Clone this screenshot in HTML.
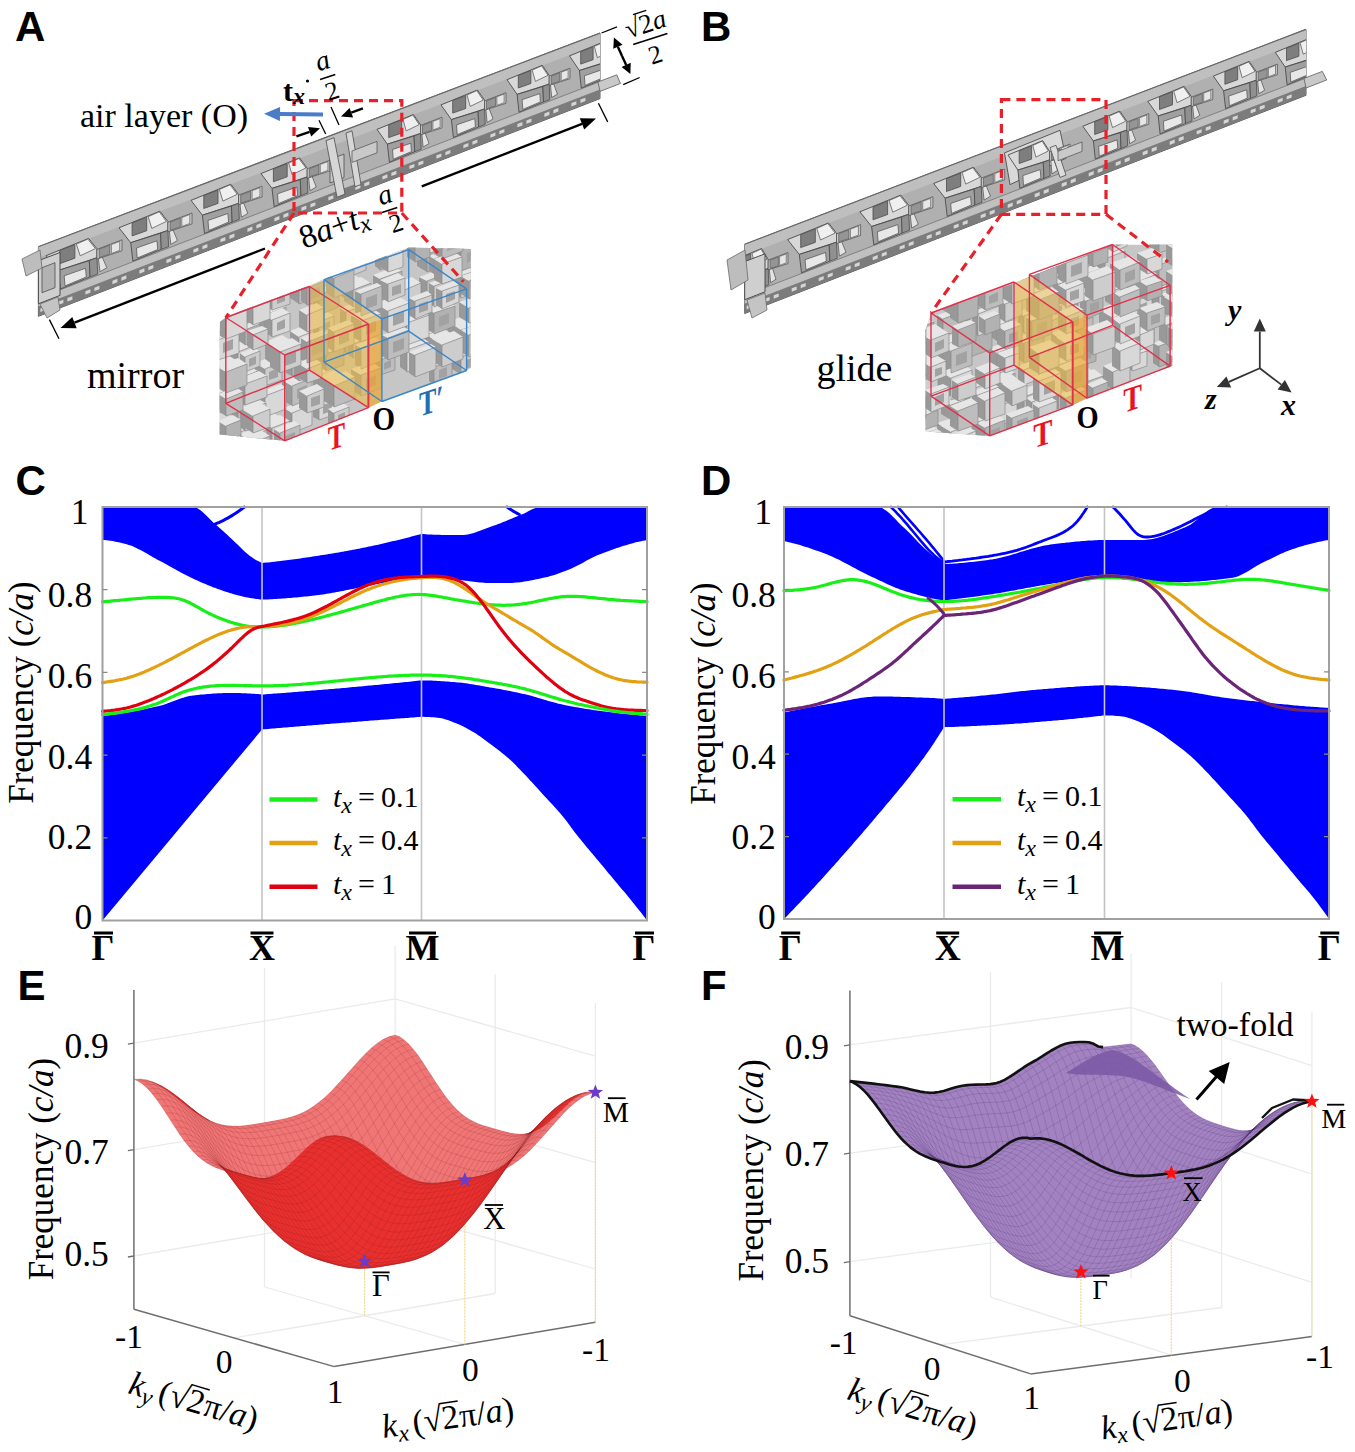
<!DOCTYPE html>
<html><head><meta charset="utf-8"><title>Figure</title>
<style>html,body{margin:0;padding:0;background:#fff;} svg{display:block;}</style>
</head><body>
<svg width="1355" height="1452" viewBox="0 0 1355 1452"><path d="M102.5 507L104.5 507L106.5 507L108.6 507L110.6 507L112.6 507L114.6 507L116.6 507L118.7 507L120.7 507L122.7 507L124.7 507L126.7 507L128.7 507L130.8 507L132.8 507L134.8 507L136.8 507L138.8 507L140.9 507L142.9 507L144.9 507L146.9 507L148.9 507L151 507L153 507L155 507L157 507L159 507L161.1 507L163.1 507L165.1 507L167.1 507L169.1 507L171.1 507L173.2 507L175.2 507L177.2 507L179.2 507L181.2 507L183.3 507L185.3 507L187.3 507L189.3 507L191.3 507L193.4 507L195.4 507.4L197.4 508.3L199.4 509.5L201.4 511L203.4 512.8L205.5 514.7L207.5 516.7L209.5 518.8L211.5 520.8L213.5 522.7L215.6 524.5L217.6 526.2L219.6 528L221.6 529.8L223.6 531.6L225.7 533.4L227.7 535.3L229.7 537.2L231.7 539.1L233.7 541L235.8 542.9L237.8 544.7L239.8 546.7L241.8 548.7L243.8 550.7L245.8 552.6L247.9 554.3L249.9 555.9L251.9 557.3L253.9 558.7L255.9 559.9L258 561.1L260 562.1L262 563L264 562.8L266 562.6L268.1 562.4L270.1 562.2L272.1 561.9L274.1 561.7L276.1 561.5L278.2 561.3L280.2 561L282.2 560.8L284.2 560.5L286.2 560.3L288.2 560L290.3 559.7L292.3 559.5L294.3 559.2L296.3 558.9L298.3 558.7L300.4 558.4L302.4 558.1L304.4 557.8L306.4 557.5L308.4 557.2L310.5 556.9L312.5 556.6L314.5 556.3L316.5 556L318.5 555.7L320.6 555.3L322.6 555L324.6 554.7L326.6 554.4L328.6 554L330.6 553.7L332.7 553.4L334.7 553L336.7 552.7L338.7 552.4L340.7 552L342.8 551.7L344.8 551.3L346.8 550.9L348.8 550.6L350.8 550.2L352.9 549.8L354.9 549.4L356.9 549.1L358.9 548.7L360.9 548.3L362.9 547.8L365 547.4L367 547L369 546.6L371 546.2L373 545.7L375.1 545.3L377.1 544.9L379.1 544.4L381.1 544L383.1 543.5L385.2 543L387.2 542.6L389.2 542.1L391.2 541.6L393.2 541.1L395.3 540.7L397.3 540.2L399.3 539.7L401.3 539.2L403.3 538.7L405.3 538.2L407.4 537.7L409.4 537.2L411.4 536.6L413.4 536.1L415.4 535.6L417.5 535.1L419.5 534.5L421.5 534L423.5 534.1L425.5 534.3L427.5 534.4L429.6 534.5L431.6 534.6L433.6 534.7L435.6 534.7L437.6 534.8L439.6 534.8L441.6 534.9L443.6 534.9L445.7 534.9L447.7 535L449.7 535L451.7 535L453.7 535L455.7 535L457.7 535L459.8 535L461.8 535L463.8 534.9L465.8 534.7L467.8 534.4L469.8 534L471.8 533.5L473.8 532.9L475.9 532.3L477.9 531.6L479.9 530.8L481.9 530.1L483.9 529.3L485.9 528.5L487.9 527.7L490 527L492 526.3L494 525.6L496 524.9L498 524.1L500 523.4L502 522.6L504 521.8L506.1 520.9L508.1 520.1L510.1 519.3L512.1 518.4L514.1 517.6L516.1 516.7L518.1 515.9L520.2 515.1L522.2 514.3L524.2 513.4L526.2 512.4L528.2 511.3L530.2 510.3L532.2 509.3L534.2 508.4L536.3 507.7L538.3 507.2L540.3 507L542.3 507L544.3 507L546.3 507L548.3 507L550.4 507L552.4 507L554.4 507L556.4 507L558.4 507L560.4 507L562.4 507L564.5 507L566.5 507L568.5 507L570.5 507L572.5 507L574.5 507L576.5 507L578.5 507L580.6 507L582.6 507L584.6 507L586.6 507L588.6 507L590.6 507L592.6 507L594.7 507L596.7 507L598.7 507L600.7 507L602.7 507L604.7 507L606.7 507L608.7 507L610.8 507L612.8 507L614.8 507L616.8 507L618.8 507L620.8 507L622.8 507L624.9 507L626.9 507L628.9 507L630.9 507L632.9 507L634.9 507L636.9 507L638.9 507L641 507L643 507L645 507L647 507L647 540L645 540.4L643 540.8L641 541.2L638.9 541.7L636.9 542.1L634.9 542.6L632.9 543.2L630.9 543.7L628.9 544.3L626.9 544.9L624.9 545.5L622.8 546.1L620.8 546.7L618.8 547.4L616.8 548.1L614.8 548.8L612.8 549.5L610.8 550.2L608.7 550.9L606.7 551.7L604.7 552.4L602.7 553.2L600.7 554L598.7 554.7L596.7 555.5L594.7 556.4L592.6 557.4L590.6 558.4L588.6 559.5L586.6 560.6L584.6 561.7L582.6 562.9L580.6 564L578.5 565.1L576.5 566.1L574.5 567.1L572.5 568.1L570.5 568.9L568.5 569.7L566.5 570.5L564.5 571.3L562.4 572.1L560.4 572.8L558.4 573.5L556.4 574.2L554.4 574.9L552.4 575.5L550.4 576.1L548.3 576.7L546.3 577.2L544.3 577.6L542.3 578.1L540.3 578.5L538.3 578.9L536.3 579.3L534.2 579.8L532.2 580.2L530.2 580.6L528.2 580.9L526.2 581.3L524.2 581.6L522.2 581.9L520.2 582.2L518.1 582.4L516.1 582.6L514.1 582.8L512.1 582.9L510.1 583L508.1 583L506.1 583L504 583L502 583L500 583L498 583L496 583L494 583L492 583L490 583L487.9 583L485.9 582.9L483.9 582.8L481.9 582.6L479.9 582.5L477.9 582.3L475.9 582.1L473.8 581.8L471.8 581.6L469.8 581.3L467.8 581.1L465.8 580.8L463.8 580.5L461.8 580.3L459.8 580L457.7 579.8L455.7 579.5L453.7 579.3L451.7 579.1L449.7 578.8L447.7 578.6L445.7 578.3L443.6 578.1L441.6 577.8L439.6 577.6L437.6 577.3L435.6 577L433.6 576.7L431.6 576.5L429.6 576.2L427.5 575.9L425.5 575.6L423.5 575.3L421.5 575L419.5 575.4L417.5 575.9L415.4 576.3L413.4 576.7L411.4 577.2L409.4 577.6L407.4 578L405.3 578.4L403.3 578.9L401.3 579.3L399.3 579.7L397.3 580.1L395.3 580.5L393.2 580.9L391.2 581.3L389.2 581.7L387.2 582.1L385.2 582.6L383.1 583L381.1 583.3L379.1 583.7L377.1 584.1L375.1 584.5L373 584.9L371 585.3L369 585.7L367 586.1L365 586.5L362.9 586.9L360.9 587.3L358.9 587.7L356.9 588.1L354.9 588.5L352.9 588.9L350.8 589.3L348.8 589.7L346.8 590.1L344.8 590.5L342.8 590.9L340.7 591.3L338.7 591.7L336.7 592.1L334.7 592.4L332.7 592.8L330.6 593.2L328.6 593.5L326.6 593.8L324.6 594.2L322.6 594.5L320.6 594.8L318.5 595L316.5 595.3L314.5 595.6L312.5 595.8L310.5 596L308.4 596.2L306.4 596.4L304.4 596.6L302.4 596.8L300.4 597L298.3 597.2L296.3 597.4L294.3 597.6L292.3 597.8L290.3 597.9L288.2 598.1L286.2 598.3L284.2 598.4L282.2 598.6L280.2 598.7L278.2 598.8L276.1 599L274.1 599.1L272.1 599.2L270.1 599.3L268.1 599.4L266 599.5L264 599.5L262 599.6L260 599.4L258 599.1L255.9 598.9L253.9 598.6L251.9 598.3L249.9 597.9L247.9 597.5L245.8 597.2L243.8 596.8L241.8 596.3L239.8 595.8L237.8 595.3L235.8 594.8L233.7 594.2L231.7 593.6L229.7 593L227.7 592.3L225.7 591.7L223.6 591L221.6 590.3L219.6 589.6L217.6 588.9L215.6 588.1L213.5 587.4L211.5 586.6L209.5 585.8L207.5 584.9L205.5 584.1L203.4 583.2L201.4 582.4L199.4 581.5L197.4 580.6L195.4 579.7L193.4 578.8L191.3 577.8L189.3 576.8L187.3 575.8L185.3 574.8L183.3 573.7L181.2 572.7L179.2 571.6L177.2 570.4L175.2 569.3L173.2 568.2L171.1 567.1L169.1 565.9L167.1 564.8L165.1 563.7L163.1 562.6L161.1 561.6L159 560.5L157 559.4L155 558.3L153 557.2L151 556L148.9 554.8L146.9 553.6L144.9 552.5L142.9 551.3L140.9 550.2L138.8 549.2L136.8 548.2L134.8 547.2L132.8 546.3L130.8 545.6L128.7 544.9L126.7 544.3L124.7 543.8L122.7 543.3L120.7 542.8L118.7 542.3L116.6 541.9L114.6 541.5L112.6 541.1L110.6 540.8L108.6 540.5L106.5 540.3L104.5 540.1L102.5 540Z" fill="#0000ff" stroke="none"/>
<path d="M213 525L215.1 524.1L217.2 523.2L219.3 522.3L221.4 521.3L223.5 520.3L225.6 519.2L227.7 518.1L229.8 516.9L231.9 515.6L234 514.3L236.1 512.9L238.2 511.5L240.3 510L242.4 508.5L244.5 507" fill="none" stroke="#0000ff" stroke-width="3" stroke-linejoin="round" stroke-linecap="round" />
<path d="M507 507L509.1 508.4L511.1 509.8L513.1 511.1L515.2 512.3L517.2 513.4L519.3 514.5" fill="none" stroke="#0000ff" stroke-width="3" stroke-linejoin="round" stroke-linecap="round" />
<path d="M102.5 715.8L104.5 715.6L106.5 715.4L108.6 715.2L110.6 714.9L112.6 714.7L114.6 714.4L116.6 714.2L118.7 713.9L120.7 713.6L122.7 713.2L124.7 712.9L126.7 712.6L128.7 712.2L130.8 711.8L132.8 711.5L134.8 711.1L136.8 710.7L138.8 710.3L140.9 709.9L142.9 709.5L144.9 709.1L146.9 708.6L148.9 708.2L151 707.7L153 707.3L155 706.8L157 706.4L159 705.9L161.1 705.4L163.1 704.9L165.1 704.3L167.1 703.6L169.1 702.8L171.1 702.1L173.2 701.3L175.2 700.5L177.2 699.8L179.2 699L181.2 698.3L183.3 697.7L185.3 697L187.3 696.5L189.3 696.1L191.3 695.7L193.4 695.4L195.4 695.2L197.4 695L199.4 694.8L201.4 694.6L203.4 694.4L205.5 694.2L207.5 694L209.5 693.9L211.5 693.7L213.5 693.6L215.6 693.5L217.6 693.3L219.6 693.2L221.6 693.2L223.6 693.1L225.7 693L227.7 693L229.7 693L231.7 693L233.7 693L235.8 693L237.8 693.1L239.8 693.1L241.8 693.2L243.8 693.3L245.8 693.3L247.9 693.4L249.9 693.6L251.9 693.7L253.9 693.8L255.9 694L258 694.1L260 694.3L262 694.5L264 694.4L266 694.2L268.1 694.1L270.1 693.9L272.1 693.8L274.1 693.6L276.1 693.5L278.2 693.3L280.2 693.2L282.2 693L284.2 692.9L286.2 692.7L288.2 692.5L290.3 692.4L292.3 692.2L294.3 692.1L296.3 691.9L298.3 691.7L300.4 691.6L302.4 691.4L304.4 691.3L306.4 691.1L308.4 690.9L310.5 690.8L312.5 690.6L314.5 690.4L316.5 690.3L318.5 690.1L320.6 689.9L322.6 689.8L324.6 689.6L326.6 689.4L328.6 689.3L330.6 689.1L332.7 688.9L334.7 688.7L336.7 688.6L338.7 688.4L340.7 688.2L342.8 688L344.8 687.9L346.8 687.7L348.8 687.5L350.8 687.3L352.9 687.1L354.9 686.9L356.9 686.8L358.9 686.6L360.9 686.4L362.9 686.2L365 686L367 685.8L369 685.6L371 685.4L373 685.3L375.1 685.1L377.1 684.9L379.1 684.7L381.1 684.5L383.1 684.3L385.2 684.1L387.2 683.9L389.2 683.7L391.2 683.5L393.2 683.3L395.3 683.1L397.3 682.9L399.3 682.7L401.3 682.5L403.3 682.3L405.3 682.1L407.4 681.9L409.4 681.7L411.4 681.5L413.4 681.2L415.4 681L417.5 680.8L419.5 680.6L421.5 680.4L423.5 680.4L425.5 680.5L427.5 680.5L429.6 680.6L431.6 680.6L433.6 680.7L435.6 680.8L437.6 680.9L439.6 681.1L441.6 681.2L443.6 681.3L445.7 681.5L447.7 681.6L449.7 681.8L451.7 681.9L453.7 682.1L455.7 682.2L457.7 682.4L459.8 682.6L461.8 682.8L463.8 683.1L465.8 683.3L467.8 683.6L469.8 683.9L471.8 684.2L473.8 684.6L475.9 684.9L477.9 685.2L479.9 685.6L481.9 685.9L483.9 686.3L485.9 686.7L487.9 687L490 687.4L492 687.7L494 688.1L496 688.4L498 688.8L500 689.1L502 689.5L504 689.9L506.1 690.3L508.1 690.7L510.1 691.1L512.1 691.5L514.1 691.9L516.1 692.3L518.1 692.8L520.2 693.2L522.2 693.7L524.2 694.1L526.2 694.6L528.2 695.1L530.2 695.6L532.2 696.1L534.2 696.7L536.3 697.3L538.3 697.9L540.3 698.5L542.3 699.1L544.3 699.7L546.3 700.3L548.3 700.9L550.4 701.5L552.4 702.1L554.4 702.6L556.4 703.1L558.4 703.7L560.4 704.1L562.4 704.6L564.5 705L566.5 705.4L568.5 705.8L570.5 706.2L572.5 706.6L574.5 706.9L576.5 707.3L578.5 707.6L580.6 708L582.6 708.3L584.6 708.7L586.6 709L588.6 709.3L590.6 709.6L592.6 709.9L594.7 710.2L596.7 710.4L598.7 710.7L600.7 711L602.7 711.2L604.7 711.5L606.7 711.8L608.7 712L610.8 712.3L612.8 712.5L614.8 712.8L616.8 713L618.8 713.2L620.8 713.5L622.8 713.7L624.9 713.9L626.9 714.1L628.9 714.3L630.9 714.5L632.9 714.7L634.9 714.9L636.9 715.1L638.9 715.3L641 715.4L643 715.6L645 715.8L647 715.9L647 920.5L645 917.8L643 915.2L641 912.6L638.9 910L636.9 907.5L634.9 904.9L632.9 902.4L630.9 899.9L628.9 897.5L626.9 895L624.9 892.6L622.8 890.3L620.8 887.9L618.8 885.5L616.8 883.1L614.8 880.7L612.8 878.3L610.8 875.8L608.7 873.4L606.7 871L604.7 868.6L602.7 866.1L600.7 863.7L598.7 861.3L596.7 858.9L594.7 856.5L592.6 854.1L590.6 851.7L588.6 849.3L586.6 846.9L584.6 844.5L582.6 842.1L580.6 839.6L578.5 837.1L576.5 834.5L574.5 831.9L572.5 829.2L570.5 826.5L568.5 823.8L566.5 821.1L564.5 818.5L562.4 816L560.4 813.6L558.4 811.3L556.4 809L554.4 806.8L552.4 804.6L550.4 802.5L548.3 800.3L546.3 798.1L544.3 795.9L542.3 793.7L540.3 791.5L538.3 789.3L536.3 787L534.2 784.8L532.2 782.6L530.2 780.4L528.2 778.2L526.2 776.1L524.2 774L522.2 771.9L520.2 769.7L518.1 767.7L516.1 765.6L514.1 763.6L512.1 761.6L510.1 759.7L508.1 757.9L506.1 756.2L504 754.5L502 752.9L500 751.3L498 749.7L496 748.2L494 746.7L492 745.2L490 743.7L487.9 742.2L485.9 740.7L483.9 739.2L481.9 737.7L479.9 736.3L477.9 734.9L475.9 733.6L473.8 732.3L471.8 731.2L469.8 730L467.8 728.9L465.8 727.8L463.8 726.7L461.8 725.7L459.8 724.8L457.7 723.9L455.7 723.1L453.7 722.4L451.7 721.6L449.7 720.8L447.7 720.1L445.7 719.4L443.6 718.8L441.6 718.3L439.6 717.9L437.6 717.7L435.6 717.5L433.6 717.3L431.6 717.2L429.6 717.1L427.5 717L425.5 716.9L423.5 716.8L421.5 716.8L419.5 716.9L417.5 717.1L415.4 717.2L413.4 717.4L411.4 717.6L409.4 717.7L407.4 717.9L405.3 718L403.3 718.2L401.3 718.3L399.3 718.5L397.3 718.6L395.3 718.8L393.2 718.9L391.2 719.1L389.2 719.2L387.2 719.4L385.2 719.5L383.1 719.7L381.1 719.8L379.1 720L377.1 720.2L375.1 720.3L373 720.5L371 720.6L369 720.8L367 720.9L365 721.1L362.9 721.3L360.9 721.4L358.9 721.6L356.9 721.7L354.9 721.9L352.9 722L350.8 722.2L348.8 722.4L346.8 722.5L344.8 722.7L342.8 722.8L340.7 723L338.7 723.2L336.7 723.3L334.7 723.5L332.7 723.6L330.6 723.8L328.6 724L326.6 724.1L324.6 724.3L322.6 724.5L320.6 724.6L318.5 724.8L316.5 725L314.5 725.1L312.5 725.3L310.5 725.4L308.4 725.6L306.4 725.8L304.4 725.9L302.4 726.1L300.4 726.3L298.3 726.4L296.3 726.6L294.3 726.8L292.3 726.9L290.3 727.1L288.2 727.3L286.2 727.5L284.2 727.6L282.2 727.8L280.2 728L278.2 728.1L276.1 728.3L274.1 728.5L272.1 728.6L270.1 728.8L268.1 729L266 729.2L264 729.3L262 729.5L102.5 920.5Z" fill="#0000ff" stroke="none"/>
<line x1="262" y1="507" x2="262" y2="920.5" stroke="#c4c4c4" stroke-width="1.6"/>
<line x1="421.5" y1="507" x2="421.5" y2="920.5" stroke="#c4c4c4" stroke-width="1.6"/>
<path d="M102.5 601.8L104.5 601.6L106.5 601.4L108.5 601.3L110.5 601.1L112.5 600.9L114.5 600.7L116.5 600.5L118.5 600.3L120.5 600.2L122.5 600L124.5 599.8L126.5 599.6L128.5 599.4L130.5 599.2L132.5 599L134.5 598.8L136.5 598.7L138.5 598.5L140.5 598.3L142.5 598.2L144.5 598L146.5 597.9L148.5 597.7L150.5 597.6L152.5 597.5L154.5 597.5L156.5 597.4L158.6 597.4L160.6 597.3L162.6 597.3L164.6 597.4L166.6 597.4L168.6 597.5L170.6 597.6L172.6 597.8L174.6 598L176.6 598.3L178.6 598.7L180.6 599.2L182.6 599.9L184.6 600.6L186.6 601.4L188.6 602.3L190.6 603.3L192.6 604.4L194.6 605.5L196.6 606.6L198.6 607.7L200.6 608.9L202.6 610L204.6 611.1L206.6 612.1L208.6 613.2L210.6 614.1L212.6 615.1L214.6 616L216.6 616.9L218.6 617.7L220.6 618.6L222.6 619.3L224.6 620.1L226.6 620.8L228.6 621.5L230.6 622.2L232.6 622.8L234.6 623.4L236.6 623.9L238.6 624.4L240.6 624.9L242.6 625.3L244.6 625.7L246.6 626L248.6 626.3L250.6 626.5L252.6 626.7L254.6 626.8L256.6 626.9L258.6 627L260.6 627L262.6 627L264.6 627L266.7 626.9L268.7 626.8L270.7 626.7L272.7 626.5L274.7 626.4L276.7 626.2L278.7 625.9L280.7 625.7L282.7 625.4L284.7 625.1L286.7 624.8L288.7 624.5L290.7 624.2L292.7 623.8L294.7 623.4L296.7 623L298.7 622.6L300.7 622.2L302.7 621.8L304.7 621.3L306.7 620.9L308.7 620.4L310.7 620L312.7 619.5L314.7 619L316.7 618.5L318.7 618L320.7 617.5L322.7 617L324.7 616.5L326.7 615.9L328.7 615.4L330.7 614.9L332.7 614.3L334.7 613.8L336.7 613.3L338.7 612.7L340.7 612.1L342.7 611.6L344.7 611L346.7 610.5L348.7 609.9L350.7 609.3L352.7 608.8L354.7 608.2L356.7 607.6L358.7 607L360.7 606.5L362.7 605.9L364.7 605.3L366.7 604.7L368.7 604.2L370.7 603.6L372.7 603L374.8 602.4L376.8 601.9L378.8 601.3L380.8 600.7L382.8 600.2L384.8 599.7L386.8 599.1L388.8 598.6L390.8 598.2L392.8 597.7L394.8 597.3L396.8 596.8L398.8 596.5L400.8 596.1L402.8 595.8L404.8 595.5L406.8 595.2L408.8 595L410.8 594.8L412.8 594.6L414.8 594.5L416.8 594.5L418.8 594.4L420.8 594.5L422.8 594.6L424.8 594.7L426.8 594.9L428.8 595.1L430.8 595.3L432.8 595.6L434.8 595.9L436.8 596.2L438.8 596.6L440.8 596.9L442.8 597.3L444.8 597.7L446.8 598L448.8 598.4L450.8 598.8L452.8 599.1L454.8 599.5L456.8 599.8L458.8 600.2L460.8 600.5L462.8 600.9L464.8 601.2L466.8 601.5L468.8 601.8L470.8 602.2L472.8 602.5L474.8 602.8L476.8 603L478.8 603.3L480.8 603.6L482.8 603.8L484.9 604.1L486.9 604.3L488.9 604.5L490.9 604.7L492.9 604.8L494.9 605L496.9 605.1L498.9 605.2L500.9 605.2L502.9 605.3L504.9 605.3L506.9 605.2L508.9 605.2L510.9 605.1L512.9 605L514.9 604.8L516.9 604.6L518.9 604.4L520.9 604.2L522.9 603.9L524.9 603.6L526.9 603.3L528.9 602.9L530.9 602.6L532.9 602.2L534.9 601.8L536.9 601.3L538.9 600.9L540.9 600.5L542.9 600.1L544.9 599.6L546.9 599.2L548.9 598.8L550.9 598.4L552.9 598.1L554.9 597.7L556.9 597.4L558.9 597.2L560.9 596.9L562.9 596.7L564.9 596.6L566.9 596.4L568.9 596.3L570.9 596.3L572.9 596.3L574.9 596.3L576.9 596.4L578.9 596.5L580.9 596.6L582.9 596.7L584.9 596.9L586.9 597.1L588.9 597.3L590.9 597.5L593 597.7L595 597.9L597 598.1L599 598.3L601 598.5L603 598.7L605 598.9L607 599.2L609 599.4L611 599.6L613 599.7L615 599.9L617 600.1L619 600.2L621 600.4L623 600.5L625 600.6L627 600.7L629 600.8L631 600.9L633 601L635 601.1L637 601.2L639 601.3L641 601.4L643 601.5L645 601.5L647 601.6" fill="none" stroke="#18ee18" stroke-width="3.2" stroke-linejoin="round" stroke-linecap="round" />
<path d="M102.5 682.6L104.5 682.3L106.5 682L108.5 681.7L110.5 681.4L112.5 681.1L114.5 680.8L116.5 680.4L118.5 680L120.5 679.6L122.5 679.2L124.5 678.7L126.5 678.2L128.5 677.6L130.5 677L132.5 676.4L134.5 675.7L136.5 675L138.5 674.3L140.5 673.5L142.5 672.7L144.5 671.9L146.5 671L148.5 670.1L150.5 669.2L152.5 668.3L154.5 667.4L156.5 666.4L158.6 665.4L160.6 664.4L162.6 663.4L164.6 662.4L166.6 661.3L168.6 660.3L170.6 659.2L172.6 658.2L174.6 657.1L176.6 656L178.6 654.9L180.6 653.8L182.6 652.7L184.6 651.7L186.6 650.6L188.6 649.5L190.6 648.4L192.6 647.3L194.6 646.2L196.6 645.2L198.6 644.1L200.6 643.1L202.6 642L204.6 641L206.6 640L208.6 639.1L210.6 638.1L212.6 637.2L214.6 636.3L216.6 635.4L218.6 634.5L220.6 633.7L222.6 632.9L224.6 632.2L226.6 631.5L228.6 630.8L230.6 630.2L232.6 629.6L234.6 629.1L236.6 628.6L238.6 628.2L240.6 627.8L242.6 627.4L244.6 627.2L246.6 626.9L248.6 626.8L250.6 626.7L252.6 626.6L254.6 626.6L256.6 626.5L258.6 626.5L260.6 626.5L262.6 626.5L264.6 626.4L266.7 626.3L268.7 626.2L270.7 626.1L272.7 625.9L274.7 625.7L276.7 625.5L278.7 625.2L280.7 624.9L282.7 624.6L284.7 624.3L286.7 623.9L288.7 623.5L290.7 623.1L292.7 622.6L294.7 622.1L296.7 621.6L298.7 621L300.7 620.4L302.7 619.8L304.7 619.1L306.7 618.4L308.7 617.7L310.7 616.9L312.7 616.1L314.7 615.3L316.7 614.4L318.7 613.6L320.7 612.6L322.7 611.7L324.7 610.8L326.7 609.8L328.7 608.8L330.7 607.8L332.7 606.8L334.7 605.8L336.7 604.7L338.7 603.7L340.7 602.7L342.7 601.6L344.7 600.6L346.7 599.6L348.7 598.5L350.7 597.5L352.7 596.5L354.7 595.5L356.7 594.6L358.7 593.6L360.7 592.7L362.7 591.8L364.7 590.9L366.7 590L368.7 589.2L370.7 588.4L372.7 587.6L374.8 586.9L376.8 586.2L378.8 585.5L380.8 584.9L382.8 584.3L384.8 583.7L386.8 583.2L388.8 582.7L390.8 582.2L392.8 581.7L394.8 581.3L396.8 580.9L398.8 580.5L400.8 580.1L402.8 579.8L404.8 579.5L406.8 579.2L408.8 578.9L410.8 578.7L412.8 578.5L414.8 578.3L416.8 578.1L418.8 577.9L420.8 577.8L422.8 577.6L424.8 577.5L426.8 577.4L428.8 577.4L430.8 577.3L432.8 577.4L434.8 577.5L436.8 577.6L438.8 577.8L440.8 578.1L442.8 578.5L444.8 579L446.8 579.6L448.8 580.2L450.8 581L452.8 581.9L454.8 582.8L456.8 583.8L458.8 584.9L460.8 586.1L462.8 587.4L464.8 588.7L466.8 590L468.8 591.4L470.8 592.8L472.8 594.2L474.8 595.7L476.8 597.1L478.8 598.5L480.8 599.9L482.8 601.3L484.9 602.6L486.9 603.8L488.9 605L490.9 606.2L492.9 607.4L494.9 608.6L496.9 609.7L498.9 610.9L500.9 612.1L502.9 613.3L504.9 614.5L506.9 615.7L508.9 616.9L510.9 618.1L512.9 619.3L514.9 620.5L516.9 621.7L518.9 622.9L520.9 624L522.9 625.2L524.9 626.3L526.9 627.5L528.9 628.7L530.9 629.9L532.9 631.2L534.9 632.5L536.9 633.8L538.9 635.2L540.9 636.6L542.9 638.1L544.9 639.5L546.9 640.9L548.9 642.3L550.9 643.7L552.9 645.1L554.9 646.4L556.9 647.6L558.9 648.8L560.9 650L562.9 651.2L564.9 652.4L566.9 653.5L568.9 654.7L570.9 655.9L572.9 657.1L574.9 658.3L576.9 659.5L578.9 660.7L580.9 661.9L582.9 663.1L584.9 664.3L586.9 665.5L588.9 666.7L590.9 667.8L593 668.9L595 669.9L597 671L599 672L601 672.9L603 673.8L605 674.7L607 675.5L609 676.3L611 677L613 677.7L615 678.3L617 678.9L619 679.4L621 679.8L623 680.3L625 680.6L627 680.9L629 681.2L631 681.4L633 681.6L635 681.7L637 681.9L639 682L641 682L643 682.1L645 682.2L647 682.2" fill="none" stroke="#e2a012" stroke-width="3.2" stroke-linejoin="round" stroke-linecap="round" />
<path d="M102.5 711.4L104.5 711.2L106.5 711L108.5 710.8L110.5 710.6L112.5 710.3L114.5 710.1L116.5 709.8L118.5 709.5L120.5 709.2L122.5 708.8L124.5 708.4L126.5 708L128.5 707.5L130.5 707L132.5 706.4L134.5 705.8L136.5 705.2L138.5 704.5L140.5 703.8L142.5 703.1L144.5 702.3L146.5 701.6L148.5 700.8L150.5 699.9L152.5 699.1L154.5 698.2L156.5 697.3L158.6 696.4L160.6 695.5L162.6 694.5L164.6 693.6L166.6 692.6L168.6 691.6L170.6 690.6L172.6 689.6L174.6 688.5L176.6 687.5L178.6 686.4L180.6 685.3L182.6 684.2L184.6 683.1L186.6 681.9L188.6 680.7L190.6 679.6L192.6 678.3L194.6 677.1L196.6 675.8L198.6 674.5L200.6 673.2L202.6 671.9L204.6 670.5L206.6 669.1L208.6 667.6L210.6 666.1L212.6 664.6L214.6 663L216.6 661.4L218.6 659.7L220.6 658L222.6 656.3L224.6 654.5L226.6 652.7L228.6 650.9L230.6 649L232.6 647.1L234.6 645.1L236.6 643.2L238.6 641.2L240.6 639.2L242.6 637.3L244.6 635.4L246.6 633.7L248.6 632.1L250.6 630.7L252.6 629.5L254.6 628.5L256.6 627.8L258.6 627.3L260.6 626.8L262.6 626.4L264.6 626L266.7 625.5L268.7 625.1L270.7 624.7L272.7 624.3L274.7 623.9L276.7 623.5L278.7 623.1L280.7 622.7L282.7 622.3L284.7 621.8L286.7 621.4L288.7 620.9L290.7 620.4L292.7 619.9L294.7 619.3L296.7 618.8L298.7 618.2L300.7 617.6L302.7 616.9L304.7 616.2L306.7 615.5L308.7 614.7L310.7 613.9L312.7 613.1L314.7 612.2L316.7 611.3L318.7 610.3L320.7 609.3L322.7 608.3L324.7 607.3L326.7 606.3L328.7 605.2L330.7 604.1L332.7 603L334.7 601.9L336.7 600.8L338.7 599.7L340.7 598.6L342.7 597.4L344.7 596.3L346.7 595.2L348.7 594.2L350.7 593.1L352.7 592L354.7 591L356.7 590L358.7 589L360.7 588.1L362.7 587.2L364.7 586.3L366.7 585.4L368.7 584.6L370.7 583.9L372.7 583.2L374.8 582.5L376.8 581.9L378.8 581.4L380.8 580.8L382.8 580.3L384.8 579.9L386.8 579.5L388.8 579.1L390.8 578.8L392.8 578.5L394.8 578.2L396.8 578L398.8 577.7L400.8 577.5L402.8 577.4L404.8 577.2L406.8 577.1L408.8 577L410.8 576.9L412.8 576.8L414.8 576.7L416.8 576.7L418.8 576.6L420.8 576.5L422.8 576.4L424.8 576.4L426.8 576.3L428.8 576.2L430.8 576.2L432.8 576.2L434.8 576.2L436.8 576.2L438.8 576.3L440.8 576.4L442.8 576.6L444.8 576.9L446.8 577.2L448.8 577.6L450.8 578.1L452.8 578.6L454.8 579.3L456.8 580L458.8 580.9L460.8 581.9L462.8 583L464.8 584.3L466.8 585.8L468.8 587.5L470.8 589.4L472.8 591.4L474.8 593.6L476.8 595.9L478.8 598.4L480.8 601L482.8 603.6L484.9 606.4L486.9 609.2L488.9 612L490.9 614.9L492.9 617.7L494.9 620.6L496.9 623.4L498.9 626.2L500.9 628.9L502.9 631.5L504.9 634L506.9 636.5L508.9 638.9L510.9 641.3L512.9 643.6L514.9 645.8L516.9 648L518.9 650.2L520.9 652.3L522.9 654.4L524.9 656.4L526.9 658.4L528.9 660.3L530.9 662.3L532.9 664.2L534.9 666.1L536.9 668L538.9 669.9L540.9 671.7L542.9 673.6L544.9 675.4L546.9 677.2L548.9 678.9L550.9 680.6L552.9 682.3L554.9 683.9L556.9 685.5L558.9 687.1L560.9 688.5L562.9 689.9L564.9 691.3L566.9 692.5L568.9 693.7L570.9 694.8L572.9 695.8L574.9 696.8L576.9 697.6L578.9 698.4L580.9 699.2L582.9 699.9L584.9 700.6L586.9 701.3L588.9 701.9L590.9 702.6L593 703.2L595 703.9L597 704.5L599 705.1L601 705.7L603 706.2L605 706.7L607 707.2L609 707.7L611 708L613 708.4L615 708.7L617 709L619 709.2L621 709.4L623 709.6L625 709.8L627 709.9L629 710.1L631 710.2L633 710.2L635 710.3L637 710.4L639 710.4L641 710.4L643 710.5L645 710.5L647 710.5" fill="none" stroke="#e00010" stroke-width="3.2" stroke-linejoin="round" stroke-linecap="round" />
<path d="M102.5 714.7L104.5 714.5L106.5 714.2L108.5 713.9L110.5 713.7L112.5 713.4L114.5 713.2L116.5 712.9L118.5 712.6L120.5 712.3L122.5 712L124.5 711.7L126.5 711.4L128.5 711L130.5 710.7L132.5 710.3L134.5 709.9L136.5 709.5L138.5 709.1L140.5 708.6L142.5 708.1L144.5 707.6L146.5 707L148.5 706.4L150.5 705.8L152.5 705.1L154.5 704.4L156.5 703.7L158.6 702.9L160.6 702.1L162.6 701.2L164.6 700.3L166.6 699.4L168.6 698.5L170.6 697.5L172.6 696.6L174.6 695.7L176.6 694.8L178.6 693.9L180.6 693.1L182.6 692.3L184.6 691.6L186.6 690.9L188.6 690.3L190.6 689.7L192.6 689.2L194.6 688.7L196.6 688.3L198.6 687.9L200.6 687.5L202.6 687.2L204.6 686.9L206.6 686.6L208.6 686.4L210.6 686.2L212.6 686L214.6 685.9L216.6 685.7L218.6 685.6L220.6 685.5L222.6 685.5L224.6 685.4L226.6 685.4L228.6 685.4L230.6 685.4L232.6 685.4L234.6 685.4L236.6 685.4L238.6 685.5L240.6 685.5L242.6 685.5L244.6 685.6L246.6 685.6L248.6 685.7L250.6 685.7L252.6 685.8L254.6 685.8L256.6 685.8L258.6 685.9L260.6 685.9L262.6 685.9L264.6 685.9L266.7 685.9L268.7 685.9L270.7 685.8L272.7 685.8L274.7 685.7L276.7 685.7L278.7 685.6L280.7 685.5L282.7 685.4L284.7 685.4L286.7 685.3L288.7 685.1L290.7 685L292.7 684.9L294.7 684.8L296.7 684.6L298.7 684.5L300.7 684.4L302.7 684.2L304.7 684L306.7 683.9L308.7 683.7L310.7 683.5L312.7 683.4L314.7 683.2L316.7 683L318.7 682.8L320.7 682.6L322.7 682.4L324.7 682.2L326.7 682L328.7 681.8L330.7 681.6L332.7 681.4L334.7 681.2L336.7 681L338.7 680.8L340.7 680.6L342.7 680.4L344.7 680.2L346.7 680L348.7 679.8L350.7 679.6L352.7 679.4L354.7 679.2L356.7 679L358.7 678.8L360.7 678.6L362.7 678.4L364.7 678.2L366.7 678L368.7 677.8L370.7 677.6L372.7 677.5L374.8 677.3L376.8 677.1L378.8 677L380.8 676.8L382.8 676.7L384.8 676.5L386.8 676.4L388.8 676.2L390.8 676.1L392.8 676L394.8 675.9L396.8 675.8L398.8 675.7L400.8 675.6L402.8 675.5L404.8 675.4L406.8 675.3L408.8 675.3L410.8 675.2L412.8 675.2L414.8 675.1L416.8 675.1L418.8 675.1L420.8 675.1L422.8 675.1L424.8 675.1L426.8 675.2L428.8 675.2L430.8 675.2L432.8 675.3L434.8 675.4L436.8 675.5L438.8 675.6L440.8 675.7L442.8 675.8L444.8 675.9L446.8 676.1L448.8 676.3L450.8 676.4L452.8 676.6L454.8 676.8L456.8 677.1L458.8 677.3L460.8 677.5L462.8 677.8L464.8 678.1L466.8 678.3L468.8 678.6L470.8 678.9L472.8 679.2L474.8 679.6L476.8 679.9L478.8 680.2L480.8 680.5L482.8 680.9L484.9 681.2L486.9 681.5L488.9 681.9L490.9 682.2L492.9 682.5L494.9 682.9L496.9 683.2L498.9 683.6L500.9 683.9L502.9 684.3L504.9 684.6L506.9 685L508.9 685.4L510.9 685.8L512.9 686.2L514.9 686.6L516.9 687L518.9 687.5L520.9 688L522.9 688.4L524.9 688.9L526.9 689.5L528.9 690L530.9 690.6L532.9 691.1L534.9 691.7L536.9 692.3L538.9 692.9L540.9 693.6L542.9 694.2L544.9 694.8L546.9 695.4L548.9 696.1L550.9 696.7L552.9 697.3L554.9 697.9L556.9 698.5L558.9 699.1L560.9 699.7L562.9 700.2L564.9 700.8L566.9 701.3L568.9 701.8L570.9 702.3L572.9 702.8L574.9 703.3L576.9 703.7L578.9 704.2L580.9 704.6L582.9 705L584.9 705.5L586.9 705.9L588.9 706.3L590.9 706.7L593 707.1L595 707.5L597 707.9L599 708.3L601 708.6L603 709L605 709.4L607 709.8L609 710.1L611 710.5L613 710.8L615 711.1L617 711.4L619 711.7L621 712L623 712.2L625 712.4L627 712.7L629 712.9L631 713L633 713.2L635 713.3L637 713.5L639 713.6L641 713.7L643 713.9L645 714L647 714.1" fill="none" stroke="#18ee18" stroke-width="3.2" stroke-linejoin="round" stroke-linecap="round" />
<rect x="102.5" y="507" width="544.5" height="413.5" fill="none" stroke="#a0a0a0" stroke-width="2"/>
<path d="M102.5 837.8h5M647 837.8h-5M102.5 755.1h5M647 755.1h-5M102.5 672.4h5M647 672.4h-5M102.5 589.7h5M647 589.7h-5" stroke="#8a8a8a" stroke-width="1.3" fill="none"/>
<text x="92.2" y="607.3" font-family="'Liberation Serif', serif" font-size="35.5" font-weight="normal" font-style="normal" text-anchor="end" fill="#000" >0.8</text>
<text x="92.2" y="687.6" font-family="'Liberation Serif', serif" font-size="35.5" font-weight="normal" font-style="normal" text-anchor="end" fill="#000" >0.6</text>
<text x="92.2" y="768.6" font-family="'Liberation Serif', serif" font-size="35.5" font-weight="normal" font-style="normal" text-anchor="end" fill="#000" >0.4</text>
<text x="92.2" y="848.6" font-family="'Liberation Serif', serif" font-size="35.5" font-weight="normal" font-style="normal" text-anchor="end" fill="#000" >0.2</text>
<text x="92.2" y="928.6" font-family="'Liberation Serif', serif" font-size="35.5" font-weight="normal" font-style="normal" text-anchor="end" fill="#000" >0</text>
<text x="88.5" y="524.1" font-family="'Liberation Serif', serif" font-size="35.5" font-weight="normal" font-style="normal" text-anchor="end" fill="#000" >1</text>
<text x="103.0" y="960" font-family="'Liberation Serif', serif" font-size="36" font-weight="bold" font-style="normal" text-anchor="middle" fill="#000" >Γ</text>
<rect x="94.0" y="931.5" width="19" height="3" fill="#000"/>
<text x="262" y="960" font-family="'Liberation Serif', serif" font-size="36" font-weight="bold" font-style="normal" text-anchor="middle" fill="#000" >X</text>
<rect x="250.5" y="931.5" width="23" height="3" fill="#000"/>
<text x="422.5" y="960" font-family="'Liberation Serif', serif" font-size="36" font-weight="bold" font-style="normal" text-anchor="middle" fill="#000" >M</text>
<rect x="409.0" y="931.5" width="27" height="3" fill="#000"/>
<text x="644" y="960" font-family="'Liberation Serif', serif" font-size="36" font-weight="bold" font-style="normal" text-anchor="middle" fill="#000" >Γ</text>
<rect x="635.0" y="931.5" width="19" height="3" fill="#000"/>
<line x1="269.5" y1="799.5" x2="317.5" y2="799.5" stroke="#18ee18" stroke-width="4.5"/>
<text y="806.5" font-family="'Liberation Serif', serif" font-size="30"><tspan x="333" font-style="italic">t</tspan><tspan font-style="italic" font-size="24" dy="6">x</tspan><tspan dy="-6" dx="6">=</tspan><tspan dx="6">0.1</tspan></text>
<line x1="269.5" y1="843" x2="317.5" y2="843" stroke="#e2a012" stroke-width="4.5"/>
<text y="850" font-family="'Liberation Serif', serif" font-size="30"><tspan x="333" font-style="italic">t</tspan><tspan font-style="italic" font-size="24" dy="6">x</tspan><tspan dy="-6" dx="6">=</tspan><tspan dx="6">0.4</tspan></text>
<line x1="269.5" y1="886.7" x2="317.5" y2="886.7" stroke="#e00010" stroke-width="4.5"/>
<text y="893.7" font-family="'Liberation Serif', serif" font-size="30"><tspan x="333" font-style="italic">t</tspan><tspan font-style="italic" font-size="24" dy="6">x</tspan><tspan dy="-6" dx="6">=</tspan><tspan dx="6">1</tspan></text>
<text x="0" y="0" transform="translate(32.5,692.5) rotate(-90)" font-family="'Liberation Serif', serif" font-size="35" text-anchor="middle">Frequency (<tspan font-style="italic">c/a</tspan>)</text>
<path d="M784 507L786 507L788 507L790 507L792 507L794 507L796 507L798 507L800 507L802 507L804 507L806 507L808 507L810 507L812 507L814 507L816 507L818 507L820 507L822 507L824 507L826 507L828 507L830 507L832 507L834 507L836 507L838 507L840 507L842 507L844 507L846 507L848 507L850 507L852 507L854 507L856 507L858 507L860 507L862 507L864 507L866 507L868 507L870 507L872 507L874 507L876 507L878 507L880 507.4L882 508.1L884 509.2L886 510.5L888 512.1L890 513.8L892 515.7L894 517.7L896 519.8L898 521.9L900 523.9L902 525.9L904 527.7L906 529.5L908 531.5L910 533.5L912 535.6L914 537.7L916 539.8L918 541.9L920 544L922 546L924 548L926 549.8L928 551.5L930 553.2L932 554.9L934 556.5L936 558.1L938 559.6L940 561.1L942 562.6L944 564L946 563.9L948 563.9L950 563.8L952 563.7L954 563.5L956 563.4L958 563.3L960 563.1L962.1 562.9L964.1 562.7L966.1 562.5L968.1 562.3L970.1 562.1L972.1 561.9L974.1 561.7L976.1 561.4L978.1 561.2L980.1 561L982.1 560.7L984.1 560.4L986.1 560.2L988.1 559.9L990.1 559.6L992.1 559.4L994.2 559L996.2 558.7L998.2 558.3L1000.2 557.8L1002.2 557.3L1004.2 556.8L1006.2 556.3L1008.2 555.7L1010.2 555.2L1012.2 554.6L1014.2 554L1016.2 553.4L1018.2 552.8L1020.2 552.1L1022.2 551.5L1024.2 550.9L1026.3 550.3L1028.3 549.7L1030.3 549.1L1032.3 548.5L1034.3 548L1036.3 547.4L1038.3 546.9L1040.3 546.4L1042.3 546L1044.3 545.6L1046.3 545.2L1048.3 544.9L1050.3 544.6L1052.3 544.3L1054.3 544.1L1056.3 543.8L1058.4 543.6L1060.4 543.3L1062.4 543.1L1064.4 542.9L1066.4 542.6L1068.4 542.4L1070.4 542.2L1072.4 542L1074.4 541.8L1076.4 541.6L1078.4 541.4L1080.4 541.2L1082.4 541L1084.4 540.9L1086.4 540.7L1088.5 540.6L1090.5 540.5L1092.5 540.4L1094.5 540.3L1096.5 540.2L1098.5 540.1L1100.5 540.1L1102.5 540L1104.5 540L1106.5 540L1108.5 540L1110.5 540L1112.5 540L1114.5 540L1116.5 540L1118.5 540L1120.5 540L1122.5 540L1124.5 540L1126.5 540L1128.6 540L1130.6 540L1132.6 540L1134.6 540L1136.6 540L1138.6 540L1140.6 540L1142.6 540L1144.6 539.9L1146.6 539.8L1148.6 539.5L1150.6 539.2L1152.6 538.9L1154.6 538.4L1156.6 537.9L1158.6 537.4L1160.6 536.8L1162.6 536.2L1164.6 535.5L1166.6 534.8L1168.6 534L1170.6 533.2L1172.7 532.4L1174.7 531.6L1176.7 530.8L1178.7 529.9L1180.7 529.1L1182.7 528.2L1184.7 527.4L1186.7 526.5L1188.7 525.6L1190.7 524.4L1192.7 523.1L1194.7 521.5L1196.7 519.9L1198.7 518.2L1200.7 516.4L1202.7 514.7L1204.7 513.1L1206.7 511.5L1208.7 510.1L1210.7 508.9L1212.7 508L1214.7 507.3L1216.8 507L1218.8 507L1220.8 507L1222.8 507L1224.8 507L1226.8 507L1228.8 507L1230.8 507L1232.8 507L1234.8 507L1236.8 507L1238.8 507L1240.8 507L1242.8 507L1244.8 507L1246.8 507L1248.8 507L1250.8 507L1252.8 507L1254.8 507L1256.8 507L1258.8 507L1260.8 507L1262.9 507L1264.9 507L1266.9 507L1268.9 507L1270.9 507L1272.9 507L1274.9 507L1276.9 507L1278.9 507L1280.9 507L1282.9 507L1284.9 507L1286.9 507L1288.9 507L1290.9 507L1292.9 507L1294.9 507L1296.9 507L1298.9 507L1300.9 507L1302.9 507L1304.9 507L1307 507L1309 507L1311 507L1313 507L1315 507L1317 507L1319 507L1321 507L1323 507L1325 507L1327 507L1329 507L1329 540L1327 540.3L1325 540.6L1323 541L1321 541.4L1319 541.8L1317 542.2L1315 542.7L1313 543.2L1311 543.7L1309 544.2L1307 544.8L1304.9 545.3L1302.9 545.9L1300.9 546.5L1298.9 547.1L1296.9 547.7L1294.9 548.4L1292.9 549L1290.9 549.7L1288.9 550.4L1286.9 551.2L1284.9 552.1L1282.9 552.9L1280.9 553.8L1278.9 554.8L1276.9 555.7L1274.9 556.7L1272.9 557.7L1270.9 558.7L1268.9 559.7L1266.9 560.6L1264.9 561.6L1262.9 562.6L1260.8 563.6L1258.8 564.7L1256.8 565.8L1254.8 567L1252.8 568.3L1250.8 569.5L1248.8 570.7L1246.8 571.9L1244.8 573.1L1242.8 574.1L1240.8 575.1L1238.8 576L1236.8 576.7L1234.8 577.3L1232.8 577.7L1230.8 578L1228.8 578.2L1226.8 578.5L1224.8 578.8L1222.8 579L1220.8 579.3L1218.8 579.5L1216.8 579.7L1214.7 579.9L1212.7 580.1L1210.7 580.3L1208.7 580.5L1206.7 580.7L1204.7 580.9L1202.7 581.1L1200.7 581.2L1198.7 581.4L1196.7 581.5L1194.7 581.6L1192.7 581.7L1190.7 581.8L1188.7 581.9L1186.7 582L1184.7 582.1L1182.7 582.1L1180.7 582.2L1178.7 582.2L1176.7 582.3L1174.7 582.3L1172.7 582.3L1170.6 582.3L1168.6 582.3L1166.6 582.3L1164.6 582.2L1162.6 582.2L1160.6 582.1L1158.6 582.1L1156.6 582L1154.6 581.9L1152.6 581.8L1150.6 581.7L1148.6 581.6L1146.6 581.4L1144.6 581.3L1142.6 581.1L1140.6 581L1138.6 580.8L1136.6 580.6L1134.6 580.4L1132.6 580.2L1130.6 580L1128.6 579.7L1126.5 579.5L1124.5 579.3L1122.5 579L1120.5 578.7L1118.5 578.4L1116.5 578.2L1114.5 577.9L1112.5 577.5L1110.5 577.2L1108.5 576.9L1106.5 576.6L1104.5 576.2L1102.5 576.5L1100.5 576.7L1098.5 577L1096.5 577.2L1094.5 577.5L1092.5 577.8L1090.5 578L1088.5 578.3L1086.4 578.6L1084.4 578.9L1082.4 579.1L1080.4 579.4L1078.4 579.7L1076.4 580L1074.4 580.3L1072.4 580.6L1070.4 580.9L1068.4 581.2L1066.4 581.5L1064.4 581.8L1062.4 582.1L1060.4 582.4L1058.4 582.7L1056.3 583L1054.3 583.3L1052.3 583.6L1050.3 583.9L1048.3 584.2L1046.3 584.6L1044.3 584.9L1042.3 585.2L1040.3 585.6L1038.3 585.9L1036.3 586.3L1034.3 586.7L1032.3 587L1030.3 587.4L1028.3 587.8L1026.3 588.1L1024.2 588.5L1022.2 588.9L1020.2 589.3L1018.2 589.6L1016.2 590L1014.2 590.4L1012.2 590.7L1010.2 591.1L1008.2 591.5L1006.2 591.8L1004.2 592.2L1002.2 592.5L1000.2 592.9L998.2 593.2L996.2 593.5L994.2 593.8L992.1 594.2L990.1 594.5L988.1 594.8L986.1 595L984.1 595.3L982.1 595.6L980.1 595.9L978.1 596.2L976.1 596.5L974.1 596.7L972.1 597L970.1 597.3L968.1 597.6L966.1 597.8L964.1 598.1L962.1 598.3L960 598.6L958 598.8L956 599.1L954 599.3L952 599.6L950 599.8L948 600L946 600.3L944 600.5L942 600.2L940 599.9L938 599.5L936 599.2L934 598.8L932 598.4L930 597.9L928 597.5L926 597L924 596.5L922 596L920 595.4L918 594.9L916 594.3L914 593.8L912 593.2L910 592.6L908 592L906 591.4L904 590.7L902 590.1L900 589.4L898 588.6L896 587.9L894 587L892 586.2L890 585.3L888 584.4L886 583.5L884 582.6L882 581.6L880 580.7L878 579.7L876 578.8L874 577.8L872 576.9L870 576L868 575L866 574L864 573L862 572L860 571L858 569.9L856 568.8L854 567.7L852 566.7L850 565.6L848 564.5L846 563.4L844 562.4L842 561.4L840 560.3L838 559.3L836 558.4L834 557.4L832 556.5L830 555.7L828 554.8L826 554L824 553.3L822 552.5L820 551.8L818 551.1L816 550.4L814 549.7L812 549L810 548.3L808 547.6L806 547L804 546.4L802 545.7L800 545.1L798 544.6L796 544L794 543.4L792 542.9L790 542.4L788 541.9L786 541.4L784 541Z" fill="#0000ff" stroke="none"/>
<path d="M891 507L893 509.1L895.1 511.2L897.1 513.4L899.2 515.5L901.2 517.7L903.2 520L905.3 522.3L907.3 524.7L909.3 527.1L911.4 529.6L913.4 532L915.5 534.5L917.5 537L919.5 539.4L921.6 541.9L923.6 544.2L925.7 546.6L927.7 548.8L929.7 551L931.8 553L933.8 554.9L935.8 556.7L937.9 558.4L939.9 560L942 561.5L944 563" fill="none" stroke="#0000ff" stroke-width="2.6" stroke-linejoin="round" stroke-linecap="round" />
<path d="M898 507L900 509.3L902 511.6L904 514L906 516.3L908 518.6L910 520.9L912 523.1L914 525.4L916 527.7L918 530L920 532.2L922 534.5L924 536.8L926 539.2L928 541.5L930 543.9L932 546.3L934 548.7L936 551.2L938 553.6L940 556.1L942 558.5L944 561" fill="none" stroke="#0000ff" stroke-width="2.6" stroke-linejoin="round" stroke-linecap="round" />
<path d="M944 562L946 561.8L948 561.5L950.1 561.3L952.1 561.1L954.1 560.8L956.1 560.6L958.1 560.4L960.1 560.1L962.2 559.9L964.2 559.6L966.2 559.4L968.2 559.1L970.2 558.9L972.3 558.6L974.3 558.3L976.3 558.1L978.3 557.8L980.3 557.5L982.3 557.2L984.4 556.9L986.4 556.6L988.4 556.3L990.4 555.9L992.4 555.6L994.5 555.2L996.5 554.9L998.5 554.5L1000.5 554.1L1002.5 553.7L1004.5 553.3L1006.6 552.9L1008.6 552.4L1010.6 551.9L1012.6 551.4L1014.6 550.8L1016.7 550.3L1018.7 549.7L1020.7 549L1022.7 548.4L1024.7 547.7L1026.8 547L1028.8 546.2L1030.8 545.5L1032.8 544.7L1034.8 543.9L1036.8 543.1L1038.9 542.3L1040.9 541.6L1042.9 540.8L1044.9 540L1046.9 539.3L1049 538.5L1051 537.8L1053 537L1055 536.2L1057 535.4L1059 534.5L1061.1 533.5L1063.1 532.5L1065.1 531.3L1067.1 530.1L1069.1 528.7L1071.2 527.2L1073.2 525.5L1075.2 523.6L1077.2 521.4L1079.2 519L1081.2 516.3L1083.3 513.3L1085.3 510.2L1087.3 507" fill="none" stroke="#0000ff" stroke-width="2.8" stroke-linejoin="round" stroke-linecap="round" />
<path d="M1113 507L1115 509.1L1117.1 511.2L1119.1 513.3L1121.1 515.5L1123.1 517.8L1125.2 520.2L1127.2 522.7L1129.2 525.2L1131.2 527.7L1133.3 530.1L1135.3 532.2L1137.3 534L1139.3 535.3L1141.4 536.2L1143.4 536.8L1145.4 537L1147.5 537L1149.5 536.9L1151.5 536.7L1153.5 536.3L1155.6 535.9L1157.6 535.4L1159.6 534.8L1161.6 534.2L1163.7 533.5L1165.7 532.7L1167.7 531.9L1169.8 531.1L1171.8 530.3L1173.8 529.4L1175.8 528.5L1177.9 527.6L1179.9 526.7L1181.9 525.8L1183.9 524.8L1186 523.8L1188 522.8L1190 521.8L1192 520.7L1194.1 519.6L1196.1 518.6L1198.1 517.5L1200.2 516.5L1202.2 515.5L1204.2 514.5L1206.2 513.6L1208.3 512.7L1210.3 511.9L1212.3 511.1L1214.3 510.4L1216.4 509.8L1218.4 509.2L1220.4 508.6L1222.4 508.1L1224.5 507.5L1226.5 507" fill="none" stroke="#0000ff" stroke-width="2.8" stroke-linejoin="round" stroke-linecap="round" />
<path d="M784 712.5L786 712.1L788 711.7L790 711.3L792 710.8L794 710.4L796 710L798 709.6L800 709.2L802 708.8L804 708.5L806 708.1L808 707.7L810 707.3L812 706.9L814 706.6L816 706.2L818 705.8L820 705.5L822 705.1L824 704.8L826 704.4L828 704.1L830 703.7L832 703.4L834 703L836 702.7L838 702.3L840 701.9L842 701.5L844 701.1L846 700.7L848 700.3L850 699.9L852 699.5L854 699.1L856 698.8L858 698.4L860 698.1L862 697.8L864 697.5L866 697.3L868 697L870 696.9L872 696.7L874 696.6L876 696.5L878 696.5L880 696.5L882 696.5L884 696.5L886 696.5L888 696.6L890 696.6L892 696.6L894 696.7L896 696.7L898 696.8L900 696.8L902 696.9L904 696.9L906 697L908 697.1L910 697.1L912 697.2L914 697.3L916 697.4L918 697.4L920 697.5L922 697.6L924 697.7L926 697.7L928 697.8L930 697.9L932 698L934 698.1L936 698.3L938 698.4L940 698.5L942 698.7L944 698.8L946 698.7L948 698.5L950 698.4L952 698.2L954 698.1L956 697.9L958 697.8L960 697.6L962.1 697.4L964.1 697.3L966.1 697.1L968.1 696.9L970.1 696.7L972.1 696.6L974.1 696.4L976.1 696.2L978.1 696L980.1 695.8L982.1 695.6L984.1 695.4L986.1 695.2L988.1 695L990.1 694.8L992.1 694.6L994.2 694.4L996.2 694.2L998.2 694L1000.2 693.7L1002.2 693.5L1004.2 693.2L1006.2 693L1008.2 692.7L1010.2 692.4L1012.2 692.2L1014.2 691.9L1016.2 691.7L1018.2 691.5L1020.2 691.3L1022.2 691.1L1024.2 690.9L1026.3 690.7L1028.3 690.5L1030.3 690.3L1032.3 690.1L1034.3 689.9L1036.3 689.8L1038.3 689.6L1040.3 689.4L1042.3 689.2L1044.3 689.1L1046.3 688.9L1048.3 688.7L1050.3 688.5L1052.3 688.4L1054.3 688.2L1056.3 688.1L1058.4 687.9L1060.4 687.7L1062.4 687.6L1064.4 687.4L1066.4 687.3L1068.4 687.1L1070.4 687L1072.4 686.9L1074.4 686.7L1076.4 686.6L1078.4 686.5L1080.4 686.3L1082.4 686.2L1084.4 686.1L1086.4 686L1088.5 685.9L1090.5 685.8L1092.5 685.7L1094.5 685.6L1096.5 685.5L1098.5 685.4L1100.5 685.3L1102.5 685.3L1104.5 685.2L1106.5 685.2L1108.5 685.3L1110.5 685.4L1112.5 685.4L1114.5 685.5L1116.5 685.6L1118.5 685.7L1120.5 685.8L1122.5 685.9L1124.5 686L1126.5 686.1L1128.6 686.2L1130.6 686.3L1132.6 686.5L1134.6 686.6L1136.6 686.7L1138.6 686.9L1140.6 687L1142.6 687.2L1144.6 687.3L1146.6 687.5L1148.6 687.6L1150.6 687.8L1152.6 688L1154.6 688.1L1156.6 688.3L1158.6 688.5L1160.6 688.7L1162.6 688.8L1164.6 689L1166.6 689.2L1168.6 689.4L1170.6 689.6L1172.7 689.8L1174.7 690L1176.7 690.2L1178.7 690.4L1180.7 690.7L1182.7 690.9L1184.7 691.2L1186.7 691.5L1188.7 691.8L1190.7 692.1L1192.7 692.4L1194.7 692.8L1196.7 693.1L1198.7 693.4L1200.7 693.8L1202.7 694.1L1204.7 694.5L1206.7 694.8L1208.7 695.2L1210.7 695.5L1212.7 695.9L1214.7 696.2L1216.8 696.5L1218.8 696.8L1220.8 697.2L1222.8 697.5L1224.8 697.8L1226.8 698L1228.8 698.3L1230.8 698.6L1232.8 698.8L1234.8 699.1L1236.8 699.3L1238.8 699.5L1240.8 699.8L1242.8 700L1244.8 700.2L1246.8 700.4L1248.8 700.7L1250.8 700.9L1252.8 701.1L1254.8 701.3L1256.8 701.6L1258.8 701.8L1260.8 702L1262.9 702.2L1264.9 702.4L1266.9 702.6L1268.9 702.8L1270.9 703.1L1272.9 703.3L1274.9 703.5L1276.9 703.7L1278.9 703.9L1280.9 704.1L1282.9 704.2L1284.9 704.4L1286.9 704.6L1288.9 704.8L1290.9 705L1292.9 705.2L1294.9 705.4L1296.9 705.5L1298.9 705.7L1300.9 705.9L1302.9 706L1304.9 706.2L1307 706.4L1309 706.5L1311 706.7L1313 706.8L1315 707L1317 707.1L1319 707.3L1321 707.4L1323 707.5L1325 707.7L1327 707.8L1329 707.9L1329 919L1327 916.1L1325 913.2L1323 910.4L1321 907.7L1319 905L1317 902.3L1315 899.7L1313 897.2L1311 894.7L1309 892.3L1307 890L1304.9 887.6L1302.9 885.3L1300.9 882.9L1298.9 880.6L1296.9 878.2L1294.9 875.7L1292.9 873.3L1290.9 870.9L1288.9 868.5L1286.9 866.1L1284.9 863.7L1282.9 861.3L1280.9 858.9L1278.9 856.4L1276.9 854.1L1274.9 851.7L1272.9 849.3L1270.9 847L1268.9 844.6L1266.9 842.2L1264.9 839.7L1262.9 837.3L1260.8 834.7L1258.8 832.1L1256.8 829.5L1254.8 826.8L1252.8 824.1L1250.8 821.4L1248.8 818.8L1246.8 816.2L1244.8 813.7L1242.8 811.4L1240.8 809.1L1238.8 806.9L1236.8 804.7L1234.8 802.5L1232.8 800.3L1230.8 798.2L1228.8 796L1226.8 793.8L1224.8 791.6L1222.8 789.4L1220.8 787.2L1218.8 785L1216.8 782.7L1214.7 780.5L1212.7 778.4L1210.7 776.2L1208.7 774.1L1206.7 772L1204.7 769.9L1202.7 767.8L1200.7 765.7L1198.7 763.7L1196.7 761.7L1194.7 759.7L1192.7 757.9L1190.7 756.1L1188.7 754.4L1186.7 752.7L1184.7 751.1L1182.7 749.5L1180.7 748L1178.7 746.4L1176.7 744.9L1174.7 743.4L1172.7 741.9L1170.6 740.4L1168.6 739L1166.6 737.5L1164.6 736L1162.6 734.6L1160.6 733.2L1158.6 731.9L1156.6 730.7L1154.6 729.5L1152.6 728.4L1150.6 727.3L1148.6 726.2L1146.6 725.2L1144.6 724.2L1142.6 723.2L1140.6 722.4L1138.6 721.6L1136.6 720.8L1134.6 720L1132.6 719.3L1130.6 718.6L1128.6 717.9L1126.5 717.3L1124.5 716.8L1122.5 716.4L1120.5 716.2L1118.5 716L1116.5 715.9L1114.5 715.7L1112.5 715.6L1110.5 715.5L1108.5 715.5L1106.5 715.4L1104.5 715.4L1102.5 715.6L1100.5 715.9L1098.5 716.1L1096.5 716.3L1094.5 716.5L1092.5 716.8L1090.5 717L1088.5 717.2L1086.4 717.4L1084.4 717.6L1082.4 717.9L1080.4 718.1L1078.4 718.3L1076.4 718.5L1074.4 718.7L1072.4 718.9L1070.4 719.1L1068.4 719.3L1066.4 719.5L1064.4 719.7L1062.4 719.9L1060.4 720L1058.4 720.2L1056.3 720.4L1054.3 720.6L1052.3 720.8L1050.3 721L1048.3 721.1L1046.3 721.3L1044.3 721.5L1042.3 721.6L1040.3 721.8L1038.3 722L1036.3 722.1L1034.3 722.3L1032.3 722.5L1030.3 722.6L1028.3 722.8L1026.3 722.9L1024.2 723.1L1022.2 723.2L1020.2 723.4L1018.2 723.5L1016.2 723.6L1014.2 723.8L1012.2 723.9L1010.2 724L1008.2 724.2L1006.2 724.3L1004.2 724.4L1002.2 724.5L1000.2 724.7L998.2 724.8L996.2 724.9L994.2 725L992.1 725.1L990.1 725.2L988.1 725.3L986.1 725.4L984.1 725.5L982.1 725.6L980.1 725.7L978.1 725.8L976.1 725.9L974.1 726L972.1 726.1L970.1 726.2L968.1 726.3L966.1 726.4L964.1 726.5L962.1 726.6L960 726.6L958 726.7L956 726.8L954 726.9L952 726.9L950 727L948 727.1L946 727.1L944 727.2L942 730.4L940 733.6L938 736.7L936 739.8L934 742.9L932 745.9L930 748.9L928 751.8L926 754.6L924 757.4L922 760.1L920 762.8L918 765.5L916 768.1L914 770.8L912 773.3L910 775.9L908 778.4L906 780.9L904 783.4L902 785.9L900 788.3L898 790.8L896 793.2L894 795.6L892 798L890 800.4L888 802.8L886 805.1L884 807.5L882 809.9L880 812.2L878 814.6L876 817L874 819.3L872 821.7L870 824L868 826.4L866 828.7L864 831L862 833.4L860 835.7L858 838L856 840.3L854 842.6L852 844.9L850 847.2L848 849.5L846 851.8L844 854.1L842 856.3L840 858.6L838 860.9L836 863.1L834 865.4L832 867.6L830 869.8L828 872.1L826 874.3L824 876.5L822 878.7L820 880.9L818 883.1L816 885.2L814 887.4L812 889.6L810 891.7L808 893.9L806 896L804 898.2L802 900.3L800 902.4L798 904.5L796 906.6L794 908.7L792 910.8L790 912.8L788 914.9L786 917L784 919Z" fill="#0000ff" stroke="none"/>
<line x1="944" y1="507" x2="944" y2="919" stroke="#c4c4c4" stroke-width="1.6"/>
<line x1="1104.5" y1="507" x2="1104.5" y2="919" stroke="#c4c4c4" stroke-width="1.6"/>
<path d="M784 590.7L786 590.6L788 590.5L790 590.4L792 590.3L794 590.1L796 590L798 589.8L800 589.7L802 589.5L804 589.2L806 589L808 588.7L810 588.4L812.1 588L814.1 587.7L816.1 587.2L818.1 586.8L820.1 586.3L822.1 585.8L824.1 585.2L826.1 584.7L828.1 584.1L830.1 583.6L832.1 583L834.1 582.5L836.1 582L838.1 581.5L840.1 581.1L842.1 580.7L844.1 580.4L846.1 580.1L848.1 579.9L850.1 579.7L852.1 579.7L854.1 579.7L856.1 579.9L858.1 580.1L860.1 580.3L862.1 580.7L864.1 581.1L866.2 581.6L868.2 582.2L870.2 582.8L872.2 583.5L874.2 584.2L876.2 585L878.2 585.8L880.2 586.6L882.2 587.4L884.2 588.3L886.2 589.1L888.2 589.9L890.2 590.8L892.2 591.6L894.2 592.3L896.2 593.1L898.2 593.8L900.2 594.5L902.2 595.1L904.2 595.7L906.2 596.3L908.2 596.9L910.2 597.4L912.2 597.9L914.2 598.3L916.2 598.8L918.2 599.1L920.2 599.5L922.3 599.8L924.3 600.1L926.3 600.4L928.3 600.6L930.3 600.8L932.3 601L934.3 601.2L936.3 601.3L938.3 601.4L940.3 601.4L942.3 601.5L944.3 601.5L946.3 601.5L948.3 601.5L950.3 601.4L952.3 601.3L954.3 601.2L956.3 601.1L958.3 601L960.3 600.8L962.3 600.7L964.3 600.5L966.3 600.3L968.3 600.1L970.3 599.8L972.3 599.6L974.3 599.3L976.4 599.1L978.4 598.8L980.4 598.5L982.4 598.2L984.4 597.9L986.4 597.6L988.4 597.3L990.4 597L992.4 596.7L994.4 596.4L996.4 596.1L998.4 595.7L1000.4 595.4L1002.4 595.1L1004.4 594.8L1006.4 594.4L1008.4 594.1L1010.4 593.7L1012.4 593.4L1014.4 593L1016.4 592.7L1018.4 592.3L1020.4 592L1022.4 591.6L1024.4 591.2L1026.4 590.9L1028.4 590.5L1030.5 590.1L1032.5 589.7L1034.5 589.3L1036.5 588.9L1038.5 588.6L1040.5 588.2L1042.5 587.8L1044.5 587.3L1046.5 586.9L1048.5 586.5L1050.5 586.1L1052.5 585.7L1054.5 585.3L1056.5 584.8L1058.5 584.4L1060.5 584L1062.5 583.6L1064.5 583.1L1066.5 582.7L1068.5 582.3L1070.5 581.9L1072.5 581.5L1074.5 581.1L1076.5 580.8L1078.5 580.4L1080.5 580.1L1082.5 579.7L1084.6 579.4L1086.6 579.1L1088.6 578.8L1090.6 578.6L1092.6 578.4L1094.6 578.2L1096.6 578L1098.6 577.8L1100.6 577.7L1102.6 577.6L1104.6 577.5L1106.6 577.5L1108.6 577.5L1110.6 577.5L1112.6 577.5L1114.6 577.6L1116.6 577.7L1118.6 577.8L1120.6 578L1122.6 578.1L1124.6 578.3L1126.6 578.5L1128.6 578.7L1130.6 578.9L1132.6 579.1L1134.6 579.4L1136.6 579.6L1138.7 579.9L1140.7 580.2L1142.7 580.4L1144.7 580.7L1146.7 581L1148.7 581.2L1150.7 581.5L1152.7 581.8L1154.7 582L1156.7 582.3L1158.7 582.5L1160.7 582.8L1162.7 583L1164.7 583.2L1166.7 583.4L1168.7 583.6L1170.7 583.7L1172.7 583.8L1174.7 584L1176.7 584.1L1178.7 584.1L1180.7 584.2L1182.7 584.2L1184.7 584.3L1186.7 584.3L1188.7 584.2L1190.7 584.2L1192.8 584.2L1194.8 584.1L1196.8 584L1198.8 583.9L1200.8 583.8L1202.8 583.6L1204.8 583.5L1206.8 583.3L1208.8 583.1L1210.8 582.9L1212.8 582.7L1214.8 582.5L1216.8 582.2L1218.8 582L1220.8 581.8L1222.8 581.5L1224.8 581.3L1226.8 581L1228.8 580.8L1230.8 580.6L1232.8 580.3L1234.8 580.1L1236.8 580L1238.8 579.8L1240.8 579.6L1242.8 579.5L1244.8 579.4L1246.8 579.3L1248.9 579.3L1250.9 579.3L1252.9 579.3L1254.9 579.4L1256.9 579.5L1258.9 579.6L1260.9 579.8L1262.9 580L1264.9 580.2L1266.9 580.4L1268.9 580.6L1270.9 580.9L1272.9 581.2L1274.9 581.5L1276.9 581.8L1278.9 582.1L1280.9 582.4L1282.9 582.8L1284.9 583.1L1286.9 583.5L1288.9 583.8L1290.9 584.2L1292.9 584.5L1294.9 584.8L1296.9 585.2L1298.9 585.5L1300.9 585.9L1303 586.2L1305 586.5L1307 586.9L1309 587.2L1311 587.5L1313 587.9L1315 588.2L1317 588.5L1319 588.9L1321 589.2L1323 589.5L1325 589.8L1327 590.2L1329 590.5" fill="none" stroke="#18ee18" stroke-width="3.2" stroke-linejoin="round" stroke-linecap="round" />
<path d="M784 680L786 679.5L788 679L790 678.5L792 678L794 677.4L796 676.9L798 676.4L800 675.8L802 675.3L804 674.7L806 674.1L808 673.5L810 672.9L812 672.3L814 671.6L816 670.9L818 670.2L820 669.5L822 668.8L824 668L826 667.2L828 666.3L830 665.5L832 664.6L834 663.6L836 662.7L838 661.7L840 660.7L842 659.7L844 658.6L846 657.5L848 656.4L850 655.3L852 654.2L854 653L856 651.9L858 650.7L860 649.5L862 648.2L864 647L866 645.8L868 644.5L870 643.2L872 642L874 640.7L876 639.4L878 638.1L880 636.8L882 635.5L884 634.2L886 633L888 631.7L890 630.5L892 629.2L894 628L896 626.8L898 625.7L900 624.6L902 623.5L904 622.4L906 621.4L908 620.4L910 619.4L912 618.5L914 617.7L916 616.9L918 616.2L920 615.5L922 614.8L924 614.2L926 613.6L928 613.1L930 612.6L932 612.1L934 611.6L936 611.2L938 610.7L940 610.3L942 609.9L944 609.5L946 609.4L948 609.2L950 609.1L952 609L954 608.8L956 608.7L958 608.5L960 608.4L962 608.2L964.1 608L966.1 607.9L968.1 607.7L970.1 607.5L972.1 607.3L974.1 607.1L976.1 606.8L978.1 606.6L980.1 606.3L982.1 606L984.1 605.7L986.1 605.4L988.1 605L990.1 604.6L992.1 604.1L994.1 603.7L996.1 603.2L998.1 602.6L1000.1 602.1L1002.2 601.5L1004.2 600.9L1006.2 600.3L1008.2 599.7L1010.2 599.1L1012.2 598.5L1014.2 597.8L1016.2 597.2L1018.2 596.6L1020.2 595.9L1022.2 595.3L1024.2 594.7L1026.2 594.1L1028.2 593.5L1030.2 592.9L1032.2 592.3L1034.2 591.7L1036.2 591.1L1038.2 590.5L1040.2 590L1042.3 589.4L1044.3 588.8L1046.3 588.2L1048.3 587.6L1050.3 587L1052.3 586.4L1054.3 585.8L1056.3 585.2L1058.3 584.6L1060.3 584L1062.3 583.5L1064.3 582.9L1066.3 582.3L1068.3 581.8L1070.3 581.3L1072.3 580.7L1074.3 580.2L1076.3 579.8L1078.3 579.3L1080.4 578.9L1082.4 578.5L1084.4 578.2L1086.4 577.9L1088.4 577.6L1090.4 577.3L1092.4 577.1L1094.4 576.9L1096.4 576.7L1098.4 576.5L1100.4 576.4L1102.4 576.3L1104.4 576.2L1106.4 576.2L1108.4 576.1L1110.4 576.1L1112.4 576.2L1114.4 576.2L1116.4 576.3L1118.5 576.4L1120.5 576.6L1122.5 576.7L1124.5 576.9L1126.5 577.2L1128.5 577.4L1130.5 577.7L1132.5 578.1L1134.5 578.5L1136.5 578.9L1138.5 579.4L1140.5 579.9L1142.5 580.5L1144.5 581.1L1146.5 581.8L1148.5 582.5L1150.5 583.4L1152.5 584.3L1154.5 585.2L1156.6 586.2L1158.6 587.3L1160.6 588.4L1162.6 589.6L1164.6 590.8L1166.6 592.1L1168.6 593.4L1170.6 594.8L1172.6 596.2L1174.6 597.7L1176.6 599.2L1178.6 600.8L1180.6 602.4L1182.6 604L1184.6 605.6L1186.6 607.3L1188.6 608.9L1190.6 610.6L1192.6 612.3L1194.7 613.9L1196.7 615.5L1198.7 617.2L1200.7 618.7L1202.7 620.3L1204.7 621.8L1206.7 623.3L1208.7 624.7L1210.7 626.1L1212.7 627.5L1214.7 628.8L1216.7 630.2L1218.7 631.5L1220.7 632.8L1222.7 634.1L1224.7 635.4L1226.7 636.7L1228.7 637.9L1230.7 639.2L1232.8 640.5L1234.8 641.8L1236.8 643L1238.8 644.3L1240.8 645.6L1242.8 646.9L1244.8 648.2L1246.8 649.5L1248.8 650.7L1250.8 652L1252.8 653.3L1254.8 654.5L1256.8 655.8L1258.8 657L1260.8 658.2L1262.8 659.4L1264.8 660.6L1266.8 661.8L1268.8 662.9L1270.8 664L1272.9 665.1L1274.9 666.2L1276.9 667.2L1278.9 668.2L1280.9 669.2L1282.9 670.1L1284.9 671L1286.9 671.8L1288.9 672.6L1290.9 673.3L1292.9 674L1294.9 674.6L1296.9 675.2L1298.9 675.7L1300.9 676.2L1302.9 676.6L1304.9 677L1306.9 677.4L1308.9 677.8L1311 678.1L1313 678.3L1315 678.6L1317 678.8L1319 679.1L1321 679.3L1323 679.5L1325 679.6L1327 679.8L1329 680" fill="none" stroke="#e2a012" stroke-width="3.2" stroke-linejoin="round" stroke-linecap="round" />
<path d="M784 710.3L786 710L788 709.7L790 709.5L792 709.2L794 708.9L796 708.6L798 708.2L800 707.9L802 707.6L804 707.2L806 706.8L808 706.4L810 706L812 705.5L814 705L816 704.5L818 704L820 703.4L822 702.8L824 702.2L826 701.5L828 700.8L830 700.1L832 699.4L834 698.6L836 697.8L838 696.9L840 696L842 695.1L844 694.1L846 693.1L848 692.1L850 691L852 689.9L854 688.7L856 687.5L858 686.3L860 685.1L862 683.8L864 682.5L866 681.3L868 680L870 678.7L872 677.4L874 676.1L876 674.7L878 673.4L880 672.1L882 670.7L884 669.3L886 667.9L888 666.5L890 665L892 663.4L894 661.8L896 660.2L898 658.5L900 656.7L902 654.9L904 653.1L906 651.2L908 649.4L910 647.5L912 645.6L914 643.7L916 641.9L918 640L920 638.2L922 636.4L924 634.5L926 632.7L928 630.9L930 629L932 627.1L934 625.2L936 623.3L938 621.4L940 619.4L942 617.5L944 615.5L946 615.4L948 615.2L950 615.1L952 615L954 614.8L956 614.7L958 614.5L960 614.4L962 614.2L964.1 614L966.1 613.9L968.1 613.7L970.1 613.5L972.1 613.3L974.1 613.1L976.1 612.9L978.1 612.6L980.1 612.4L982.1 612.1L984.1 611.7L986.1 611.4L988.1 611L990.1 610.6L992.1 610.1L994.1 609.6L996.1 609.1L998.1 608.5L1000.1 607.9L1002.2 607.3L1004.2 606.6L1006.2 606L1008.2 605.3L1010.2 604.6L1012.2 603.8L1014.2 603.1L1016.2 602.4L1018.2 601.7L1020.2 600.9L1022.2 600.2L1024.2 599.5L1026.2 598.7L1028.2 598L1030.2 597.3L1032.2 596.6L1034.2 595.9L1036.2 595.1L1038.2 594.4L1040.2 593.7L1042.3 593L1044.3 592.3L1046.3 591.5L1048.3 590.8L1050.3 590.1L1052.3 589.3L1054.3 588.6L1056.3 587.8L1058.3 587.1L1060.3 586.4L1062.3 585.6L1064.3 584.9L1066.3 584.2L1068.3 583.5L1070.3 582.9L1072.3 582.2L1074.3 581.6L1076.3 581L1078.3 580.4L1080.4 579.9L1082.4 579.4L1084.4 578.9L1086.4 578.5L1088.4 578.1L1090.4 577.7L1092.4 577.4L1094.4 577.1L1096.4 576.9L1098.4 576.6L1100.4 576.5L1102.4 576.3L1104.4 576.2L1106.4 576.2L1108.4 576.1L1110.4 576.1L1112.4 576.2L1114.4 576.2L1116.4 576.3L1118.5 576.4L1120.5 576.6L1122.5 576.8L1124.5 576.9L1126.5 577.2L1128.5 577.4L1130.5 577.7L1132.5 578L1134.5 578.4L1136.5 578.9L1138.5 579.5L1140.5 580.3L1142.5 581.1L1144.5 582.1L1146.5 583.3L1148.5 584.6L1150.5 586.1L1152.5 587.8L1154.5 589.6L1156.6 591.5L1158.6 593.7L1160.6 596L1162.6 598.4L1164.6 601L1166.6 603.6L1168.6 606.3L1170.6 609.1L1172.6 611.8L1174.6 614.6L1176.6 617.4L1178.6 620.2L1180.6 623L1182.6 625.8L1184.6 628.6L1186.6 631.5L1188.6 634.3L1190.6 637.2L1192.6 640.1L1194.7 643L1196.7 645.8L1198.7 648.6L1200.7 651.3L1202.7 653.9L1204.7 656.4L1206.7 658.8L1208.7 661.2L1210.7 663.4L1212.7 665.6L1214.7 667.7L1216.7 669.7L1218.7 671.7L1220.7 673.6L1222.7 675.4L1224.7 677.2L1226.7 678.9L1228.7 680.5L1230.7 682.1L1232.8 683.7L1234.8 685.2L1236.8 686.7L1238.8 688.2L1240.8 689.6L1242.8 690.9L1244.8 692.2L1246.8 693.5L1248.8 694.7L1250.8 695.9L1252.8 697L1254.8 698.1L1256.8 699.1L1258.8 700L1260.8 700.9L1262.8 701.8L1264.8 702.6L1266.8 703.4L1268.8 704.1L1270.8 704.8L1272.9 705.4L1274.9 705.9L1276.9 706.5L1278.9 707L1280.9 707.4L1282.9 707.8L1284.9 708.2L1286.9 708.5L1288.9 708.9L1290.9 709.1L1292.9 709.4L1294.9 709.6L1296.9 709.8L1298.9 710L1300.9 710.2L1302.9 710.3L1304.9 710.4L1306.9 710.5L1308.9 710.6L1311 710.7L1313 710.7L1315 710.8L1317 710.8L1319 710.8L1321 710.9L1323 710.9L1325 710.9L1327 710.9L1329 710.9" fill="none" stroke="#6a2478" stroke-width="3.2" stroke-linejoin="round" stroke-linecap="round" />
<path d="M928 598L930 599.6L932 601.3L934 603.1L936 605L938 607L940 609.2L942 611.5L944 614" fill="none" stroke="#6a2478" stroke-width="3" stroke-linejoin="round" stroke-linecap="round" />
<rect x="784" y="507" width="545" height="412" fill="none" stroke="#a0a0a0" stroke-width="2"/>
<path d="M784 836.6h5M1329 836.6h-5M784 754.2h5M1329 754.2h-5M784 671.8h5M1329 671.8h-5M784 589.4h5M1329 589.4h-5" stroke="#8a8a8a" stroke-width="1.3" fill="none"/>
<text x="775.8" y="606.8" font-family="'Liberation Serif', serif" font-size="35.5" font-weight="normal" font-style="normal" text-anchor="end" fill="#000" >0.8</text>
<text x="775.8" y="687.6" font-family="'Liberation Serif', serif" font-size="35.5" font-weight="normal" font-style="normal" text-anchor="end" fill="#000" >0.6</text>
<text x="775.8" y="768.6" font-family="'Liberation Serif', serif" font-size="35.5" font-weight="normal" font-style="normal" text-anchor="end" fill="#000" >0.4</text>
<text x="775.8" y="848.6" font-family="'Liberation Serif', serif" font-size="35.5" font-weight="normal" font-style="normal" text-anchor="end" fill="#000" >0.2</text>
<text x="775.8" y="928.6" font-family="'Liberation Serif', serif" font-size="35.5" font-weight="normal" font-style="normal" text-anchor="end" fill="#000" >0</text>
<text x="772" y="524.1" font-family="'Liberation Serif', serif" font-size="35.5" font-weight="normal" font-style="normal" text-anchor="end" fill="#000" >1</text>
<text x="790.2" y="960" font-family="'Liberation Serif', serif" font-size="36" font-weight="bold" font-style="normal" text-anchor="middle" fill="#000" >Γ</text>
<rect x="781.2" y="931.5" width="19" height="3" fill="#000"/>
<text x="947.7" y="960" font-family="'Liberation Serif', serif" font-size="36" font-weight="bold" font-style="normal" text-anchor="middle" fill="#000" >X</text>
<rect x="936.2" y="931.5" width="23" height="3" fill="#000"/>
<text x="1107.6" y="960" font-family="'Liberation Serif', serif" font-size="36" font-weight="bold" font-style="normal" text-anchor="middle" fill="#000" >M</text>
<rect x="1094.1" y="931.5" width="27" height="3" fill="#000"/>
<text x="1329.3" y="960" font-family="'Liberation Serif', serif" font-size="36" font-weight="bold" font-style="normal" text-anchor="middle" fill="#000" >Γ</text>
<rect x="1320.3" y="931.5" width="19" height="3" fill="#000"/>
<line x1="952.5" y1="799.3" x2="1001" y2="799.3" stroke="#18ee18" stroke-width="4.5"/>
<text y="806.3" font-family="'Liberation Serif', serif" font-size="30"><tspan x="1017" font-style="italic">t</tspan><tspan font-style="italic" font-size="24" dy="6">x</tspan><tspan dy="-6" dx="6">=</tspan><tspan dx="6">0.1</tspan></text>
<line x1="952.5" y1="843" x2="1001" y2="843" stroke="#e2a012" stroke-width="4.5"/>
<text y="850" font-family="'Liberation Serif', serif" font-size="30"><tspan x="1017" font-style="italic">t</tspan><tspan font-style="italic" font-size="24" dy="6">x</tspan><tspan dy="-6" dx="6">=</tspan><tspan dx="6">0.4</tspan></text>
<line x1="952.5" y1="886.7" x2="1001" y2="886.7" stroke="#6a2478" stroke-width="4.5"/>
<text y="893.7" font-family="'Liberation Serif', serif" font-size="30"><tspan x="1017" font-style="italic">t</tspan><tspan font-style="italic" font-size="24" dy="6">x</tspan><tspan dy="-6" dx="6">=</tspan><tspan dx="6">1</tspan></text>
<text x="0" y="0" transform="translate(714.5,693.5) rotate(-90)" font-family="'Liberation Serif', serif" font-size="35" text-anchor="middle">Frequency (<tspan font-style="italic">c/a</tspan>)</text>
<line x1="264.5" y1="1287.0" x2="464.8" y2="1344.4" stroke="#ebebeb" stroke-width="1.3"/>
<line x1="495.2" y1="1293.5" x2="234.0" y2="1337.9" stroke="#ebebeb" stroke-width="1.3"/>
<line x1="133.9" y1="1256.0" x2="395.1" y2="1211.6" stroke="#ebebeb" stroke-width="1.3"/>
<line x1="395.1" y1="1211.6" x2="595.4" y2="1269.0" stroke="#ebebeb" stroke-width="1.3"/>
<line x1="133.9" y1="1149.6" x2="395.1" y2="1105.2" stroke="#ebebeb" stroke-width="1.3"/>
<line x1="395.1" y1="1105.2" x2="595.4" y2="1162.6" stroke="#ebebeb" stroke-width="1.3"/>
<line x1="133.9" y1="1043.2" x2="395.1" y2="998.8" stroke="#ebebeb" stroke-width="1.3"/>
<line x1="395.1" y1="998.8" x2="595.4" y2="1056.2" stroke="#ebebeb" stroke-width="1.3"/>
<line x1="264.5" y1="1287.0" x2="264.5" y2="967.8" stroke="#ebebeb" stroke-width="1.3"/>
<line x1="495.2" y1="1293.5" x2="495.2" y2="974.3" stroke="#ebebeb" stroke-width="1.3"/>
<line x1="395.1" y1="1264.8" x2="395.1" y2="945.6" stroke="#ebebeb" stroke-width="1.3"/>
<line x1="595.4" y1="1322.2" x2="595.4" y2="1003.0" stroke="#ebebeb" stroke-width="1.3"/>
<line x1="133.9" y1="1309.2" x2="133.9" y2="990.0" stroke="#6e6e6e" stroke-width="1.5"/>
<line x1="133.9" y1="1309.2" x2="334.2" y2="1366.6" stroke="#6e6e6e" stroke-width="1.5"/>
<line x1="334.2" y1="1366.6" x2="595.4" y2="1322.2" stroke="#6e6e6e" stroke-width="1.5"/>
<line x1="127.9" y1="1257.0" x2="133.9" y2="1256.0" stroke="#6e6e6e" stroke-width="1.3"/>
<line x1="127.9" y1="1150.6" x2="133.9" y2="1149.6" stroke="#6e6e6e" stroke-width="1.3"/>
<line x1="127.9" y1="1044.2" x2="133.9" y2="1043.2" stroke="#6e6e6e" stroke-width="1.3"/>
<line x1="364.6" y1="1315.7" x2="364.6" y2="1261.4" stroke="#f0d890" stroke-width="1.2" stroke-dasharray="2 1"/>
<line x1="464.8" y1="1344.4" x2="464.8" y2="1180.0" stroke="#f0d890" stroke-width="1.2" stroke-dasharray="2 1"/>
<line x1="595.4" y1="1322.2" x2="595.4" y2="1092.4" stroke="#f0d890" stroke-width="1.2" stroke-dasharray="2 1"/>
<path d="M133.9 1079.3L138.4 1081.3L143 1084.4L147.5 1088.6L152.1 1093.7L156.6 1099.6L161.2 1106.1L179.4 1134L183.9 1140.4L188.5 1146.2L193 1151.4L197.6 1156L202.2 1159.8L206.7 1163L211.3 1165.5L215.8 1167.7L225.2 1171L234.6 1183L246.5 1199.1L257 1212.7L262.9 1219.9L273.4 1231.3L283.9 1240.9L294.4 1248.6L304.9 1254.4L309.4 1256.4L319.9 1260.2L338.1 1265.4L348.6 1267.5L353.2 1268.1L359.1 1268.4L369.6 1268.1L375.5 1267.4L393.4 1264.5L409.8 1261.2L415.7 1259.5L426.2 1255.3L432.2 1252.2L442.7 1245.4L453.1 1236.4L463.6 1225.6L469.6 1218.6L480.1 1205.2L484.6 1198.9L505.7 1168.7L512.3 1164.8L518.3 1160.6L524.2 1155.7L530.1 1150.2L542 1137.6L559.8 1117.4L565.8 1111.1L571.7 1105.5L577.6 1100.7L583.6 1096.8L589.5 1094L595.4 1092.4L590.8 1091.6L586.3 1092.1L580.3 1093.7L575.8 1095.3L569.8 1098.2L565.3 1100.8L559.4 1104.9L554.8 1108.5L544.3 1118.3L532.8 1130.6L530.8 1132.1L528.2 1133.3L522.6 1134.1L518 1134.1L513.5 1133.6L504.4 1131.6L495.3 1129.1L481.6 1124.9L477.1 1123.2L472.5 1121.1L468 1118.5L463.4 1115.3L458.9 1111.5L454.3 1107L449.8 1101.8L445.2 1095.9L436.1 1082.7L422.5 1061.7L417.9 1055.1L413.3 1049.2L408.8 1044.1L404.2 1039.9L399.7 1036.8L395.1 1034.9L389.1 1036.5L383.2 1039.3L377.3 1043.2L371.3 1048L365.4 1053.7L359.4 1059.9L341.6 1080.1L329.8 1092.7L323.8 1098.2L317.9 1103.1L312 1107.3L306 1110.9L300.1 1113.7L294.2 1116L288.2 1117.8L282.3 1119.3L264.5 1122.6L246.7 1125.3L240.8 1125.9L234.8 1126.1L228.9 1125.8L223 1125L217 1123.5L211.1 1121.3L203.8 1117.1L197.8 1113L191.9 1108.5L178.7 1097.6L174.1 1094.2L168.2 1090L162.2 1086.3L151.7 1081.5L145.8 1079.7L139.8 1078.9Z" fill="#f07676" fill-rule="evenodd"/>
<path d="M395.1 1035 399.7 1036.9 404.2 1040 408.8 1044.1 413.3 1049.2 417.9 1055.2 422.4 1061.7 427 1068.6 431.5 1075.7 436.1 1082.8 440.6 1089.6 445.2 1096 449.7 1101.8 454.3 1107 458.8 1111.5 463.4 1115.3 467.9 1118.5 472.5 1121.1 477 1123.2 481.6 1125 486.1 1126.4 490.7 1127.8 495.2 1129.1 499.8 1130.4 504.4 1131.7 508.9 1132.8 513.5 1133.6 518 1134.1 522.6 1134.2 527.1 1133.6 531.7 1132.4M586.3 1092.1 590.8 1091.7 595.4 1092.4M389.2 1036.6 393.7 1038.5 398.3 1041.6 402.8 1045.8 407.4 1050.9 411.9 1056.9 416.5 1063.4 421 1070.4 425.6 1077.5 430.1 1084.6 434.7 1091.4 439.2 1097.9 443.8 1103.7 448.3 1109 452.9 1113.5 457.4 1117.3 462 1120.5 466.6 1123.1 471.1 1125.2 475.7 1127 480.2 1128.5 484.8 1129.8 489.3 1131.1 493.9 1132.4 498.4 1133.7 503 1134.8 507.5 1135.7 512.1 1136.2 516.6 1136.2 521.2 1135.6 525.7 1134.4 530.3 1132.4 534.8 1129.8M575.8 1095.3 580.4 1093.8 584.9 1093.3 589.5 1094M383.2 1039.4 387.8 1041.3 392.3 1044.4 396.9 1048.6 401.4 1053.9 406 1059.9 410.5 1066.6 415.1 1073.6 419.6 1080.9 424.2 1088.1 428.8 1095 433.3 1101.5 437.9 1107.5 442.4 1112.8 447 1117.3 451.5 1121.2 456.1 1124.4 460.6 1127.1 465.2 1129.2 469.7 1130.9 474.3 1132.4 478.8 1133.8 483.4 1135.1 487.9 1136.4 492.5 1137.7 497 1138.8 501.6 1139.6 506.1 1140.1 510.7 1140.1 515.2 1139.5 519.8 1138.2 524.3 1136.2 528.9 1133.6 533.5 1130.2M565.3 1100.8 569.9 1098.2 574.4 1096.6 579 1096.1 583.5 1096.8M377.3 1043.2 381.8 1045.2 386.4 1048.3 390.9 1052.7 395.5 1058 400.1 1064.2 404.6 1071 409.2 1078.2 413.7 1085.6 418.3 1093 422.8 1100.1 427.4 1106.8 431.9 1112.9 436.5 1118.3 441 1123 445.6 1126.9 450.1 1130.2 454.7 1132.8 459.2 1135 463.8 1136.8 468.3 1138.3 472.9 1139.6 477.4 1140.9 482 1142.2 486.5 1143.5 491.1 1144.6 495.6 1145.4 500.2 1145.9 504.8 1145.8 509.3 1145.2 513.9 1143.8 518.4 1141.8 523 1138.9 527.5 1135.5 532.1 1131.4 536.6 1126.9M554.8 1108.5 559.4 1105 563.9 1102.2 568.5 1100.5 573 1100 577.6 1100.6M371.4 1048.1 375.9 1050 380.5 1053.3 385 1057.7 389.6 1063.2 394.1 1069.6 398.7 1076.6 403.2 1084 407.8 1091.7 412.3 1099.3 416.9 1106.6 421.4 1113.5 426 1119.7 430.5 1125.3 435.1 1130.1 439.6 1134.2 444.2 1137.5 448.7 1140.2 453.3 1142.4 457.8 1144.2 462.4 1145.7 467 1147.1 471.5 1148.4 476.1 1149.7 480.6 1150.9 485.2 1152 489.7 1152.8 494.3 1153.3 498.8 1153.2 503.4 1152.4 507.9 1151 512.5 1148.8 517 1145.8 521.6 1142.2 526.1 1137.9 530.7 1133.2 535.2 1128.2 539.8 1123.2 544.3 1118.3 548.9 1113.9 553.4 1110.2 558 1107.3 562.5 1105.4 567.1 1104.8 571.7 1105.5M365.4 1053.7 370 1055.7 374.5 1059 379.1 1063.6 383.6 1069.3 388.2 1075.8 392.7 1083.1 397.3 1090.9 401.8 1098.8 406.4 1106.6 410.9 1114.2 415.5 1121.3 420 1127.8 424.6 1133.6 429.1 1138.6 433.7 1142.7 438.3 1146.2 442.8 1149 447.4 1151.2 451.9 1153 456.5 1154.5 461 1155.9 465.6 1157.2 470.1 1158.5 474.7 1159.7 479.2 1160.8 483.8 1161.6 488.3 1162 492.9 1161.8 497.4 1161 502 1159.4 506.5 1157.1 511.1 1153.9 515.6 1150 520.2 1145.5 524.7 1140.6 529.3 1135.3 533.9 1130 538.4 1124.9 543 1120.2 547.5 1116.2 552.1 1113.2 556.6 1111.2 561.2 1110.5 565.7 1111.1M359.5 1059.9 364 1062 368.6 1065.4 373.1 1070.1 377.7 1076 382.2 1082.8 386.8 1090.4 391.3 1098.4 395.9 1106.7 400.5 1114.9 405 1122.7 409.6 1130.1 414.1 1136.9 418.7 1142.8 423.2 1148 427.8 1152.3 432.3 1155.8 436.9 1158.7 441.4 1160.9 446 1162.8 450.5 1164.3 455.1 1165.7 459.6 1167 464.2 1168.3 468.7 1169.5 473.3 1170.6 477.8 1171.4 482.4 1171.7 486.9 1171.5 491.5 1170.6 496.1 1168.9 500.6 1166.3 505.2 1163 509.7 1158.8 514.3 1154.1 518.8 1148.8 523.4 1143.2 527.9 1137.6 532.5 1132.1 537 1127.2 541.6 1123 546.1 1119.7 550.7 1117.6 555.2 1116.7 559.8 1117.3M353.5 1066.6 358.1 1068.6 362.6 1072.1 367.2 1077 371.8 1083.2 376.3 1090.3 380.9 1098.1 385.4 1106.5 390 1115.1 394.5 1123.6 399.1 1131.8 403.6 1139.5 408.2 1146.5 412.7 1152.7 417.3 1158 421.8 1162.5 426.4 1166.1 430.9 1169.1 435.5 1171.4 440 1173.2 444.6 1174.8 449.1 1176.1 453.7 1177.5 458.2 1178.8 462.8 1180 467.4 1181.1 471.9 1181.8 476.5 1182.1 481 1181.8 485.6 1180.8 490.1 1178.9 494.7 1176.2 499.2 1172.6 503.8 1168.2 508.3 1163.1 512.9 1157.5 517.4 1151.6 522 1145.6 526.5 1139.9 531.1 1134.6 535.6 1130.1 540.2 1126.6 544.7 1124.3 549.3 1123.4 553.8 1124M347.6 1073.4 352.2 1075.5 356.7 1079.1 361.3 1084.2 365.8 1090.5 370.4 1097.9 374.9 1106.1 379.5 1114.8 384 1123.7 388.6 1132.6 393.1 1141.1 397.7 1149.1 402.2 1156.4 406.8 1162.8 411.3 1168.4 415.9 1173 420.4 1176.7 425 1179.7 429.6 1182.1 434.1 1184 438.7 1185.5 443.2 1186.9 447.8 1188.2 452.3 1189.5 456.9 1190.7 461.4 1191.8 466 1192.5 470.5 1192.8 475.1 1192.4 479.6 1191.2 484.2 1189.2 488.7 1186.3 493.3 1182.5 497.8 1177.8 502.4 1172.4 506.9 1166.5 511.5 1160.2 516 1153.9 520.6 1147.8 525.1 1142.2 529.7 1137.5 534.3 1133.7 538.8 1131.3 543.4 1130.2 547.9 1130.8M341.7 1080.1 346.2 1082.2 350.8 1086 355.3 1091.2 359.9 1097.8 364.4 1105.5 369 1114 373.5 1123 378.1 1132.3 382.6 1141.5 387.2 1150.4 391.7 1158.7 396.3 1166.2 400.9 1172.9 405.4 1178.6 410 1183.4 414.5 1187.2 419.1 1190.3 423.6 1192.7 428.2 1194.6 432.7 1196.2 437.3 1197.6 441.8 1198.9 446.4 1200.2 450.9 1201.4 455.5 1202.5 460 1203.2 464.6 1203.4 469.1 1202.9 473.7 1201.6 478.2 1199.5 482.8 1196.4 487.3 1192.3 491.9 1187.4 496.4 1181.7 501 1175.4 505.6 1168.8M514.7 1155.7 519.2 1149.8 523.8 1144.8 528.3 1140.8 532.9 1138.2 537.4 1137 542 1137.5M335.7 1086.6 340.3 1088.8 344.8 1092.6 349.4 1098 353.9 1104.8 358.5 1112.8 363.1 1121.6 367.6 1130.9 372.2 1140.5 376.7 1150.1 381.3 1159.3 385.8 1167.9 390.4 1175.7 394.9 1182.6 399.5 1188.5 404 1193.4 408.6 1197.3 413.1 1200.5 417.7 1202.9 422.2 1204.9 426.8 1206.5 431.3 1207.8 435.9 1209.1 440.4 1210.4 445 1211.7 449.5 1212.7 454.1 1213.4 458.6 1213.5 463.2 1213 467.8 1211.6 472.3 1209.3 476.9 1206 481.4 1201.8 486 1196.6 490.5 1190.6 495.1 1184M513.3 1157.1 517.8 1151.8 522.4 1147.6 526.9 1144.8 531.5 1143.6 536 1144M329.8 1092.7 334.4 1094.9 338.9 1098.8 343.5 1104.4 348 1111.4 352.6 1119.6 357.1 1128.7 361.7 1138.3 366.2 1148.2 370.8 1158.1 375.3 1167.6 379.9 1176.4 384.4 1184.5 389 1191.6 393.5 1197.6 398.1 1202.7 402.6 1206.8 407.2 1210 411.7 1212.5 416.3 1214.4 420.8 1216 425.4 1217.4 429.9 1218.7 434.5 1220 439.1 1221.2 443.6 1222.3 448.2 1222.9 452.7 1223 457.3 1222.4 461.8 1221 466.4 1218.5 470.9 1215.1 475.5 1210.6 480 1205.1 484.6 1198.9M511.9 1158.4 516.4 1154 521 1151 525.5 1149.7 530.1 1150.1M323.9 1098.3 328.4 1100.5 333 1104.5 337.5 1110.2 342.1 1117.4 346.6 1125.8 351.2 1135.1 355.7 1145 360.3 1155.2 364.8 1165.3 369.4 1175.1 373.9 1184.2 378.5 1192.4 383 1199.7 387.6 1206 392.1 1211.1 396.7 1215.3 401.3 1218.6 405.8 1221.1 410.4 1223.1 414.9 1224.7 419.5 1226 424 1227.4 428.6 1228.7 433.1 1229.9 437.7 1230.9 442.2 1231.5 446.8 1231.6 451.3 1230.9 455.9 1229.4 460.4 1226.8 465 1223.2 469.5 1218.5 474.1 1212.9M506 1164.3 510.5 1159.8 515.1 1156.7 519.6 1155.3 524.2 1155.7M317.9 1103.2 322.5 1105.4 327 1109.5 331.6 1115.3 336.1 1122.6 340.7 1131.2 345.2 1140.8 349.8 1150.9 354.3 1161.4 358.9 1171.7 363.4 1181.7 368 1191 372.6 1199.4 377.1 1206.9 381.7 1213.2 386.2 1218.5 390.8 1222.7 395.3 1226.1 399.9 1228.6 404.4 1230.6 409 1232.2 413.5 1233.6 418.1 1234.9 422.6 1236.2 427.2 1237.4 431.7 1238.4 436.3 1239.1 440.8 1239.1 445.4 1238.4 449.9 1236.8 454.5 1234.1 459 1230.4 463.6 1225.5M504.6 1164.9 509.1 1161.7 513.7 1160.2 518.2 1160.6M312 1107.4 316.5 1109.7 321.1 1113.8 325.6 1119.7 330.2 1127.2 334.8 1135.9 339.3 1145.6 343.9 1156 348.4 1166.6 353 1177.1 357.5 1187.3 362.1 1196.8 366.6 1205.4 371.2 1212.9 375.7 1219.4 380.3 1224.7 384.8 1229 389.4 1232.4 393.9 1235 398.5 1237 403 1238.6 407.6 1240 412.1 1241.3 416.7 1242.6 421.2 1243.8 425.8 1244.8 430.3 1245.4 434.9 1245.5 439.5 1244.7 444 1243 448.6 1240.3 453.1 1236.4M498.6 1169.3 503.2 1166 507.7 1164.4 512.3 1164.8M306.1 1110.9 310.6 1113.2 315.2 1117.4 319.7 1123.4 324.3 1130.9 328.8 1139.8 333.4 1149.6 337.9 1160.1 342.5 1170.9 347 1181.6 351.6 1191.9 356.1 1201.5 360.7 1210.2 365.2 1217.9 369.8 1224.5 374.3 1229.9 378.9 1234.2 383.4 1237.6 388 1240.2 392.5 1242.3 397.1 1243.9 401.7 1245.3 406.2 1246.6 410.8 1247.9 415.3 1249.1 419.9 1250.1 424.4 1250.7 429 1250.7 433.5 1249.9 438.1 1248.1 442.6 1245.3M497.2 1169.6 501.8 1168 506.4 1168.3M300.1 1113.8 304.7 1116.1 309.2 1120.3 313.8 1126.3 318.3 1134 322.9 1142.9 327.4 1152.9 332 1163.5 336.5 1174.4 341.1 1185.2 345.6 1195.6 350.2 1205.3 354.7 1214.1 359.3 1221.8 363.8 1228.5 368.4 1233.9 373 1238.3 377.5 1241.7 382.1 1244.4 386.6 1246.4 391.2 1248 395.7 1249.4 400.3 1250.7 404.8 1252 409.4 1253.2 413.9 1254.2 418.5 1254.8 423 1254.8 427.6 1254 432.1 1252.2 436.7 1249.3M491.3 1172.5 495.9 1170.9 500.4 1171.2M294.2 1116.1 298.7 1118.4 303.3 1122.6 307.8 1128.7 312.4 1136.4 316.9 1145.4 321.5 1155.4 326 1166.1 330.6 1177.1 335.2 1187.9 339.7 1198.4 344.3 1208.2 348.8 1217.1 353.4 1224.9 357.9 1231.5 362.5 1237 367 1241.4 371.6 1244.9 376.1 1247.5 380.7 1249.6 385.2 1251.2 389.8 1252.6 394.3 1253.9 398.9 1255.2 403.4 1256.4 408 1257.4 412.5 1258 417.1 1257.9 421.6 1257.1 426.2 1255.3M485.4 1174.8 489.9 1173.2 494.5 1173.5M288.2 1117.9 292.8 1120.2 297.4 1124.5 301.9 1130.6 306.5 1138.3 311 1147.3 315.6 1157.4 320.1 1168.1 324.7 1179.1 329.2 1190.1 333.8 1200.6 338.3 1210.4 342.9 1219.3 347.4 1227.1 352 1233.8 356.5 1239.4 361.1 1243.8 365.6 1247.2 370.2 1249.9 374.7 1251.9 379.3 1253.5 383.8 1254.9 388.4 1256.2 392.9 1257.5 397.5 1258.8 402.1 1259.7 406.6 1260.3 411.2 1260.3 415.7 1259.4M484 1175 488.5 1175.3M282.3 1119.3 286.9 1121.6 291.4 1125.9 296 1132 300.5 1139.8 305.1 1148.8 309.6 1158.9 314.2 1169.7 318.7 1180.7 323.3 1191.7 327.8 1202.2 332.4 1212.1 336.9 1221 341.5 1228.8 346 1235.5 350.6 1241.1 355.1 1245.5 359.7 1249 364.2 1251.6 368.8 1253.7 373.4 1255.3 377.9 1256.7 382.5 1258 387 1259.3 391.6 1260.5 396.1 1261.5 400.7 1262.1 405.2 1262 409.8 1261.2M478.1 1176.4 482.6 1176.7M276.4 1120.5 280.9 1122.8 285.5 1127.1 290 1133.2 294.6 1141 299.1 1150.1 303.7 1160.2 308.2 1170.9 312.8 1182 317.3 1192.9 321.9 1203.5 326.4 1213.4 331 1222.3 335.6 1230.2 340.1 1236.9 344.7 1242.4 349.2 1246.8 353.8 1250.3 358.3 1252.9 362.9 1255 367.4 1256.6 372 1258 376.5 1259.3 381.1 1260.6 385.6 1261.8 390.2 1262.8 394.7 1263.4 399.3 1263.3 403.8 1262.5M472.1 1177.6 476.7 1177.9M270.4 1121.6 275 1123.9 279.5 1128.2 284.1 1134.3 288.6 1142 293.2 1151.1 297.8 1161.2 302.3 1172 306.9 1183.1 311.4 1194 316 1204.6 320.5 1214.4 325.1 1223.4 329.6 1231.2 334.2 1238 338.7 1243.5 343.3 1247.9 347.8 1251.4 352.4 1254 356.9 1256.1 361.5 1257.7 366 1259.1 370.6 1260.4 375.1 1261.7 379.7 1262.9 384.2 1263.9 388.8 1264.5 393.3 1264.4M466.2 1178.7 470.7 1179M264.5 1122.6 269.1 1124.9 273.6 1129.2 278.2 1135.3 282.7 1143.1 287.3 1152.2 291.8 1162.3 296.4 1173 300.9 1184.1 305.5 1195 310 1205.6 314.6 1215.5 319.1 1224.4 323.7 1232.3 328.2 1239 332.8 1244.5 337.3 1248.9 341.9 1252.4 346.4 1255.1 351 1257.1 355.5 1258.7 360.1 1260.1 364.6 1261.4 369.2 1262.7 373.8 1263.9 378.3 1264.9 382.9 1265.5 387.4 1265.5M460.2 1179.7 464.8 1180M258.6 1123.6 263.1 1125.9 267.7 1130.2 272.2 1136.3 276.8 1144.1 281.3 1153.2 285.9 1163.3 290.4 1174 295 1185.1 299.5 1196 304.1 1206.6 308.6 1216.5 313.2 1225.4 317.7 1233.3 322.3 1240 326.8 1245.5 331.4 1249.9 336 1253.4 340.5 1256.1 345.1 1258.1 349.6 1259.7 354.2 1261.1 358.7 1262.4 363.3 1263.7 367.8 1264.9 372.4 1265.9 376.9 1266.5 381.5 1266.5M454.3 1180.7 458.9 1181M252.6 1124.6 257.2 1126.9 261.7 1131.2 266.3 1137.3 270.8 1145 275.4 1154.1 279.9 1164.2 284.5 1175 289 1186 293.6 1197 298.1 1207.5 302.7 1217.4 307.3 1226.3 311.8 1234.2 316.4 1240.9 320.9 1246.4 325.5 1250.9 330 1254.3 334.6 1257 339.1 1259 343.7 1260.6 348.2 1262 352.8 1263.4 357.3 1264.7 361.9 1265.9 366.4 1266.9 371 1267.4 375.5 1267.4M448.4 1181.7 452.9 1182M246.7 1125.4 251.2 1127.7 255.8 1132 260.3 1138.1 264.9 1145.8 269.5 1154.9 274 1165 278.6 1175.7 283.1 1186.8 287.7 1197.7 292.2 1208.3 296.8 1218.1 301.3 1227 305.9 1234.9 310.4 1241.6 315 1247.1 319.5 1251.6 324.1 1255 328.6 1257.7 333.2 1259.7 337.7 1261.3 342.3 1262.7 346.8 1264 351.4 1265.3 355.9 1266.6 360.5 1267.5 365 1268.1 369.6 1268.1M442.4 1182.5 447 1182.8M240.8 1126 245.3 1128.3 249.9 1132.5 254.4 1138.6 259 1146.3 263.5 1155.4 268.1 1165.5 272.6 1176.2 277.2 1187.2 281.7 1198.1 286.3 1208.7 290.8 1218.5 295.4 1227.4 299.9 1235.2 304.5 1241.9 309 1247.4 313.6 1251.9 318.1 1255.3 322.7 1258 327.2 1260 331.8 1261.6 336.4 1263 340.9 1264.3 345.5 1265.6 350 1266.8 354.6 1267.8 359.1 1268.4 363.7 1268.4M436.5 1183.1 441.1 1183.4M234.8 1126.2 239.4 1128.5 243.9 1132.7 248.5 1138.8 253 1146.5 257.6 1155.5 262.1 1165.5 266.7 1176.2 271.2 1187.2 275.8 1198 280.3 1208.5 284.9 1218.3 289.4 1227.2 294 1235 298.5 1241.6 303.1 1247.1 307.7 1251.5 312.2 1255 316.8 1257.6 321.3 1259.7 325.9 1261.3 330.4 1262.7 335 1264 339.5 1265.3 344.1 1266.5 348.6 1267.5 353.2 1268.1M430.6 1183.3 435.1 1183.6M228.9 1125.9 233.4 1128.2 238 1132.4 242.5 1138.5 247.1 1146.1 251.6 1155 256.2 1165 260.7 1175.6 265.3 1186.5 269.9 1197.3 274.4 1207.7 279 1217.4 283.5 1226.2 288.1 1234 292.6 1240.6 297.2 1246 301.7 1250.4 306.3 1253.8 310.8 1256.5 315.4 1258.5 319.9 1260.1 324.5 1261.5 329 1262.8 333.6 1264.1 338.1 1265.3 342.7 1266.3M424.6 1183 429.2 1183.3M222.9 1125 227.5 1127.3 232 1131.5 236.6 1137.5 241.2 1145.1 245.7 1153.9 250.3 1163.8 254.8 1174.3 259.4 1185 263.9 1195.7 268.5 1206 273 1215.6 277.6 1224.4 282.1 1232 286.7 1238.6 291.2 1244 295.8 1248.3 300.3 1251.8 304.9 1254.4 309.4 1256.4M217 1123.5 221.6 1125.8 226.1 1129.9 230.7 1135.9 235.2 1143.3 239.8 1152.1 244.3 1161.8 248.9 1172.1 253.4 1182.7 258 1193.3 262.5 1203.4 267.1 1212.9 271.6 1221.5 276.2 1229.1 280.7 1235.5 285.3 1240.9 289.8 1245.2 294.4 1248.6 298.9 1251.2M211.1 1121.3 215.6 1123.6 220.2 1127.7 224.7 1133.5 229.3 1140.8 233.8 1149.4 238.4 1158.9 242.9 1169.1 247.5 1179.5 252 1189.9 256.6 1199.8 261.1 1209.1 265.7 1217.6 270.3 1225 274.8 1231.4 279.4 1236.7 283.9 1240.9 288.5 1244.2M205.1 1118.4 209.7 1120.7 214.2 1124.7 218.8 1130.4 223.3 1137.6 227.9 1146 232.4 1155.3 237 1165.2 241.6 1175.4 246.1 1185.5 250.7 1195.3 255.2 1204.4 259.8 1212.6 264.3 1219.9 268.9 1226.1 273.4 1231.3 278 1235.5M203.8 1117.1 208.3 1121 212.9 1126.6 217.4 1133.6 222 1141.8 226.5 1150.9 231.1 1160.5 235.6 1170.4 240.2 1180.3 244.7 1189.8 249.3 1198.6 253.8 1206.7 258.4 1213.8 262.9 1219.8 267.5 1224.9M197.8 1113 202.4 1116.8 206.9 1122.2 211.5 1129 216 1137 220.6 1145.8 225.1 1155.1 229.7 1164.7 234.2 1174.3 238.8 1183.5 243.3 1192.1 247.9 1199.9 252.4 1206.8 257 1212.7M191.9 1108.5 196.4 1112.2 201 1117.5 205.5 1124 210.1 1131.7 214.6 1140.2 219.2 1149.2 223.7 1158.5 228.3 1167.7 232.8 1176.6 237.4 1184.9 242 1192.5 246.5 1199.1M190.5 1107.3 195 1112.4 199.6 1118.8 204.2 1126.1 208.7 1134.3 213.3 1143 217.8 1152 222.4 1160.8 226.9 1169.4 231.5 1177.4 236 1184.6 240.6 1191.1M184.6 1102.4 189.1 1107.3 193.7 1113.4 198.2 1120.5 202.8 1128.4 207.3 1136.8 211.9 1145.4 216.4 1153.9 221 1162.1 225.5 1169.8 230.1 1176.8 234.6 1183M174.1 1094.2 178.6 1097.7 183.2 1102.4 187.7 1108.3 192.3 1115.1 196.8 1122.7 201.4 1130.7 205.9 1139 210.5 1147.1 215 1155 219.6 1162.4 224.1 1169.2 228.7 1175.1M168.1 1090 172.7 1093.3 177.2 1097.9 181.8 1103.6 186.3 1110.2 190.9 1117.4 195.4 1125.2 200 1133.1 204.6 1141 209.1 1148.5 213.7 1155.7 218.2 1162.1 222.8 1167.9 227.3 1172.9M162.2 1086.3 166.7 1089.6 171.3 1094 175.9 1099.5 180.4 1105.9 185 1112.9 189.5 1120.4 194.1 1128 198.6 1135.6 203.2 1142.9 207.7 1149.8 212.3 1156.1 216.8 1161.6 221.4 1166.4 225.9 1170.5M151.7 1081.6 156.3 1083.5 160.8 1086.7 165.4 1091 169.9 1096.3 174.5 1102.5 179 1109.3 183.6 1116.6 188.1 1124 192.7 1131.3 197.2 1138.4 201.8 1145.1 206.3 1151.2 210.9 1156.6 215.4 1161.3 220 1165.3 224.5 1168.5M145.8 1079.7 150.3 1081.6 154.9 1084.8 159.4 1089 164 1094.2 168.5 1100.3 173.1 1106.9 177.6 1114 182.2 1121.2 186.7 1128.4 191.3 1135.4 195.8 1141.9 200.4 1147.8 205 1153.1 209.5 1157.7 214.1 1161.6 218.6 1164.8 223.2 1167.4 227.7 1169.6 232.3 1171.3M341.5 1136.4 346.1 1137.1M139.8 1079 144.4 1080.9 148.9 1084 153.5 1088.1 158 1093.3 162.6 1099.2 167.1 1105.8 171.7 1112.8 176.3 1119.9 180.8 1127 185.4 1133.8 189.9 1140.3 194.5 1146.1 199 1151.3 203.6 1155.9 208.1 1159.7 212.7 1162.9 217.2 1165.5 221.8 1167.6 226.3 1169.3 230.9 1170.8 235.4 1172.2 240 1173.5 244.5 1174.8 249.1 1176.1 253.6 1177.2 258.2 1178 262.7 1178.5 267.3 1178.6M335.6 1135.7 340.1 1136.4M133.9 1079.4 138.5 1081.3 143 1084.4 147.6 1088.5 152.1 1093.6 156.7 1099.6 161.2 1106.1 165.8 1113 170.3 1120.1 174.9 1127.2 179.4 1134 184 1140.4 188.5 1146.2 193.1 1151.4 197.6 1155.9 202.2 1159.7 206.7 1162.9 211.3 1165.5 215.8 1167.6 220.4 1169.4 224.9 1170.8 229.5 1172.2 234 1173.5 238.6 1174.8 243.2 1176.1 247.7 1177.2 252.3 1178 256.8 1178.5 261.4 1178.6M329.6 1136.1 334.2 1136.8M395.1 1035 389.2 1036.6 383.2 1039.4 377.3 1043.2 371.4 1048.1 365.4 1053.7 359.5 1059.9 353.5 1066.6 347.6 1073.4 341.7 1080.1 335.7 1086.6 329.8 1092.7 323.9 1098.3 317.9 1103.2 312 1107.4 306.1 1110.9 300.1 1113.8 294.2 1116.1 288.2 1117.9 282.3 1119.3 276.4 1120.5 270.4 1121.6 264.5 1122.6 258.6 1123.6 252.6 1124.6 246.7 1125.4 240.8 1126 234.8 1126.2 228.9 1125.9 222.9 1125 217 1123.5 211.1 1121.3 205.1 1118.4M151.7 1081.6 145.8 1079.7 139.8 1079 133.9 1079.4M399.7 1036.9 393.7 1038.5 387.8 1041.3 381.8 1045.2 375.9 1050 370 1055.7 364 1062 358.1 1068.6 352.2 1075.5 346.2 1082.2 340.3 1088.8 334.4 1094.9 328.4 1100.5 322.5 1105.4 316.5 1109.7 310.6 1113.2 304.7 1116.1 298.7 1118.4 292.8 1120.2 286.9 1121.6 280.9 1122.8 275 1123.9 269.1 1124.9 263.1 1125.9 257.2 1126.9 251.2 1127.7 245.3 1128.3 239.4 1128.5 233.4 1128.2 227.5 1127.3 221.6 1125.8 215.6 1123.6 209.7 1120.7 203.8 1117.1 197.8 1113 191.9 1108.5M174.1 1094.2 168.1 1090 162.2 1086.3 156.3 1083.5 150.3 1081.6 144.4 1080.9 138.5 1081.3M404.2 1040 398.3 1041.6 392.3 1044.4 386.4 1048.3 380.5 1053.3 374.5 1059 368.6 1065.4 362.6 1072.1 356.7 1079.1 350.8 1086 344.8 1092.6 338.9 1098.8 333 1104.5 327 1109.5 321.1 1113.8 315.2 1117.4 309.2 1120.3 303.3 1122.6 297.4 1124.5 291.4 1125.9 285.5 1127.1 279.5 1128.2 273.6 1129.2 267.7 1130.2 261.7 1131.2 255.8 1132 249.9 1132.5 243.9 1132.7 238 1132.4 232 1131.5 226.1 1129.9 220.2 1127.7 214.2 1124.7 208.3 1121 202.4 1116.8 196.4 1112.2 190.5 1107.3 184.6 1102.4 178.6 1097.7 172.7 1093.3 166.7 1089.6 160.8 1086.7 154.9 1084.8 148.9 1084 143 1084.4M408.8 1044.1 402.8 1045.8 396.9 1048.6 390.9 1052.7 385 1057.7 379.1 1063.6 373.1 1070.1 367.2 1077 361.3 1084.2 355.3 1091.2 349.4 1098 343.5 1104.4 337.5 1110.2 331.6 1115.3 325.6 1119.7 319.7 1123.4 313.8 1126.3 307.8 1128.7 301.9 1130.6 296 1132 290 1133.2 284.1 1134.3 278.2 1135.3 272.2 1136.3 266.3 1137.3 260.3 1138.1 254.4 1138.6 248.5 1138.8 242.5 1138.5 236.6 1137.5 230.7 1135.9 224.7 1133.5 218.8 1130.4 212.9 1126.6 206.9 1122.2 201 1117.5 195 1112.4 189.1 1107.3 183.2 1102.4 177.2 1097.9 171.3 1094 165.4 1091 159.4 1089 153.5 1088.1 147.6 1088.5M413.3 1049.2 407.4 1050.9 401.4 1053.9 395.5 1058 389.6 1063.2 383.6 1069.3 377.7 1076 371.8 1083.2 365.8 1090.5 359.9 1097.8 353.9 1104.8 348 1111.4 342.1 1117.4 336.1 1122.6 330.2 1127.2 324.3 1130.9 318.3 1134 312.4 1136.4 306.5 1138.3 300.5 1139.8 294.6 1141 288.6 1142 282.7 1143.1 276.8 1144.1 270.8 1145 264.9 1145.8 259 1146.3 253 1146.5 247.1 1146.1 241.2 1145.1 235.2 1143.3 229.3 1140.8 223.3 1137.6 217.4 1133.6 211.5 1129 205.5 1124 199.6 1118.8 193.7 1113.4 187.7 1108.3 181.8 1103.6 175.9 1099.5 169.9 1096.3 164 1094.2 158 1093.3 152.1 1093.6M417.9 1055.2 411.9 1056.9 406 1059.9 400.1 1064.2 394.1 1069.6 388.2 1075.8 382.2 1082.8 376.3 1090.3 370.4 1097.9 364.4 1105.5 358.5 1112.8 352.6 1119.6 346.6 1125.8 340.7 1131.2 334.8 1135.9 328.8 1139.8 322.9 1142.9 316.9 1145.4 311 1147.3 305.1 1148.8 299.1 1150.1 293.2 1151.1 287.3 1152.2 281.3 1153.2 275.4 1154.1 269.5 1154.9 263.5 1155.4 257.6 1155.5 251.6 1155 245.7 1153.9 239.8 1152.1 233.8 1149.4 227.9 1146 222 1141.8 216 1137 210.1 1131.7 204.2 1126.1 198.2 1120.5 192.3 1115.1 186.3 1110.2 180.4 1105.9 174.5 1102.5 168.5 1100.3 162.6 1099.2 156.7 1099.6M422.4 1061.7 416.5 1063.4 410.5 1066.6 404.6 1071 398.7 1076.6 392.7 1083.1 386.8 1090.4 380.9 1098.1 374.9 1106.1 369 1114 363.1 1121.6 357.1 1128.7 351.2 1135.1 345.2 1140.8 339.3 1145.6 333.4 1149.6 327.4 1152.9 321.5 1155.4 315.6 1157.4 309.6 1158.9 303.7 1160.2 297.8 1161.2 291.8 1162.3 285.9 1163.3 279.9 1164.2 274 1165 268.1 1165.5 262.1 1165.5 256.2 1165 250.3 1163.8 244.3 1161.8 238.4 1158.9 232.4 1155.3 226.5 1150.9 220.6 1145.8 214.6 1140.2 208.7 1134.3 202.8 1128.4 196.8 1122.7 190.9 1117.4 185 1112.9 179 1109.3 173.1 1106.9 167.1 1105.8 161.2 1106.1M427 1068.6 421 1070.4 415.1 1073.6 409.2 1078.2 403.2 1084 397.3 1090.9 391.3 1098.4 385.4 1106.5 379.5 1114.8 373.5 1123 367.6 1130.9 361.7 1138.3 355.7 1145 349.8 1150.9 343.9 1156 337.9 1160.1 332 1163.5 326 1166.1 320.1 1168.1 314.2 1169.7 308.2 1170.9 302.3 1172 296.4 1173 290.4 1174 284.5 1175 278.6 1175.7 272.6 1176.2 266.7 1176.2 260.7 1175.6 254.8 1174.3 248.9 1172.1 242.9 1169.1 237 1165.2 231.1 1160.5 225.1 1155.1 219.2 1149.2 213.3 1143 207.3 1136.8 201.4 1130.7 195.4 1125.2 189.5 1120.4 183.6 1116.6 177.6 1114 171.7 1112.8 165.8 1113M431.5 1075.7 425.6 1077.5 419.6 1080.9 413.7 1085.6 407.8 1091.7 401.8 1098.8 395.9 1106.7 390 1115.1 384 1123.7 378.1 1132.3 372.2 1140.5 366.2 1148.2 360.3 1155.2 354.3 1161.4 348.4 1166.6 342.5 1170.9 336.5 1174.4 330.6 1177.1 324.7 1179.1 318.7 1180.7 312.8 1182 306.9 1183.1 300.9 1184.1 295 1185.1 289 1186 283.1 1186.8 277.2 1187.2 271.2 1187.2 265.3 1186.5 259.4 1185 253.4 1182.7 247.5 1179.5 241.6 1175.4 235.6 1170.4 229.7 1164.7 223.7 1158.5 217.8 1152 211.9 1145.4 205.9 1139 200 1133.1 194.1 1128 188.1 1124 182.2 1121.2 176.3 1119.9 170.3 1120.1M436.1 1082.8 430.1 1084.6 424.2 1088.1 418.3 1093 412.3 1099.3 406.4 1106.6 400.5 1114.9 394.5 1123.6 388.6 1132.6 382.6 1141.5 376.7 1150.1 370.8 1158.1 364.8 1165.3 358.9 1171.7 353 1177.1 347 1181.6 341.1 1185.2 335.2 1187.9 329.2 1190.1 323.3 1191.7 317.3 1192.9 311.4 1194 305.5 1195 299.5 1196 293.6 1197 287.7 1197.7 281.7 1198.1 275.8 1198 269.9 1197.3 263.9 1195.7 258 1193.3 252 1189.9 246.1 1185.5 240.2 1180.3 234.2 1174.3 228.3 1167.7 222.4 1160.8 216.4 1153.9 210.5 1147.1 204.6 1141 198.6 1135.6 192.7 1131.3 186.7 1128.4 180.8 1127 174.9 1127.2M440.6 1089.6 434.7 1091.4 428.8 1095 422.8 1100.1 416.9 1106.6 410.9 1114.2 405 1122.7 399.1 1131.8 393.1 1141.1 387.2 1150.4 381.3 1159.3 375.3 1167.6 369.4 1175.1 363.4 1181.7 357.5 1187.3 351.6 1191.9 345.6 1195.6 339.7 1198.4 333.8 1200.6 327.8 1202.2 321.9 1203.5 316 1204.6 310 1205.6 304.1 1206.6 298.1 1207.5 292.2 1208.3 286.3 1208.7 280.3 1208.5 274.4 1207.7 268.5 1206 262.5 1203.4 256.6 1199.8 250.7 1195.3 244.7 1189.8 238.8 1183.5 232.8 1176.6 226.9 1169.4 221 1162.1 215 1155 209.1 1148.5 203.2 1142.9 197.2 1138.4 191.3 1135.4 185.4 1133.8 179.4 1134M445.2 1096 439.2 1097.9 433.3 1101.5 427.4 1106.8 421.4 1113.5 415.5 1121.3 409.6 1130.1 403.6 1139.5 397.7 1149.1 391.7 1158.7 385.8 1167.9 379.9 1176.4 373.9 1184.2 368 1191 362.1 1196.8 356.1 1201.5 350.2 1205.3 344.3 1208.2 338.3 1210.4 332.4 1212.1 326.4 1213.4 320.5 1214.4 314.6 1215.5 308.6 1216.5 302.7 1217.4 296.8 1218.1 290.8 1218.5 284.9 1218.3 279 1217.4 273 1215.6 267.1 1212.9 261.1 1209.1 255.2 1204.4 249.3 1198.6 243.3 1192.1 237.4 1184.9 231.5 1177.4 225.5 1169.8 219.6 1162.4 213.7 1155.7 207.7 1149.8 201.8 1145.1 195.8 1141.9 189.9 1140.3 184 1140.4M449.7 1101.8 443.8 1103.7 437.9 1107.5 431.9 1112.9 426 1119.7 420 1127.8 414.1 1136.9 408.2 1146.5 402.2 1156.4 396.3 1166.2 390.4 1175.7 384.4 1184.5 378.5 1192.4 372.6 1199.4 366.6 1205.4 360.7 1210.2 354.7 1214.1 348.8 1217.1 342.9 1219.3 336.9 1221 331 1222.3 325.1 1223.4 319.1 1224.4 313.2 1225.4 307.3 1226.3 301.3 1227 295.4 1227.4 289.4 1227.2 283.5 1226.2 277.6 1224.4 271.6 1221.5 265.7 1217.6 259.8 1212.6 253.8 1206.7 247.9 1199.9 242 1192.5 236 1184.6 230.1 1176.8 224.1 1169.2 218.2 1162.1 212.3 1156.1 206.3 1151.2 200.4 1147.8 194.5 1146.1 188.5 1146.2M454.3 1107 448.3 1109 442.4 1112.8 436.5 1118.3 430.5 1125.3 424.6 1133.6 418.7 1142.8 412.7 1152.7 406.8 1162.8 400.9 1172.9 394.9 1182.6 389 1191.6 383 1199.7 377.1 1206.9 371.2 1212.9 365.2 1217.9 359.3 1221.8 353.4 1224.9 347.4 1227.1 341.5 1228.8 335.6 1230.2 329.6 1231.2 323.7 1232.3 317.7 1233.3 311.8 1234.2 305.9 1234.9 299.9 1235.2 294 1235 288.1 1234 282.1 1232 276.2 1229.1 270.3 1225 264.3 1219.9 258.4 1213.8 252.4 1206.8 246.5 1199.1 240.6 1191.1 234.6 1183 228.7 1175.1 222.8 1167.9 216.8 1161.6 210.9 1156.6 205 1153.1 199 1151.3 193.1 1151.4M458.8 1111.5 452.9 1113.5 447 1117.3 441 1123 435.1 1130.1 429.1 1138.6 423.2 1148 417.3 1158 411.3 1168.4 405.4 1178.6 399.5 1188.5 393.5 1197.6 387.6 1206 381.7 1213.2 375.7 1219.4 369.8 1224.5 363.8 1228.5 357.9 1231.5 352 1233.8 346 1235.5 340.1 1236.9 334.2 1238 328.2 1239 322.3 1240 316.4 1240.9 310.4 1241.6 304.5 1241.9 298.5 1241.6 292.6 1240.6 286.7 1238.6 280.7 1235.5 274.8 1231.4 268.9 1226.1 262.9 1219.8 257 1212.7M227.3 1172.9 221.4 1166.4 215.4 1161.3 209.5 1157.7 203.6 1155.9 197.6 1155.9M463.4 1115.3 457.4 1117.3 451.5 1121.2 445.6 1126.9 439.6 1134.2 433.7 1142.7 427.8 1152.3 421.8 1162.5 415.9 1173 410 1183.4 404 1193.4 398.1 1202.7 392.1 1211.1 386.2 1218.5 380.3 1224.7 374.3 1229.9 368.4 1233.9 362.5 1237 356.5 1239.4 350.6 1241.1 344.7 1242.4 338.7 1243.5 332.8 1244.5 326.8 1245.5 320.9 1246.4 315 1247.1 309 1247.4 303.1 1247.1 297.2 1246 291.2 1244 285.3 1240.9 279.4 1236.7 273.4 1231.3 267.5 1224.9M225.9 1170.5 220 1165.3 214.1 1161.6 208.1 1159.7 202.2 1159.7M467.9 1118.5 462 1120.5 456.1 1124.4 450.1 1130.2 444.2 1137.5 438.3 1146.2 432.3 1155.8 426.4 1166.1 420.4 1176.7 414.5 1187.2 408.6 1197.3 402.6 1206.8 396.7 1215.3 390.8 1222.7 384.8 1229 378.9 1234.2 373 1238.3 367 1241.4 361.1 1243.8 355.1 1245.5 349.2 1246.8 343.3 1247.9 337.3 1248.9 331.4 1249.9 325.5 1250.9 319.5 1251.6 313.6 1251.9 307.7 1251.5 301.7 1250.4 295.8 1248.3 289.8 1245.2 283.9 1240.9 278 1235.5M224.5 1168.5 218.6 1164.8 212.7 1162.9 206.7 1162.9M472.5 1121.1 466.6 1123.1 460.6 1127.1 454.7 1132.8 448.7 1140.2 442.8 1149 436.9 1158.7 430.9 1169.1 425 1179.7 419.1 1190.3 413.1 1200.5 407.2 1210 401.3 1218.6 395.3 1226.1 389.4 1232.4 383.4 1237.6 377.5 1241.7 371.6 1244.9 365.6 1247.2 359.7 1249 353.8 1250.3 347.8 1251.4 341.9 1252.4 336 1253.4 330 1254.3 324.1 1255 318.1 1255.3 312.2 1255 306.3 1253.8 300.3 1251.8 294.4 1248.6 288.5 1244.2M223.2 1167.4 217.2 1165.5 211.3 1165.5M477 1123.2 471.1 1125.2 465.2 1129.2 459.2 1135 453.3 1142.4 447.4 1151.2 441.4 1160.9 435.5 1171.4 429.6 1182.1 423.6 1192.7 417.7 1202.9 411.7 1212.5 405.8 1221.1 399.9 1228.6 393.9 1235 388 1240.2 382.1 1244.4 376.1 1247.5 370.2 1249.9 364.2 1251.6 358.3 1252.9 352.4 1254 346.4 1255.1 340.5 1256.1 334.6 1257 328.6 1257.7 322.7 1258 316.8 1257.6 310.8 1256.5 304.9 1254.4 298.9 1251.2M227.7 1169.6 221.8 1167.6 215.8 1167.6M481.6 1125 475.7 1127 469.7 1130.9 463.8 1136.8 457.8 1144.2 451.9 1153 446 1162.8 440 1173.2 434.1 1184 428.2 1194.6 422.2 1204.9 416.3 1214.4 410.4 1223.1 404.4 1230.6 398.5 1237 392.5 1242.3 386.6 1246.4 380.7 1249.6 374.7 1251.9 368.8 1253.7 362.9 1255 356.9 1256.1 351 1257.1 345.1 1258.1 339.1 1259 333.2 1259.7 327.2 1260 321.3 1259.7 315.4 1258.5 309.4 1256.4M232.3 1171.3 226.3 1169.3 220.4 1169.4M486.1 1126.4 480.2 1128.5 474.3 1132.4 468.3 1138.3 462.4 1145.7 456.5 1154.5 450.5 1164.3 444.6 1174.8 438.7 1185.5 432.7 1196.2 426.8 1206.5 420.8 1216 414.9 1224.7 409 1232.2 403 1238.6 397.1 1243.9 391.2 1248 385.2 1251.2 379.3 1253.5 373.4 1255.3 367.4 1256.6 361.5 1257.7 355.5 1258.7 349.6 1259.7 343.7 1260.6 337.7 1261.3 331.8 1261.6 325.9 1261.3 319.9 1260.1M230.9 1170.8 224.9 1170.8M490.7 1127.8 484.8 1129.8 478.8 1133.8 472.9 1139.6 467 1147.1 461 1155.9 455.1 1165.7 449.1 1176.1 443.2 1186.9 437.3 1197.6 431.3 1207.8 425.4 1217.4 419.5 1226 413.5 1233.6 407.6 1240 401.7 1245.3 395.7 1249.4 389.8 1252.6 383.8 1254.9 377.9 1256.7 372 1258 366 1259.1 360.1 1260.1 354.2 1261.1 348.2 1262 342.3 1262.7 336.4 1263 330.4 1262.7 324.5 1261.5M235.4 1172.2 229.5 1172.2M495.2 1129.1 489.3 1131.1 483.4 1135.1 477.4 1140.9 471.5 1148.4 465.6 1157.2 459.6 1167 453.7 1177.5 447.8 1188.2 441.8 1198.9 435.9 1209.1 429.9 1218.7 424 1227.4 418.1 1234.9 412.1 1241.3 406.2 1246.6 400.3 1250.7 394.3 1253.9 388.4 1256.2 382.5 1258 376.5 1259.3 370.6 1260.4 364.6 1261.4 358.7 1262.4 352.8 1263.4 346.8 1264 340.9 1264.3 335 1264 329 1262.8M240 1173.5 234 1173.5M499.8 1130.4 493.9 1132.4 487.9 1136.4 482 1142.2 476.1 1149.7 470.1 1158.5 464.2 1168.3 458.2 1178.8 452.3 1189.5 446.4 1200.2 440.4 1210.4 434.5 1220 428.6 1228.7 422.6 1236.2 416.7 1242.6 410.8 1247.9 404.8 1252 398.9 1255.2 392.9 1257.5 387 1259.3 381.1 1260.6 375.1 1261.7 369.2 1262.7 363.3 1263.7 357.3 1264.7 351.4 1265.3 345.5 1265.6 339.5 1265.3 333.6 1264.1M244.5 1174.8 238.6 1174.8M504.4 1131.7 498.4 1133.7 492.5 1137.7 486.5 1143.5 480.6 1150.9 474.7 1159.7 468.7 1169.5 462.8 1180 456.9 1190.7 450.9 1201.4 445 1211.7 439.1 1221.2 433.1 1229.9 427.2 1237.4 421.2 1243.8 415.3 1249.1 409.4 1253.2 403.4 1256.4 397.5 1258.8 391.6 1260.5 385.6 1261.8 379.7 1262.9 373.8 1263.9 367.8 1264.9 361.9 1265.9 355.9 1266.6 350 1266.8 344.1 1266.5 338.1 1265.3M249.1 1176.1 243.2 1176.1M508.9 1132.8 503 1134.8 497 1138.8 491.1 1144.6 485.2 1152 479.2 1160.8 473.3 1170.6 467.4 1181.1 461.4 1191.8 455.5 1202.5 449.5 1212.7 443.6 1222.3 437.7 1230.9 431.7 1238.4 425.8 1244.8 419.9 1250.1 413.9 1254.2 408 1257.4 402.1 1259.7 396.1 1261.5 390.2 1262.8 384.2 1263.9 378.3 1264.9 372.4 1265.9 366.4 1266.9 360.5 1267.5 354.6 1267.8 348.6 1267.5 342.7 1266.3M253.6 1177.2 247.7 1177.2M513.5 1133.6 507.5 1135.7 501.6 1139.6 495.6 1145.4 489.7 1152.8 483.8 1161.6 477.8 1171.4 471.9 1181.8 466 1192.5 460 1203.2 454.1 1213.4 448.2 1222.9 442.2 1231.5 436.3 1239.1 430.3 1245.4 424.4 1250.7 418.5 1254.8 412.5 1258 406.6 1260.3 400.7 1262.1 394.7 1263.4 388.8 1264.5 382.9 1265.5 376.9 1266.5 371 1267.4 365 1268.1 359.1 1268.4 353.2 1268.1M258.2 1178 252.3 1178M518 1134.1 512.1 1136.2 506.1 1140.1 500.2 1145.9 494.3 1153.3 488.3 1162 482.4 1171.7 476.5 1182.1 470.5 1192.8 464.6 1203.4 458.6 1213.5 452.7 1223 446.8 1231.6 440.8 1239.1 434.9 1245.5 429 1250.7 423 1254.8 417.1 1257.9 411.2 1260.3 405.2 1262 399.3 1263.3 393.3 1264.4 387.4 1265.5 381.5 1266.5 375.5 1267.4 369.6 1268.1 363.7 1268.4M262.7 1178.5 256.8 1178.5M522.6 1134.2 516.6 1136.2 510.7 1140.1 504.8 1145.8 498.8 1153.2 492.9 1161.8 486.9 1171.5 481 1181.8 475.1 1192.4 469.1 1202.9 463.2 1213 457.3 1222.4 451.3 1230.9 445.4 1238.4 439.5 1244.7 433.5 1249.9 427.6 1254 421.6 1257.1 415.7 1259.4 409.8 1261.2 403.8 1262.5M267.3 1178.6 261.4 1178.6M527.1 1133.6 521.2 1135.6 515.2 1139.5 509.3 1145.2 503.4 1152.4 497.4 1161 491.5 1170.6 485.6 1180.8 479.6 1191.2 473.7 1201.6 467.8 1211.6 461.8 1221 455.9 1229.4 449.9 1236.8 444 1243 438.1 1248.1 432.1 1252.2 426.2 1255.3M531.7 1132.4 525.7 1134.4 519.8 1138.2 513.9 1143.8 507.9 1151 502 1159.4 496.1 1168.9 490.1 1178.9 484.2 1189.2 478.2 1199.5 472.3 1209.3 466.4 1218.5 460.4 1226.8 454.5 1234.1 448.6 1240.3 442.6 1245.3 436.7 1249.3M530.3 1132.4 524.3 1136.2 518.4 1141.8 512.5 1148.8 506.5 1157.1 500.6 1166.3 494.7 1176.2 488.7 1186.3 482.8 1196.4 476.9 1206 470.9 1215.1 465 1223.2 459 1230.4 453.1 1236.4M534.8 1129.8 528.9 1133.6 523 1138.9 517 1145.8 511.1 1153.9 505.2 1163 499.2 1172.6 493.3 1182.5 487.3 1192.3 481.4 1201.8 475.5 1210.6 469.5 1218.5 463.6 1225.5M533.5 1130.2 527.5 1135.5 521.6 1142.2 515.6 1150 509.7 1158.8 503.8 1168.2 497.8 1177.8 491.9 1187.4 486 1196.6 480 1205.1 474.1 1212.9M532.1 1131.4 526.1 1137.9 520.2 1145.5 514.3 1154.1 508.3 1163.1 502.4 1172.4 496.4 1181.7 490.5 1190.6 484.6 1198.9M536.6 1126.9 530.7 1133.2 524.7 1140.6 518.8 1148.8 512.9 1157.5 506.9 1166.5 501 1175.4 495.1 1184M535.2 1128.2 529.3 1135.3 523.4 1143.2 517.4 1151.6 511.5 1160.2 505.6 1168.8M539.8 1123.2 533.9 1130 527.9 1137.6 522 1145.6 516 1153.9M544.3 1118.3 538.4 1124.9 532.5 1132.1 526.5 1139.9 520.6 1147.8 514.7 1155.7M554.8 1108.5 548.9 1113.9 543 1120.2 537 1127.2 531.1 1134.6 525.1 1142.2 519.2 1149.8 513.3 1157.1M565.3 1100.8 559.4 1105 553.4 1110.2 547.5 1116.2 541.6 1123 535.6 1130.1 529.7 1137.5 523.8 1144.8 517.8 1151.8 511.9 1158.4 506 1164.3M575.8 1095.3 569.9 1098.2 563.9 1102.2 558 1107.3 552.1 1113.2 546.1 1119.7 540.2 1126.6 534.3 1133.7 528.3 1140.8 522.4 1147.6 516.4 1154 510.5 1159.8 504.6 1164.9 498.6 1169.3M586.3 1092.1 580.4 1093.8 574.4 1096.6 568.5 1100.5 562.5 1105.4 556.6 1111.2 550.7 1117.6 544.7 1124.3 538.8 1131.3 532.9 1138.2 526.9 1144.8 521 1151 515.1 1156.7 509.1 1161.7 503.2 1166 497.2 1169.6 491.3 1172.5 485.4 1174.8M590.8 1091.7 584.9 1093.3 579 1096.1 573 1100 567.1 1104.8 561.2 1110.5 555.2 1116.7 549.3 1123.4 543.4 1130.2 537.4 1137 531.5 1143.6 525.5 1149.7 519.6 1155.3 513.7 1160.2 507.7 1164.4 501.8 1168 495.9 1170.9 489.9 1173.2 484 1175 478.1 1176.4 472.1 1177.6 466.2 1178.7 460.2 1179.7 454.3 1180.7 448.4 1181.7 442.4 1182.5 436.5 1183.1 430.6 1183.3 424.6 1183M341.5 1136.4 335.6 1135.7 329.6 1136.1M595.4 1092.4 589.5 1094 583.5 1096.8 577.6 1100.6 571.7 1105.5 565.7 1111.1 559.8 1117.3 553.8 1124 547.9 1130.8 542 1137.5 536 1144 530.1 1150.1 524.2 1155.7 518.2 1160.6 512.3 1164.8 506.4 1168.3 500.4 1171.2 494.5 1173.5 488.5 1175.3 482.6 1176.7 476.7 1177.9 470.7 1179 464.8 1180 458.9 1181 452.9 1182 447 1182.8 441.1 1183.4 435.1 1183.6 429.2 1183.3M346.1 1137.1 340.1 1136.4 334.2 1136.8" fill="none" stroke="#7a1010" stroke-width="0.6" stroke-opacity="0.28"/>
<path d="M151.7 1081.5L157.6 1084.4L163.6 1088L169.5 1092.3L193.2 1110.9L199.2 1115L205.1 1118.5L209.7 1120.7L203.8 1117.1L197.8 1113L191.9 1108.5L178.7 1097.6L168.2 1090L162.2 1086.3ZM220 1165.2L220.7 1166L218.6 1164.8L221.6 1166.7L228.7 1175.2L246.5 1199.1L257 1212.7L262.9 1219.9L273.4 1231.3L283.9 1240.9L294.4 1248.6L304.9 1254.4L309.4 1256.4L319.9 1260.2L338.1 1265.4L348.6 1267.5L353.2 1268.1L359.1 1268.4L369.6 1268.1L381.5 1266.5L399.3 1263.4L409.8 1261.2L415.7 1259.5L426.2 1255.3L432.2 1252.2L442.7 1245.4L453.1 1236.5L459.1 1230.4L463.6 1225.6L474.1 1212.9L480.1 1205.2L490.6 1190.6L511.5 1160.3L520.6 1147.8L515.6 1154.2L511.9 1158.3L504.5 1164.8L502.6 1166.3L497.2 1169.5L491.3 1172.4L484 1174.9L472.1 1177.6L448.4 1181.6L436.5 1183L430.6 1183.2L428.2 1183.1L423.3 1182.4L417.3 1180.9L411.4 1178.7L405.5 1175.8L399.5 1172.3L393.6 1168.2L369.8 1149.6L363.9 1145.4L358 1141.7L352 1138.9L346.1 1137.1L335.6 1135.6L325.1 1136.5L320.5 1138L316 1140.6L311.4 1143.9L306.9 1147.8L293.2 1161.1L288.6 1165.3L284.1 1169L279.5 1172.3L275 1174.8L270.5 1176.8L265.9 1178L262.2 1178.4L258.2 1178L253.7 1177.1L244.6 1174.8L231.7 1171L227.7 1169.5L223.2 1167.4ZM586.3 1092.2L580.3 1093.7L575.8 1095.3L569.8 1098.2L565.3 1100.8L559.4 1104.9L554.8 1108.5L548.9 1113.9L544.3 1118.3L532.8 1130.6L530.3 1132.4L525.7 1134.4L529.2 1133.3L528.9 1133.6L530.3 1132.9L527.5 1135.5L530.6 1132.8L531.1 1132.6L530.7 1133.2L531.3 1132.6L536.2 1130.5L540.8 1127.9L545.4 1124.7L549.9 1120.9L568.1 1103.5L572.7 1099.6L577.2 1096.3L581.8 1093.7Z" fill="#e8302f" fill-rule="evenodd"/>
<path d="M531.7 1132.4 536.2 1130.5 540.8 1127.9 545.3 1124.7 549.9 1120.9 554.4 1116.7 559 1112.3 563.5 1107.8 568.1 1103.5 572.6 1099.5 577.2 1096.2 581.7 1093.7 586.3 1092.1M525.7 1134.4 530.3 1132.4 534.8 1129.8 539.4 1126.6 543.9 1122.8 548.5 1118.5 553 1114.1 557.6 1109.5 562.1 1105.2 566.7 1101.2 571.3 1097.9 575.8 1095.3 580.4 1093.8M528.9 1133.6 533.5 1130.2 538 1126.3 542.6 1122 547.1 1117.4 551.7 1112.8 556.2 1108.3 560.8 1104.3 565.3 1100.8 569.9 1098.2M527.5 1135.5 532.1 1131.4 536.6 1126.9 541.2 1122.2 545.7 1117.4 550.3 1112.7 554.8 1108.5 559.4 1105M530.7 1133.2 535.2 1128.2 539.8 1123.2 544.3 1118.3 548.9 1113.9M511.5 1160.2 516 1153.9 520.6 1147.8M501 1175.4 505.6 1168.8 510.1 1162.1 514.7 1155.7 519.2 1149.8M490.5 1190.6 495.1 1184 499.6 1177.1 504.2 1170.1 508.7 1163.3 513.3 1157.1 517.8 1151.8M480 1205.1 484.6 1198.9 489.1 1192 493.7 1184.8 498.2 1177.5 502.8 1170.4 507.3 1163.9 511.9 1158.4M469.5 1218.5 474.1 1212.9 478.6 1206.4 483.2 1199.2 487.7 1191.7 492.3 1184.2 496.8 1176.8 501.4 1170.1 506 1164.3 510.5 1159.8M459 1230.4 463.6 1225.5 468.2 1219.7 472.7 1213 477.3 1205.6 481.8 1197.9 486.4 1190.1 490.9 1182.5 495.5 1175.6 500 1169.6 504.6 1164.9M448.6 1240.3 453.1 1236.4 457.7 1231.5 462.2 1225.5 466.8 1218.6 471.3 1211 475.9 1203.1 480.4 1195.1 485 1187.4 489.5 1180.3 494.1 1174.1 498.6 1169.3 503.2 1166M442.6 1245.3 447.2 1241.4 451.7 1236.3 456.3 1230.2 460.8 1223.2 465.4 1215.5 469.9 1207.4 474.5 1199.3 479 1191.4 483.6 1184.1 488.1 1177.9 492.7 1172.9 497.2 1169.6M432.1 1252.2 436.7 1249.3 441.2 1245.3 445.8 1240.2 450.3 1234 454.9 1226.9 459.4 1219.1 464 1210.9 468.6 1202.6 473.1 1194.6 477.7 1187.3 482.2 1180.9 486.8 1175.9 491.3 1172.5M421.6 1257.1 426.2 1255.3 430.8 1252.4 435.3 1248.4 439.9 1243.2 444.4 1236.9 449 1229.7 453.5 1221.9 458.1 1213.6 462.6 1205.2 467.2 1197.2 471.7 1189.8 476.3 1183.4 480.8 1178.3 485.4 1174.8 489.9 1173.2M415.7 1259.4 420.3 1257.6 424.8 1254.7 429.4 1250.6 433.9 1245.4 438.5 1239.1 443 1231.9 447.6 1224 452.1 1215.7 456.7 1207.3 461.2 1199.1 465.8 1191.7 470.3 1185.2 474.9 1180.1 479.4 1176.6 484 1175M409.8 1261.2 414.3 1259.3 418.9 1256.4 423.4 1252.3 428 1247.1 432.5 1240.8 437.1 1233.5 441.6 1225.6 446.2 1217.2 450.7 1208.8 455.3 1200.7 459.8 1193.2 464.4 1186.7 469 1181.6 473.5 1178.1 478.1 1176.4M399.3 1263.3 403.8 1262.5 408.4 1260.7 412.9 1257.7 417.5 1253.6 422 1248.4 426.6 1242.1 431.1 1234.8 435.7 1226.9 440.3 1218.5 444.8 1210.1 449.4 1201.9 453.9 1194.4 458.5 1187.9 463 1182.8 467.6 1179.3 472.1 1177.6M393.3 1264.4 397.9 1263.6 402.5 1261.8 407 1258.8 411.6 1254.7 416.1 1249.5 420.7 1243.1 425.2 1235.9 429.8 1227.9 434.3 1219.6 438.9 1211.1 443.4 1203 448 1195.5 452.5 1189 457.1 1183.9 461.6 1180.4 466.2 1178.7M387.4 1265.5 392 1264.6 396.5 1262.8 401.1 1259.8 405.6 1255.7 410.2 1250.5 414.7 1244.2 419.3 1236.9 423.8 1229 428.4 1220.6 432.9 1212.2 437.5 1204 442 1196.5 446.6 1190 451.1 1184.9 455.7 1181.4 460.2 1179.7M381.5 1266.5 386 1265.6 390.6 1263.8 395.1 1260.8 399.7 1256.7 404.2 1251.5 408.8 1245.2 413.3 1237.9 417.9 1230 422.4 1221.6 427 1213.2 431.5 1205 436.1 1197.5 440.7 1191 445.2 1185.9 449.8 1182.4 454.3 1180.7M375.5 1267.4 380.1 1266.5 384.6 1264.7 389.2 1261.8 393.7 1257.7 398.3 1252.4 402.9 1246.1 407.4 1238.8 412 1230.9 416.5 1222.5 421.1 1214.1 425.6 1206 430.2 1198.5 434.7 1192 439.3 1186.8 443.8 1183.3 448.4 1181.7M369.6 1268.1 374.2 1267.2 378.7 1265.4 383.3 1262.5 387.8 1258.4 392.4 1253.1 396.9 1246.8 401.5 1239.6 406 1231.6 410.6 1223.3 415.1 1214.9 419.7 1206.7 424.2 1199.2 428.8 1192.8 433.3 1187.7 437.9 1184.2 442.4 1182.5M359.1 1268.4 363.7 1268.4 368.2 1267.5 372.8 1265.7 377.3 1262.8 381.9 1258.7 386.4 1253.5 391 1247.2 395.5 1240 400.1 1232.1 404.6 1223.7 409.2 1215.3 413.7 1207.2 418.3 1199.8 422.8 1193.3 427.4 1188.2 431.9 1184.7 436.5 1183.1M348.6 1267.5 353.2 1268.1 357.7 1268 362.3 1267.2 366.8 1265.4 371.4 1262.5 375.9 1258.5 380.5 1253.3 385 1247 389.6 1239.8 394.1 1232 398.7 1223.7 403.3 1215.3 407.8 1207.3 412.4 1199.9 416.9 1193.4 421.5 1188.4 426 1184.9 430.6 1183.3M315.4 1258.5 319.9 1260.1 324.5 1261.5 329 1262.8 333.6 1264.1 338.1 1265.3 342.7 1266.3 347.2 1266.9 351.8 1266.9 356.3 1266.1 360.9 1264.3 365.4 1261.4 370 1257.4 374.6 1252.3 379.1 1246.1 383.7 1239 388.2 1231.2 392.8 1223 397.3 1214.7 401.9 1206.7 406.4 1199.4 411 1193 415.5 1188 420.1 1184.6 424.6 1183 429.2 1183.3M304.9 1254.4 309.4 1256.4 314 1258 318.5 1259.4 323.1 1260.7 327.6 1262 332.2 1263.2 336.8 1264.2 341.3 1264.8 345.9 1264.8 350.4 1264 355 1262.3 359.5 1259.5 364.1 1255.5 368.6 1250.4 373.2 1244.3 377.7 1237.3 382.3 1229.6 386.8 1221.6 391.4 1213.4 395.9 1205.5 400.5 1198.3 405 1192 409.6 1187.1 414.1 1183.7 418.7 1182.1 423.2 1182.4M294.4 1248.6 298.9 1251.2 303.5 1253.2 308.1 1254.8 312.6 1256.2 317.2 1257.5 321.7 1258.8 326.3 1260 330.8 1261 335.4 1261.6 339.9 1261.6 344.5 1260.8 349 1259.2 353.6 1256.4 358.1 1252.6 362.7 1247.6 367.2 1241.6 371.8 1234.7 376.3 1227.2 380.9 1219.3 385.4 1211.2 390 1203.5 394.5 1196.4 399.1 1190.3 403.7 1185.4 408.2 1182.1 412.8 1180.6 417.3 1180.9M283.9 1240.9 288.5 1244.2 293 1246.8 297.6 1248.8 302.1 1250.4 306.7 1251.8 311.2 1253.1 315.8 1254.4 320.3 1255.6 324.9 1256.6 329.4 1257.2 334 1257.3 338.5 1256.6 343.1 1254.9 347.6 1252.3 352.2 1248.5 356.7 1243.7 361.3 1237.8 365.8 1231.1 370.4 1223.8 375 1216 379.5 1208.2 384.1 1200.7 388.6 1193.8 393.2 1187.8 397.7 1183.1 402.3 1179.9 406.8 1178.4 411.4 1178.7M205.1 1118.4 209.7 1120.7M273.4 1231.3 278 1235.5 282.5 1238.7 287.1 1241.3 291.6 1243.2 296.2 1244.8 300.7 1246.2 305.3 1247.5 309.8 1248.8 314.4 1250.1 318.9 1251.1 323.5 1251.7 328 1251.8 332.6 1251.1 337.2 1249.6 341.7 1247 346.3 1243.4 350.8 1238.7 355.4 1233.1 359.9 1226.6 364.5 1219.4 369 1211.9 373.6 1204.3 378.1 1197 382.7 1190.3 387.2 1184.5 391.8 1180 396.3 1176.9 400.9 1175.5 405.4 1175.8M199.2 1114.9 203.8 1117.1M262.9 1219.8 267.5 1224.9 272 1229 276.6 1232.2 281.1 1234.7 285.7 1236.6 290.2 1238.2 294.8 1239.6 299.3 1240.9 303.9 1242.2 308.5 1243.4 313 1244.5 317.6 1245.1 322.1 1245.2 326.7 1244.6 331.2 1243.2 335.8 1240.7 340.3 1237.3 344.9 1232.8 349.4 1227.3 354 1221.1 358.5 1214.2 363.1 1207 367.6 1199.7 372.2 1192.6 376.7 1186.1 381.3 1180.6 385.8 1176.2 390.4 1173.2 394.9 1171.9 399.5 1172.3M193.3 1110.8 197.8 1113M252.4 1206.8 257 1212.7 261.5 1217.6 266.1 1221.6 270.7 1224.7 275.2 1227.2 279.8 1229.1 284.3 1230.7 288.9 1232.1 293.4 1233.4 298 1234.7 302.5 1235.9 307.1 1236.9 311.6 1237.6 316.2 1237.8 320.7 1237.2 325.3 1235.9 329.8 1233.5 334.4 1230.3 338.9 1226 343.5 1220.8 348 1214.8 352.6 1208.2 357.1 1201.3 361.7 1194.3 366.2 1187.5 370.8 1181.3 375.4 1176 379.9 1171.8 384.5 1169 389 1167.8 393.6 1168.2M187.3 1106.4 191.9 1108.5 196.4 1112.2M246.5 1199.1 251.1 1204.8 255.6 1209.6 260.2 1213.5 264.7 1216.5 269.3 1219 273.8 1220.9 278.4 1222.4 282.9 1223.8 287.5 1225.1 292 1226.4 296.6 1227.6 301.1 1228.7 305.7 1229.4 310.2 1229.6 314.8 1229.1 319.3 1227.9 323.9 1225.7 328.4 1222.6 333 1218.5 337.6 1213.6 342.1 1207.9 346.7 1201.6 351.2 1195 355.8 1188.4 360.3 1181.9 364.9 1176.1 369.4 1171 374 1167 378.5 1164.4 383.1 1163.3 387.6 1163.8M181.4 1101.6 185.9 1103.7 190.5 1107.3M240.6 1191.1 245.1 1196.6 249.7 1201.2 254.2 1205 258.8 1208 263.3 1210.3 267.9 1212.2 272.4 1213.8 277 1215.1 281.5 1216.5 286.1 1217.8 290.6 1219 295.2 1220 299.7 1220.8 304.3 1221 308.9 1220.6 313.4 1219.5 318 1217.5 322.5 1214.6 327.1 1210.7 331.6 1206.1 336.2 1200.7 340.7 1194.7 345.3 1188.5 349.8 1182.2 354.4 1176.1 358.9 1170.5 363.5 1165.7 368 1162 372.6 1159.5 377.1 1158.5 381.7 1159M175.5 1096.8 180 1098.9 184.6 1102.4M234.6 1183 239.2 1188.3 243.7 1192.8 248.3 1196.4 252.8 1199.3 257.4 1201.6 261.9 1203.5 266.5 1205 271.1 1206.4 275.6 1207.7 280.2 1209 284.7 1210.3 289.3 1211.3 293.8 1212.1 298.4 1212.4 302.9 1212.1 307.5 1211 312 1209.2 316.6 1206.5 321.1 1202.9 325.7 1198.5 330.2 1193.4 334.8 1187.8 339.3 1181.9 343.9 1175.9 348.4 1170.2 353 1164.9 357.5 1160.4 362.1 1156.9 366.6 1154.6 371.2 1153.7 375.8 1154.2M169.5 1092.2 174.1 1094.2 178.6 1097.7M228.7 1175.1 233.2 1180.3 237.8 1184.6 242.4 1188.1 246.9 1191 251.5 1193.2 256 1195.1 260.6 1196.6 265.1 1198 269.7 1199.3 274.2 1200.6 278.8 1201.8 283.3 1202.9 287.9 1203.7 292.4 1204 297 1203.8 301.5 1202.9 306.1 1201.2 310.6 1198.6 315.2 1195.3 319.7 1191.1 324.3 1186.3 328.8 1181.1 333.4 1175.5 338 1169.9 342.5 1164.4 347.1 1159.5 351.6 1155.2 356.2 1152 360.7 1149.9 365.3 1149 369.8 1149.6M163.6 1088 168.1 1090M222.8 1167.9 227.3 1172.9 231.9 1177.1 236.4 1180.5 241 1183.3 245.5 1185.5 250.1 1187.3 254.6 1188.8 259.2 1190.2 263.7 1191.5 268.3 1192.8 272.8 1194 277.4 1195.1 281.9 1195.9 286.5 1196.3 291 1196.1 295.6 1195.3 300.2 1193.7 304.7 1191.4 309.3 1188.2 313.8 1184.4 318.4 1179.9 322.9 1174.9 327.5 1169.6 332 1164.3 336.6 1159.2 341.1 1154.5 345.7 1150.5 350.2 1147.5 354.8 1145.5 359.3 1144.8 363.9 1145.4M157.6 1084.4 162.2 1086.3M221.4 1166.4 225.9 1170.5 230.5 1173.8 235 1176.6 239.6 1178.7 244.1 1180.5 248.7 1182 253.2 1183.4 257.8 1184.7 262.3 1186 266.9 1187.3 271.5 1188.3 276 1189.2 280.6 1189.6 285.1 1189.5 289.7 1188.8 294.2 1187.3 298.8 1185.1 303.3 1182.2 307.9 1178.5 312.4 1174.2 317 1169.5 321.5 1164.5 326.1 1159.5 330.6 1154.7 335.2 1150.2 339.7 1146.5 344.3 1143.6 348.8 1141.8 353.4 1141.1 357.9 1141.8M151.7 1081.6 156.3 1083.5M220 1165.3 224.5 1168.5 229.1 1171.2 233.6 1173.3 238.2 1175.1 242.8 1176.6 247.3 1178 251.9 1179.3 256.4 1180.6 261 1181.8 265.5 1182.9 270.1 1183.8 274.6 1184.2 279.2 1184.2 283.7 1183.5 288.3 1182.2 292.8 1180.1 297.4 1177.3 301.9 1173.8 306.5 1169.8 311 1165.3 315.6 1160.5 320.1 1155.7 324.7 1151.1 329.2 1146.9 333.8 1143.3 338.4 1140.6 342.9 1138.9 347.5 1138.3 352 1139M218.6 1164.8 223.2 1167.4 227.7 1169.6 232.3 1171.3 236.8 1172.8 241.4 1174.2 245.9 1175.5 250.5 1176.8 255 1178 259.6 1179.1 264.1 1180 268.7 1180.5 273.2 1180.5 277.8 1179.9 282.3 1178.6 286.9 1176.6 291.4 1173.9 296 1170.6 300.5 1166.7 305.1 1162.3 309.7 1157.8 314.2 1153.1 318.8 1148.7 323.3 1144.6 327.9 1141.2 332.4 1138.6 337 1136.9 341.5 1136.4 346.1 1137.1M226.3 1169.3 230.9 1170.8 235.4 1172.2 240 1173.5 244.5 1174.8 249.1 1176.1 253.6 1177.2 258.2 1178 262.7 1178.5 267.3 1178.6 271.9 1178 276.4 1176.8 281 1174.8 285.5 1172.2 290.1 1169 294.6 1165.1 299.2 1160.9 303.7 1156.4 308.3 1151.9 312.8 1147.6 317.4 1143.6 321.9 1140.3 326.5 1137.7 331 1136.1 335.6 1135.7M261.4 1178.6 265.9 1178 270.5 1176.8 275 1174.9 279.6 1172.3 284.1 1169.1 288.7 1165.3 293.2 1161.1 297.8 1156.7 302.3 1152.2 306.9 1147.9 311.4 1143.9 316 1140.6 320.5 1138.1 325.1 1136.5 329.6 1136.1M205.1 1118.4 199.2 1114.9 193.3 1110.8 187.3 1106.4 181.4 1101.6 175.5 1096.8 169.5 1092.2 163.6 1088 157.6 1084.4 151.7 1081.6M209.7 1120.7 203.8 1117.1 197.8 1113 191.9 1108.5 185.9 1103.7 180 1098.9 174.1 1094.2 168.1 1090 162.2 1086.3 156.3 1083.5M196.4 1112.2 190.5 1107.3 184.6 1102.4 178.6 1097.7M252.4 1206.8 246.5 1199.1 240.6 1191.1 234.6 1183 228.7 1175.1 222.8 1167.9M262.9 1219.8 257 1212.7 251.1 1204.8 245.1 1196.6 239.2 1188.3 233.2 1180.3 227.3 1172.9 221.4 1166.4M273.4 1231.3 267.5 1224.9 261.5 1217.6 255.6 1209.6 249.7 1201.2 243.7 1192.8 237.8 1184.6 231.9 1177.1 225.9 1170.5 220 1165.3M283.9 1240.9 278 1235.5 272 1229 266.1 1221.6 260.2 1213.5 254.2 1205 248.3 1196.4 242.4 1188.1 236.4 1180.5 230.5 1173.8 224.5 1168.5 218.6 1164.8M294.4 1248.6 288.5 1244.2 282.5 1238.7 276.6 1232.2 270.7 1224.7 264.7 1216.5 258.8 1208 252.8 1199.3 246.9 1191 241 1183.3 235 1176.6 229.1 1171.2 223.2 1167.4M304.9 1254.4 298.9 1251.2 293 1246.8 287.1 1241.3 281.1 1234.7 275.2 1227.2 269.3 1219 263.3 1210.3 257.4 1201.6 251.5 1193.2 245.5 1185.5 239.6 1178.7 233.6 1173.3 227.7 1169.6M315.4 1258.5 309.4 1256.4 303.5 1253.2 297.6 1248.8 291.6 1243.2 285.7 1236.6 279.8 1229.1 273.8 1220.9 267.9 1212.2 261.9 1203.5 256 1195.1 250.1 1187.3 244.1 1180.5 238.2 1175.1 232.3 1171.3 226.3 1169.3M319.9 1260.1 314 1258 308.1 1254.8 302.1 1250.4 296.2 1244.8 290.2 1238.2 284.3 1230.7 278.4 1222.4 272.4 1213.8 266.5 1205 260.6 1196.6 254.6 1188.8 248.7 1182 242.8 1176.6 236.8 1172.8 230.9 1170.8M324.5 1261.5 318.5 1259.4 312.6 1256.2 306.7 1251.8 300.7 1246.2 294.8 1239.6 288.9 1232.1 282.9 1223.8 277 1215.1 271.1 1206.4 265.1 1198 259.2 1190.2 253.2 1183.4 247.3 1178 241.4 1174.2 235.4 1172.2M329 1262.8 323.1 1260.7 317.2 1257.5 311.2 1253.1 305.3 1247.5 299.3 1240.9 293.4 1233.4 287.5 1225.1 281.5 1216.5 275.6 1207.7 269.7 1199.3 263.7 1191.5 257.8 1184.7 251.9 1179.3 245.9 1175.5 240 1173.5M333.6 1264.1 327.6 1262 321.7 1258.8 315.8 1254.4 309.8 1248.8 303.9 1242.2 298 1234.7 292 1226.4 286.1 1217.8 280.2 1209 274.2 1200.6 268.3 1192.8 262.3 1186 256.4 1180.6 250.5 1176.8 244.5 1174.8M338.1 1265.3 332.2 1263.2 326.3 1260 320.3 1255.6 314.4 1250.1 308.5 1243.4 302.5 1235.9 296.6 1227.6 290.6 1219 284.7 1210.3 278.8 1201.8 272.8 1194 266.9 1187.3 261 1181.8 255 1178 249.1 1176.1M348.6 1267.5 342.7 1266.3 336.8 1264.2 330.8 1261 324.9 1256.6 318.9 1251.1 313 1244.5 307.1 1236.9 301.1 1228.7 295.2 1220 289.3 1211.3 283.3 1202.9 277.4 1195.1 271.5 1188.3 265.5 1182.9 259.6 1179.1 253.6 1177.2M359.1 1268.4 353.2 1268.1 347.2 1266.9 341.3 1264.8 335.4 1261.6 329.4 1257.2 323.5 1251.7 317.6 1245.1 311.6 1237.6 305.7 1229.4 299.7 1220.8 293.8 1212.1 287.9 1203.7 281.9 1195.9 276 1189.2 270.1 1183.8 264.1 1180 258.2 1178M399.3 1263.3 393.3 1264.4 387.4 1265.5 381.5 1266.5 375.5 1267.4 369.6 1268.1 363.7 1268.4 357.7 1268 351.8 1266.9 345.9 1264.8 339.9 1261.6 334 1257.3 328 1251.8 322.1 1245.2 316.2 1237.8 310.2 1229.6 304.3 1221 298.4 1212.4 292.4 1204 286.5 1196.3 280.6 1189.6 274.6 1184.2 268.7 1180.5 262.7 1178.5M421.6 1257.1 415.7 1259.4 409.8 1261.2 403.8 1262.5 397.9 1263.6 392 1264.6 386 1265.6 380.1 1266.5 374.2 1267.2 368.2 1267.5 362.3 1267.2 356.3 1266.1 350.4 1264 344.5 1260.8 338.5 1256.6 332.6 1251.1 326.7 1244.6 320.7 1237.2 314.8 1229.1 308.9 1220.6 302.9 1212.1 297 1203.8 291 1196.1 285.1 1189.5 279.2 1184.2 273.2 1180.5 267.3 1178.6 261.4 1178.6M432.1 1252.2 426.2 1255.3 420.3 1257.6 414.3 1259.3 408.4 1260.7 402.5 1261.8 396.5 1262.8 390.6 1263.8 384.6 1264.7 378.7 1265.4 372.8 1265.7 366.8 1265.4 360.9 1264.3 355 1262.3 349 1259.2 343.1 1254.9 337.2 1249.6 331.2 1243.2 325.3 1235.9 319.3 1227.9 313.4 1219.5 307.5 1211 301.5 1202.9 295.6 1195.3 289.7 1188.8 283.7 1183.5 277.8 1179.9 271.9 1178 265.9 1178M531.7 1132.4 525.7 1134.4M448.6 1240.3 442.6 1245.3 436.7 1249.3 430.8 1252.4 424.8 1254.7 418.9 1256.4 412.9 1257.7 407 1258.8 401.1 1259.8 395.1 1260.8 389.2 1261.8 383.3 1262.5 377.3 1262.8 371.4 1262.5 365.4 1261.4 359.5 1259.5 353.6 1256.4 347.6 1252.3 341.7 1247 335.8 1240.7 329.8 1233.5 323.9 1225.7 318 1217.5 312 1209.2 306.1 1201.2 300.2 1193.7 294.2 1187.3 288.3 1182.2 282.3 1178.6 276.4 1176.8 270.5 1176.8M536.2 1130.5 530.3 1132.4M459 1230.4 453.1 1236.4 447.2 1241.4 441.2 1245.3 435.3 1248.4 429.4 1250.6 423.4 1252.3 417.5 1253.6 411.6 1254.7 405.6 1255.7 399.7 1256.7 393.7 1257.7 387.8 1258.4 381.9 1258.7 375.9 1258.5 370 1257.4 364.1 1255.5 358.1 1252.6 352.2 1248.5 346.3 1243.4 340.3 1237.3 334.4 1230.3 328.4 1222.6 322.5 1214.6 316.6 1206.5 310.6 1198.6 304.7 1191.4 298.8 1185.1 292.8 1180.1 286.9 1176.6 281 1174.8 275 1174.9M540.8 1127.9 534.8 1129.8 528.9 1133.6M469.5 1218.5 463.6 1225.5 457.7 1231.5 451.7 1236.3 445.8 1240.2 439.9 1243.2 433.9 1245.4 428 1247.1 422 1248.4 416.1 1249.5 410.2 1250.5 404.2 1251.5 398.3 1252.4 392.4 1253.1 386.4 1253.5 380.5 1253.3 374.6 1252.3 368.6 1250.4 362.7 1247.6 356.7 1243.7 350.8 1238.7 344.9 1232.8 338.9 1226 333 1218.5 327.1 1210.7 321.1 1202.9 315.2 1195.3 309.3 1188.2 303.3 1182.2 297.4 1177.3 291.4 1173.9 285.5 1172.2 279.6 1172.3M545.3 1124.7 539.4 1126.6 533.5 1130.2 527.5 1135.5M480 1205.1 474.1 1212.9 468.2 1219.7 462.2 1225.5 456.3 1230.2 450.3 1234 444.4 1236.9 438.5 1239.1 432.5 1240.8 426.6 1242.1 420.7 1243.1 414.7 1244.2 408.8 1245.2 402.9 1246.1 396.9 1246.8 391 1247.2 385 1247 379.1 1246.1 373.2 1244.3 367.2 1241.6 361.3 1237.8 355.4 1233.1 349.4 1227.3 343.5 1220.8 337.6 1213.6 331.6 1206.1 325.7 1198.5 319.7 1191.1 313.8 1184.4 307.9 1178.5 301.9 1173.8 296 1170.6 290.1 1169 284.1 1169.1M549.9 1120.9 543.9 1122.8 538 1126.3 532.1 1131.4M490.5 1190.6 484.6 1198.9 478.6 1206.4 472.7 1213 466.8 1218.6 460.8 1223.2 454.9 1226.9 449 1229.7 443 1231.9 437.1 1233.5 431.1 1234.8 425.2 1235.9 419.3 1236.9 413.3 1237.9 407.4 1238.8 401.5 1239.6 395.5 1240 389.6 1239.8 383.7 1239 377.7 1237.3 371.8 1234.7 365.8 1231.1 359.9 1226.6 354 1221.1 348 1214.8 342.1 1207.9 336.2 1200.7 330.2 1193.4 324.3 1186.3 318.4 1179.9 312.4 1174.2 306.5 1169.8 300.5 1166.7 294.6 1165.1 288.7 1165.3M554.4 1116.7 548.5 1118.5 542.6 1122 536.6 1126.9 530.7 1133.2M501 1175.4 495.1 1184 489.1 1192 483.2 1199.2 477.3 1205.6 471.3 1211 465.4 1215.5 459.4 1219.1 453.5 1221.9 447.6 1224 441.6 1225.6 435.7 1226.9 429.8 1227.9 423.8 1229 417.9 1230 412 1230.9 406 1231.6 400.1 1232.1 394.1 1232 388.2 1231.2 382.3 1229.6 376.3 1227.2 370.4 1223.8 364.5 1219.4 358.5 1214.2 352.6 1208.2 346.7 1201.6 340.7 1194.7 334.8 1187.8 328.8 1181.1 322.9 1174.9 317 1169.5 311 1165.3 305.1 1162.3 299.2 1160.9 293.2 1161.1M559 1112.3 553 1114.1 547.1 1117.4 541.2 1122.2 535.2 1128.2M511.5 1160.2 505.6 1168.8 499.6 1177.1 493.7 1184.8 487.7 1191.7 481.8 1197.9 475.9 1203.1 469.9 1207.4 464 1210.9 458.1 1213.6 452.1 1215.7 446.2 1217.2 440.3 1218.5 434.3 1219.6 428.4 1220.6 422.4 1221.6 416.5 1222.5 410.6 1223.3 404.6 1223.7 398.7 1223.7 392.8 1223 386.8 1221.6 380.9 1219.3 375 1216 369 1211.9 363.1 1207 357.1 1201.3 351.2 1195 345.3 1188.5 339.3 1181.9 333.4 1175.5 327.5 1169.6 321.5 1164.5 315.6 1160.5 309.7 1157.8 303.7 1156.4 297.8 1156.7M563.5 1107.8 557.6 1109.5 551.7 1112.8 545.7 1117.4 539.8 1123.2M516 1153.9 510.1 1162.1 504.2 1170.1 498.2 1177.5 492.3 1184.2 486.4 1190.1 480.4 1195.1 474.5 1199.3 468.6 1202.6 462.6 1205.2 456.7 1207.3 450.7 1208.8 444.8 1210.1 438.9 1211.1 432.9 1212.2 427 1213.2 421.1 1214.1 415.1 1214.9 409.2 1215.3 403.3 1215.3 397.3 1214.7 391.4 1213.4 385.4 1211.2 379.5 1208.2 373.6 1204.3 367.6 1199.7 361.7 1194.3 355.8 1188.4 349.8 1182.2 343.9 1175.9 338 1169.9 332 1164.3 326.1 1159.5 320.1 1155.7 314.2 1153.1 308.3 1151.9 302.3 1152.2M568.1 1103.5 562.1 1105.2 556.2 1108.3 550.3 1112.7 544.3 1118.3M520.6 1147.8 514.7 1155.7 508.7 1163.3 502.8 1170.4 496.8 1176.8 490.9 1182.5 485 1187.4 479 1191.4 473.1 1194.6 467.2 1197.2 461.2 1199.1 455.3 1200.7 449.4 1201.9 443.4 1203 437.5 1204 431.5 1205 425.6 1206 419.7 1206.7 413.7 1207.2 407.8 1207.3 401.9 1206.7 395.9 1205.5 390 1203.5 384.1 1200.7 378.1 1197 372.2 1192.6 366.2 1187.5 360.3 1181.9 354.4 1176.1 348.4 1170.2 342.5 1164.4 336.6 1159.2 330.6 1154.7 324.7 1151.1 318.8 1148.7 312.8 1147.6 306.9 1147.9M572.6 1099.5 566.7 1101.2 560.8 1104.3 554.8 1108.5 548.9 1113.9M519.2 1149.8 513.3 1157.1 507.3 1163.9 501.4 1170.1 495.5 1175.6 489.5 1180.3 483.6 1184.1 477.7 1187.3 471.7 1189.8 465.8 1191.7 459.8 1193.2 453.9 1194.4 448 1195.5 442 1196.5 436.1 1197.5 430.2 1198.5 424.2 1199.2 418.3 1199.8 412.4 1199.9 406.4 1199.4 400.5 1198.3 394.5 1196.4 388.6 1193.8 382.7 1190.3 376.7 1186.1 370.8 1181.3 364.9 1176.1 358.9 1170.5 353 1164.9 347.1 1159.5 341.1 1154.5 335.2 1150.2 329.2 1146.9 323.3 1144.6 317.4 1143.6 311.4 1143.9M577.2 1096.2 571.3 1097.9 565.3 1100.8 559.4 1105M517.8 1151.8 511.9 1158.4 506 1164.3 500 1169.6 494.1 1174.1 488.1 1177.9 482.2 1180.9 476.3 1183.4 470.3 1185.2 464.4 1186.7 458.5 1187.9 452.5 1189 446.6 1190 440.7 1191 434.7 1192 428.8 1192.8 422.8 1193.3 416.9 1193.4 411 1193 405 1192 399.1 1190.3 393.2 1187.8 387.2 1184.5 381.3 1180.6 375.4 1176 369.4 1171 363.5 1165.7 357.5 1160.4 351.6 1155.2 345.7 1150.5 339.7 1146.5 333.8 1143.3 327.9 1141.2 321.9 1140.3 316 1140.6M581.7 1093.7 575.8 1095.3 569.9 1098.2M510.5 1159.8 504.6 1164.9 498.6 1169.3 492.7 1172.9 486.8 1175.9 480.8 1178.3 474.9 1180.1 469 1181.6 463 1182.8 457.1 1183.9 451.1 1184.9 445.2 1185.9 439.3 1186.8 433.3 1187.7 427.4 1188.2 421.5 1188.4 415.5 1188 409.6 1187.1 403.7 1185.4 397.7 1183.1 391.8 1180 385.8 1176.2 379.9 1171.8 374 1167 368 1162 362.1 1156.9 356.2 1152 350.2 1147.5 344.3 1143.6 338.4 1140.6 332.4 1138.6 326.5 1137.7 320.5 1138.1M586.3 1092.1 580.4 1093.8M503.2 1166 497.2 1169.6 491.3 1172.5 485.4 1174.8 479.4 1176.6 473.5 1178.1 467.6 1179.3 461.6 1180.4 455.7 1181.4 449.8 1182.4 443.8 1183.3 437.9 1184.2 431.9 1184.7 426 1184.9 420.1 1184.6 414.1 1183.7 408.2 1182.1 402.3 1179.9 396.3 1176.9 390.4 1173.2 384.5 1169 378.5 1164.4 372.6 1159.5 366.6 1154.6 360.7 1149.9 354.8 1145.5 348.8 1141.8 342.9 1138.9 337 1136.9 331 1136.1 325.1 1136.5M489.9 1173.2 484 1175 478.1 1176.4 472.1 1177.6 466.2 1178.7 460.2 1179.7 454.3 1180.7 448.4 1181.7 442.4 1182.5 436.5 1183.1 430.6 1183.3 424.6 1183 418.7 1182.1 412.8 1180.6 406.8 1178.4 400.9 1175.5 394.9 1171.9 389 1167.8 383.1 1163.3 377.1 1158.5 371.2 1153.7 365.3 1149 359.3 1144.8 353.4 1141.1 347.5 1138.3 341.5 1136.4 335.6 1135.7 329.6 1136.1M429.2 1183.3 423.2 1182.4 417.3 1180.9 411.4 1178.7 405.4 1175.8 399.5 1172.3 393.6 1168.2 387.6 1163.8 381.7 1159 375.8 1154.2 369.8 1149.6 363.9 1145.4 357.9 1141.8 352 1139 346.1 1137.1" fill="none" stroke="#7a1010" stroke-width="0.6" stroke-opacity="0.28"/>
<path d="M364.6 1253.4L366.6 1258.7L372.3 1259L367.8 1262.5L369.4 1267.9L364.6 1264.8L359.9 1267.9L361.5 1262.5L357 1259L362.7 1258.7Z" fill="#6a3cc8"/>
<path d="M464.8 1172L466.8 1177.3L472.4 1177.5L468 1181.1L469.5 1186.5L464.8 1183.4L460.1 1186.5L461.6 1181.1L457.2 1177.5L462.8 1177.3Z" fill="#6a3cc8"/>
<path d="M595.4 1084.4L597.4 1089.7L603 1089.9L598.6 1093.4L600.1 1098.8L595.4 1095.7L590.7 1098.8L592.2 1093.4L587.8 1089.9L593.4 1089.7Z" fill="#6a3cc8"/>
<text x="372.0" y="1296.2" font-family="'Liberation Serif', serif" font-size="30.7" font-weight="normal" font-style="normal" text-anchor="start" fill="#000" >Γ</text>
<rect x="372.5" y="1271.5" width="17.100000000000023" height="1.8" fill="#000"/>
<text x="483.3" y="1228.8" font-family="'Liberation Serif', serif" font-size="30.7" font-weight="normal" font-style="normal" text-anchor="start" fill="#000" >X</text>
<rect x="484.8" y="1204.1" width="18.19999999999999" height="1.8" fill="#000"/>
<text x="602.7" y="1121.9" font-family="'Liberation Serif', serif" font-size="29.5" font-weight="normal" font-style="normal" text-anchor="start" fill="#000" >M</text>
<rect x="607.9" y="1097.3" width="17.700000000000045" height="1.8" fill="#000"/>
<text x="108.8" y="1057.8" font-family="'Liberation Serif', serif" font-size="35.5" font-weight="normal" font-style="normal" text-anchor="end" fill="#000" >0.9</text>
<text x="108.8" y="1164.2" font-family="'Liberation Serif', serif" font-size="35.5" font-weight="normal" font-style="normal" text-anchor="end" fill="#000" >0.7</text>
<text x="108.8" y="1266" font-family="'Liberation Serif', serif" font-size="35.5" font-weight="normal" font-style="normal" text-anchor="end" fill="#000" >0.5</text>
<text x="0" y="0" transform="translate(52.5,1169) rotate(-90)" font-family="'Liberation Serif', serif" font-size="35" text-anchor="middle">Frequency (<tspan font-style="italic">c/a</tspan>)</text>
<text x="129" y="1348.3" font-family="'Liberation Serif', serif" font-size="33.5" font-weight="normal" font-style="normal" text-anchor="middle" fill="#000" >-1</text>
<text x="224" y="1372.8" font-family="'Liberation Serif', serif" font-size="33.5" font-weight="normal" font-style="normal" text-anchor="middle" fill="#000" >0</text>
<text x="335" y="1403.3" font-family="'Liberation Serif', serif" font-size="33.5" font-weight="normal" font-style="normal" text-anchor="middle" fill="#000" >1</text>
<text x="470.4" y="1381.3" font-family="'Liberation Serif', serif" font-size="33.5" font-weight="normal" font-style="normal" text-anchor="middle" fill="#000" >0</text>
<text x="596" y="1361.3" font-family="'Liberation Serif', serif" font-size="33.5" font-weight="normal" font-style="normal" text-anchor="middle" fill="#000" >-1</text>
<g transform="translate(127,1393) rotate(16.4) scale(1.000)" font-family="'Liberation Serif', serif"><text x="0" y="0" font-size="34" font-style="italic">k</text><text x="15.1" y="6" font-size="24" font-style="italic">y</text><text x="30.8" y="0" font-size="34">(</text><text x="42.1" y="0" font-size="34">√</text><text x="60.3" y="0" font-size="34">2</text><line x1="59.8" y1="-26.3" x2="78.5" y2="-26.3" stroke="#000" stroke-width="1.5"/><text x="77.8" y="0" font-size="34">π</text><text x="95" y="0" font-size="34">/</text><text x="104.5" y="0" font-size="34" font-style="italic">a</text><text x="121.5" y="0" font-size="34">)</text></g>
<g transform="translate(383.6,1438) rotate(-8) scale(1.000)" font-family="'Liberation Serif', serif"><text x="0" y="0" font-size="34" font-style="italic">k</text><text x="15.1" y="6" font-size="24" font-style="italic">x</text><text x="30.8" y="0" font-size="34">(</text><text x="42.1" y="0" font-size="34">√</text><text x="60.3" y="0" font-size="34">2</text><line x1="59.8" y1="-26.3" x2="78.5" y2="-26.3" stroke="#000" stroke-width="1.5"/><text x="77.8" y="0" font-size="34">π</text><text x="95" y="0" font-size="34">/</text><text x="104.5" y="0" font-size="34" font-style="italic">a</text><text x="121.5" y="0" font-size="34">)</text></g>
<line x1="990.5" y1="1297.1" x2="1171.3" y2="1355.2" stroke="#ebebeb" stroke-width="1.3"/>
<line x1="1221.5" y1="1307.5" x2="940.3" y2="1344.8" stroke="#ebebeb" stroke-width="1.3"/>
<line x1="849.9" y1="1261.6" x2="1131.1" y2="1224.3" stroke="#ebebeb" stroke-width="1.3"/>
<line x1="1131.1" y1="1224.3" x2="1311.9" y2="1282.4" stroke="#ebebeb" stroke-width="1.3"/>
<line x1="849.9" y1="1153.2" x2="1131.1" y2="1115.9" stroke="#ebebeb" stroke-width="1.3"/>
<line x1="1131.1" y1="1115.9" x2="1311.9" y2="1174.0" stroke="#ebebeb" stroke-width="1.3"/>
<line x1="849.9" y1="1044.8" x2="1131.1" y2="1007.5" stroke="#ebebeb" stroke-width="1.3"/>
<line x1="1131.1" y1="1007.5" x2="1311.9" y2="1065.6" stroke="#ebebeb" stroke-width="1.3"/>
<line x1="990.5" y1="1297.1" x2="990.5" y2="971.9" stroke="#ebebeb" stroke-width="1.3"/>
<line x1="1221.5" y1="1307.5" x2="1221.5" y2="982.3" stroke="#ebebeb" stroke-width="1.3"/>
<line x1="1131.1" y1="1278.5" x2="1131.1" y2="953.3" stroke="#ebebeb" stroke-width="1.3"/>
<line x1="1311.9" y1="1336.6" x2="1311.9" y2="1011.4" stroke="#ebebeb" stroke-width="1.3"/>
<line x1="849.9" y1="1315.8" x2="849.9" y2="990.6" stroke="#6e6e6e" stroke-width="1.5"/>
<line x1="849.9" y1="1315.8" x2="1030.7" y2="1373.9" stroke="#6e6e6e" stroke-width="1.5"/>
<line x1="1030.7" y1="1373.9" x2="1311.9" y2="1336.6" stroke="#6e6e6e" stroke-width="1.5"/>
<line x1="843.9" y1="1262.6" x2="849.9" y2="1261.6" stroke="#6e6e6e" stroke-width="1.3"/>
<line x1="843.9" y1="1154.2" x2="849.9" y2="1153.2" stroke="#6e6e6e" stroke-width="1.3"/>
<line x1="843.9" y1="1045.8" x2="849.9" y2="1044.8" stroke="#6e6e6e" stroke-width="1.3"/>
<line x1="1080.9" y1="1326.2" x2="1080.9" y2="1272.0" stroke="#f0d890" stroke-width="1.2" stroke-dasharray="2 1"/>
<line x1="1171.3" y1="1355.2" x2="1171.3" y2="1173.1" stroke="#f0d890" stroke-width="1.2" stroke-dasharray="2 1"/>
<line x1="1311.9" y1="1336.6" x2="1311.9" y2="1101.4" stroke="#f0d890" stroke-width="1.2" stroke-dasharray="2 1"/>
<path d="M849.9 1081.1L854 1082.9L858.1 1085.5L862.2 1089L866.3 1093.1L870.4 1097.9L874.5 1103.2L891 1125.9L895.1 1131.2L899.2 1136.2L903.3 1140.7L907.4 1144.7L911.5 1148.2L915.6 1151.1L919.7 1153.6L928 1157.5L935.9 1160.3L941.6 1167.2L948 1175.8L971.3 1209.3L981.8 1223.6L992.3 1236.4L998.7 1243.2L1009.2 1252.9L1019.7 1260.5L1023.8 1262.8L1034.3 1267.8L1042.5 1270.6L1057.1 1275.1L1067.7 1277L1071.8 1277.3L1078.2 1277.5L1084.6 1277.1L1091 1276.4L1107.8 1274.2L1114.2 1273.2L1120.6 1271.9L1127 1270L1137.5 1265.8L1148 1259.6L1154.4 1254.9L1164.9 1245.3L1175.4 1233.7L1181.8 1225.8L1192.3 1211.7L1219.7 1171.6L1232.5 1153.9L1241.6 1147.5L1248 1142.5L1273.6 1121.1L1280 1116.2L1286.4 1111.8L1292.8 1108L1299.1 1104.9L1305.5 1102.7L1311.9 1101.4L1307.8 1100.5L1303.7 1100.5L1293.2 1102.7L1282.7 1106.9L1276.3 1110.3L1272.2 1113L1265.8 1117.6L1259.4 1123L1252.5 1129.6L1251.5 1130L1246.2 1130.6L1242 1130.5L1237.9 1130L1233.8 1129.1L1225.6 1126.7L1213.3 1122.7L1205.1 1119.4L1201 1117.3L1196.9 1114.8L1192.8 1111.8L1188.7 1108.3L1184.6 1104.2L1180.4 1099.7L1176.3 1094.6L1172.2 1089.2L1155.8 1066.1L1151.7 1060.8L1147.6 1055.9L1143.5 1051.7L1139.3 1048.2L1135.2 1045.5L1131.1 1043.8L1105.5 1046.8L1099.3 1046.8L1092.8 1043.3L1086.4 1042.1L1080 1041.9L1073.6 1042.2L1067.2 1043.2L1060.8 1045.5L1054.4 1048.7L1035.2 1060.5L1028.8 1064.1L1009.6 1076.9L1003.3 1080.5L996.9 1083L990.5 1084L971.3 1084.8L964.9 1085.3L958.5 1086.6L945.8 1090.2L939.4 1091.8L933 1092.7L926.6 1092.5L920.2 1091.5L901 1087.2L875.5 1083.8Z" fill="#a282c0" fill-rule="evenodd"/>
<path d="M1131.1 1043.8 1135.2 1045.6 1139.3 1048.2 1143.4 1051.7 1147.5 1055.9 1151.6 1060.8 1155.8 1066.1 1159.9 1071.8 1164 1077.6 1168.1 1083.5 1172.2 1089.2 1176.3 1094.6 1180.4 1099.7 1184.5 1104.3 1188.6 1108.3 1192.7 1111.8 1196.8 1114.8 1201 1117.3 1205.1 1119.4 1209.2 1121.2 1213.3 1122.7 1217.4 1124.1 1221.5 1125.4 1225.6 1126.8 1229.7 1128 1233.8 1129.1 1237.9 1130 1242 1130.6 1246.2 1130.7 1250.3 1130.3 1254.4 1129.4M1303.7 1100.5 1307.8 1100.5 1311.9 1101.4M1124.7 1044.6 1128.8 1046.4 1132.9 1049.1 1137 1052.7 1141.1 1057 1145.3 1061.9 1149.4 1067.3 1153.5 1073.1 1157.6 1079.1 1161.7 1085 1165.8 1090.8 1169.9 1096.3 1174 1101.4 1178.1 1106.1 1182.2 1110.2 1186.3 1113.7 1190.5 1116.8 1194.6 1119.3 1198.7 1121.4 1202.8 1123.2 1206.9 1124.7 1211 1126.1 1215.1 1127.4 1219.2 1128.7 1223.3 1130 1227.4 1131.1 1231.5 1131.9 1235.7 1132.5 1239.8 1132.6 1243.9 1132.2 1248 1131.3 1252.1 1129.8 1256.2 1127.8M1293.2 1102.8 1297.3 1101.9 1301.4 1101.8 1305.5 1102.7M1118.3 1045.4 1122.4 1047.2 1126.5 1050 1130.6 1053.8 1134.8 1058.3 1138.9 1063.5 1143 1069.3 1147.1 1075.4 1151.2 1081.6 1155.3 1087.9 1159.4 1093.9 1163.5 1099.7 1167.6 1105 1171.7 1109.8 1175.8 1114 1180 1117.7 1184.1 1120.8 1188.2 1123.3 1192.3 1125.5 1196.4 1127.3 1200.5 1128.8 1204.6 1130.2 1208.7 1131.5 1212.8 1132.8 1216.9 1134.1 1221 1135.2 1225.2 1136 1229.3 1136.5 1233.4 1136.6 1237.5 1136.2 1241.6 1135.2 1245.7 1133.6 1249.8 1131.5 1253.9 1128.9 1258 1125.9M1282.7 1106.9 1286.8 1105.1 1290.9 1104.1 1295 1104 1299.1 1104.9M1111.9 1046.1 1116 1048 1120.1 1051 1124.3 1055 1128.4 1059.9 1132.5 1065.6 1136.6 1071.8 1140.7 1078.4 1144.8 1085.2 1148.9 1091.9 1153 1098.4 1157.1 1104.6 1161.2 1110.2 1165.3 1115.3 1169.5 1119.7 1173.6 1123.5 1177.7 1126.7 1181.8 1129.4 1185.9 1131.6 1190 1133.4 1194.1 1134.9 1198.2 1136.3 1202.3 1137.7 1206.4 1139 1210.5 1140.2 1214.7 1141.3 1218.8 1142.1 1222.9 1142.6 1227 1142.6 1231.1 1142.1 1235.2 1141 1239.3 1139.2 1243.4 1136.9 1247.5 1134.1 1251.6 1130.8 1255.7 1127.2M1272.2 1113 1276.3 1110.4 1280.4 1108.4 1284.5 1107.3 1288.6 1107.1 1292.7 1107.9M1105.5 1046.8 1109.6 1048.8 1113.8 1052 1117.9 1056.4 1122 1061.8 1126.1 1068.1 1130.2 1075 1134.3 1082.3 1138.4 1089.7 1142.5 1097.1 1146.6 1104.2 1150.7 1110.9 1154.8 1116.9 1159 1122.4 1163.1 1127.1 1167.2 1131.1 1171.3 1134.5 1175.4 1137.2 1179.5 1139.5 1183.6 1141.3 1187.7 1142.9 1191.8 1144.3 1195.9 1145.6 1200 1146.9 1204.2 1148.2 1208.3 1149.2 1212.4 1150 1216.5 1150.4 1220.6 1150.4 1224.7 1149.7 1228.8 1148.4 1232.9 1146.5 1237 1143.9 1241.1 1140.8 1245.2 1137.2 1249.4 1133.2 1253.5 1129.1M1265.8 1117.6 1269.9 1114.7 1274 1112.5 1278.1 1111.2 1282.2 1111 1286.3 1111.7M1099.1 1046.8 1103.3 1048.9 1107.4 1052.5 1111.5 1057.4 1115.6 1063.5 1119.7 1070.6 1123.8 1078.3 1127.9 1086.5 1132 1094.9 1136.1 1103.1 1140.2 1110.9 1144.3 1118.2 1148.5 1124.9 1152.6 1130.8 1156.7 1135.8 1160.8 1140.1 1164.9 1143.7 1169 1146.6 1173.1 1148.9 1177.2 1150.8 1181.3 1152.4 1185.4 1153.8 1189.5 1155.1 1193.7 1156.4 1197.8 1157.6 1201.9 1158.7 1206 1159.4 1210.1 1159.8 1214.2 1159.6 1218.3 1158.8 1222.4 1157.2 1226.5 1155 1230.6 1152.2 1234.7 1148.7 1238.9 1144.7 1243 1140.3 1247.1 1135.8M1259.4 1123.1 1263.5 1119.8 1267.6 1117.3 1271.7 1115.8 1275.8 1115.4 1279.9 1116.2M1092.8 1043.3 1096.9 1045.6 1101 1049.7 1105.1 1055.4 1109.2 1062.6 1113.3 1070.9 1117.4 1080.1 1121.5 1089.7 1125.6 1099.3 1129.7 1108.8 1133.8 1117.8 1138 1126.1 1142.1 1133.5 1146.2 1140 1150.3 1145.6 1154.4 1150.2 1158.5 1154 1162.6 1157 1166.7 1159.5 1170.8 1161.4 1174.9 1163 1179 1164.4 1183.2 1165.7 1187.3 1167.1 1191.4 1168.3 1195.5 1169.3 1199.6 1170 1203.7 1170.3 1207.8 1169.9 1211.9 1168.9 1216 1167.2 1220.1 1164.7 1224.2 1161.5 1228.4 1157.6 1232.5 1153.1 1236.6 1148.3 1240.7 1143.3M1253 1129.1 1257.1 1125.5 1261.2 1122.7 1265.3 1121 1269.4 1120.4 1273.6 1121.1M1086.4 1042.1 1090.5 1044.5 1094.6 1049 1098.7 1055.5 1102.8 1063.6 1106.9 1073 1111 1083.4 1115.1 1094.2 1119.2 1105.1 1123.3 1115.7 1127.5 1125.6 1131.6 1134.8 1135.7 1143 1139.8 1150.1 1143.9 1156.1 1148 1161.1 1152.1 1165.1 1156.2 1168.3 1160.3 1170.8 1164.4 1172.8 1168.5 1174.5 1172.7 1175.9 1176.8 1177.2 1180.9 1178.5 1185 1179.7 1189.1 1180.7 1193.2 1181.4 1197.3 1181.6 1201.4 1181.1 1205.5 1179.9 1209.6 1177.9 1213.7 1175.1 1217.9 1171.5 1222 1167.1 1226.1 1162.2 1230.2 1156.9 1234.3 1151.3M1246.6 1135.6 1250.7 1131.5 1254.8 1128.4 1258.9 1126.4 1263.1 1125.7 1267.2 1126.3M1080 1042 1084.1 1044.5 1088.2 1049.5 1092.3 1056.6 1096.4 1065.6 1100.5 1076 1104.6 1087.4 1108.7 1099.4 1112.8 1111.4 1117 1123 1121.1 1134 1125.2 1144 1129.3 1152.9 1133.4 1160.6 1137.5 1167 1141.6 1172.4 1145.7 1176.6 1149.8 1180 1153.9 1182.6 1158 1184.7 1162.2 1186.3 1166.3 1187.7 1170.4 1189.1 1174.5 1190.4 1178.6 1191.6 1182.7 1192.6 1186.8 1193.2 1190.9 1193.2 1195 1192.6 1199.1 1191.2 1203.2 1189 1207.4 1185.8 1211.5 1181.8 1215.6 1177 1219.7 1171.6 1223.8 1165.7M1244.3 1137.8 1248.4 1134.3 1252.6 1132.1 1256.7 1131.2 1260.8 1131.8M1073.6 1042.3 1077.7 1045 1081.8 1050.3 1085.9 1058 1090 1067.8 1094.1 1079.2 1098.2 1091.7 1102.3 1104.8 1106.5 1117.9 1110.6 1130.5 1114.7 1142.4 1118.8 1153.3 1122.9 1162.8 1127 1171.1 1131.1 1178 1135.2 1183.6 1139.3 1188.1 1143.4 1191.7 1147.5 1194.4 1151.7 1196.5 1155.8 1198.2 1159.9 1199.6 1164 1200.9 1168.1 1202.3 1172.2 1203.5 1176.3 1204.4 1180.4 1205 1184.5 1204.9 1188.6 1204.2 1192.7 1202.6 1196.9 1200 1201 1196.6 1205.1 1192.1 1209.2 1186.9 1213.3 1181M1237.9 1144.1 1242.1 1140.2 1246.2 1137.7 1250.3 1136.7 1254.4 1137.2M1067.2 1043.3 1071.3 1046.1 1075.4 1051.8 1079.5 1060.1 1083.6 1070.6 1087.7 1082.9 1091.8 1096.3 1096 1110.3 1100.1 1124.4 1104.2 1138 1108.3 1150.7 1112.4 1162.3 1116.5 1172.5 1120.6 1181.3 1124.7 1188.6 1128.8 1194.6 1132.9 1199.3 1137 1203 1141.2 1205.8 1145.3 1208 1149.4 1209.7 1153.5 1211.1 1157.6 1212.5 1161.7 1213.8 1165.8 1215 1169.9 1215.9 1174 1216.4 1178.1 1216.3 1182.2 1215.4 1186.4 1213.6 1190.5 1210.8 1194.6 1207 1198.7 1202.2 1202.8 1196.5M1235.7 1146 1239.8 1143.2 1243.9 1142 1248 1142.5M1060.8 1045.5 1064.9 1048.4 1069 1054.4 1073.1 1063.1 1077.2 1074.2 1081.3 1087.2 1085.5 1101.3 1089.6 1116.2 1093.7 1131 1097.8 1145.4 1101.9 1158.8 1106 1171 1110.1 1181.8 1114.2 1191 1118.3 1198.7 1122.4 1204.9 1126.5 1209.9 1130.7 1213.7 1134.8 1216.6 1138.9 1218.8 1143 1220.5 1147.1 1222 1151.2 1223.3 1155.3 1224.6 1159.4 1225.8 1163.5 1226.7 1167.6 1227.2 1171.7 1227 1175.9 1225.9 1180 1223.9 1184.1 1220.9 1188.2 1216.8 1192.3 1211.6 1196.4 1205.5M1229.3 1151.4 1233.4 1148.4 1237.5 1147.1 1241.6 1147.5M1054.4 1048.8 1058.5 1051.7 1062.6 1057.9 1066.7 1066.9 1070.8 1078.4 1075 1091.9 1079.1 1106.6 1083.2 1122 1087.3 1137.5 1091.4 1152.4 1095.5 1166.4 1099.6 1179.1 1103.7 1190.3 1107.8 1199.9 1111.9 1207.9 1116 1214.4 1120.2 1219.5 1124.3 1223.4 1128.4 1226.4 1132.5 1228.7 1136.6 1230.4 1140.7 1231.9 1144.8 1233.2 1148.9 1234.5 1153 1235.7 1157.1 1236.6 1161.2 1237 1165.4 1236.7 1169.5 1235.6 1173.6 1233.4 1177.7 1230.1 1181.8 1225.8 1185.9 1220.3M1222.9 1156.4 1227 1153.2 1231.1 1151.7 1235.2 1152.1M1048 1052.6 1052.1 1055.6 1056.2 1061.9 1060.3 1071.1 1064.5 1082.9 1068.6 1096.7 1072.7 1111.9 1076.8 1127.7 1080.9 1143.5 1085 1158.9 1089.1 1173.3 1093.2 1186.4 1097.3 1197.9 1101.4 1207.8 1105.5 1216.1 1109.7 1222.7 1113.8 1228 1117.9 1232 1122 1235.1 1126.1 1237.4 1130.2 1239.1 1134.3 1240.6 1138.4 1241.9 1142.5 1243.2 1146.6 1244.4 1150.7 1245.3 1154.9 1245.7 1159 1245.3 1163.1 1244.1 1167.2 1241.8 1171.3 1238.3 1175.4 1233.7M1220.6 1157.5 1224.7 1155.9 1228.8 1156.2M1041.6 1056.7 1045.7 1059.7 1049.8 1066 1054 1075.4 1058.1 1087.4 1062.2 1101.4 1066.3 1116.8 1070.4 1132.9 1074.5 1149 1078.6 1164.7 1082.7 1179.4 1086.8 1192.7 1090.9 1204.5 1095 1214.6 1099.2 1223.1 1103.3 1229.9 1107.4 1235.3 1111.5 1239.4 1115.6 1242.5 1119.7 1244.8 1123.8 1246.6 1127.9 1248.1 1132 1249.4 1136.1 1250.7 1140.2 1251.9 1144.4 1252.8 1148.5 1253.1 1152.6 1252.7 1156.7 1251.3 1160.8 1248.9 1164.9 1245.3M1214.2 1161.2 1218.3 1159.5 1222.4 1159.8M1035.2 1060.6 1039.3 1063.6 1043.5 1070 1047.6 1079.5 1051.7 1091.5 1055.8 1105.6 1059.9 1121.2 1064 1137.4 1068.1 1153.8 1072.2 1169.6 1076.3 1184.5 1080.4 1198 1084.5 1210 1088.7 1220.3 1092.8 1228.9 1096.9 1235.8 1101 1241.3 1105.1 1245.5 1109.2 1248.6 1113.3 1251 1117.4 1252.8 1121.5 1254.2 1125.6 1255.6 1129.7 1256.9 1133.9 1258.1 1138 1258.9 1142.1 1259.2 1146.2 1258.8 1150.3 1257.4 1154.4 1254.8 1158.5 1251.1M1207.8 1164.4 1211.9 1162.6 1216 1162.8M1028.8 1064.2 1033 1067.2 1037.1 1073.6 1041.2 1083.1 1045.3 1095.2 1049.4 1109.4 1053.5 1124.9 1057.6 1141.3 1061.7 1157.7 1065.8 1173.7 1069.9 1188.7 1074 1202.3 1078.2 1214.4 1082.3 1224.8 1086.4 1233.5 1090.5 1240.5 1094.6 1246.1 1098.7 1250.3 1102.8 1253.5 1106.9 1255.9 1111 1257.7 1115.1 1259.1 1119.2 1260.5 1123.4 1261.8 1127.5 1262.9 1131.6 1263.8 1135.7 1264.1 1139.8 1263.6 1143.9 1262.1 1148 1259.5M1205.5 1165.1 1209.6 1165.4M1022.5 1068.3 1026.6 1071.3 1030.7 1077.7 1034.8 1087.1 1038.9 1099.1 1043 1113.1 1047.1 1128.6 1051.2 1144.9 1055.3 1161.2 1059.4 1177.2 1063.5 1192.1 1067.7 1205.8 1071.8 1217.9 1075.9 1228.3 1080 1237 1084.1 1244.1 1088.2 1249.7 1092.3 1254 1096.4 1257.2 1100.5 1259.6 1104.6 1261.4 1108.7 1262.8 1112.9 1264.2 1117 1265.5 1121.1 1266.7 1125.2 1267.5 1129.3 1267.8 1133.4 1267.3 1137.5 1265.8M1199.1 1167.2 1203.3 1167.4M1016.1 1072.7 1020.2 1075.7 1024.3 1081.9 1028.4 1091.2 1032.5 1103 1036.6 1116.9 1040.7 1132.1 1044.8 1148.2 1048.9 1164.3 1053 1180.1 1057.2 1194.9 1061.3 1208.5 1065.4 1220.6 1069.5 1231 1073.6 1239.7 1077.7 1246.8 1081.8 1252.4 1085.9 1256.7 1090 1259.9 1094.1 1262.3 1098.2 1264.1 1102.4 1265.5 1106.5 1266.9 1110.6 1268.2 1114.7 1269.4 1118.8 1270.2 1122.9 1270.5 1127 1269.9 1131.1 1268.4M1192.8 1168.8 1196.9 1169M1009.7 1076.9 1013.8 1079.9 1017.9 1086 1022 1095.1 1026.1 1106.7 1030.2 1120.3 1034.3 1135.3 1038.4 1151 1042.5 1166.9 1046.7 1182.5 1050.8 1197.2 1054.9 1210.6 1059 1222.6 1063.1 1232.9 1067.2 1241.6 1071.3 1248.7 1075.4 1254.3 1079.5 1258.6 1083.6 1261.8 1087.7 1264.2 1091.9 1266 1096 1267.5 1100.1 1268.8 1104.2 1270.1 1108.3 1271.3 1112.4 1272.1 1116.5 1272.4 1120.6 1271.8M1186.4 1170.1 1190.5 1170.3M1003.3 1080.5 1007.4 1083.4 1011.5 1089.5 1015.6 1098.4 1019.7 1109.8 1023.8 1123.1 1027.9 1137.8 1032 1153.3 1036.2 1169 1040.3 1184.4 1044.4 1198.9 1048.5 1212.2 1052.6 1224 1056.7 1234.3 1060.8 1243 1064.9 1250 1069 1255.6 1073.1 1259.9 1077.2 1263.1 1081.4 1265.5 1085.5 1267.3 1089.6 1268.8 1093.7 1270.1 1097.8 1271.4 1101.9 1272.6 1106 1273.4 1110.1 1273.7 1114.2 1273.2M1180 1171.2 1184.1 1171.4M996.9 1083 1001 1085.9 1005.1 1091.9 1009.2 1100.7 1013.3 1111.9 1017.4 1125.1 1021.5 1139.7 1025.7 1155 1029.8 1170.5 1033.9 1185.7 1038 1200.1 1042.1 1213.3 1046.2 1225.2 1050.3 1235.4 1054.4 1244 1058.5 1251 1062.6 1256.6 1066.7 1260.9 1070.9 1264.1 1075 1266.5 1079.1 1268.3 1083.2 1269.8 1087.3 1271.1 1091.4 1272.4 1095.5 1273.6 1099.6 1274.4 1103.7 1274.7 1107.8 1274.2M1173.6 1172.1 1177.7 1172.3M990.5 1084.1 994.6 1087 998.7 1092.9 1002.8 1101.7 1006.9 1112.9 1011 1126.1 1015.2 1140.6 1019.3 1156 1023.4 1171.5 1027.5 1186.7 1031.6 1201 1035.7 1214.2 1039.8 1226 1043.9 1236.3 1048 1244.9 1052.1 1251.9 1056.2 1257.5 1060.4 1261.8 1064.5 1265 1068.6 1267.4 1072.7 1269.2 1076.8 1270.7 1080.9 1272 1085 1273.3 1089.1 1274.5 1093.2 1275.3 1097.3 1275.6 1101.4 1275M1167.2 1172.9 1171.3 1173.1M984.1 1084.5 988.2 1087.4 992.3 1093.3 996.4 1102.2 1000.5 1113.4 1004.7 1126.6 1008.8 1141.2 1012.9 1156.6 1017 1172.1 1021.1 1187.4 1025.2 1201.8 1029.3 1215 1033.4 1226.8 1037.5 1237.1 1041.6 1245.7 1045.7 1252.7 1049.9 1258.3 1054 1262.6 1058.1 1265.8 1062.2 1268.2 1066.3 1270 1070.4 1271.5 1074.5 1272.8 1078.6 1274.1 1082.7 1275.3 1086.8 1276.1 1090.9 1276.4M1160.8 1173.8 1164.9 1174M977.7 1084.6 981.8 1087.5 985.9 1093.5 990 1102.4 994.2 1113.7 998.3 1127 1002.4 1141.6 1006.5 1157 1010.6 1172.7 1014.7 1187.9 1018.8 1202.4 1022.9 1215.7 1027 1227.5 1031.1 1237.7 1035.2 1246.4 1039.4 1253.4 1043.5 1259 1047.6 1263.3 1051.7 1266.5 1055.8 1268.9 1059.9 1270.7 1064 1272.2 1068.1 1273.5 1072.2 1274.8 1076.3 1276 1080.4 1276.8 1084.6 1277.1M1154.4 1174.5 1158.5 1174.8M971.3 1084.8 975.4 1087.7 979.5 1093.7 983.7 1102.6 987.8 1114 991.9 1127.3 996 1141.9 1000.1 1157.4 1004.2 1173 1008.3 1188.3 1012.4 1202.8 1016.5 1216 1020.6 1227.9 1024.7 1238.1 1028.9 1246.7 1033 1253.8 1037.1 1259.4 1041.2 1263.6 1045.3 1266.9 1049.4 1269.3 1053.5 1271.1 1057.6 1272.5 1061.7 1273.9 1065.8 1275.2 1069.9 1276.3 1074.1 1277.2 1078.2 1277.4M1148 1175.2 1152.1 1175.4M964.9 1085.4 969 1088.3 973.2 1094.3 977.3 1103.1 981.4 1114.4 985.5 1127.6 989.6 1142.2 993.7 1157.6 997.8 1173.2 1001.9 1188.4 1006 1202.8 1010.1 1216 1014.2 1227.8 1018.4 1238 1022.5 1246.6 1026.6 1253.6 1030.7 1259.2 1034.8 1263.4 1038.9 1266.6 1043 1269 1047.1 1270.8 1051.2 1272.3 1055.3 1273.7 1059.4 1275 1063.6 1276.1 1067.7 1277 1071.8 1277.2M1141.6 1175.6 1145.7 1175.8M958.5 1086.6 962.7 1089.5 966.8 1095.4 970.9 1104.1 975 1115.2 979.1 1128.3 983.2 1142.7 987.3 1157.8 991.4 1173.2 995.5 1188.2 999.6 1202.4 1003.7 1215.5 1007.9 1227.1 1012 1237.2 1016.1 1245.7 1020.2 1252.7 1024.3 1258.2 1028.4 1262.4 1032.5 1265.6 1036.6 1268 1040.7 1269.8 1044.8 1271.3 1048.9 1272.6 1053.1 1273.9 1057.2 1275.1 1061.3 1275.9M1135.2 1175.7 1139.3 1175.9M952.2 1088.4 956.3 1091.2 960.4 1097 964.5 1105.5 968.6 1116.3 972.7 1129 976.8 1143.1 980.9 1157.9 985 1172.9 989.1 1187.5 993.2 1201.4 997.4 1214.2 1001.5 1225.7 1005.6 1235.6 1009.7 1244 1013.8 1250.8 1017.9 1256.2 1022 1260.4 1026.1 1263.6 1030.2 1266 1034.3 1267.8 1038.4 1269.2 1042.6 1270.6M1128.8 1175.3 1133 1175.5M945.8 1090.3 949.9 1093.1 954 1098.7 958.1 1106.9 962.2 1117.3 966.3 1129.6 970.4 1143.1 974.5 1157.4 978.6 1171.9 982.7 1186.1 986.9 1199.6 991 1212.1 995.1 1223.2 999.2 1232.9 1003.3 1241.1 1007.4 1247.8 1011.5 1253.2 1015.6 1257.3 1019.7 1260.4 1023.8 1262.8M939.4 1091.9 943.5 1094.6 947.6 1100 951.7 1107.8 955.8 1117.8 959.9 1129.6 964 1142.6 968.1 1156.3 972.2 1170.2 976.4 1183.9 980.5 1196.9 984.6 1208.9 988.7 1219.7 992.8 1229.1 996.9 1237 1001 1243.6 1005.1 1248.8 1009.2 1252.9 1013.3 1256M933 1092.7 937.1 1095.4 941.2 1100.5 945.3 1108 949.4 1117.6 953.5 1128.8 957.6 1141.1 961.7 1154.2 965.9 1167.5 970 1180.6 974.1 1193.1 978.2 1204.6 982.3 1215 986.4 1224.1 990.5 1231.8 994.6 1238.1 998.7 1243.2 1002.8 1247.2M926.6 1092.5 930.7 1095.1 934.8 1100 938.9 1107.2 943 1116.3 947.1 1126.9 951.2 1138.7 955.4 1151.1 959.5 1163.8 963.6 1176.3 967.7 1188.2 971.8 1199.2 975.9 1209.2 980 1217.9 984.1 1225.3 988.2 1231.4 992.3 1236.3M920.2 1091.6 924.3 1094 928.4 1098.8 932.5 1105.6 936.6 1114.2 940.7 1124.3 944.9 1135.4 949 1147.2 953.1 1159.2 957.2 1171.1 961.3 1182.4 965.4 1192.9 969.5 1202.3 973.6 1210.6 977.7 1217.7 981.8 1223.6M913.8 1090.1 917.9 1092.5 922 1097 926.1 1103.4 930.2 1111.6 934.4 1121 938.5 1131.5 942.6 1142.6 946.7 1153.9 950.8 1165.1 954.9 1175.8 959 1185.7 963.1 1194.7 967.2 1202.5 971.3 1209.3 975.4 1214.9M907.4 1088.6 911.5 1090.9 915.6 1095.1 919.7 1101.2 923.9 1108.7 928 1117.6 932.1 1127.4 936.2 1137.7 940.3 1148.3 944.4 1158.7 948.5 1168.7 952.6 1178 956.7 1186.4 960.8 1193.8 964.9 1200.2M901 1087.2 905.1 1089.4 909.2 1093.4 913.4 1099 917.5 1106 921.6 1114.1 925.7 1123.2 929.8 1132.7 933.9 1142.5 938 1152.1 942.1 1161.4 946.2 1170 950.3 1177.9 954.4 1184.8 958.6 1190.8M894.6 1086.3 898.7 1088.4 902.9 1092.1 907 1097.2 911.1 1103.6 915.2 1111 919.3 1119.2 923.4 1127.9 927.5 1136.8 931.6 1145.6 935.7 1154.1 939.8 1162.1 943.9 1169.4 948.1 1175.8M888.2 1085.5 892.4 1087.5 896.5 1090.9 900.6 1095.5 904.7 1101.3 908.8 1108.1 912.9 1115.5 917 1123.4 921.1 1131.4 925.2 1139.5 929.3 1147.2 933.4 1154.5 937.6 1161.2 941.7 1167.2M881.9 1084.7 886 1086.6 890.1 1089.7 894.2 1094 898.3 1099.2 902.4 1105.3 906.5 1112 910.6 1119.2 914.7 1126.5 918.8 1133.8 922.9 1140.9 927.1 1147.6 931.2 1153.7 935.3 1159.3 939.4 1164.1M875.5 1083.9 879.6 1085.7 883.7 1088.7 887.8 1092.6 891.9 1097.4 896 1102.9 900.1 1109 904.2 1115.5 908.3 1122.2 912.4 1128.9 916.6 1135.4 920.7 1141.5 924.8 1147.3 928.9 1152.4 933 1157 937.1 1160.9M869.1 1083.1 873.2 1084.9 877.3 1087.7 881.4 1091.3 885.5 1095.8 889.6 1100.9 893.7 1106.5 897.8 1112.5 901.9 1118.7 906.1 1124.9 910.2 1130.9 914.3 1136.7 918.4 1142 922.5 1146.9 926.6 1151.2 930.7 1154.9 934.8 1158M862.7 1082.4 866.8 1084.2 870.9 1086.8 875 1090.3 879.1 1094.5 883.2 1099.3 887.3 1104.6 891.4 1110.3 895.6 1116.2 899.7 1122 903.8 1127.8 907.9 1133.2 912 1138.4 916.1 1143 920.2 1147.1 924.3 1150.7 928.4 1153.7 932.5 1156.2 936.6 1158.4 940.8 1160.1M1039.4 1137.9 1043.5 1138.8M856.3 1081.8 860.4 1083.5 864.5 1086.1 868.6 1089.5 872.7 1093.6 876.8 1098.3 880.9 1103.5 885.1 1109 889.2 1114.7 893.3 1120.4 897.4 1126 901.5 1131.4 905.6 1136.3 909.7 1140.9 913.8 1144.9 917.9 1148.4 922 1151.3 926.1 1153.8 930.3 1155.9 934.4 1157.7 938.5 1159.2 942.6 1160.6 946.7 1161.9 950.8 1163.2 954.9 1164.5 959 1165.6 963.1 1166.5 967.2 1167M1028.9 1137.4 1033 1137.4 1037.1 1138.3M849.9 1081.1 854 1082.9 858.1 1085.5 862.2 1088.9 866.3 1093.1 870.4 1097.9 874.6 1103.1 878.7 1108.7 882.8 1114.5 886.9 1120.2 891 1125.8 895.1 1131.2 899.2 1136.2 903.3 1140.7 907.4 1144.7 911.5 1148.1 915.6 1151.1 919.8 1153.6 923.9 1155.7 928 1157.4 932.1 1158.9 936.2 1160.3 940.3 1161.7 944.4 1163 948.5 1164.2 952.6 1165.3 956.7 1166.2 960.8 1166.8M1022.5 1137.8 1026.6 1137.8 1030.7 1138.7M1131.1 1043.8 1124.7 1044.6 1118.3 1045.4 1111.9 1046.1 1105.5 1046.8 1099.1 1046.8M1092.8 1043.3 1086.4 1042.1 1080 1042 1073.6 1042.3 1067.2 1043.3 1060.8 1045.5 1054.4 1048.8 1048 1052.6 1041.6 1056.7 1035.2 1060.6 1028.8 1064.2 1022.5 1068.3 1016.1 1072.7 1009.7 1076.9 1003.3 1080.5 996.9 1083 990.5 1084.1 984.1 1084.5 977.7 1084.6 971.3 1084.8 964.9 1085.4 958.5 1086.6 952.2 1088.4 945.8 1090.3 939.4 1091.9 933 1092.7 926.6 1092.5 920.2 1091.6 913.8 1090.1 907.4 1088.6 901 1087.2 894.6 1086.3 888.2 1085.5 881.9 1084.7 875.5 1083.9 869.1 1083.1 862.7 1082.4 856.3 1081.8 849.9 1081.1M1135.2 1045.6 1128.8 1046.4 1122.4 1047.2 1116 1048 1109.6 1048.8 1103.3 1048.9 1096.9 1045.6 1090.5 1044.5 1084.1 1044.5 1077.7 1045 1071.3 1046.1 1064.9 1048.4 1058.5 1051.7 1052.1 1055.6 1045.7 1059.7 1039.3 1063.6 1033 1067.2 1026.6 1071.3 1020.2 1075.7 1013.8 1079.9 1007.4 1083.4 1001 1085.9 994.6 1087 988.2 1087.4 981.8 1087.5 975.4 1087.7 969 1088.3 962.7 1089.5 956.3 1091.2 949.9 1093.1 943.5 1094.6 937.1 1095.4 930.7 1095.1 924.3 1094 917.9 1092.5 911.5 1090.9 905.1 1089.4 898.7 1088.4 892.4 1087.5 886 1086.6 879.6 1085.7 873.2 1084.9 866.8 1084.2 860.4 1083.5 854 1082.9M1139.3 1048.2 1132.9 1049.1 1126.5 1050 1120.1 1051 1113.8 1052 1107.4 1052.5 1101 1049.7 1094.6 1049 1088.2 1049.5 1081.8 1050.3 1075.4 1051.8 1069 1054.4 1062.6 1057.9 1056.2 1061.9 1049.8 1066 1043.5 1070 1037.1 1073.6 1030.7 1077.7 1024.3 1081.9 1017.9 1086 1011.5 1089.5 1005.1 1091.9 998.7 1092.9 992.3 1093.3 985.9 1093.5 979.5 1093.7 973.2 1094.3 966.8 1095.4 960.4 1097 954 1098.7 947.6 1100 941.2 1100.5 934.8 1100 928.4 1098.8 922 1097 915.6 1095.1 909.2 1093.4 902.9 1092.1 896.5 1090.9 890.1 1089.7 883.7 1088.7 877.3 1087.7 870.9 1086.8 864.5 1086.1 858.1 1085.5M1143.4 1051.7 1137 1052.7 1130.6 1053.8 1124.3 1055 1117.9 1056.4 1111.5 1057.4 1105.1 1055.4 1098.7 1055.5 1092.3 1056.6 1085.9 1058 1079.5 1060.1 1073.1 1063.1 1066.7 1066.9 1060.3 1071.1 1054 1075.4 1047.6 1079.5 1041.2 1083.1 1034.8 1087.1 1028.4 1091.2 1022 1095.1 1015.6 1098.4 1009.2 1100.7 1002.8 1101.7 996.4 1102.2 990 1102.4 983.7 1102.6 977.3 1103.1 970.9 1104.1 964.5 1105.5 958.1 1106.9 951.7 1107.8 945.3 1108 938.9 1107.2 932.5 1105.6 926.1 1103.4 919.7 1101.2 913.4 1099 907 1097.2 900.6 1095.5 894.2 1094 887.8 1092.6 881.4 1091.3 875 1090.3 868.6 1089.5 862.2 1088.9M1147.5 1055.9 1141.1 1057 1134.8 1058.3 1128.4 1059.9 1122 1061.8 1115.6 1063.5 1109.2 1062.6 1102.8 1063.6 1096.4 1065.6 1090 1067.8 1083.6 1070.6 1077.2 1074.2 1070.8 1078.4 1064.5 1082.9 1058.1 1087.4 1051.7 1091.5 1045.3 1095.2 1038.9 1099.1 1032.5 1103 1026.1 1106.7 1019.7 1109.8 1013.3 1111.9 1006.9 1112.9 1000.5 1113.4 994.2 1113.7 987.8 1114 981.4 1114.4 975 1115.2 968.6 1116.3 962.2 1117.3 955.8 1117.8 949.4 1117.6 943 1116.3 936.6 1114.2 930.2 1111.6 923.9 1108.7 917.5 1106 911.1 1103.6 904.7 1101.3 898.3 1099.2 891.9 1097.4 885.5 1095.8 879.1 1094.5 872.7 1093.6 866.3 1093.1M1151.6 1060.8 1145.3 1061.9 1138.9 1063.5 1132.5 1065.6 1126.1 1068.1 1119.7 1070.6 1113.3 1070.9 1106.9 1073 1100.5 1076 1094.1 1079.2 1087.7 1082.9 1081.3 1087.2 1075 1091.9 1068.6 1096.7 1062.2 1101.4 1055.8 1105.6 1049.4 1109.4 1043 1113.1 1036.6 1116.9 1030.2 1120.3 1023.8 1123.1 1017.4 1125.1 1011 1126.1 1004.7 1126.6 998.3 1127 991.9 1127.3 985.5 1127.6 979.1 1128.3 972.7 1129 966.3 1129.6 959.9 1129.6 953.5 1128.8 947.1 1126.9 940.7 1124.3 934.4 1121 928 1117.6 921.6 1114.1 915.2 1111 908.8 1108.1 902.4 1105.3 896 1102.9 889.6 1100.9 883.2 1099.3 876.8 1098.3 870.4 1097.9M1155.8 1066.1 1149.4 1067.3 1143 1069.3 1136.6 1071.8 1130.2 1075 1123.8 1078.3 1117.4 1080.1 1111 1083.4 1104.6 1087.4 1098.2 1091.7 1091.8 1096.3 1085.5 1101.3 1079.1 1106.6 1072.7 1111.9 1066.3 1116.8 1059.9 1121.2 1053.5 1124.9 1047.1 1128.6 1040.7 1132.1 1034.3 1135.3 1027.9 1137.8 1021.5 1139.7 1015.2 1140.6 1008.8 1141.2 1002.4 1141.6 996 1141.9 989.6 1142.2 983.2 1142.7 976.8 1143.1 970.4 1143.1 964 1142.6 957.6 1141.1 951.2 1138.7 944.9 1135.4 938.5 1131.5 932.1 1127.4 925.7 1123.2 919.3 1119.2 912.9 1115.5 906.5 1112 900.1 1109 893.7 1106.5 887.3 1104.6 880.9 1103.5 874.6 1103.1M1159.9 1071.8 1153.5 1073.1 1147.1 1075.4 1140.7 1078.4 1134.3 1082.3 1127.9 1086.5 1121.5 1089.7 1115.1 1094.2 1108.7 1099.4 1102.3 1104.8 1096 1110.3 1089.6 1116.2 1083.2 1122 1076.8 1127.7 1070.4 1132.9 1064 1137.4 1057.6 1141.3 1051.2 1144.9 1044.8 1148.2 1038.4 1151 1032 1153.3 1025.7 1155 1019.3 1156 1012.9 1156.6 1006.5 1157 1000.1 1157.4 993.7 1157.6 987.3 1157.8 980.9 1157.9 974.5 1157.4 968.1 1156.3 961.7 1154.2 955.4 1151.1 949 1147.2 942.6 1142.6 936.2 1137.7 929.8 1132.7 923.4 1127.9 917 1123.4 910.6 1119.2 904.2 1115.5 897.8 1112.5 891.4 1110.3 885.1 1109 878.7 1108.7M1164 1077.6 1157.6 1079.1 1151.2 1081.6 1144.8 1085.2 1138.4 1089.7 1132 1094.9 1125.6 1099.3 1119.2 1105.1 1112.8 1111.4 1106.5 1117.9 1100.1 1124.4 1093.7 1131 1087.3 1137.5 1080.9 1143.5 1074.5 1149 1068.1 1153.8 1061.7 1157.7 1055.3 1161.2 1048.9 1164.3 1042.5 1166.9 1036.2 1169 1029.8 1170.5 1023.4 1171.5 1017 1172.1 1010.6 1172.7 1004.2 1173 997.8 1173.2 991.4 1173.2 985 1172.9 978.6 1171.9 972.2 1170.2 965.9 1167.5 959.5 1163.8 953.1 1159.2 946.7 1153.9 940.3 1148.3 933.9 1142.5 927.5 1136.8 921.1 1131.4 914.7 1126.5 908.3 1122.2 901.9 1118.7 895.6 1116.2 889.2 1114.7 882.8 1114.5M1168.1 1083.5 1161.7 1085 1155.3 1087.9 1148.9 1091.9 1142.5 1097.1 1136.1 1103.1 1129.7 1108.8 1123.3 1115.7 1117 1123 1110.6 1130.5 1104.2 1138 1097.8 1145.4 1091.4 1152.4 1085 1158.9 1078.6 1164.7 1072.2 1169.6 1065.8 1173.7 1059.4 1177.2 1053 1180.1 1046.7 1182.5 1040.3 1184.4 1033.9 1185.7 1027.5 1186.7 1021.1 1187.4 1014.7 1187.9 1008.3 1188.3 1001.9 1188.4 995.5 1188.2 989.1 1187.5 982.7 1186.1 976.4 1183.9 970 1180.6 963.6 1176.3 957.2 1171.1 950.8 1165.1 944.4 1158.7 938 1152.1 931.6 1145.6 925.2 1139.5 918.8 1133.8 912.4 1128.9 906.1 1124.9 899.7 1122 893.3 1120.4 886.9 1120.2M1172.2 1089.2 1165.8 1090.8 1159.4 1093.9 1153 1098.4 1146.6 1104.2 1140.2 1110.9 1133.8 1117.8 1127.5 1125.6 1121.1 1134 1114.7 1142.4 1108.3 1150.7 1101.9 1158.8 1095.5 1166.4 1089.1 1173.3 1082.7 1179.4 1076.3 1184.5 1069.9 1188.7 1063.5 1192.1 1057.2 1194.9 1050.8 1197.2 1044.4 1198.9 1038 1200.1 1031.6 1201 1025.2 1201.8 1018.8 1202.4 1012.4 1202.8 1006 1202.8 999.6 1202.4 993.2 1201.4 986.9 1199.6 980.5 1196.9 974.1 1193.1 967.7 1188.2 961.3 1182.4 954.9 1175.8 948.5 1168.7 942.1 1161.4 935.7 1154.1 929.3 1147.2 922.9 1140.9 916.6 1135.4 910.2 1130.9 903.8 1127.8 897.4 1126 891 1125.8M1176.3 1094.6 1169.9 1096.3 1163.5 1099.7 1157.1 1104.6 1150.7 1110.9 1144.3 1118.2 1138 1126.1 1131.6 1134.8 1125.2 1144 1118.8 1153.3 1112.4 1162.3 1106 1171 1099.6 1179.1 1093.2 1186.4 1086.8 1192.7 1080.4 1198 1074 1202.3 1067.7 1205.8 1061.3 1208.5 1054.9 1210.6 1048.5 1212.2 1042.1 1213.3 1035.7 1214.2 1029.3 1215 1022.9 1215.7 1016.5 1216 1010.1 1216 1003.7 1215.5 997.4 1214.2 991 1212.1 984.6 1208.9 978.2 1204.6 971.8 1199.2 965.4 1192.9 959 1185.7 952.6 1178 946.2 1170 939.8 1162.1 933.4 1154.5 927.1 1147.6 920.7 1141.5 914.3 1136.7 907.9 1133.2 901.5 1131.4 895.1 1131.2M1180.4 1099.7 1174 1101.4 1167.6 1105 1161.2 1110.2 1154.8 1116.9 1148.5 1124.9 1142.1 1133.5 1135.7 1143 1129.3 1152.9 1122.9 1162.8 1116.5 1172.5 1110.1 1181.8 1103.7 1190.3 1097.3 1197.9 1090.9 1204.5 1084.5 1210 1078.2 1214.4 1071.8 1217.9 1065.4 1220.6 1059 1222.6 1052.6 1224 1046.2 1225.2 1039.8 1226 1033.4 1226.8 1027 1227.5 1020.6 1227.9 1014.2 1227.8 1007.9 1227.1 1001.5 1225.7 995.1 1223.2 988.7 1219.7 982.3 1215 975.9 1209.2 969.5 1202.3 963.1 1194.7 956.7 1186.4 950.3 1177.9 943.9 1169.4 937.6 1161.2 931.2 1153.7 924.8 1147.3 918.4 1142 912 1138.4 905.6 1136.3 899.2 1136.2M1184.5 1104.3 1178.1 1106.1 1171.7 1109.8 1165.3 1115.3 1159 1122.4 1152.6 1130.8 1146.2 1140 1139.8 1150.1 1133.4 1160.6 1127 1171.1 1120.6 1181.3 1114.2 1191 1107.8 1199.9 1101.4 1207.8 1095 1214.6 1088.7 1220.3 1082.3 1224.8 1075.9 1228.3 1069.5 1231 1063.1 1232.9 1056.7 1234.3 1050.3 1235.4 1043.9 1236.3 1037.5 1237.1 1031.1 1237.7 1024.7 1238.1 1018.4 1238 1012 1237.2 1005.6 1235.6 999.2 1232.9 992.8 1229.1 986.4 1224.1 980 1217.9 973.6 1210.6 967.2 1202.5 960.8 1193.8 954.4 1184.8 948.1 1175.8 941.7 1167.2 935.3 1159.3 928.9 1152.4 922.5 1146.9 916.1 1143 909.7 1140.9 903.3 1140.7M1188.6 1108.3 1182.2 1110.2 1175.8 1114 1169.5 1119.7 1163.1 1127.1 1156.7 1135.8 1150.3 1145.6 1143.9 1156.1 1137.5 1167 1131.1 1178 1124.7 1188.6 1118.3 1198.7 1111.9 1207.9 1105.5 1216.1 1099.2 1223.1 1092.8 1228.9 1086.4 1233.5 1080 1237 1073.6 1239.7 1067.2 1241.6 1060.8 1243 1054.4 1244 1048 1244.9 1041.6 1245.7 1035.2 1246.4 1028.9 1246.7 1022.5 1246.6 1016.1 1245.7 1009.7 1244 1003.3 1241.1 996.9 1237 990.5 1231.8 984.1 1225.3 977.7 1217.7 971.3 1209.3 964.9 1200.2 958.6 1190.8M939.4 1164.1 933 1157 926.6 1151.2 920.2 1147.1 913.8 1144.9 907.4 1144.7M1192.7 1111.8 1186.3 1113.7 1180 1117.7 1173.6 1123.5 1167.2 1131.1 1160.8 1140.1 1154.4 1150.2 1148 1161.1 1141.6 1172.4 1135.2 1183.6 1128.8 1194.6 1122.4 1204.9 1116 1214.4 1109.7 1222.7 1103.3 1229.9 1096.9 1235.8 1090.5 1240.5 1084.1 1244.1 1077.7 1246.8 1071.3 1248.7 1064.9 1250 1058.5 1251 1052.1 1251.9 1045.7 1252.7 1039.4 1253.4 1033 1253.8 1026.6 1253.6 1020.2 1252.7 1013.8 1250.8 1007.4 1247.8 1001 1243.6 994.6 1238.1 988.2 1231.4 981.8 1223.6 975.4 1214.9M937.1 1160.9 930.7 1154.9 924.3 1150.7 917.9 1148.4 911.5 1148.1M1196.8 1114.8 1190.5 1116.8 1184.1 1120.8 1177.7 1126.7 1171.3 1134.5 1164.9 1143.7 1158.5 1154 1152.1 1165.1 1145.7 1176.6 1139.3 1188.1 1132.9 1199.3 1126.5 1209.9 1120.2 1219.5 1113.8 1228 1107.4 1235.3 1101 1241.3 1094.6 1246.1 1088.2 1249.7 1081.8 1252.4 1075.4 1254.3 1069 1255.6 1062.6 1256.6 1056.2 1257.5 1049.9 1258.3 1043.5 1259 1037.1 1259.4 1030.7 1259.2 1024.3 1258.2 1017.9 1256.2 1011.5 1253.2 1005.1 1248.8 998.7 1243.2 992.3 1236.3M934.8 1158 928.4 1153.7 922 1151.3 915.6 1151.1M1201 1117.3 1194.6 1119.3 1188.2 1123.3 1181.8 1129.4 1175.4 1137.2 1169 1146.6 1162.6 1157 1156.2 1168.3 1149.8 1180 1143.4 1191.7 1137 1203 1130.7 1213.7 1124.3 1223.4 1117.9 1232 1111.5 1239.4 1105.1 1245.5 1098.7 1250.3 1092.3 1254 1085.9 1256.7 1079.5 1258.6 1073.1 1259.9 1066.7 1260.9 1060.4 1261.8 1054 1262.6 1047.6 1263.3 1041.2 1263.6 1034.8 1263.4 1028.4 1262.4 1022 1260.4 1015.6 1257.3 1009.2 1252.9 1002.8 1247.2M932.5 1156.2 926.1 1153.8 919.8 1153.6M1205.1 1119.4 1198.7 1121.4 1192.3 1125.5 1185.9 1131.6 1179.5 1139.5 1173.1 1148.9 1166.7 1159.5 1160.3 1170.8 1153.9 1182.6 1147.5 1194.4 1141.2 1205.8 1134.8 1216.6 1128.4 1226.4 1122 1235.1 1115.6 1242.5 1109.2 1248.6 1102.8 1253.5 1096.4 1257.2 1090 1259.9 1083.6 1261.8 1077.2 1263.1 1070.9 1264.1 1064.5 1265 1058.1 1265.8 1051.7 1266.5 1045.3 1266.9 1038.9 1266.6 1032.5 1265.6 1026.1 1263.6 1019.7 1260.4 1013.3 1256M936.6 1158.4 930.3 1155.9 923.9 1155.7M1209.2 1121.2 1202.8 1123.2 1196.4 1127.3 1190 1133.4 1183.6 1141.3 1177.2 1150.8 1170.8 1161.4 1164.4 1172.8 1158 1184.7 1151.7 1196.5 1145.3 1208 1138.9 1218.8 1132.5 1228.7 1126.1 1237.4 1119.7 1244.8 1113.3 1251 1106.9 1255.9 1100.5 1259.6 1094.1 1262.3 1087.7 1264.2 1081.4 1265.5 1075 1266.5 1068.6 1267.4 1062.2 1268.2 1055.8 1268.9 1049.4 1269.3 1043 1269 1036.6 1268 1030.2 1266 1023.8 1262.8M940.8 1160.1 934.4 1157.7 928 1157.4M1213.3 1122.7 1206.9 1124.7 1200.5 1128.8 1194.1 1134.9 1187.7 1142.9 1181.3 1152.4 1174.9 1163 1168.5 1174.5 1162.2 1186.3 1155.8 1198.2 1149.4 1209.7 1143 1220.5 1136.6 1230.4 1130.2 1239.1 1123.8 1246.6 1117.4 1252.8 1111 1257.7 1104.6 1261.4 1098.2 1264.1 1091.9 1266 1085.5 1267.3 1079.1 1268.3 1072.7 1269.2 1066.3 1270 1059.9 1270.7 1053.5 1271.1 1047.1 1270.8 1040.7 1269.8 1034.3 1267.8M938.5 1159.2 932.1 1158.9M1217.4 1124.1 1211 1126.1 1204.6 1130.2 1198.2 1136.3 1191.8 1144.3 1185.4 1153.8 1179 1164.4 1172.7 1175.9 1166.3 1187.7 1159.9 1199.6 1153.5 1211.1 1147.1 1222 1140.7 1231.9 1134.3 1240.6 1127.9 1248.1 1121.5 1254.2 1115.1 1259.1 1108.7 1262.8 1102.4 1265.5 1096 1267.5 1089.6 1268.8 1083.2 1269.8 1076.8 1270.7 1070.4 1271.5 1064 1272.2 1057.6 1272.5 1051.2 1272.3 1044.8 1271.3 1038.4 1269.2M942.6 1160.6 936.2 1160.3M1221.5 1125.4 1215.1 1127.4 1208.7 1131.5 1202.3 1137.7 1195.9 1145.6 1189.5 1155.1 1183.2 1165.7 1176.8 1177.2 1170.4 1189.1 1164 1200.9 1157.6 1212.5 1151.2 1223.3 1144.8 1233.2 1138.4 1241.9 1132 1249.4 1125.6 1255.6 1119.2 1260.5 1112.9 1264.2 1106.5 1266.9 1100.1 1268.8 1093.7 1270.1 1087.3 1271.1 1080.9 1272 1074.5 1272.8 1068.1 1273.5 1061.7 1273.9 1055.3 1273.7 1048.9 1272.6 1042.6 1270.6M946.7 1161.9 940.3 1161.7M1225.6 1126.8 1219.2 1128.7 1212.8 1132.8 1206.4 1139 1200 1146.9 1193.7 1156.4 1187.3 1167.1 1180.9 1178.5 1174.5 1190.4 1168.1 1202.3 1161.7 1213.8 1155.3 1224.6 1148.9 1234.5 1142.5 1243.2 1136.1 1250.7 1129.7 1256.9 1123.4 1261.8 1117 1265.5 1110.6 1268.2 1104.2 1270.1 1097.8 1271.4 1091.4 1272.4 1085 1273.3 1078.6 1274.1 1072.2 1274.8 1065.8 1275.2 1059.4 1275 1053.1 1273.9M950.8 1163.2 944.4 1163M1229.7 1128 1223.3 1130 1216.9 1134.1 1210.5 1140.2 1204.2 1148.2 1197.8 1157.6 1191.4 1168.3 1185 1179.7 1178.6 1191.6 1172.2 1203.5 1165.8 1215 1159.4 1225.8 1153 1235.7 1146.6 1244.4 1140.2 1251.9 1133.9 1258.1 1127.5 1262.9 1121.1 1266.7 1114.7 1269.4 1108.3 1271.3 1101.9 1272.6 1095.5 1273.6 1089.1 1274.5 1082.7 1275.3 1076.3 1276 1069.9 1276.3 1063.6 1276.1 1057.2 1275.1M954.9 1164.5 948.5 1164.2M1233.8 1129.1 1227.4 1131.1 1221 1135.2 1214.7 1141.3 1208.3 1149.2 1201.9 1158.7 1195.5 1169.3 1189.1 1180.7 1182.7 1192.6 1176.3 1204.4 1169.9 1215.9 1163.5 1226.7 1157.1 1236.6 1150.7 1245.3 1144.4 1252.8 1138 1258.9 1131.6 1263.8 1125.2 1267.5 1118.8 1270.2 1112.4 1272.1 1106 1273.4 1099.6 1274.4 1093.2 1275.3 1086.8 1276.1 1080.4 1276.8 1074.1 1277.2 1067.7 1277 1061.3 1275.9M959 1165.6 952.6 1165.3M1237.9 1130 1231.5 1131.9 1225.2 1136 1218.8 1142.1 1212.4 1150 1206 1159.4 1199.6 1170 1193.2 1181.4 1186.8 1193.2 1180.4 1205 1174 1216.4 1167.6 1227.2 1161.2 1237 1154.9 1245.7 1148.5 1253.1 1142.1 1259.2 1135.7 1264.1 1129.3 1267.8 1122.9 1270.5 1116.5 1272.4 1110.1 1273.7 1103.7 1274.7 1097.3 1275.6 1090.9 1276.4 1084.6 1277.1 1078.2 1277.4 1071.8 1277.2M963.1 1166.5 956.7 1166.2M1242 1130.6 1235.7 1132.5 1229.3 1136.5 1222.9 1142.6 1216.5 1150.4 1210.1 1159.8 1203.7 1170.3 1197.3 1181.6 1190.9 1193.2 1184.5 1204.9 1178.1 1216.3 1171.7 1227 1165.4 1236.7 1159 1245.3 1152.6 1252.7 1146.2 1258.8 1139.8 1263.6 1133.4 1267.3 1127 1269.9 1120.6 1271.8 1114.2 1273.2 1107.8 1274.2 1101.4 1275M967.2 1167 960.8 1166.8M1246.2 1130.7 1239.8 1132.6 1233.4 1136.6 1227 1142.6 1220.6 1150.4 1214.2 1159.6 1207.8 1169.9 1201.4 1181.1 1195 1192.6 1188.6 1204.2 1182.2 1215.4 1175.9 1225.9 1169.5 1235.6 1163.1 1244.1 1156.7 1251.3 1150.3 1257.4 1143.9 1262.1 1137.5 1265.8 1131.1 1268.4M1250.3 1130.3 1243.9 1132.2 1237.5 1136.2 1231.1 1142.1 1224.7 1149.7 1218.3 1158.8 1211.9 1168.9 1205.5 1179.9 1199.1 1191.2 1192.7 1202.6 1186.4 1213.6 1180 1223.9 1173.6 1233.4 1167.2 1241.8 1160.8 1248.9 1154.4 1254.8 1148 1259.5M1254.4 1129.4 1248 1131.3 1241.6 1135.2 1235.2 1141 1228.8 1148.4 1222.4 1157.2 1216 1167.2 1209.6 1177.9 1203.2 1189 1196.9 1200 1190.5 1210.8 1184.1 1220.9 1177.7 1230.1 1171.3 1238.3 1164.9 1245.3 1158.5 1251.1M1252.1 1129.8 1245.7 1133.6 1239.3 1139.2 1232.9 1146.5 1226.5 1155 1220.1 1164.7 1213.7 1175.1 1207.4 1185.8 1201 1196.6 1194.6 1207 1188.2 1216.8 1181.8 1225.8 1175.4 1233.7M1256.2 1127.8 1249.8 1131.5 1243.4 1136.9 1237 1143.9 1230.6 1152.2 1224.2 1161.5 1217.9 1171.5 1211.5 1181.8 1205.1 1192.1 1198.7 1202.2 1192.3 1211.6 1185.9 1220.3M1253.9 1128.9 1247.5 1134.1 1241.1 1140.8 1234.7 1148.7 1228.4 1157.6 1222 1167.1 1215.6 1177 1209.2 1186.9 1202.8 1196.5 1196.4 1205.5M1258 1125.9 1251.6 1130.8 1245.2 1137.2 1238.9 1144.7 1232.5 1153.1 1226.1 1162.2 1219.7 1171.6 1213.3 1181M1255.7 1127.2 1249.4 1133.2 1243 1140.3 1236.6 1148.3 1230.2 1156.9 1223.8 1165.7M1253.5 1129.1 1247.1 1135.8 1240.7 1143.3 1234.3 1151.3M1272.2 1113 1265.8 1117.6 1259.4 1123.1 1253 1129.1 1246.6 1135.6M1282.7 1106.9 1276.3 1110.4 1269.9 1114.7 1263.5 1119.8 1257.1 1125.5 1250.7 1131.5 1244.3 1137.8 1237.9 1144.1M1293.2 1102.8 1286.8 1105.1 1280.4 1108.4 1274 1112.5 1267.6 1117.3 1261.2 1122.7 1254.8 1128.4 1248.4 1134.3 1242.1 1140.2 1235.7 1146 1229.3 1151.4 1222.9 1156.4M1303.7 1100.5 1297.3 1101.9 1290.9 1104.1 1284.5 1107.3 1278.1 1111.2 1271.7 1115.8 1265.3 1121 1258.9 1126.4 1252.6 1132.1 1246.2 1137.7 1239.8 1143.2 1233.4 1148.4 1227 1153.2 1220.6 1157.5 1214.2 1161.2 1207.8 1164.4M1028.9 1137.4 1022.5 1137.8M1307.8 1100.5 1301.4 1101.8 1295 1104 1288.6 1107.1 1282.2 1111 1275.8 1115.4 1269.4 1120.4 1263.1 1125.7 1256.7 1131.2 1250.3 1136.7 1243.9 1142 1237.5 1147.1 1231.1 1151.7 1224.7 1155.9 1218.3 1159.5 1211.9 1162.6 1205.5 1165.1 1199.1 1167.2 1192.8 1168.8 1186.4 1170.1 1180 1171.2 1173.6 1172.1 1167.2 1172.9 1160.8 1173.8 1154.4 1174.5 1148 1175.2 1141.6 1175.6 1135.2 1175.7 1128.8 1175.3M1039.4 1137.9 1033 1137.4 1026.6 1137.8M1311.9 1101.4 1305.5 1102.7 1299.1 1104.9 1292.7 1107.9 1286.3 1111.7 1279.9 1116.2 1273.6 1121.1 1267.2 1126.3 1260.8 1131.8 1254.4 1137.2 1248 1142.5 1241.6 1147.5 1235.2 1152.1 1228.8 1156.2 1222.4 1159.8 1216 1162.8 1209.6 1165.4 1203.3 1167.4 1196.9 1169 1190.5 1170.3 1184.1 1171.4 1177.7 1172.3 1171.3 1173.1 1164.9 1174 1158.5 1174.8 1152.1 1175.4 1145.7 1175.8 1139.3 1175.9 1133 1175.5M1043.5 1138.8 1037.1 1138.3 1030.7 1138.7" fill="none" stroke="#3a2060" stroke-width="0.6" stroke-opacity="0.28"/>
<path d="M966 1166.8L959 1165.6L954.9 1164.4L939.2 1159.4L932.6 1156.2L930.7 1154.9L931 1155.2L928.4 1153.7L932.1 1156.2L933.3 1157.4L937.2 1161.8L941.6 1167.2L954.4 1184.8L971.3 1209.3L981.8 1223.6L988.2 1231.4L992.3 1236.4L998.7 1243.2L1009.2 1252.9L1013.3 1256L1019.7 1260.5L1023.8 1262.8L1034.3 1267.8L1053 1274L1057.1 1275.1L1061.3 1276L1067.7 1277L1078.2 1277.5L1084.6 1277.1L1091 1276.4L1114.2 1273.2L1120.6 1271.9L1127 1270L1137.5 1265.8L1148 1259.6L1154.4 1254.9L1164.9 1245.4L1175.4 1233.7L1181.8 1225.8L1192.3 1211.7L1219.7 1171.6L1230.2 1156.9L1234.3 1151.3L1240.7 1143.3L1247.1 1135.8L1251.2 1131.6L1253 1129.9L1258.5 1128.1L1262.6 1126.1L1266.7 1123.7L1270.8 1120.8L1287.3 1108.1L1291.4 1105.4L1295.5 1103.1L1299.6 1101.5L1303.7 1100.5L1293.2 1102.7L1286.8 1105.1L1282.7 1106.9L1276.3 1110.3L1272.2 1113L1265.8 1117.6L1259.4 1123L1252.5 1129.6L1247.9 1131.3L1251.6 1130.3L1249.8 1131.5L1251.5 1130.6L1239.6 1142.4L1235.6 1146L1227 1153.1L1220.6 1157.4L1214.2 1161.2L1209.4 1163.5L1205.5 1165.1L1199.1 1167.1L1192.7 1168.8L1186.4 1170.1L1160.8 1173.7L1148 1175.1L1141.6 1175.5L1132.7 1175.5L1126.6 1174.7L1120.2 1173.3L1113.8 1171.4L1107.4 1169L1101 1166.1L1094.6 1162.8L1069.1 1148.2L1062.7 1144.9L1056.3 1142.2L1049.9 1140.1L1043.5 1138.7L1039.4 1137.9L1033 1137.4L1022.5 1137.8L1018.4 1138.6L1014.2 1140.2L1010.1 1142.4L1006 1145L989.6 1157.4L985.5 1160.1L981.4 1162.5L977.3 1164.4L973.2 1165.7L969.1 1166.6ZM1103.3 1049L1092.8 1043.3L1092.7 1043.4L1099.1 1046.9Z" fill="#a282c0" fill-rule="evenodd"/>
<path d="M1254.4 1129.4 1258.5 1128 1262.6 1126 1266.7 1123.6 1270.8 1120.8 1274.9 1117.7 1279 1114.4 1283.1 1111.2 1287.2 1108.1 1291.4 1105.3 1295.5 1103.1 1299.6 1101.4 1303.7 1100.5M1248 1131.3 1252.1 1129.8 1256.2 1127.8 1260.3 1125.4 1264.4 1122.5 1268.5 1119.3 1272.6 1116 1276.7 1112.7 1280.9 1109.6 1285 1106.8 1289.1 1104.4 1293.2 1102.8 1297.3 1101.9M1249.8 1131.5 1253.9 1128.9 1258 1125.9 1262.1 1122.5 1266.2 1119.1 1270.4 1115.6 1274.5 1112.3 1278.6 1109.3 1282.7 1106.9 1286.8 1105.1M1251.6 1130.8 1255.7 1127.2 1259.9 1123.5 1264 1119.7 1268.1 1116.2 1272.2 1113 1276.3 1110.4M1249.4 1133.2 1253.5 1129.1 1257.6 1125 1261.7 1121.1 1265.8 1117.6M1099.1 1046.8 1103.3 1048.9M1247.1 1135.8 1251.2 1131.3 1255.3 1127 1259.4 1123.1M1092.8 1043.3 1096.9 1045.6M1240.7 1143.3 1244.8 1138.2 1248.9 1133.5 1253 1129.1M1230.2 1156.9 1234.3 1151.3 1238.4 1145.7 1242.5 1140.4 1246.6 1135.6 1250.7 1131.5M1219.7 1171.6 1223.8 1165.7 1227.9 1159.6 1232 1153.5 1236.1 1147.6 1240.2 1142.3 1244.3 1137.8M1209.2 1186.9 1213.3 1181 1217.4 1174.5 1221.5 1167.9 1225.6 1161.2 1229.7 1154.8 1233.8 1149 1237.9 1144.1 1242.1 1140.2M1202.8 1196.5 1206.9 1190.1 1211 1183.1 1215.1 1175.9 1219.2 1168.7 1223.3 1161.8 1227.4 1155.5 1231.6 1150.2 1235.7 1146M1192.3 1211.6 1196.4 1205.5 1200.5 1198.7 1204.6 1191.2 1208.7 1183.5 1212.8 1175.8 1216.9 1168.4 1221.1 1161.7 1225.2 1155.9 1229.3 1151.4M1181.8 1225.8 1185.9 1220.3 1190 1213.8 1194.1 1206.5 1198.2 1198.6 1202.3 1190.5 1206.4 1182.3 1210.6 1174.5 1214.7 1167.3 1218.8 1161.2 1222.9 1156.4 1227 1153.2M1171.3 1238.3 1175.4 1233.7 1179.5 1227.9 1183.6 1221.1 1187.7 1213.5 1191.8 1205.2 1195.9 1196.6 1200.1 1188.1 1204.2 1179.9 1208.3 1172.4 1212.4 1166 1216.5 1160.9 1220.6 1157.5M1164.9 1245.3 1169 1240.5 1173.1 1234.5 1177.2 1227.4 1181.3 1219.5 1185.4 1210.9 1189.6 1202 1193.7 1193.1 1197.8 1184.5 1201.9 1176.8 1206 1170.1 1210.1 1164.8 1214.2 1161.2M1154.4 1254.8 1158.5 1251.1 1162.6 1246.1 1166.7 1239.9 1170.8 1232.6 1174.9 1224.4 1179.1 1215.6 1183.2 1206.4 1187.3 1197.2 1191.4 1188.5 1195.5 1180.4 1199.6 1173.5 1203.7 1168.1 1207.8 1164.4 1211.9 1162.6M1143.9 1262.1 1148 1259.5 1152.1 1255.7 1156.2 1250.6 1160.3 1244.2 1164.4 1236.8 1168.6 1228.4 1172.7 1219.4 1176.8 1210 1180.9 1200.6 1185 1191.6 1189.1 1183.4 1193.2 1176.4 1197.3 1170.8 1201.4 1167 1205.5 1165.1M1137.5 1265.8 1141.6 1263.1 1145.7 1259.2 1149.8 1254 1153.9 1247.6 1158.1 1240 1162.2 1231.5 1166.3 1222.3 1170.4 1212.8 1174.5 1203.2 1178.6 1194.1 1182.7 1185.8 1186.8 1178.6 1190.9 1173 1195 1169.1 1199.1 1167.2M1127 1269.9 1131.1 1268.4 1135.2 1265.7 1139.3 1261.8 1143.4 1256.5 1147.6 1250 1151.7 1242.4 1155.8 1233.8 1159.9 1224.5 1164 1214.9 1168.1 1205.3 1172.2 1196 1176.3 1187.6 1180.4 1180.4 1184.5 1174.7 1188.6 1170.7 1192.8 1168.8M1120.6 1271.8 1124.7 1270.3 1128.8 1267.6 1132.9 1263.6 1137.1 1258.3 1141.2 1251.8 1145.3 1244.1 1149.4 1235.4 1153.5 1226.1 1157.6 1216.4 1161.7 1206.8 1165.8 1197.5 1169.9 1189 1174 1181.8 1178.1 1176 1182.3 1172 1186.4 1170.1M1114.2 1273.2 1118.3 1271.6 1122.4 1268.9 1126.6 1264.9 1130.7 1259.6 1134.8 1253 1138.9 1245.3 1143 1236.7 1147.1 1227.3 1151.2 1217.6 1155.3 1207.9 1159.4 1198.6 1163.5 1190.2 1167.6 1182.9 1171.8 1177.1 1175.9 1173.1 1180 1171.2M1107.8 1274.2 1111.9 1272.6 1116.1 1269.9 1120.2 1265.9 1124.3 1260.6 1128.4 1254 1132.5 1246.3 1136.6 1237.6 1140.7 1228.3 1144.8 1218.6 1148.9 1208.9 1153 1199.6 1157.1 1191.1 1161.3 1183.8 1165.4 1178 1169.5 1174 1173.6 1172.1M1097.3 1275.6 1101.4 1275 1105.6 1273.5 1109.7 1270.8 1113.8 1266.8 1117.9 1261.5 1122 1254.9 1126.1 1247.2 1130.2 1238.5 1134.3 1229.1 1138.4 1219.4 1142.5 1209.7 1146.6 1200.4 1150.8 1191.9 1154.9 1184.6 1159 1178.8 1163.1 1174.9 1167.2 1172.9M1090.9 1276.4 1095.1 1275.8 1099.2 1274.3 1103.3 1271.6 1107.4 1267.6 1111.5 1262.3 1115.6 1255.7 1119.7 1248 1123.8 1239.3 1127.9 1230 1132 1220.3 1136.1 1210.6 1140.3 1201.3 1144.4 1192.8 1148.5 1185.5 1152.6 1179.7 1156.7 1175.7 1160.8 1173.8M1084.6 1277.1 1088.7 1276.5 1092.8 1275 1096.9 1272.3 1101 1268.3 1105.1 1263 1109.2 1256.4 1113.3 1248.7 1117.4 1240 1121.5 1230.7 1125.6 1221 1129.8 1211.3 1133.9 1202 1138 1193.5 1142.1 1186.2 1146.2 1180.5 1150.3 1176.5 1154.4 1174.5M1078.2 1277.4 1082.3 1276.9 1086.4 1275.4 1090.5 1272.7 1094.6 1268.7 1098.7 1263.4 1102.8 1256.8 1106.9 1249.2 1111 1240.5 1115.1 1231.2 1119.3 1221.5 1123.4 1211.9 1127.5 1202.6 1131.6 1194.1 1135.7 1186.8 1139.8 1181.1 1143.9 1177.1 1148 1175.2M1067.7 1277 1071.8 1277.2 1075.9 1276.7 1080 1275.2 1084.1 1272.5 1088.2 1268.5 1092.3 1263.3 1096.4 1256.8 1100.5 1249.1 1104.6 1240.5 1108.8 1231.3 1112.9 1221.6 1117 1212 1121.1 1202.8 1125.2 1194.4 1129.3 1187.2 1133.4 1181.4 1137.5 1177.5 1141.6 1175.6M1048.9 1272.6 1053.1 1273.9 1057.2 1275.1 1061.3 1275.9 1065.4 1276.2 1069.5 1275.7 1073.6 1274.2 1077.7 1271.5 1081.8 1267.6 1085.9 1262.4 1090 1256 1094.1 1248.4 1098.3 1239.9 1102.4 1230.8 1106.5 1221.2 1110.6 1211.7 1114.7 1202.6 1118.8 1194.3 1122.9 1187.1 1127 1181.4 1131.1 1177.5 1135.2 1175.7M1030.2 1266 1034.3 1267.8 1038.4 1269.2 1042.6 1270.6 1046.7 1271.9 1050.8 1273.1 1054.9 1273.9 1059 1274.2 1063.1 1273.7 1067.2 1272.2 1071.3 1269.6 1075.4 1265.8 1079.5 1260.7 1083.6 1254.4 1087.8 1246.9 1091.9 1238.5 1096 1229.5 1100.1 1220.1 1104.2 1210.8 1108.3 1201.8 1112.4 1193.6 1116.5 1186.5 1120.6 1181 1124.7 1177.1 1128.8 1175.3 1133 1175.5M1019.7 1260.4 1023.8 1262.8 1027.9 1264.6 1032.1 1266 1036.2 1267.4 1040.3 1268.7 1044.4 1269.8 1048.5 1270.7 1052.6 1271 1056.7 1270.5 1060.8 1269.1 1064.9 1266.6 1069 1262.9 1073.1 1257.9 1077.3 1251.7 1081.4 1244.4 1085.5 1236.2 1089.6 1227.4 1093.7 1218.2 1097.8 1209.1 1101.9 1200.3 1106 1192.3 1110.1 1185.4 1114.2 1180 1118.3 1176.2 1122.5 1174.4 1126.6 1174.7M1009.2 1252.9 1013.3 1256 1017.4 1258.3 1021.6 1260 1025.7 1261.5 1029.8 1262.8 1033.9 1264.1 1038 1265.3 1042.1 1266.2 1046.2 1266.5 1050.3 1266.1 1054.4 1264.8 1058.5 1262.4 1062.6 1258.8 1066.8 1253.9 1070.9 1247.9 1075 1240.9 1079.1 1232.9 1083.2 1224.4 1087.3 1215.5 1091.4 1206.6 1095.5 1198.1 1099.6 1190.3 1103.7 1183.6 1107.8 1178.4 1112 1174.8 1116.1 1173.1 1120.2 1173.4M998.7 1243.2 1002.8 1247.2 1006.9 1250.2 1011.1 1252.5 1015.2 1254.2 1019.3 1255.7 1023.4 1257 1027.5 1258.3 1031.6 1259.5 1035.7 1260.4 1039.8 1260.7 1043.9 1260.4 1048 1259.1 1052.1 1256.9 1056.3 1253.4 1060.4 1248.8 1064.5 1243 1068.6 1236.3 1072.7 1228.6 1076.8 1220.4 1080.9 1211.8 1085 1203.3 1089.1 1195.1 1093.2 1187.6 1097.3 1181.2 1101.5 1176.2 1105.6 1172.7 1109.7 1171.1 1113.8 1171.5M988.2 1231.4 992.3 1236.3 996.4 1240.2 1000.6 1243.1 1004.7 1245.4 1008.8 1247.1 1012.9 1248.6 1017 1249.9 1021.1 1251.2 1025.2 1252.4 1029.3 1253.3 1033.4 1253.7 1037.5 1253.4 1041.6 1252.3 1045.8 1250.1 1049.9 1246.9 1054 1242.5 1058.1 1237 1062.2 1230.6 1066.3 1223.3 1070.4 1215.5 1074.5 1207.3 1078.6 1199.2 1082.7 1191.4 1086.8 1184.3 1091 1178.2 1095.1 1173.4 1099.2 1170.1 1103.3 1168.7 1107.4 1169M981.8 1223.6 985.9 1228.3 990.1 1232.1 994.2 1234.9 998.3 1237.1 1002.4 1238.8 1006.5 1240.3 1010.6 1241.6 1014.7 1242.9 1018.8 1244.1 1022.9 1245 1027 1245.5 1031.1 1245.3 1035.3 1244.3 1039.4 1242.3 1043.5 1239.3 1047.6 1235.2 1051.7 1230 1055.8 1224 1059.9 1217.1 1064 1209.7 1068.1 1202 1072.2 1194.3 1076.3 1187 1080.5 1180.3 1084.6 1174.5 1088.7 1170.1 1092.8 1167 1096.9 1165.7 1101 1166.1M971.3 1209.3 975.4 1214.9 979.6 1219.4 983.7 1223 987.8 1225.8 991.9 1227.9 996 1229.6 1000.1 1231.1 1004.2 1232.4 1008.3 1233.7 1012.4 1234.9 1016.5 1235.8 1020.6 1236.3 1024.8 1236.2 1028.9 1235.3 1033 1233.5 1037.1 1230.8 1041.2 1227 1045.3 1222.2 1049.4 1216.6 1053.5 1210.2 1057.6 1203.3 1061.7 1196.1 1065.8 1188.9 1070 1182 1074.1 1175.8 1078.2 1170.5 1082.3 1166.3 1086.4 1163.5 1090.5 1162.3 1094.6 1162.8M964.9 1200.2 969.1 1205.5 973.2 1209.8 977.3 1213.3 981.4 1215.9 985.5 1218 989.6 1219.7 993.7 1221.1 997.8 1222.5 1001.9 1223.8 1006 1225 1010.1 1226 1014.3 1226.5 1018.4 1226.5 1022.5 1225.7 1026.6 1224.1 1030.7 1221.6 1034.8 1218.2 1038.9 1213.8 1043 1208.6 1047.1 1202.7 1051.2 1196.3 1055.3 1189.7 1059.5 1183.1 1063.6 1176.7 1067.7 1171 1071.8 1166.1 1075.9 1162.2 1080 1159.7 1084.1 1158.7 1088.2 1159.2M954.4 1184.8 958.6 1190.8 962.7 1195.8 966.8 1199.9 970.9 1203.2 975 1205.8 979.1 1207.8 983.2 1209.4 987.3 1210.9 991.4 1212.2 995.5 1213.5 999.6 1214.7 1003.8 1215.7 1007.9 1216.3 1012 1216.4 1016.1 1215.8 1020.2 1214.4 1024.3 1212.2 1028.4 1209 1032.5 1205.1 1036.6 1200.3 1040.7 1195 1044.8 1189.1 1049 1183 1053.1 1177 1057.2 1171.2 1061.3 1165.9 1065.4 1161.5 1069.5 1158 1073.6 1155.8 1077.7 1154.9 1081.8 1155.5M948.1 1175.8 952.2 1181.4 956.3 1186.1 960.4 1190 964.5 1193.1 968.6 1195.6 972.7 1197.6 976.8 1199.2 980.9 1200.6 985 1201.9 989.1 1203.2 993.3 1204.5 997.4 1205.5 1001.5 1206.2 1005.6 1206.3 1009.7 1205.9 1013.8 1204.7 1017.9 1202.7 1022 1199.9 1026.1 1196.4 1030.2 1192.1 1034.3 1187.2 1038.5 1181.9 1042.6 1176.4 1046.7 1170.9 1050.8 1165.7 1054.9 1160.9 1059 1156.9 1063.1 1153.8 1067.2 1151.8 1071.3 1151.1 1075.4 1151.8M941.7 1167.2 945.8 1172.4 949.9 1176.8 954 1180.5 958.1 1183.4 962.2 1185.8 966.3 1187.7 970.4 1189.3 974.5 1190.8 978.6 1192.1 982.8 1193.4 986.9 1194.6 991 1195.7 995.1 1196.4 999.2 1196.6 1003.3 1196.3 1007.4 1195.3 1011.5 1193.6 1015.6 1191.2 1019.7 1188 1023.8 1184.2 1028 1179.8 1032.1 1175 1036.2 1170.1 1040.3 1165.1 1044.4 1160.4 1048.5 1156.1 1052.6 1152.5 1056.7 1149.8 1060.8 1148.1 1064.9 1147.5 1069 1148.2M935.3 1159.3 939.4 1164.1 943.5 1168.3 947.6 1171.7 951.7 1174.6 955.8 1176.9 959.9 1178.7 964 1180.3 968.1 1181.7 972.3 1183 976.4 1184.3 980.5 1185.6 984.6 1186.7 988.7 1187.4 992.8 1187.8 996.9 1187.6 1001 1186.8 1005.1 1185.3 1009.2 1183.2 1013.3 1180.3 1017.5 1176.9 1021.6 1173 1025.7 1168.7 1029.8 1164.2 1033.9 1159.8 1038 1155.5 1042.1 1151.7 1046.2 1148.5 1050.3 1146.1 1054.4 1144.6 1058.5 1144.2 1062.7 1145M933 1157 937.1 1160.9 941.2 1164.1 945.3 1166.8 949.4 1169.1 953.5 1170.9 957.6 1172.5 961.8 1173.9 965.9 1175.2 970 1176.5 974.1 1177.7 978.2 1178.8 982.3 1179.6 986.4 1180 990.5 1180 994.6 1179.3 998.7 1178.1 1002.8 1176.2 1007 1173.7 1011.1 1170.6 1015.2 1167.1 1019.3 1163.3 1023.4 1159.2 1027.5 1155.2 1031.6 1151.4 1035.7 1148 1039.8 1145.1 1043.9 1143 1048 1141.7 1052.2 1141.5 1056.3 1142.2M930.7 1154.9 934.8 1158 938.9 1160.6 943 1162.8 947.1 1164.6 951.3 1166.1 955.4 1167.5 959.5 1168.9 963.6 1170.2 967.7 1171.4 971.8 1172.5 975.9 1173.4 980 1173.8 984.1 1173.9 988.2 1173.4 992.3 1172.3 996.5 1170.6 1000.6 1168.4 1004.7 1165.6 1008.8 1162.4 1012.9 1158.9 1017 1155.3 1021.1 1151.6 1025.2 1148.1 1029.3 1145 1033.4 1142.4 1037.5 1140.5 1041.7 1139.5 1045.8 1139.3 1049.9 1140.1M928.4 1153.7 932.5 1156.2 936.6 1158.4 940.8 1160.1 944.9 1161.7 949 1163 953.1 1164.4 957.2 1165.7 961.3 1166.9 965.4 1168 969.5 1168.9 973.6 1169.4 977.7 1169.5 981.8 1169.1 986 1168.2 990.1 1166.7 994.2 1164.6 998.3 1162.1 1002.4 1159.1 1006.5 1155.9 1010.6 1152.5 1014.7 1149.1 1018.8 1145.9 1022.9 1143 1027 1140.7 1031.2 1139 1035.3 1138 1039.4 1137.9 1043.5 1138.8M934.4 1157.7 938.5 1159.2 942.6 1160.6 946.7 1161.9 950.8 1163.2 954.9 1164.5 959 1165.6 963.1 1166.5 967.2 1167 971.3 1167.2 975.5 1166.8 979.6 1166 983.7 1164.6 987.8 1162.6 991.9 1160.2 996 1157.4 1000.1 1154.4 1004.2 1151.1 1008.3 1147.9 1012.4 1144.9 1016.5 1142.1 1020.7 1139.9 1024.8 1138.3 1028.9 1137.4 1033 1137.4M960.8 1166.8 965 1167 969.1 1166.6 973.2 1165.8 977.3 1164.4 981.4 1162.5 985.5 1160.2 989.6 1157.4 993.7 1154.4 997.8 1151.2 1001.9 1148.1 1006 1145.1 1010.2 1142.4 1014.3 1140.2 1018.4 1138.6 1022.5 1137.8M1099.1 1046.8 1092.8 1043.3M1103.3 1048.9 1096.9 1045.6M954.4 1184.8 948.1 1175.8 941.7 1167.2 935.3 1159.3M971.3 1209.3 964.9 1200.2 958.6 1190.8 952.2 1181.4 945.8 1172.4 939.4 1164.1 933 1157M988.2 1231.4 981.8 1223.6 975.4 1214.9 969.1 1205.5 962.7 1195.8 956.3 1186.1 949.9 1176.8 943.5 1168.3 937.1 1160.9 930.7 1154.9M998.7 1243.2 992.3 1236.3 985.9 1228.3 979.6 1219.4 973.2 1209.8 966.8 1199.9 960.4 1190 954 1180.5 947.6 1171.7 941.2 1164.1 934.8 1158 928.4 1153.7M1009.2 1252.9 1002.8 1247.2 996.4 1240.2 990.1 1232.1 983.7 1223 977.3 1213.3 970.9 1203.2 964.5 1193.1 958.1 1183.4 951.7 1174.6 945.3 1166.8 938.9 1160.6 932.5 1156.2M1019.7 1260.4 1013.3 1256 1006.9 1250.2 1000.6 1243.1 994.2 1234.9 987.8 1225.8 981.4 1215.9 975 1205.8 968.6 1195.6 962.2 1185.8 955.8 1176.9 949.4 1169.1 943 1162.8 936.6 1158.4M1030.2 1266 1023.8 1262.8 1017.4 1258.3 1011.1 1252.5 1004.7 1245.4 998.3 1237.1 991.9 1227.9 985.5 1218 979.1 1207.8 972.7 1197.6 966.3 1187.7 959.9 1178.7 953.5 1170.9 947.1 1164.6 940.8 1160.1 934.4 1157.7M1034.3 1267.8 1027.9 1264.6 1021.6 1260 1015.2 1254.2 1008.8 1247.1 1002.4 1238.8 996 1229.6 989.6 1219.7 983.2 1209.4 976.8 1199.2 970.4 1189.3 964 1180.3 957.6 1172.5 951.3 1166.1 944.9 1161.7 938.5 1159.2M1038.4 1269.2 1032.1 1266 1025.7 1261.5 1019.3 1255.7 1012.9 1248.6 1006.5 1240.3 1000.1 1231.1 993.7 1221.1 987.3 1210.9 980.9 1200.6 974.5 1190.8 968.1 1181.7 961.8 1173.9 955.4 1167.5 949 1163 942.6 1160.6M1048.9 1272.6 1042.6 1270.6 1036.2 1267.4 1029.8 1262.8 1023.4 1257 1017 1249.9 1010.6 1241.6 1004.2 1232.4 997.8 1222.5 991.4 1212.2 985 1201.9 978.6 1192.1 972.3 1183 965.9 1175.2 959.5 1168.9 953.1 1164.4 946.7 1161.9M1053.1 1273.9 1046.7 1271.9 1040.3 1268.7 1033.9 1264.1 1027.5 1258.3 1021.1 1251.2 1014.7 1242.9 1008.3 1233.7 1001.9 1223.8 995.5 1213.5 989.1 1203.2 982.8 1193.4 976.4 1184.3 970 1176.5 963.6 1170.2 957.2 1165.7 950.8 1163.2M1057.2 1275.1 1050.8 1273.1 1044.4 1269.8 1038 1265.3 1031.6 1259.5 1025.2 1252.4 1018.8 1244.1 1012.4 1234.9 1006 1225 999.6 1214.7 993.3 1204.5 986.9 1194.6 980.5 1185.6 974.1 1177.7 967.7 1171.4 961.3 1166.9 954.9 1164.5M1067.7 1277 1061.3 1275.9 1054.9 1273.9 1048.5 1270.7 1042.1 1266.2 1035.7 1260.4 1029.3 1253.3 1022.9 1245 1016.5 1235.8 1010.1 1226 1003.8 1215.7 997.4 1205.5 991 1195.7 984.6 1186.7 978.2 1178.8 971.8 1172.5 965.4 1168 959 1165.6M1097.3 1275.6 1090.9 1276.4 1084.6 1277.1 1078.2 1277.4 1071.8 1277.2 1065.4 1276.2 1059 1274.2 1052.6 1271 1046.2 1266.5 1039.8 1260.7 1033.4 1253.7 1027 1245.5 1020.6 1236.3 1014.3 1226.5 1007.9 1216.3 1001.5 1206.2 995.1 1196.4 988.7 1187.4 982.3 1179.6 975.9 1173.4 969.5 1168.9 963.1 1166.5M1127 1269.9 1120.6 1271.8 1114.2 1273.2 1107.8 1274.2 1101.4 1275 1095.1 1275.8 1088.7 1276.5 1082.3 1276.9 1075.9 1276.7 1069.5 1275.7 1063.1 1273.7 1056.7 1270.5 1050.3 1266.1 1043.9 1260.4 1037.5 1253.4 1031.1 1245.3 1024.8 1236.2 1018.4 1226.5 1012 1216.4 1005.6 1206.3 999.2 1196.6 992.8 1187.8 986.4 1180 980 1173.8 973.6 1169.4 967.2 1167 960.8 1166.8M1143.9 1262.1 1137.5 1265.8 1131.1 1268.4 1124.7 1270.3 1118.3 1271.6 1111.9 1272.6 1105.6 1273.5 1099.2 1274.3 1092.8 1275 1086.4 1275.4 1080 1275.2 1073.6 1274.2 1067.2 1272.2 1060.8 1269.1 1054.4 1264.8 1048 1259.1 1041.6 1252.3 1035.3 1244.3 1028.9 1235.3 1022.5 1225.7 1016.1 1215.8 1009.7 1205.9 1003.3 1196.3 996.9 1187.6 990.5 1180 984.1 1173.9 977.7 1169.5 971.3 1167.2 965 1167M1154.4 1254.8 1148 1259.5 1141.6 1263.1 1135.2 1265.7 1128.8 1267.6 1122.4 1268.9 1116.1 1269.9 1109.7 1270.8 1103.3 1271.6 1096.9 1272.3 1090.5 1272.7 1084.1 1272.5 1077.7 1271.5 1071.3 1269.6 1064.9 1266.6 1058.5 1262.4 1052.1 1256.9 1045.8 1250.1 1039.4 1242.3 1033 1233.5 1026.6 1224.1 1020.2 1214.4 1013.8 1204.7 1007.4 1195.3 1001 1186.8 994.6 1179.3 988.2 1173.4 981.8 1169.1 975.5 1166.8 969.1 1166.6M1254.4 1129.4 1248 1131.3M1171.3 1238.3 1164.9 1245.3 1158.5 1251.1 1152.1 1255.7 1145.7 1259.2 1139.3 1261.8 1132.9 1263.6 1126.6 1264.9 1120.2 1265.9 1113.8 1266.8 1107.4 1267.6 1101 1268.3 1094.6 1268.7 1088.2 1268.5 1081.8 1267.6 1075.4 1265.8 1069 1262.9 1062.6 1258.8 1056.3 1253.4 1049.9 1246.9 1043.5 1239.3 1037.1 1230.8 1030.7 1221.6 1024.3 1212.2 1017.9 1202.7 1011.5 1193.6 1005.1 1185.3 998.7 1178.1 992.3 1172.3 986 1168.2 979.6 1166 973.2 1165.8M1258.5 1128 1252.1 1129.8M1181.8 1225.8 1175.4 1233.7 1169 1240.5 1162.6 1246.1 1156.2 1250.6 1149.8 1254 1143.4 1256.5 1137.1 1258.3 1130.7 1259.6 1124.3 1260.6 1117.9 1261.5 1111.5 1262.3 1105.1 1263 1098.7 1263.4 1092.3 1263.3 1085.9 1262.4 1079.5 1260.7 1073.1 1257.9 1066.8 1253.9 1060.4 1248.8 1054 1242.5 1047.6 1235.2 1041.2 1227 1034.8 1218.2 1028.4 1209 1022 1199.9 1015.6 1191.2 1009.2 1183.2 1002.8 1176.2 996.5 1170.6 990.1 1166.7 983.7 1164.6 977.3 1164.4M1262.6 1126 1256.2 1127.8 1249.8 1131.5M1192.3 1211.6 1185.9 1220.3 1179.5 1227.9 1173.1 1234.5 1166.7 1239.9 1160.3 1244.2 1153.9 1247.6 1147.6 1250 1141.2 1251.8 1134.8 1253 1128.4 1254 1122 1254.9 1115.6 1255.7 1109.2 1256.4 1102.8 1256.8 1096.4 1256.8 1090 1256 1083.6 1254.4 1077.3 1251.7 1070.9 1247.9 1064.5 1243 1058.1 1237 1051.7 1230 1045.3 1222.2 1038.9 1213.8 1032.5 1205.1 1026.1 1196.4 1019.7 1188 1013.3 1180.3 1007 1173.7 1000.6 1168.4 994.2 1164.6 987.8 1162.6 981.4 1162.5M1266.7 1123.6 1260.3 1125.4 1253.9 1128.9M1209.2 1186.9 1202.8 1196.5 1196.4 1205.5 1190 1213.8 1183.6 1221.1 1177.2 1227.4 1170.8 1232.6 1164.4 1236.8 1158.1 1240 1151.7 1242.4 1145.3 1244.1 1138.9 1245.3 1132.5 1246.3 1126.1 1247.2 1119.7 1248 1113.3 1248.7 1106.9 1249.2 1100.5 1249.1 1094.1 1248.4 1087.8 1246.9 1081.4 1244.4 1075 1240.9 1068.6 1236.3 1062.2 1230.6 1055.8 1224 1049.4 1216.6 1043 1208.6 1036.6 1200.3 1030.2 1192.1 1023.8 1184.2 1017.5 1176.9 1011.1 1170.6 1004.7 1165.6 998.3 1162.1 991.9 1160.2 985.5 1160.2M1270.8 1120.8 1264.4 1122.5 1258 1125.9 1251.6 1130.8M1219.7 1171.6 1213.3 1181 1206.9 1190.1 1200.5 1198.7 1194.1 1206.5 1187.7 1213.5 1181.3 1219.5 1174.9 1224.4 1168.6 1228.4 1162.2 1231.5 1155.8 1233.8 1149.4 1235.4 1143 1236.7 1136.6 1237.6 1130.2 1238.5 1123.8 1239.3 1117.4 1240 1111 1240.5 1104.6 1240.5 1098.3 1239.9 1091.9 1238.5 1085.5 1236.2 1079.1 1232.9 1072.7 1228.6 1066.3 1223.3 1059.9 1217.1 1053.5 1210.2 1047.1 1202.7 1040.7 1195 1034.3 1187.2 1028 1179.8 1021.6 1173 1015.2 1167.1 1008.8 1162.4 1002.4 1159.1 996 1157.4 989.6 1157.4M1274.9 1117.7 1268.5 1119.3 1262.1 1122.5 1255.7 1127.2 1249.4 1133.2M1230.2 1156.9 1223.8 1165.7 1217.4 1174.5 1211 1183.1 1204.6 1191.2 1198.2 1198.6 1191.8 1205.2 1185.4 1210.9 1179.1 1215.6 1172.7 1219.4 1166.3 1222.3 1159.9 1224.5 1153.5 1226.1 1147.1 1227.3 1140.7 1228.3 1134.3 1229.1 1127.9 1230 1121.5 1230.7 1115.1 1231.2 1108.8 1231.3 1102.4 1230.8 1096 1229.5 1089.6 1227.4 1083.2 1224.4 1076.8 1220.4 1070.4 1215.5 1064 1209.7 1057.6 1203.3 1051.2 1196.3 1044.8 1189.1 1038.5 1181.9 1032.1 1175 1025.7 1168.7 1019.3 1163.3 1012.9 1158.9 1006.5 1155.9 1000.1 1154.4 993.7 1154.4M1279 1114.4 1272.6 1116 1266.2 1119.1 1259.9 1123.5 1253.5 1129.1 1247.1 1135.8 1240.7 1143.3 1234.3 1151.3 1227.9 1159.6 1221.5 1167.9 1215.1 1175.9 1208.7 1183.5 1202.3 1190.5 1195.9 1196.6 1189.6 1202 1183.2 1206.4 1176.8 1210 1170.4 1212.8 1164 1214.9 1157.6 1216.4 1151.2 1217.6 1144.8 1218.6 1138.4 1219.4 1132 1220.3 1125.6 1221 1119.3 1221.5 1112.9 1221.6 1106.5 1221.2 1100.1 1220.1 1093.7 1218.2 1087.3 1215.5 1080.9 1211.8 1074.5 1207.3 1068.1 1202 1061.7 1196.1 1055.3 1189.7 1049 1183 1042.6 1176.4 1036.2 1170.1 1029.8 1164.2 1023.4 1159.2 1017 1155.3 1010.6 1152.5 1004.2 1151.1 997.8 1151.2M1283.1 1111.2 1276.7 1112.7 1270.4 1115.6 1264 1119.7 1257.6 1125 1251.2 1131.3 1244.8 1138.2 1238.4 1145.7 1232 1153.5 1225.6 1161.2 1219.2 1168.7 1212.8 1175.8 1206.4 1182.3 1200.1 1188.1 1193.7 1193.1 1187.3 1197.2 1180.9 1200.6 1174.5 1203.2 1168.1 1205.3 1161.7 1206.8 1155.3 1207.9 1148.9 1208.9 1142.5 1209.7 1136.1 1210.6 1129.8 1211.3 1123.4 1211.9 1117 1212 1110.6 1211.7 1104.2 1210.8 1097.8 1209.1 1091.4 1206.6 1085 1203.3 1078.6 1199.2 1072.2 1194.3 1065.8 1188.9 1059.5 1183.1 1053.1 1177 1046.7 1170.9 1040.3 1165.1 1033.9 1159.8 1027.5 1155.2 1021.1 1151.6 1014.7 1149.1 1008.3 1147.9 1001.9 1148.1M1287.2 1108.1 1280.9 1109.6 1274.5 1112.3 1268.1 1116.2 1261.7 1121.1 1255.3 1127 1248.9 1133.5 1242.5 1140.4 1236.1 1147.6 1229.7 1154.8 1223.3 1161.8 1216.9 1168.4 1210.6 1174.5 1204.2 1179.9 1197.8 1184.5 1191.4 1188.5 1185 1191.6 1178.6 1194.1 1172.2 1196 1165.8 1197.5 1159.4 1198.6 1153 1199.6 1146.6 1200.4 1140.3 1201.3 1133.9 1202 1127.5 1202.6 1121.1 1202.8 1114.7 1202.6 1108.3 1201.8 1101.9 1200.3 1095.5 1198.1 1089.1 1195.1 1082.7 1191.4 1076.3 1187 1070 1182 1063.6 1176.7 1057.2 1171.2 1050.8 1165.7 1044.4 1160.4 1038 1155.5 1031.6 1151.4 1025.2 1148.1 1018.8 1145.9 1012.4 1144.9 1006 1145.1M1291.4 1105.3 1285 1106.8 1278.6 1109.3 1272.2 1113 1265.8 1117.6 1259.4 1123.1 1253 1129.1 1246.6 1135.6 1240.2 1142.3 1233.8 1149 1227.4 1155.5 1221.1 1161.7 1214.7 1167.3 1208.3 1172.4 1201.9 1176.8 1195.5 1180.4 1189.1 1183.4 1182.7 1185.8 1176.3 1187.6 1169.9 1189 1163.5 1190.2 1157.1 1191.1 1150.8 1191.9 1144.4 1192.8 1138 1193.5 1131.6 1194.1 1125.2 1194.4 1118.8 1194.3 1112.4 1193.6 1106 1192.3 1099.6 1190.3 1093.2 1187.6 1086.8 1184.3 1080.5 1180.3 1074.1 1175.8 1067.7 1171 1061.3 1165.9 1054.9 1160.9 1048.5 1156.1 1042.1 1151.7 1035.7 1148 1029.3 1145 1022.9 1143 1016.5 1142.1 1010.2 1142.4M1295.5 1103.1 1289.1 1104.4 1282.7 1106.9 1276.3 1110.4M1250.7 1131.5 1244.3 1137.8 1237.9 1144.1 1231.6 1150.2 1225.2 1155.9 1218.8 1161.2 1212.4 1166 1206 1170.1 1199.6 1173.5 1193.2 1176.4 1186.8 1178.6 1180.4 1180.4 1174 1181.8 1167.6 1182.9 1161.3 1183.8 1154.9 1184.6 1148.5 1185.5 1142.1 1186.2 1135.7 1186.8 1129.3 1187.2 1122.9 1187.1 1116.5 1186.5 1110.1 1185.4 1103.7 1183.6 1097.3 1181.2 1091 1178.2 1084.6 1174.5 1078.2 1170.5 1071.8 1166.1 1065.4 1161.5 1059 1156.9 1052.6 1152.5 1046.2 1148.5 1039.8 1145.1 1033.4 1142.4 1027 1140.7 1020.7 1139.9 1014.3 1140.2M1299.6 1101.4 1293.2 1102.8 1286.8 1105.1M1242.1 1140.2 1235.7 1146 1229.3 1151.4 1222.9 1156.4 1216.5 1160.9 1210.1 1164.8 1203.7 1168.1 1197.3 1170.8 1190.9 1173 1184.5 1174.7 1178.1 1176 1171.8 1177.1 1165.4 1178 1159 1178.8 1152.6 1179.7 1146.2 1180.5 1139.8 1181.1 1133.4 1181.4 1127 1181.4 1120.6 1181 1114.2 1180 1107.8 1178.4 1101.5 1176.2 1095.1 1173.4 1088.7 1170.1 1082.3 1166.3 1075.9 1162.2 1069.5 1158 1063.1 1153.8 1056.7 1149.8 1050.3 1146.1 1043.9 1143 1037.5 1140.5 1031.2 1139 1024.8 1138.3 1018.4 1138.6M1303.7 1100.5 1297.3 1101.9M1227 1153.2 1220.6 1157.5 1214.2 1161.2 1207.8 1164.4 1201.4 1167 1195 1169.1 1188.6 1170.7 1182.3 1172 1175.9 1173.1 1169.5 1174 1163.1 1174.9 1156.7 1175.7 1150.3 1176.5 1143.9 1177.1 1137.5 1177.5 1131.1 1177.5 1124.7 1177.1 1118.3 1176.2 1112 1174.8 1105.6 1172.7 1099.2 1170.1 1092.8 1167 1086.4 1163.5 1080 1159.7 1073.6 1155.8 1067.2 1151.8 1060.8 1148.1 1054.4 1144.6 1048 1141.7 1041.7 1139.5 1035.3 1138 1028.9 1137.4 1022.5 1137.8M1211.9 1162.6 1205.5 1165.1 1199.1 1167.2 1192.8 1168.8 1186.4 1170.1 1180 1171.2 1173.6 1172.1 1167.2 1172.9 1160.8 1173.8 1154.4 1174.5 1148 1175.2 1141.6 1175.6 1135.2 1175.7 1128.8 1175.3 1122.5 1174.4 1116.1 1173.1 1109.7 1171.1 1103.3 1168.7 1096.9 1165.7 1090.5 1162.3 1084.1 1158.7 1077.7 1154.9 1071.3 1151.1 1064.9 1147.5 1058.5 1144.2 1052.2 1141.5 1045.8 1139.3 1039.4 1137.9 1033 1137.4M1133 1175.5 1126.6 1174.7 1120.2 1173.4 1113.8 1171.5 1107.4 1169 1101 1166.1 1094.6 1162.8 1088.2 1159.2 1081.8 1155.5 1075.4 1151.8 1069 1148.2 1062.7 1145 1056.3 1142.2 1049.9 1140.1 1043.5 1138.8" fill="none" stroke="#3a2060" stroke-width="0.6" stroke-opacity="0.28"/>
<path d="M849.9 1081.1L852.9 1082.3L855.9 1084L858.9 1086.1L862 1088.7L865 1091.6L868 1094.9L871 1098.6L874 1102.4L877 1106.4L880 1110.6L883 1114.8L886.1 1119.1L889.1 1123.2L892.1 1127.3L895.1 1131.2L898.1 1134.9L901.1 1138.3L904.1 1141.5L907.2 1144.4L910.2 1147.1L913.2 1149.4L916.2 1151.5L919.2 1153.3L922.2 1154.9L925.2 1156.3L928.2 1157.5L931.3 1158.7L934.3 1159.7L937.3 1160.7L940.3 1161.7L943.3 1162.6L946.3 1163.6L949.3 1164.5L952.4 1165.3L955.4 1166L958.4 1166.5L961.4 1166.8L964.4 1167L967.4 1166.8L970.4 1166.4L973.4 1165.7L976.5 1164.7L979.5 1163.5L982.5 1161.9L985.5 1160.2L988.5 1158.2L991.5 1156L994.5 1153.8L997.6 1151.4L1000.6 1149.1L1003.6 1146.8L1006.6 1144.7L1009.6 1142.7L1012.6 1141L1015.6 1139.6L1018.6 1138.6L1021.7 1137.9L1024.7 1137.7L1027.7 1137.9L1030.7 1138.7L1035.4 1138.3L1040.1 1138.4L1044.8 1139L1049.4 1140L1054.1 1141.5L1058.8 1143.3L1063.5 1145.4L1068.2 1147.8L1072.9 1150.3L1077.6 1153L1082.3 1155.7L1086.9 1158.5L1091.6 1161.2L1096.3 1163.7L1101 1166.1L1105.7 1168.3L1110.4 1170.2L1115.1 1171.9L1119.7 1173.2L1124.4 1174.3L1129.1 1175.1L1133.8 1175.6L1138.5 1175.9L1143.2 1175.9L1147.9 1175.7L1152.6 1175.4L1157.2 1174.9L1161.9 1174.4L1166.6 1173.8L1171.3 1173.1L1176 1172.5L1180.7 1171.9L1185.4 1171.2L1190 1170.4L1194.7 1169.5L1199.4 1168.4L1204.1 1167.2L1208.8 1165.7L1213.5 1163.9L1218.2 1161.9L1222.9 1159.6L1227.5 1157L1232.2 1154.1L1236.9 1150.9L1241.6 1147.5L1246.3 1143.8L1251 1140L1255.7 1136.1L1260.3 1132.1L1265 1128.1L1269.7 1124.2L1274.4 1120.4L1279.1 1116.8L1283.8 1113.4L1288.5 1110.4L1293.2 1107.7L1297.8 1105.4L1302.5 1103.6L1307.2 1102.2L1311.9 1101.4" fill="none" stroke="#111" stroke-width="2.6" stroke-linejoin="round"/>
<path d="M849.9 1081.1L854.6 1081.6L859.3 1082.1L864 1082.6L868.6 1083.1L873.3 1083.6L878 1084.2L882.7 1084.8L887.4 1085.4L892.1 1086L896.8 1086.6L901.5 1087.3L906.1 1088.3L910.8 1089.4L915.5 1090.5L920.2 1091.6L924.9 1092.3L929.6 1092.7L934.3 1092.6L938.9 1092L943.6 1090.9L948.3 1089.5L953 1088.1L957.7 1086.8L962.4 1085.8L967.1 1085.1L971.8 1084.8L976.4 1084.6L981.1 1084.5L985.8 1084.4L990.5 1084.1L995.2 1083.4L999.9 1082L1004.6 1079.9L1009.2 1077.2L1013.9 1074.1L1018.6 1070.9L1023.3 1067.7L1028 1064.7L1032.7 1062L1037.4 1059.3L1042.1 1056.4L1046.7 1053.4L1051.4 1050.5L1056.1 1047.8L1060.8 1045.5L1065.5 1043.8L1070.2 1042.7L1074.9 1042.2L1079.5 1042L1084.2 1042L1088.9 1042.3L1093.6 1043.8L1098.3 1046.5L1103 1047.1" fill="none" stroke="#111" stroke-width="2.6" stroke-linejoin="round"/>
<path d="M1066,1073 C1080,1064 1098,1052 1112,1050 C1130,1052 1150,1072 1190,1099 C1165,1090 1140,1078 1122,1076 C1100,1074 1082,1076 1066,1073 Z" fill="#7a58a4" fill-opacity="0.85"/>
<path d="M1262,1118 L1272,1108 L1293,1099.5 L1312,1100.5" fill="none" stroke="#111" stroke-width="2.4" stroke-linejoin="round"/>
<path d="M1080.9 1264L1082.9 1269.3L1088.5 1269.5L1084.1 1273L1085.6 1278.5L1080.9 1275.4L1076.2 1278.5L1077.7 1273L1073.3 1269.5L1078.9 1269.3Z" fill="#ff1010"/>
<path d="M1171.3 1165.1L1173.3 1170.4L1178.9 1170.7L1174.5 1174.2L1176 1179.6L1171.3 1176.5L1166.6 1179.6L1168.1 1174.2L1163.7 1170.7L1169.3 1170.4Z" fill="#ff1010"/>
<path d="M1311.9 1093.4L1313.9 1098.7L1319.5 1098.9L1315.1 1102.4L1316.6 1107.8L1311.9 1104.7L1307.2 1107.8L1308.7 1102.4L1304.3 1098.9L1309.9 1098.7Z" fill="#ff1010"/>
<text x="1092.5" y="1298.8" font-family="'Liberation Serif', serif" font-size="26.6" font-weight="normal" font-style="normal" text-anchor="start" fill="#000" >Γ</text>
<rect x="1093" y="1274.8" width="16.59999999999991" height="1.8" fill="#000"/>
<text x="1182.5" y="1200.6" font-family="'Liberation Serif', serif" font-size="26.6" font-weight="normal" font-style="normal" text-anchor="start" fill="#000" >X</text>
<rect x="1184" y="1177.3" width="18.59999999999991" height="1.8" fill="#000"/>
<text x="1321.2" y="1127.8" font-family="'Liberation Serif', serif" font-size="28.2" font-weight="normal" font-style="normal" text-anchor="start" fill="#000" >M</text>
<rect x="1327" y="1103.8" width="17.200000000000045" height="1.8" fill="#000"/>
<text x="829" y="1058.9" font-family="'Liberation Serif', serif" font-size="35.5" font-weight="normal" font-style="normal" text-anchor="end" fill="#000" >0.9</text>
<text x="829" y="1166.1" font-family="'Liberation Serif', serif" font-size="35.5" font-weight="normal" font-style="normal" text-anchor="end" fill="#000" >0.7</text>
<text x="829" y="1273.4" font-family="'Liberation Serif', serif" font-size="35.5" font-weight="normal" font-style="normal" text-anchor="end" fill="#000" >0.5</text>
<text x="0" y="0" transform="translate(763,1170.3) rotate(-90)" font-family="'Liberation Serif', serif" font-size="35" text-anchor="middle">Frequency (<tspan font-style="italic">c/a</tspan>)</text>
<text x="843.6" y="1353.8" font-family="'Liberation Serif', serif" font-size="33.5" font-weight="normal" font-style="normal" text-anchor="middle" fill="#000" >-1</text>
<text x="932" y="1379.8" font-family="'Liberation Serif', serif" font-size="33.5" font-weight="normal" font-style="normal" text-anchor="middle" fill="#000" >0</text>
<text x="1031.5" y="1408.8" font-family="'Liberation Serif', serif" font-size="33.5" font-weight="normal" font-style="normal" text-anchor="middle" fill="#000" >1</text>
<text x="1182.4" y="1392" font-family="'Liberation Serif', serif" font-size="33.5" font-weight="normal" font-style="normal" text-anchor="middle" fill="#000" >0</text>
<text x="1320" y="1368.3" font-family="'Liberation Serif', serif" font-size="33.5" font-weight="normal" font-style="normal" text-anchor="middle" fill="#000" >-1</text>
<g transform="translate(846,1399) rotate(16.4) scale(1.000)" font-family="'Liberation Serif', serif"><text x="0" y="0" font-size="34" font-style="italic">k</text><text x="15.1" y="6" font-size="24" font-style="italic">y</text><text x="30.8" y="0" font-size="34">(</text><text x="42.1" y="0" font-size="34">√</text><text x="60.3" y="0" font-size="34">2</text><line x1="59.8" y1="-26.3" x2="78.5" y2="-26.3" stroke="#000" stroke-width="1.5"/><text x="77.8" y="0" font-size="34">π</text><text x="95" y="0" font-size="34">/</text><text x="104.5" y="0" font-size="34" font-style="italic">a</text><text x="121.5" y="0" font-size="34">)</text></g>
<g transform="translate(1102.5,1439.5) rotate(-8) scale(1.000)" font-family="'Liberation Serif', serif"><text x="0" y="0" font-size="34" font-style="italic">k</text><text x="15.1" y="6" font-size="24" font-style="italic">x</text><text x="30.8" y="0" font-size="34">(</text><text x="42.1" y="0" font-size="34">√</text><text x="60.3" y="0" font-size="34">2</text><line x1="59.8" y1="-26.3" x2="78.5" y2="-26.3" stroke="#000" stroke-width="1.5"/><text x="77.8" y="0" font-size="34">π</text><text x="95" y="0" font-size="34">/</text><text x="104.5" y="0" font-size="34" font-style="italic">a</text><text x="121.5" y="0" font-size="34">)</text></g>
<text x="1176.5" y="1035.5" font-family="'Liberation Serif', serif" font-size="34" font-weight="normal" font-style="normal" text-anchor="start" fill="#000" >two-fold</text>
<line x1="1196.5" y1="1099.6" x2="1217" y2="1076" stroke="#000" stroke-width="3"/>
<path d="M1229.7,1062 L1208.7,1070.9 L1224.2,1084.1 Z" fill="#000"/>
<path d="M38.4 246.8L600 33.1L600 98.6L38.4 316.3Z" fill="#b6b6b6" stroke="#5a5a5a" stroke-width="1.0" stroke-linejoin="round" />
<path d="M38.4 246.8L600 33.1L600 43.6L38.4 257.9Z" fill="#bfbfbf" stroke="none" stroke-width="0.8" stroke-linejoin="round" />
<path d="M38.4 257.9L600 43.6L600 81.6L38.4 298.2Z" fill="#b0b0b0" stroke="none" stroke-width="0.8" stroke-linejoin="round" />
<path d="M38.4 298.2L600 81.6L600 89.4L38.4 306.6Z" fill="#c0c0c0" stroke="none" stroke-width="0.8" stroke-linejoin="round" />
<path d="M38.4 306.6L600 89.4L600 98.6L38.4 316.3Z" fill="#7c7c7c" stroke="none" stroke-width="0.8" stroke-linejoin="round" />
<path d="M40.4 308.6L45.4 306.6L45.4 310.1L40.4 312.1Z" fill="#d6d6d6" stroke="none" stroke-width="0.8" stroke-linejoin="round" />
<path d="M58.4 301.6L63.4 299.7L63.4 303.1L58.4 305.1Z" fill="#d6d6d6" stroke="none" stroke-width="0.8" stroke-linejoin="round" />
<path d="M67.4 298.1L72.4 296.2L72.4 299.7L67.4 301.6Z" fill="#d6d6d6" stroke="none" stroke-width="0.8" stroke-linejoin="round" />
<path d="M85.4 291.2L90.4 289.2L90.4 292.7L85.4 294.6Z" fill="#d6d6d6" stroke="none" stroke-width="0.8" stroke-linejoin="round" />
<path d="M94.4 287.7L99.4 285.7L99.4 289.2L94.4 291.1Z" fill="#d6d6d6" stroke="none" stroke-width="0.8" stroke-linejoin="round" />
<path d="M112.4 280.7L117.4 278.8L117.4 282.2L112.4 284.2Z" fill="#d6d6d6" stroke="none" stroke-width="0.8" stroke-linejoin="round" />
<path d="M121.4 277.2L126.4 275.3L126.4 278.7L121.4 280.7Z" fill="#d6d6d6" stroke="none" stroke-width="0.8" stroke-linejoin="round" />
<path d="M139.4 270.3L144.4 268.3L144.4 271.8L139.4 273.7Z" fill="#d6d6d6" stroke="none" stroke-width="0.8" stroke-linejoin="round" />
<path d="M148.4 266.8L153.4 264.9L153.4 268.3L148.4 270.2Z" fill="#d6d6d6" stroke="none" stroke-width="0.8" stroke-linejoin="round" />
<path d="M166.4 259.8L171.4 257.9L171.4 261.3L166.4 263.3Z" fill="#d6d6d6" stroke="none" stroke-width="0.8" stroke-linejoin="round" />
<path d="M175.4 256.3L180.4 254.4L180.4 257.8L175.4 259.8Z" fill="#d6d6d6" stroke="none" stroke-width="0.8" stroke-linejoin="round" />
<path d="M193.4 249.4L198.4 247.4L198.4 250.9L193.4 252.8Z" fill="#d6d6d6" stroke="none" stroke-width="0.8" stroke-linejoin="round" />
<path d="M202.4 245.9L207.4 244L207.4 247.4L202.4 249.3Z" fill="#d6d6d6" stroke="none" stroke-width="0.8" stroke-linejoin="round" />
<path d="M220.4 238.9L225.4 237L225.4 240.4L220.4 242.3Z" fill="#d6d6d6" stroke="none" stroke-width="0.8" stroke-linejoin="round" />
<path d="M229.4 235.4L234.4 233.5L234.4 236.9L229.4 238.9Z" fill="#d6d6d6" stroke="none" stroke-width="0.8" stroke-linejoin="round" />
<path d="M247.4 228.5L252.4 226.5L252.4 229.9L247.4 231.9Z" fill="#d6d6d6" stroke="none" stroke-width="0.8" stroke-linejoin="round" />
<path d="M256.4 225L261.4 223.1L261.4 226.5L256.4 228.4Z" fill="#d6d6d6" stroke="none" stroke-width="0.8" stroke-linejoin="round" />
<path d="M274.4 218L279.4 216.1L279.4 219.5L274.4 221.4Z" fill="#d6d6d6" stroke="none" stroke-width="0.8" stroke-linejoin="round" />
<path d="M283.4 214.5L288.4 212.6L288.4 216L283.4 217.9Z" fill="#d6d6d6" stroke="none" stroke-width="0.8" stroke-linejoin="round" />
<path d="M301.4 207.6L306.4 205.6L306.4 209L301.4 211Z" fill="#d6d6d6" stroke="none" stroke-width="0.8" stroke-linejoin="round" />
<path d="M310.4 204.1L315.4 202.2L315.4 205.5L310.4 207.5Z" fill="#d6d6d6" stroke="none" stroke-width="0.8" stroke-linejoin="round" />
<path d="M328.4 197.1L333.4 195.2L333.4 198.6L328.4 200.5Z" fill="#d6d6d6" stroke="none" stroke-width="0.8" stroke-linejoin="round" />
<path d="M337.4 193.7L342.4 191.7L342.4 195.1L337.4 197Z" fill="#d6d6d6" stroke="none" stroke-width="0.8" stroke-linejoin="round" />
<path d="M355.4 186.7L360.4 184.8L360.4 188.1L355.4 190.1Z" fill="#d6d6d6" stroke="none" stroke-width="0.8" stroke-linejoin="round" />
<path d="M364.4 183.2L369.4 181.3L369.4 184.6L364.4 186.6Z" fill="#d6d6d6" stroke="none" stroke-width="0.8" stroke-linejoin="round" />
<path d="M382.4 176.2L387.4 174.3L387.4 177.7L382.4 179.6Z" fill="#d6d6d6" stroke="none" stroke-width="0.8" stroke-linejoin="round" />
<path d="M391.4 172.8L396.4 170.8L396.4 174.2L391.4 176.1Z" fill="#d6d6d6" stroke="none" stroke-width="0.8" stroke-linejoin="round" />
<path d="M409.4 165.8L414.4 163.9L414.4 167.2L409.4 169.1Z" fill="#d6d6d6" stroke="none" stroke-width="0.8" stroke-linejoin="round" />
<path d="M418.4 162.3L423.4 160.4L423.4 163.7L418.4 165.7Z" fill="#d6d6d6" stroke="none" stroke-width="0.8" stroke-linejoin="round" />
<path d="M436.4 155.3L441.4 153.4L441.4 156.7L436.4 158.7Z" fill="#d6d6d6" stroke="none" stroke-width="0.8" stroke-linejoin="round" />
<path d="M445.4 151.9L450.4 149.9L450.4 153.3L445.4 155.2Z" fill="#d6d6d6" stroke="none" stroke-width="0.8" stroke-linejoin="round" />
<path d="M463.4 144.9L468.4 143L468.4 146.3L463.4 148.2Z" fill="#d6d6d6" stroke="none" stroke-width="0.8" stroke-linejoin="round" />
<path d="M472.4 141.4L477.4 139.5L477.4 142.8L472.4 144.7Z" fill="#d6d6d6" stroke="none" stroke-width="0.8" stroke-linejoin="round" />
<path d="M490.4 134.5L495.4 132.5L495.4 135.8L490.4 137.8Z" fill="#d6d6d6" stroke="none" stroke-width="0.8" stroke-linejoin="round" />
<path d="M499.4 131L504.4 129L504.4 132.3L499.4 134.3Z" fill="#d6d6d6" stroke="none" stroke-width="0.8" stroke-linejoin="round" />
<path d="M517.4 124L522.4 122.1L522.4 125.4L517.4 127.3Z" fill="#d6d6d6" stroke="none" stroke-width="0.8" stroke-linejoin="round" />
<path d="M526.4 120.5L531.4 118.6L531.4 121.9L526.4 123.8Z" fill="#d6d6d6" stroke="none" stroke-width="0.8" stroke-linejoin="round" />
<path d="M544.4 113.6L549.4 111.6L549.4 114.9L544.4 116.9Z" fill="#d6d6d6" stroke="none" stroke-width="0.8" stroke-linejoin="round" />
<path d="M553.4 110.1L558.4 108.1L558.4 111.4L553.4 113.4Z" fill="#d6d6d6" stroke="none" stroke-width="0.8" stroke-linejoin="round" />
<path d="M571.4 103.1L576.4 101.2L576.4 104.5L571.4 106.4Z" fill="#d6d6d6" stroke="none" stroke-width="0.8" stroke-linejoin="round" />
<path d="M580.4 99.6L585.4 97.7L585.4 101L580.4 102.9Z" fill="#d6d6d6" stroke="none" stroke-width="0.8" stroke-linejoin="round" />
<line x1="38.4" y1="246.8" x2="600.0" y2="33.1" stroke="#6a6a6a" stroke-width="1.2"/>
<line x1="38.4" y1="298.2" x2="600.0" y2="81.6" stroke="#7a7a7a" stroke-width="0.9"/>
<clipPath id="beamA"><path d="M38.4 246.8L600 33.1L600 98.6L38.4 316.3Z"/></clipPath><g clip-path="url(#beamA)">
<path d="M46 255.7L88.6 238.4L96.9 248.7L96.9 257.7L58.2 270.5Z" fill="#d8d8d8" stroke="#4c4c4c" stroke-width="0.9" stroke-linejoin="round" />
<path d="M59.7 250.5L74.9 244.7L74.9 258.2L59.7 263.7Z" fill="#7e7e7e" stroke="#4c4c4c" stroke-width="0.8" stroke-linejoin="round" />
<path d="M76.4 244.1L87.8 239.1L95.4 248.6L80.2 255.8Z" fill="#f0f0f0" stroke="#4c4c4c" stroke-width="0.7" stroke-linejoin="round" />
<path d="M58.2 270.5L89.3 260.6L90.1 276.9L60.4 289Z" fill="#a0a0a0" stroke="#4c4c4c" stroke-width="0.9" stroke-linejoin="round" />
<path d="M64.2 275.8L85.5 268.3L86.3 277L65 285.9Z" fill="#e8e8e8" stroke="#4c4c4c" stroke-width="0.7" stroke-linejoin="round" />
<path d="M89.3 260.6L96.9 257.7L97.7 274L90.1 276.9Z" fill="#909090" stroke="#4c4c4c" stroke-width="0.8" stroke-linejoin="round" />
<path d="M98.4 258.5L102.2 257L106.8 267.7L100 271.7Z" fill="#e4e4e4" stroke="#4c4c4c" stroke-width="0.7" stroke-linejoin="round" />
<path d="M96.9 249.4L122 239.8L122 250.8L96.9 259.1Z" fill="#c9c9c9" stroke="#4c4c4c" stroke-width="0.7" stroke-linejoin="round" />
<path d="M99.2 249.2L109.8 245.1L109.8 254.1L99.2 257.5Z" fill="#959595" stroke="#4c4c4c" stroke-width="0.6" stroke-linejoin="round" />
<path d="M111.4 244.6L119.7 241.4L119.7 250.3L111.4 253.5Z" fill="#e6e6e6" stroke="#4c4c4c" stroke-width="0.6" stroke-linejoin="round" />
<path d="M119 227.8L159.9 211.2L167.9 221.5L167.9 230.4L130.7 242.7Z" fill="#d8d8d8" stroke="#4c4c4c" stroke-width="0.9" stroke-linejoin="round" />
<path d="M132.1 222.8L146.7 217.3L146.7 230.7L132.1 235.9Z" fill="#7e7e7e" stroke="#4c4c4c" stroke-width="0.8" stroke-linejoin="round" />
<path d="M148.2 216.7L159.2 211.8L166.4 221.4L151.8 228.4Z" fill="#f0f0f0" stroke="#4c4c4c" stroke-width="0.7" stroke-linejoin="round" />
<path d="M130.7 242.7L160.6 233.2L161.3 249.4L132.9 261.1Z" fill="#a0a0a0" stroke="#4c4c4c" stroke-width="0.9" stroke-linejoin="round" />
<path d="M136.5 248L157 240.8L157.7 249.5L137.2 258Z" fill="#e8e8e8" stroke="#4c4c4c" stroke-width="0.7" stroke-linejoin="round" />
<path d="M160.6 233.2L167.9 230.4L168.6 246.6L161.3 249.4Z" fill="#909090" stroke="#4c4c4c" stroke-width="0.8" stroke-linejoin="round" />
<path d="M169.4 231.2L173 229.8L177.4 240.5L170.8 244.4Z" fill="#e4e4e4" stroke="#4c4c4c" stroke-width="0.7" stroke-linejoin="round" />
<path d="M167.9 222.2L192 213L192 223.9L167.9 231.8Z" fill="#c9c9c9" stroke="#4c4c4c" stroke-width="0.7" stroke-linejoin="round" />
<path d="M170.1 222.1L180.3 218.1L180.3 227L170.1 230.3Z" fill="#959595" stroke="#4c4c4c" stroke-width="0.6" stroke-linejoin="round" />
<path d="M181.8 217.6L189.8 214.5L189.8 223.4L181.8 226.5Z" fill="#e6e6e6" stroke="#4c4c4c" stroke-width="0.6" stroke-linejoin="round" />
<path d="M191 200.4L230.8 184.2L238.6 194.5L238.6 203.3L202.4 215.2Z" fill="#d8d8d8" stroke="#4c4c4c" stroke-width="0.9" stroke-linejoin="round" />
<path d="M203.8 195.5L218 190.1L218 203.4L203.8 208.5Z" fill="#7e7e7e" stroke="#4c4c4c" stroke-width="0.8" stroke-linejoin="round" />
<path d="M219.4 189.5L230.1 184.8L237.2 194.3L222.9 201.1Z" fill="#f0f0f0" stroke="#4c4c4c" stroke-width="0.7" stroke-linejoin="round" />
<path d="M202.4 215.2L231.5 206L232.2 222.1L204.5 233.5Z" fill="#a0a0a0" stroke="#4c4c4c" stroke-width="0.9" stroke-linejoin="round" />
<path d="M208 220.5L227.9 213.5L228.6 222.1L208.8 230.5Z" fill="#e8e8e8" stroke="#4c4c4c" stroke-width="0.7" stroke-linejoin="round" />
<path d="M231.5 206L238.6 203.3L239.3 219.4L232.2 222.1Z" fill="#909090" stroke="#4c4c4c" stroke-width="0.8" stroke-linejoin="round" />
<path d="M240 204.1L243.5 202.8L247.8 213.4L241.4 217.2Z" fill="#e4e4e4" stroke="#4c4c4c" stroke-width="0.7" stroke-linejoin="round" />
<path d="M238.6 195.1L262 186.2L262 197L238.6 204.7Z" fill="#c9c9c9" stroke="#4c4c4c" stroke-width="0.7" stroke-linejoin="round" />
<path d="M240.7 195L250.6 191.2L250.6 200L240.7 203.2Z" fill="#959595" stroke="#4c4c4c" stroke-width="0.6" stroke-linejoin="round" />
<path d="M252.1 190.7L259.9 187.7L259.9 196.5L252.1 199.5Z" fill="#e6e6e6" stroke="#4c4c4c" stroke-width="0.6" stroke-linejoin="round" />
<path d="M261 173.6L299.6 157.9L307.2 168.2L307.2 176.9L272 188.4Z" fill="#d8d8d8" stroke="#4c4c4c" stroke-width="0.9" stroke-linejoin="round" />
<path d="M273.4 168.9L287.2 163.6L287.2 176.8L273.4 181.8Z" fill="#7e7e7e" stroke="#4c4c4c" stroke-width="0.8" stroke-linejoin="round" />
<path d="M288.6 163.1L298.9 158.5L305.9 168L292.1 174.7Z" fill="#f0f0f0" stroke="#4c4c4c" stroke-width="0.7" stroke-linejoin="round" />
<path d="M272 188.4L300.3 179.6L301 195.6L274.1 206.6Z" fill="#a0a0a0" stroke="#4c4c4c" stroke-width="0.9" stroke-linejoin="round" />
<path d="M277.6 193.8L296.9 187L297.6 195.5L278.2 203.7Z" fill="#e8e8e8" stroke="#4c4c4c" stroke-width="0.7" stroke-linejoin="round" />
<path d="M300.3 179.6L307.2 176.9L307.9 192.9L301 195.6Z" fill="#909090" stroke="#4c4c4c" stroke-width="0.8" stroke-linejoin="round" />
<path d="M308.6 177.8L312.1 176.4L316.2 187L310 190.7Z" fill="#e4e4e4" stroke="#4c4c4c" stroke-width="0.7" stroke-linejoin="round" />
<path d="M307.2 168.8L330 160.1L330 170.9L307.2 178.3Z" fill="#c9c9c9" stroke="#4c4c4c" stroke-width="0.7" stroke-linejoin="round" />
<path d="M309.3 168.7L319 165L319 173.8L309.3 176.8Z" fill="#959595" stroke="#4c4c4c" stroke-width="0.6" stroke-linejoin="round" />
<path d="M320.3 164.5L327.9 161.6L327.9 170.3L320.3 173.3Z" fill="#e6e6e6" stroke="#4c4c4c" stroke-width="0.6" stroke-linejoin="round" />
<path d="M377 129.4L413.4 114.5L420.6 124.8L420.6 133.4L387.4 144.2Z" fill="#d8d8d8" stroke="#4c4c4c" stroke-width="0.9" stroke-linejoin="round" />
<path d="M388.7 124.9L401.7 119.9L401.7 133L388.7 137.6Z" fill="#7e7e7e" stroke="#4c4c4c" stroke-width="0.8" stroke-linejoin="round" />
<path d="M403 119.4L412.8 115.1L419.2 124.6L406.2 130.9Z" fill="#f0f0f0" stroke="#4c4c4c" stroke-width="0.7" stroke-linejoin="round" />
<path d="M387.4 144.2L414.1 135.9L414.7 151.7L389.4 162.2Z" fill="#a0a0a0" stroke="#4c4c4c" stroke-width="0.9" stroke-linejoin="round" />
<path d="M392.6 149.5L410.8 143.2L411.4 151.6L393.2 159.3Z" fill="#e8e8e8" stroke="#4c4c4c" stroke-width="0.7" stroke-linejoin="round" />
<path d="M414.1 135.9L420.6 133.4L421.2 149.2L414.7 151.7Z" fill="#909090" stroke="#4c4c4c" stroke-width="0.8" stroke-linejoin="round" />
<path d="M421.9 134.3L425.1 133L429 143.5L423.1 147.1Z" fill="#e4e4e4" stroke="#4c4c4c" stroke-width="0.7" stroke-linejoin="round" />
<path d="M420.6 125.4L442 117.2L442 127.9L420.6 134.8Z" fill="#c9c9c9" stroke="#4c4c4c" stroke-width="0.7" stroke-linejoin="round" />
<path d="M422.5 125.3L431.6 121.9L431.6 130.5L422.5 133.4Z" fill="#959595" stroke="#4c4c4c" stroke-width="0.6" stroke-linejoin="round" />
<path d="M432.9 121.4L440.1 118.6L440.1 127.3L432.9 130Z" fill="#e6e6e6" stroke="#4c4c4c" stroke-width="0.6" stroke-linejoin="round" />
<path d="M441 104.9L477.4 90L484.6 100.2L484.6 108.9L451.4 119.6Z" fill="#d8d8d8" stroke="#4c4c4c" stroke-width="0.9" stroke-linejoin="round" />
<path d="M452.7 100.5L465.7 95.5L465.7 108.5L452.7 113.1Z" fill="#7e7e7e" stroke="#4c4c4c" stroke-width="0.8" stroke-linejoin="round" />
<path d="M467 95L476.8 90.6L483.2 100.1L470.2 106.4Z" fill="#f0f0f0" stroke="#4c4c4c" stroke-width="0.7" stroke-linejoin="round" />
<path d="M451.4 119.6L478.1 111.4L478.7 127L453.4 137.5Z" fill="#a0a0a0" stroke="#4c4c4c" stroke-width="0.9" stroke-linejoin="round" />
<path d="M456.6 124.9L474.8 118.6L475.4 127L457.2 134.6Z" fill="#e8e8e8" stroke="#4c4c4c" stroke-width="0.7" stroke-linejoin="round" />
<path d="M478.1 111.4L484.6 108.9L485.2 124.5L478.7 127Z" fill="#909090" stroke="#4c4c4c" stroke-width="0.8" stroke-linejoin="round" />
<path d="M485.9 109.7L489.1 108.4L493 118.9L487.1 122.5Z" fill="#e4e4e4" stroke="#4c4c4c" stroke-width="0.7" stroke-linejoin="round" />
<path d="M484.6 100.9L506 92.7L506 103.3L484.6 110.2Z" fill="#c9c9c9" stroke="#4c4c4c" stroke-width="0.7" stroke-linejoin="round" />
<path d="M486.5 100.8L495.6 97.3L495.6 105.9L486.5 108.8Z" fill="#959595" stroke="#4c4c4c" stroke-width="0.6" stroke-linejoin="round" />
<path d="M496.9 96.8L504.1 94.1L504.1 102.7L496.9 105.4Z" fill="#e6e6e6" stroke="#4c4c4c" stroke-width="0.6" stroke-linejoin="round" />
<path d="M507 79.7L542.3 65.3L549.2 75.5L549.2 84L517.1 94.4Z" fill="#d8d8d8" stroke="#4c4c4c" stroke-width="0.9" stroke-linejoin="round" />
<path d="M518.3 75.4L530.9 70.6L530.9 83.5L518.3 88Z" fill="#7e7e7e" stroke="#4c4c4c" stroke-width="0.8" stroke-linejoin="round" />
<path d="M532.2 70.1L541.6 65.9L548 75.3L535.4 81.4Z" fill="#f0f0f0" stroke="#4c4c4c" stroke-width="0.7" stroke-linejoin="round" />
<path d="M517.1 94.4L542.9 86.5L543.5 102L519 112.2Z" fill="#a0a0a0" stroke="#4c4c4c" stroke-width="0.9" stroke-linejoin="round" />
<path d="M522.1 99.7L539.8 93.6L540.4 101.9L522.8 109.4Z" fill="#e8e8e8" stroke="#4c4c4c" stroke-width="0.7" stroke-linejoin="round" />
<path d="M542.9 86.5L549.2 84L549.8 99.6L543.5 102Z" fill="#909090" stroke="#4c4c4c" stroke-width="0.8" stroke-linejoin="round" />
<path d="M550.5 84.9L553.6 83.7L557.4 94.1L551.7 97.6Z" fill="#e4e4e4" stroke="#4c4c4c" stroke-width="0.7" stroke-linejoin="round" />
<path d="M549.2 76.1L570 68.2L570 78.7L549.2 85.4Z" fill="#c9c9c9" stroke="#4c4c4c" stroke-width="0.7" stroke-linejoin="round" />
<path d="M551.1 76.1L559.9 72.7L559.9 81.2L551.1 84Z" fill="#959595" stroke="#4c4c4c" stroke-width="0.6" stroke-linejoin="round" />
<path d="M561.2 72.2L568.1 69.6L568.1 78.1L561.2 80.8Z" fill="#e6e6e6" stroke="#4c4c4c" stroke-width="0.6" stroke-linejoin="round" />
<path d="M569.5 55.9L604.2 41.6L611 51.8L611 60.3L579.4 70.5Z" fill="#d8d8d8" stroke="#4c4c4c" stroke-width="0.9" stroke-linejoin="round" />
<path d="M580.7 51.6L593.1 46.9L593.1 59.7L580.7 64.1Z" fill="#7e7e7e" stroke="#4c4c4c" stroke-width="0.8" stroke-linejoin="round" />
<path d="M594.3 46.4L603.6 42.2L609.8 51.6L597.4 57.7Z" fill="#f0f0f0" stroke="#4c4c4c" stroke-width="0.7" stroke-linejoin="round" />
<path d="M579.4 70.5L604.8 62.7L605.5 78.2L581.3 88.1Z" fill="#a0a0a0" stroke="#4c4c4c" stroke-width="0.9" stroke-linejoin="round" />
<path d="M584.4 75.8L601.7 69.8L602.4 78L585 85.4Z" fill="#e8e8e8" stroke="#4c4c4c" stroke-width="0.7" stroke-linejoin="round" />
<path d="M604.8 62.7L611 60.3L611.7 75.8L605.5 78.2Z" fill="#909090" stroke="#4c4c4c" stroke-width="0.8" stroke-linejoin="round" />
<path d="M612.3 61.1L615.4 59.9L619.1 70.3L613.5 73.7Z" fill="#e4e4e4" stroke="#4c4c4c" stroke-width="0.7" stroke-linejoin="round" />
<path d="M611 52.5L631.5 44.6L631.5 55.1L611 61.6Z" fill="#c9c9c9" stroke="#4c4c4c" stroke-width="0.7" stroke-linejoin="round" />
<path d="M612.9 52.4L621.6 49.1L621.6 57.6L612.9 60.2Z" fill="#959595" stroke="#4c4c4c" stroke-width="0.6" stroke-linejoin="round" />
<path d="M622.8 48.6L629.6 46L629.6 54.5L622.8 57.1Z" fill="#e6e6e6" stroke="#4c4c4c" stroke-width="0.6" stroke-linejoin="round" />
</g>
<path d="M598 82L616.8 74.8L620.4 83.5L600 91.4Z" fill="#c9c9c9" stroke="#6a6a6a" stroke-width="0.9" stroke-linejoin="round" />
<path d="M38.4 260.7L60 252.5L60 295.4L38.4 303.8Z" fill="#cfcfcf" stroke="#4c4c4c" stroke-width="1" stroke-linejoin="round" />
<path d="M42 267.7L55 262.7L55 287.7L42 292.7Z" fill="#b2b2b2" stroke="#4c4c4c" stroke-width="0.8" stroke-linejoin="round" />
<path d="M22,259 L40,250 L42,268 L26,276 Z" fill="#bdbdbd" stroke="#6a6a6a" stroke-width="0.8"/>
<path d="M40,304 L58,297 L60,310 L47,318 Z" fill="#c4c4c4" stroke="#6a6a6a" stroke-width="0.8"/>
<path d="M330 159.4L344 154.1L344 177.6L330 183Z" fill="#c8c8c8" stroke="#4c4c4c" stroke-width="0.8" stroke-linejoin="round" />
<path d="M326 140.7L334 137.7L345 194.1L337 197.2Z" fill="#d6d6d6" stroke="#4c4c4c" stroke-width="0.8" stroke-linejoin="round" />
<path d="M346 133.1L352 130.8L361 184.5L355 186.8Z" fill="#d6d6d6" stroke="#4c4c4c" stroke-width="0.8" stroke-linejoin="round" />
<path d="M352 151L377 141.4L377 152.8L352 162.4Z" fill="#c9c9c9" stroke="#4c4c4c" stroke-width="0.7" stroke-linejoin="round" />
<path d="M744.7 244.3L1306 29.4L1306 95.3L744.7 313.5Z" fill="#b6b6b6" stroke="#5a5a5a" stroke-width="1.0" stroke-linejoin="round" />
<path d="M744.7 244.3L1306 29.4L1306 39.9L744.7 255.4Z" fill="#bfbfbf" stroke="none" stroke-width="0.8" stroke-linejoin="round" />
<path d="M744.7 255.4L1306 39.9L1306 78.1L744.7 295.5Z" fill="#b0b0b0" stroke="none" stroke-width="0.8" stroke-linejoin="round" />
<path d="M744.7 295.5L1306 78.1L1306 86L744.7 303.8Z" fill="#c0c0c0" stroke="none" stroke-width="0.8" stroke-linejoin="round" />
<path d="M744.7 303.8L1306 86L1306 95.3L744.7 313.5Z" fill="#7c7c7c" stroke="none" stroke-width="0.8" stroke-linejoin="round" />
<path d="M746.7 305.8L751.7 303.9L751.7 307.3L746.7 309.3Z" fill="#d6d6d6" stroke="none" stroke-width="0.8" stroke-linejoin="round" />
<path d="M764.7 298.8L769.7 296.9L769.7 300.3L764.7 302.3Z" fill="#d6d6d6" stroke="none" stroke-width="0.8" stroke-linejoin="round" />
<path d="M773.7 295.3L778.7 293.4L778.7 296.8L773.7 298.8Z" fill="#d6d6d6" stroke="none" stroke-width="0.8" stroke-linejoin="round" />
<path d="M791.7 288.3L796.7 286.4L796.7 289.8L791.7 291.8Z" fill="#d6d6d6" stroke="none" stroke-width="0.8" stroke-linejoin="round" />
<path d="M800.7 284.8L805.7 282.9L805.7 286.3L800.7 288.3Z" fill="#d6d6d6" stroke="none" stroke-width="0.8" stroke-linejoin="round" />
<path d="M818.7 277.9L823.7 275.9L823.7 279.3L818.7 281.3Z" fill="#d6d6d6" stroke="none" stroke-width="0.8" stroke-linejoin="round" />
<path d="M827.7 274.4L832.7 272.4L832.7 275.8L827.7 277.8Z" fill="#d6d6d6" stroke="none" stroke-width="0.8" stroke-linejoin="round" />
<path d="M845.7 267.4L850.7 265.4L850.7 268.9L845.7 270.8Z" fill="#d6d6d6" stroke="none" stroke-width="0.8" stroke-linejoin="round" />
<path d="M854.7 263.9L859.7 261.9L859.7 265.4L854.7 267.3Z" fill="#d6d6d6" stroke="none" stroke-width="0.8" stroke-linejoin="round" />
<path d="M872.7 256.9L877.7 254.9L877.7 258.4L872.7 260.3Z" fill="#d6d6d6" stroke="none" stroke-width="0.8" stroke-linejoin="round" />
<path d="M881.7 253.4L886.7 251.5L886.7 254.9L881.7 256.8Z" fill="#d6d6d6" stroke="none" stroke-width="0.8" stroke-linejoin="round" />
<path d="M899.7 246.4L904.7 244.5L904.7 247.9L899.7 249.8Z" fill="#d6d6d6" stroke="none" stroke-width="0.8" stroke-linejoin="round" />
<path d="M908.7 242.9L913.7 241L913.7 244.4L908.7 246.3Z" fill="#d6d6d6" stroke="none" stroke-width="0.8" stroke-linejoin="round" />
<path d="M926.7 235.9L931.7 234L931.7 237.4L926.7 239.3Z" fill="#d6d6d6" stroke="none" stroke-width="0.8" stroke-linejoin="round" />
<path d="M935.7 232.4L940.7 230.5L940.7 233.9L935.7 235.8Z" fill="#d6d6d6" stroke="none" stroke-width="0.8" stroke-linejoin="round" />
<path d="M953.7 225.4L958.7 223.5L958.7 226.9L953.7 228.8Z" fill="#d6d6d6" stroke="none" stroke-width="0.8" stroke-linejoin="round" />
<path d="M962.7 221.9L967.7 220L967.7 223.4L962.7 225.3Z" fill="#d6d6d6" stroke="none" stroke-width="0.8" stroke-linejoin="round" />
<path d="M980.7 215L985.7 213L985.7 216.4L980.7 218.3Z" fill="#d6d6d6" stroke="none" stroke-width="0.8" stroke-linejoin="round" />
<path d="M989.7 211.5L994.7 209.5L994.7 212.9L989.7 214.9Z" fill="#d6d6d6" stroke="none" stroke-width="0.8" stroke-linejoin="round" />
<path d="M1007.7 204.5L1012.7 202.5L1012.7 205.9L1007.7 207.9Z" fill="#d6d6d6" stroke="none" stroke-width="0.8" stroke-linejoin="round" />
<path d="M1016.7 201L1021.7 199L1021.7 202.4L1016.7 204.4Z" fill="#d6d6d6" stroke="none" stroke-width="0.8" stroke-linejoin="round" />
<path d="M1034.7 194L1039.7 192.1L1039.7 195.4L1034.7 197.4Z" fill="#d6d6d6" stroke="none" stroke-width="0.8" stroke-linejoin="round" />
<path d="M1043.7 190.5L1048.7 188.6L1048.7 191.9L1043.7 193.9Z" fill="#d6d6d6" stroke="none" stroke-width="0.8" stroke-linejoin="round" />
<path d="M1061.7 183.5L1066.7 181.6L1066.7 184.9L1061.7 186.9Z" fill="#d6d6d6" stroke="none" stroke-width="0.8" stroke-linejoin="round" />
<path d="M1070.7 180L1075.7 178.1L1075.7 181.4L1070.7 183.4Z" fill="#d6d6d6" stroke="none" stroke-width="0.8" stroke-linejoin="round" />
<path d="M1088.7 173L1093.7 171.1L1093.7 174.4L1088.7 176.4Z" fill="#d6d6d6" stroke="none" stroke-width="0.8" stroke-linejoin="round" />
<path d="M1097.7 169.5L1102.7 167.6L1102.7 170.9L1097.7 172.9Z" fill="#d6d6d6" stroke="none" stroke-width="0.8" stroke-linejoin="round" />
<path d="M1115.7 162.5L1120.7 160.6L1120.7 164L1115.7 165.9Z" fill="#d6d6d6" stroke="none" stroke-width="0.8" stroke-linejoin="round" />
<path d="M1124.7 159.1L1129.7 157.1L1129.7 160.5L1124.7 162.4Z" fill="#d6d6d6" stroke="none" stroke-width="0.8" stroke-linejoin="round" />
<path d="M1142.7 152.1L1147.7 150.1L1147.7 153.5L1142.7 155.4Z" fill="#d6d6d6" stroke="none" stroke-width="0.8" stroke-linejoin="round" />
<path d="M1151.7 148.6L1156.7 146.6L1156.7 150L1151.7 151.9Z" fill="#d6d6d6" stroke="none" stroke-width="0.8" stroke-linejoin="round" />
<path d="M1169.7 141.6L1174.7 139.6L1174.7 143L1169.7 144.9Z" fill="#d6d6d6" stroke="none" stroke-width="0.8" stroke-linejoin="round" />
<path d="M1178.7 138.1L1183.7 136.1L1183.7 139.5L1178.7 141.4Z" fill="#d6d6d6" stroke="none" stroke-width="0.8" stroke-linejoin="round" />
<path d="M1196.7 131.1L1201.7 129.2L1201.7 132.5L1196.7 134.4Z" fill="#d6d6d6" stroke="none" stroke-width="0.8" stroke-linejoin="round" />
<path d="M1205.7 127.6L1210.7 125.7L1210.7 129L1205.7 130.9Z" fill="#d6d6d6" stroke="none" stroke-width="0.8" stroke-linejoin="round" />
<path d="M1223.7 120.6L1228.7 118.7L1228.7 122L1223.7 123.9Z" fill="#d6d6d6" stroke="none" stroke-width="0.8" stroke-linejoin="round" />
<path d="M1232.7 117.1L1237.7 115.2L1237.7 118.5L1232.7 120.4Z" fill="#d6d6d6" stroke="none" stroke-width="0.8" stroke-linejoin="round" />
<path d="M1250.7 110.1L1255.7 108.2L1255.7 111.5L1250.7 113.4Z" fill="#d6d6d6" stroke="none" stroke-width="0.8" stroke-linejoin="round" />
<path d="M1259.7 106.6L1264.7 104.7L1264.7 108L1259.7 110Z" fill="#d6d6d6" stroke="none" stroke-width="0.8" stroke-linejoin="round" />
<path d="M1277.7 99.7L1282.7 97.7L1282.7 101L1277.7 103Z" fill="#d6d6d6" stroke="none" stroke-width="0.8" stroke-linejoin="round" />
<path d="M1286.7 96.2L1291.7 94.2L1291.7 97.5L1286.7 99.5Z" fill="#d6d6d6" stroke="none" stroke-width="0.8" stroke-linejoin="round" />
<line x1="744.7" y1="244.3" x2="1306.0" y2="29.4" stroke="#6a6a6a" stroke-width="1.2"/>
<line x1="744.7" y1="295.5" x2="1306.0" y2="78.1" stroke="#7a7a7a" stroke-width="0.9"/>
<clipPath id="beamB"><path d="M744.7 244.3L1306 29.4L1306 95.3L744.7 313.5Z"/></clipPath><g clip-path="url(#beamB)">
<path d="M728 262.5L761.6 248.5L768.2 259.5L768.2 268.5L737.6 278.2Z" fill="#d8d8d8" stroke="#4c4c4c" stroke-width="0.9" stroke-linejoin="round" />
<path d="M738.8 258.3L750.8 253.7L750.8 267.2L738.8 271.5Z" fill="#7e7e7e" stroke="#4c4c4c" stroke-width="0.8" stroke-linejoin="round" />
<path d="M752 253.3L761 249.1L767 259.2L755 265.2Z" fill="#f0f0f0" stroke="#4c4c4c" stroke-width="0.7" stroke-linejoin="round" />
<path d="M737.6 278.2L762.2 270.8L762.8 287.1L739.4 296.9Z" fill="#a0a0a0" stroke="#4c4c4c" stroke-width="0.9" stroke-linejoin="round" />
<path d="M742.4 283.9L759.2 278.1L759.8 286.9L743 294.1Z" fill="#e8e8e8" stroke="#4c4c4c" stroke-width="0.7" stroke-linejoin="round" />
<path d="M762.2 270.8L768.2 268.5L768.8 284.8L762.8 287.1Z" fill="#909090" stroke="#4c4c4c" stroke-width="0.8" stroke-linejoin="round" />
<path d="M769.4 269.4L772.4 268.2L776 279.2L770.6 282.7Z" fill="#e4e4e4" stroke="#4c4c4c" stroke-width="0.7" stroke-linejoin="round" />
<path d="M768.2 260.2L788 252.5L788 263.6L768.2 269.8Z" fill="#c9c9c9" stroke="#4c4c4c" stroke-width="0.7" stroke-linejoin="round" />
<path d="M770 260.2L778.4 256.9L778.4 265.9L770 268.4Z" fill="#959595" stroke="#4c4c4c" stroke-width="0.6" stroke-linejoin="round" />
<path d="M779.6 256.5L786.2 253.9L786.2 262.9L779.6 265.4Z" fill="#e6e6e6" stroke="#4c4c4c" stroke-width="0.6" stroke-linejoin="round" />
<path d="M787.6 239.6L828.5 222.9L836.5 233.2L836.5 242.1L799.3 254.4Z" fill="#d8d8d8" stroke="#4c4c4c" stroke-width="0.9" stroke-linejoin="round" />
<path d="M800.7 234.5L815.3 228.9L815.3 242.4L800.7 247.6Z" fill="#7e7e7e" stroke="#4c4c4c" stroke-width="0.8" stroke-linejoin="round" />
<path d="M816.8 228.4L827.8 223.5L835.1 233.1L820.5 240Z" fill="#f0f0f0" stroke="#4c4c4c" stroke-width="0.7" stroke-linejoin="round" />
<path d="M799.3 254.4L829.2 244.9L829.9 261.1L801.5 272.8Z" fill="#a0a0a0" stroke="#4c4c4c" stroke-width="0.9" stroke-linejoin="round" />
<path d="M805.1 259.7L825.6 252.5L826.3 261.2L805.9 269.8Z" fill="#e8e8e8" stroke="#4c4c4c" stroke-width="0.7" stroke-linejoin="round" />
<path d="M829.2 244.9L836.5 242.1L837.2 258.3L829.9 261.1Z" fill="#909090" stroke="#4c4c4c" stroke-width="0.8" stroke-linejoin="round" />
<path d="M838 242.9L841.6 241.5L846 252.2L839.4 256.1Z" fill="#e4e4e4" stroke="#4c4c4c" stroke-width="0.7" stroke-linejoin="round" />
<path d="M836.5 233.9L860.6 224.6L860.6 235.5L836.5 243.5Z" fill="#c9c9c9" stroke="#4c4c4c" stroke-width="0.7" stroke-linejoin="round" />
<path d="M838.7 233.7L848.9 229.8L848.9 238.7L838.7 241.9Z" fill="#959595" stroke="#4c4c4c" stroke-width="0.6" stroke-linejoin="round" />
<path d="M850.4 229.2L858.4 226.1L858.4 235L850.4 238.1Z" fill="#e6e6e6" stroke="#4c4c4c" stroke-width="0.6" stroke-linejoin="round" />
<path d="M859.9 211.8L900.8 195.1L908.8 205.3L908.8 214.2L871.6 226.5Z" fill="#d8d8d8" stroke="#4c4c4c" stroke-width="0.9" stroke-linejoin="round" />
<path d="M873 206.8L887.6 201.2L887.6 214.5L873 219.8Z" fill="#7e7e7e" stroke="#4c4c4c" stroke-width="0.8" stroke-linejoin="round" />
<path d="M889.1 200.6L900 195.7L907.4 205.2L892.8 212.2Z" fill="#f0f0f0" stroke="#4c4c4c" stroke-width="0.7" stroke-linejoin="round" />
<path d="M871.6 226.5L901.5 217L902.2 233.1L873.8 244.8Z" fill="#a0a0a0" stroke="#4c4c4c" stroke-width="0.9" stroke-linejoin="round" />
<path d="M877.4 231.8L897.9 224.6L898.6 233.2L878.1 241.8Z" fill="#e8e8e8" stroke="#4c4c4c" stroke-width="0.7" stroke-linejoin="round" />
<path d="M901.5 217L908.8 214.2L909.5 230.3L902.2 233.1Z" fill="#909090" stroke="#4c4c4c" stroke-width="0.8" stroke-linejoin="round" />
<path d="M910.3 215L913.9 213.6L918.3 224.2L911.7 228.1Z" fill="#e4e4e4" stroke="#4c4c4c" stroke-width="0.7" stroke-linejoin="round" />
<path d="M908.8 206L932.9 196.7L932.9 207.6L908.8 215.6Z" fill="#c9c9c9" stroke="#4c4c4c" stroke-width="0.7" stroke-linejoin="round" />
<path d="M911 205.9L921.2 201.9L921.2 210.8L911 214Z" fill="#959595" stroke="#4c4c4c" stroke-width="0.6" stroke-linejoin="round" />
<path d="M922.7 201.4L930.7 198.3L930.7 207.1L922.7 210.2Z" fill="#e6e6e6" stroke="#4c4c4c" stroke-width="0.6" stroke-linejoin="round" />
<path d="M933.7 183.5L973.5 167.2L981.3 177.4L981.3 186.3L945.1 198.2Z" fill="#d8d8d8" stroke="#4c4c4c" stroke-width="0.9" stroke-linejoin="round" />
<path d="M946.5 178.6L960.7 173.1L960.7 186.4L946.5 191.5Z" fill="#7e7e7e" stroke="#4c4c4c" stroke-width="0.8" stroke-linejoin="round" />
<path d="M962.1 172.6L972.8 167.8L979.9 177.3L965.7 184.1Z" fill="#f0f0f0" stroke="#4c4c4c" stroke-width="0.7" stroke-linejoin="round" />
<path d="M945.1 198.2L974.2 189L974.9 205L947.2 216.4Z" fill="#a0a0a0" stroke="#4c4c4c" stroke-width="0.9" stroke-linejoin="round" />
<path d="M950.7 203.5L970.6 196.5L971.3 205L951.5 213.4Z" fill="#e8e8e8" stroke="#4c4c4c" stroke-width="0.7" stroke-linejoin="round" />
<path d="M974.2 189L981.3 186.3L982 202.3L974.9 205Z" fill="#909090" stroke="#4c4c4c" stroke-width="0.8" stroke-linejoin="round" />
<path d="M982.7 187.1L986.2 185.7L990.5 196.2L984.1 200.1Z" fill="#e4e4e4" stroke="#4c4c4c" stroke-width="0.7" stroke-linejoin="round" />
<path d="M981.3 178.1L1004.7 169.1L1004.7 179.9L981.3 187.6Z" fill="#c9c9c9" stroke="#4c4c4c" stroke-width="0.7" stroke-linejoin="round" />
<path d="M983.4 178L993.3 174.2L993.3 183L983.4 186.1Z" fill="#959595" stroke="#4c4c4c" stroke-width="0.6" stroke-linejoin="round" />
<path d="M994.8 173.6L1002.6 170.6L1002.6 179.4L994.8 182.4Z" fill="#e6e6e6" stroke="#4c4c4c" stroke-width="0.6" stroke-linejoin="round" />
<path d="M1082.8 126.3L1119.8 111.1L1127 121.3L1127 130L1093.4 141Z" fill="#d8d8d8" stroke="#4c4c4c" stroke-width="0.9" stroke-linejoin="round" />
<path d="M1094.7 121.7L1107.9 116.6L1107.9 129.7L1094.7 134.5Z" fill="#7e7e7e" stroke="#4c4c4c" stroke-width="0.8" stroke-linejoin="round" />
<path d="M1109.2 116.1L1119.1 111.7L1125.7 121.2L1112.5 127.6Z" fill="#f0f0f0" stroke="#4c4c4c" stroke-width="0.7" stroke-linejoin="round" />
<path d="M1093.4 141L1120.4 132.6L1121.1 148.4L1095.3 159Z" fill="#a0a0a0" stroke="#4c4c4c" stroke-width="0.9" stroke-linejoin="round" />
<path d="M1098.6 146.4L1117.1 139.9L1117.8 148.3L1099.3 156.2Z" fill="#e8e8e8" stroke="#4c4c4c" stroke-width="0.7" stroke-linejoin="round" />
<path d="M1120.4 132.6L1127 130L1127.7 145.8L1121.1 148.4Z" fill="#909090" stroke="#4c4c4c" stroke-width="0.8" stroke-linejoin="round" />
<path d="M1128.3 130.9L1131.6 129.6L1135.6 140.1L1129.7 143.7Z" fill="#e4e4e4" stroke="#4c4c4c" stroke-width="0.7" stroke-linejoin="round" />
<path d="M1127 122L1148.8 113.6L1148.8 124.3L1127 131.4Z" fill="#c9c9c9" stroke="#4c4c4c" stroke-width="0.7" stroke-linejoin="round" />
<path d="M1129 121.9L1138.2 118.4L1138.2 127L1129 129.9Z" fill="#959595" stroke="#4c4c4c" stroke-width="0.6" stroke-linejoin="round" />
<path d="M1139.6 117.8L1146.8 115L1146.8 123.7L1139.6 126.5Z" fill="#e6e6e6" stroke="#4c4c4c" stroke-width="0.6" stroke-linejoin="round" />
<path d="M1147.8 101.3L1184.2 86.3L1191.3 96.6L1191.3 105.2L1158.2 116Z" fill="#d8d8d8" stroke="#4c4c4c" stroke-width="0.9" stroke-linejoin="round" />
<path d="M1159.5 96.8L1172.5 91.8L1172.5 104.8L1159.5 109.5Z" fill="#7e7e7e" stroke="#4c4c4c" stroke-width="0.8" stroke-linejoin="round" />
<path d="M1173.8 91.3L1183.5 86.9L1190 96.4L1177 102.7Z" fill="#f0f0f0" stroke="#4c4c4c" stroke-width="0.7" stroke-linejoin="round" />
<path d="M1158.2 116L1184.8 107.7L1185.5 123.5L1160.1 133.9Z" fill="#a0a0a0" stroke="#4c4c4c" stroke-width="0.9" stroke-linejoin="round" />
<path d="M1163.4 121.3L1181.6 115L1182.2 123.4L1164 131.1Z" fill="#e8e8e8" stroke="#4c4c4c" stroke-width="0.7" stroke-linejoin="round" />
<path d="M1184.8 107.7L1191.3 105.2L1192 120.9L1185.5 123.5Z" fill="#909090" stroke="#4c4c4c" stroke-width="0.8" stroke-linejoin="round" />
<path d="M1192.6 106.1L1195.9 104.8L1199.8 115.3L1194 118.9Z" fill="#e4e4e4" stroke="#4c4c4c" stroke-width="0.7" stroke-linejoin="round" />
<path d="M1191.3 97.2L1212.8 89L1212.8 99.6L1191.3 106.6Z" fill="#c9c9c9" stroke="#4c4c4c" stroke-width="0.7" stroke-linejoin="round" />
<path d="M1193.3 97.2L1202.4 93.6L1202.4 102.3L1193.3 105.1Z" fill="#959595" stroke="#4c4c4c" stroke-width="0.6" stroke-linejoin="round" />
<path d="M1203.7 93.1L1210.8 90.4L1210.8 99L1203.7 101.8Z" fill="#e6e6e6" stroke="#4c4c4c" stroke-width="0.6" stroke-linejoin="round" />
<path d="M1213.4 76.1L1249.2 61.4L1256.3 71.6L1256.3 80.2L1223.6 90.8Z" fill="#d8d8d8" stroke="#4c4c4c" stroke-width="0.9" stroke-linejoin="round" />
<path d="M1224.9 71.7L1237.7 66.8L1237.7 79.7L1224.9 84.3Z" fill="#7e7e7e" stroke="#4c4c4c" stroke-width="0.8" stroke-linejoin="round" />
<path d="M1239 66.3L1248.6 61.9L1255 71.4L1242.2 77.7Z" fill="#f0f0f0" stroke="#4c4c4c" stroke-width="0.7" stroke-linejoin="round" />
<path d="M1223.6 90.8L1249.9 82.6L1250.5 98.3L1225.6 108.6Z" fill="#a0a0a0" stroke="#4c4c4c" stroke-width="0.9" stroke-linejoin="round" />
<path d="M1228.8 96.1L1246.7 89.8L1247.3 98.2L1229.4 105.8Z" fill="#e8e8e8" stroke="#4c4c4c" stroke-width="0.7" stroke-linejoin="round" />
<path d="M1249.9 82.6L1256.3 80.2L1256.9 95.8L1250.5 98.3Z" fill="#909090" stroke="#4c4c4c" stroke-width="0.8" stroke-linejoin="round" />
<path d="M1257.6 81L1260.8 79.8L1264.6 90.2L1258.8 93.7Z" fill="#e4e4e4" stroke="#4c4c4c" stroke-width="0.7" stroke-linejoin="round" />
<path d="M1256.3 72.2L1277.4 64.1L1277.4 74.7L1256.3 81.5Z" fill="#c9c9c9" stroke="#4c4c4c" stroke-width="0.7" stroke-linejoin="round" />
<path d="M1258.2 72.2L1267.2 68.7L1267.2 77.3L1258.2 80.1Z" fill="#959595" stroke="#4c4c4c" stroke-width="0.6" stroke-linejoin="round" />
<path d="M1268.4 68.2L1275.5 65.5L1275.5 74.1L1268.4 76.8Z" fill="#e6e6e6" stroke="#4c4c4c" stroke-width="0.6" stroke-linejoin="round" />
<path d="M1275.3 52.4L1310 38L1316.8 48.3L1316.8 56.8L1285.2 67Z" fill="#d8d8d8" stroke="#4c4c4c" stroke-width="0.9" stroke-linejoin="round" />
<path d="M1286.5 48.1L1298.9 43.3L1298.9 56.2L1286.5 60.6Z" fill="#7e7e7e" stroke="#4c4c4c" stroke-width="0.8" stroke-linejoin="round" />
<path d="M1300.1 42.8L1309.4 38.6L1315.6 48.1L1303.2 54.2Z" fill="#f0f0f0" stroke="#4c4c4c" stroke-width="0.7" stroke-linejoin="round" />
<path d="M1285.2 67L1310.6 59.2L1311.3 74.8L1287.1 84.8Z" fill="#a0a0a0" stroke="#4c4c4c" stroke-width="0.9" stroke-linejoin="round" />
<path d="M1290.2 72.4L1307.5 66.3L1308.2 74.7L1290.8 82Z" fill="#e8e8e8" stroke="#4c4c4c" stroke-width="0.7" stroke-linejoin="round" />
<path d="M1310.6 59.2L1316.8 56.8L1317.5 72.4L1311.3 74.8Z" fill="#909090" stroke="#4c4c4c" stroke-width="0.8" stroke-linejoin="round" />
<path d="M1318.1 57.7L1321.2 56.5L1324.9 66.9L1319.3 70.3Z" fill="#e4e4e4" stroke="#4c4c4c" stroke-width="0.7" stroke-linejoin="round" />
<path d="M1316.8 48.9L1337.3 41L1337.3 51.6L1316.8 58.1Z" fill="#c9c9c9" stroke="#4c4c4c" stroke-width="0.7" stroke-linejoin="round" />
<path d="M1318.7 48.9L1327.4 45.5L1327.4 54.1L1318.7 56.8Z" fill="#959595" stroke="#4c4c4c" stroke-width="0.6" stroke-linejoin="round" />
<path d="M1328.6 45L1335.4 42.4L1335.4 51L1328.6 53.6Z" fill="#e6e6e6" stroke="#4c4c4c" stroke-width="0.6" stroke-linejoin="round" />
</g>
<path d="M1304 78.4L1322.3 71.4L1326.7 80L1306 88Z" fill="#c9c9c9" stroke="#6a6a6a" stroke-width="0.9" stroke-linejoin="round" />
<path d="M1004.5 152.9L1060 130.3L1066 158.3L1010 184.6Z" fill="#d9d9d9" stroke="#4c4c4c" stroke-width="0.9" stroke-linejoin="round" />
<path d="M1008 155L1042.7 140.6L1049.5 151.2L1049.5 159.9L1017.9 170.1Z" fill="#d8d8d8" stroke="#4c4c4c" stroke-width="0.9" stroke-linejoin="round" />
<path d="M1019.2 150.7L1031.6 145.9L1031.6 159.1L1019.2 163.5Z" fill="#7e7e7e" stroke="#4c4c4c" stroke-width="0.8" stroke-linejoin="round" />
<path d="M1032.8 145.5L1042.1 141.2L1048.3 151L1035.9 157.1Z" fill="#f0f0f0" stroke="#4c4c4c" stroke-width="0.7" stroke-linejoin="round" />
<path d="M1017.9 170.1L1043.3 162.3L1044 178.3L1019.8 188.3Z" fill="#a0a0a0" stroke="#4c4c4c" stroke-width="0.9" stroke-linejoin="round" />
<path d="M1022.9 175.6L1040.2 169.6L1040.9 178.1L1023.5 185.5Z" fill="#e8e8e8" stroke="#4c4c4c" stroke-width="0.7" stroke-linejoin="round" />
<path d="M1043.3 162.3L1049.5 159.9L1050.2 175.9L1044 178.3Z" fill="#909090" stroke="#4c4c4c" stroke-width="0.8" stroke-linejoin="round" />
<path d="M1050.8 160.8L1053.9 159.6L1057.6 170.3L1052 173.8Z" fill="#e4e4e4" stroke="#4c4c4c" stroke-width="0.7" stroke-linejoin="round" />
<path d="M1049.5 151.8L1070 144L1070 154.7L1049.5 161.3Z" fill="#c9c9c9" stroke="#4c4c4c" stroke-width="0.7" stroke-linejoin="round" />
<path d="M1051.4 151.8L1060.1 148.5L1060.1 157.2L1051.4 159.9Z" fill="#959595" stroke="#4c4c4c" stroke-width="0.6" stroke-linejoin="round" />
<path d="M1061.3 148L1068.1 145.3L1068.1 154.1L1061.3 156.7Z" fill="#e6e6e6" stroke="#4c4c4c" stroke-width="0.6" stroke-linejoin="round" />
<path d="M1050 147.6L1056 145.3L1066 175.1L1060 177.4Z" fill="#dcdcdc" stroke="#4c4c4c" stroke-width="0.8" stroke-linejoin="round" />
<path d="M1058 151.3L1082 142L1082 151.4L1058 160.7Z" fill="#c9c9c9" stroke="#4c4c4c" stroke-width="0.7" stroke-linejoin="round" />
<path d="M744.7 261.6L765 253.8L765 291.8L744.7 299.7Z" fill="#cfcfcf" stroke="#4c4c4c" stroke-width="1" stroke-linejoin="round" />
<path d="M727,260 L745,250 L748,280 L731,290 Z" fill="#bdbdbd" stroke="#6a6a6a" stroke-width="0.8"/>
<path d="M747,300 L765,293 L767,310 L752,318 Z" fill="#c4c4c4" stroke="#6a6a6a" stroke-width="0.8"/>
<clipPath id="clipA"><path d="M219.6 322L228 316L311 285L324 279L408.7 247.6L470.7 249L470.7 368L466.6 370.5L381.9 401.5L368.4 407.7L284.7 440.8L219.6 434.6Z"/></clipPath>
<g clip-path="url(#clipA)">
<path d="M219.6 322L228 316L311 285L324 279L408.7 247.6L470.7 249L470.7 368L466.6 370.5L381.9 401.5L368.4 407.7L284.7 440.8L219.6 434.6Z" fill="#c6c6c6"/>
<path d="M157 247L147 241L147 256L157 262ZM211 227L205 223L205 238L211 242ZM265 207L255 201L255 216L265 222ZM292 197L282 191L282 206L292 212ZM346 177L338 172L338 189L346 194ZM427 146L421 143L421 160L427 164ZM454 136L444 130L444 145L454 151ZM481 126L473 121L473 143L481 148ZM508 116L502 113L502 133L508 136ZM130 284L122 279L122 301L130 306ZM157 274L147 268L147 283L157 289ZM211 254L205 250L205 272L211 276ZM238 244L230 239L230 259L238 264ZM265 234L259 230L259 252L265 255ZM292 224L286 220L286 235L292 239ZM319 214L311 209L311 230L319 235ZM373 194L367 190L367 210L373 214ZM454 163L446 158L446 180L454 185ZM481 153L475 150L475 170L481 174ZM103 321L93 315L93 335L103 342ZM238 271L230 266L230 284L238 288ZM265 261L255 255L255 275L265 281ZM292 251L284 246L284 261L292 266ZM319 241L309 235L309 256L319 262ZM130 338L124 335L124 349L130 353ZM238 298L232 294L232 309L238 313ZM265 288L257 283L257 305L265 309ZM292 278L284 273L284 293L292 298ZM346 258L340 254L340 274L346 278ZM400 238L390 231L390 246L400 252ZM427 227L421 224L421 244L427 248ZM454 217L448 214L448 231L454 235ZM508 197L498 191L498 211L508 217ZM103 375L95 370L95 392L103 397ZM130 365L120 359L120 381L130 387ZM157 355L151 351L151 369L157 373ZM211 335L203 330L203 345L211 350ZM265 315L255 309L255 330L265 336ZM319 295L313 291L313 311L319 315ZM346 285L336 279L336 293L346 299ZM427 254L417 248L417 266L427 272ZM454 244L448 241L448 258L454 262ZM481 234L471 228L471 243L481 249ZM508 224L502 221L502 238L508 242ZM103 402L95 397L95 418L103 423ZM157 382L147 376L147 398L157 404ZM184 372L174 366L174 384L184 390ZM238 352L228 346L228 363L238 369ZM319 322L309 316L309 330L319 337ZM346 312L340 308L340 330L346 333ZM400 292L390 285L390 307L400 313ZM427 281L419 277L419 298L427 303ZM454 271L444 265L444 287L454 293ZM481 261L471 255L471 275L481 282ZM130 419L120 413L120 428L130 434ZM238 379L232 375L232 396L238 399ZM265 369L255 363L255 380L265 386ZM292 359L286 355L286 373L292 376ZM319 349L313 345L313 367L319 370ZM346 339L338 334L338 349L346 353ZM427 308L421 305L421 320L427 323ZM103 456L97 453L97 473L103 477ZM130 446L122 441L122 462L130 466ZM157 436L147 430L147 452L157 458ZM211 416L205 412L205 434L211 438ZM238 406L232 402L232 423L238 426ZM265 396L259 392L259 414L265 417ZM292 386L282 380L282 400L292 406ZM319 376L313 372L313 387L319 391ZM427 335L419 331L419 351L427 356ZM454 325L448 322L448 342L454 346ZM481 315L471 309L471 327L481 333ZM508 305L498 299L498 321L508 327ZM103 483L93 477L93 497L103 504ZM157 463L149 458L149 476L157 481ZM184 453L178 449L178 464L184 468ZM238 433L228 427L228 448L238 455ZM265 423L257 418L257 433L265 438ZM292 413L284 408L284 428L292 433ZM319 403L313 399L313 417L319 420ZM454 352L444 346L444 364L454 370ZM481 342L473 337L473 355L481 360Z" fill="#999999"/>
<path d="M157 247L172 242L162 236L147 241ZM211 227L226 221L220 218L205 223ZM265 207L280 201L270 195L255 201ZM292 197L307 191L297 185L282 191ZM346 177L363 170L356 165L338 172ZM427 146L444 140L439 136L421 143ZM454 136L469 131L459 125L444 130ZM481 126L502 118L495 113L473 121ZM508 116L528 109L522 105L502 113ZM130 284L151 276L144 271L122 279ZM157 274L172 269L162 263L147 268ZM211 254L232 246L227 242L205 250ZM238 244L258 236L250 232L230 239ZM265 234L286 226L281 222L259 230ZM292 224L307 218L301 215L286 220ZM319 214L340 206L333 201L311 209ZM373 194L393 186L387 182L367 190ZM454 163L475 155L468 150L446 158ZM481 153L501 146L495 142L475 150ZM103 321L123 314L114 308L93 315ZM238 271L255 264L248 260L230 266ZM265 261L285 253L276 247L255 255ZM292 251L307 245L299 240L284 246ZM319 241L340 233L331 227L309 235ZM130 338L145 333L139 329L124 335ZM238 298L253 292L247 289L232 294ZM265 288L286 280L279 275L257 283ZM292 278L312 270L304 265L284 273ZM346 258L366 250L360 246L340 254ZM400 238L415 232L405 226L390 231ZM427 227L447 220L441 216L421 224ZM454 217L471 211L466 207L448 214ZM508 197L528 190L519 184L498 191ZM103 375L124 367L117 362L95 370ZM130 365L151 357L142 351L120 359ZM157 355L174 349L169 345L151 351ZM211 335L226 329L218 325L203 330ZM265 315L286 307L277 301L255 309ZM319 295L339 287L333 284L313 291ZM346 285L361 279L351 273L336 279ZM427 254L444 248L435 242L417 248ZM454 244L471 238L466 234L448 241ZM481 234L496 229L486 223L471 228ZM508 224L525 218L520 214L502 221ZM103 402L123 395L115 390L95 397ZM157 382L178 374L169 368L147 376ZM184 372L201 366L192 359L174 366ZM238 352L255 345L246 339L228 346ZM319 322L334 316L324 310L309 316ZM346 312L367 304L362 300L340 308ZM400 292L421 283L412 277L390 285ZM427 281L448 273L441 269L419 277ZM454 271L475 263L466 257L444 265ZM481 261L501 254L492 248L471 255ZM130 419L145 414L135 408L120 413ZM238 379L258 371L252 368L232 375ZM265 369L282 362L273 356L255 363ZM292 359L309 352L304 349L286 355ZM319 349L340 341L335 337L313 345ZM346 339L361 333L353 328L338 334ZM427 308L442 303L436 299L421 305ZM103 456L123 449L117 445L97 453ZM130 446L150 439L142 434L122 441ZM157 436L178 428L169 422L147 430ZM211 416L232 408L227 404L205 412ZM238 406L258 398L252 395L232 402ZM265 396L286 388L281 384L259 392ZM292 386L312 378L303 372L282 380ZM319 376L334 370L328 367L313 372ZM427 335L447 328L439 323L419 331ZM454 325L474 318L468 314L448 322ZM481 315L498 309L489 303L471 309ZM508 305L529 297L520 291L498 299ZM103 483L123 476L114 470L93 477ZM157 463L174 457L167 452L149 458ZM184 453L199 448L193 444L178 449ZM238 433L259 425L250 419L228 427ZM265 423L280 417L272 412L257 418ZM292 413L312 405L304 400L284 408ZM319 403L336 396L331 393L313 399ZM454 352L471 346L462 340L444 346ZM481 342L498 336L491 331L473 337Z" fill="#e6e6e6"/>
<path d="M157 247L172 242L172 256L157 262ZM265 207L280 201L280 216L265 222ZM454 136L469 131L469 146L454 151ZM211 254L232 246L232 268L211 276ZM265 234L286 226L286 247L265 255ZM373 194L393 186L393 206L373 214ZM265 288L286 280L286 301L265 309ZM346 258L366 250L366 270L346 278ZM508 197L528 190L528 210L508 217ZM454 244L471 238L471 255L454 262ZM238 352L255 345L255 363L238 369ZM319 322L334 316L334 331L319 337ZM346 312L367 304L367 325L346 333ZM400 292L421 283L421 305L400 313ZM265 369L282 362L282 380L265 386ZM454 325L474 318L474 338L454 346ZM454 352L471 346L471 363L454 370ZM481 342L498 336L498 353L481 360Z" fill="#cdcdcd" stroke="#8a8a8a" stroke-width="0.7"/>
<path d="M427 146L444 140L444 157L427 164ZM508 116L528 109L528 129L508 136ZM130 338L145 333L145 348L130 353ZM292 278L312 270L312 290L292 298ZM103 375L124 367L124 389L103 397ZM157 355L174 349L174 366L157 373ZM265 315L286 307L286 328L265 336ZM346 285L361 279L361 294L346 299ZM481 234L496 229L496 244L481 249ZM184 372L201 366L201 383L184 390ZM427 281L448 273L448 295L427 303ZM454 271L475 263L475 285L454 293ZM481 261L501 254L501 274L481 282ZM130 419L145 414L145 429L130 434ZM427 308L442 303L442 318L427 323ZM130 446L150 439L150 459L130 466ZM238 406L258 398L258 419L238 426ZM292 386L312 378L312 398L292 406ZM427 335L447 328L447 348L427 356ZM103 483L123 476L123 496L103 504ZM265 423L280 417L280 432L265 438Z" fill="#bdbdbd" stroke="#8a8a8a" stroke-width="0.7"/>
<path d="M238 244L258 236L258 257L238 264ZM292 224L307 218L307 233L292 239ZM238 271L255 264L255 282L238 288ZM265 261L285 253L285 274L265 281ZM400 238L415 232L415 247L400 252ZM427 227L447 220L447 240L427 248ZM130 365L151 357L151 379L130 387ZM211 335L226 329L226 344L211 350ZM508 224L525 218L525 235L508 242ZM238 379L258 371L258 392L238 399ZM319 349L340 341L340 362L319 370ZM157 436L178 428L178 450L157 458ZM211 416L232 408L232 430L211 438ZM265 396L286 388L286 409L265 417ZM319 376L334 370L334 385L319 391ZM157 463L174 457L174 474L157 481ZM184 453L199 448L199 462L184 468ZM238 433L259 425L259 446L238 455ZM292 413L312 405L312 425L292 433ZM319 403L336 396L336 414L319 420Z" fill="#d8d8d8" stroke="#8a8a8a" stroke-width="0.7"/>
<path d="M211 227L226 221L226 236L211 242ZM292 197L307 191L307 206L292 212ZM346 177L363 170L363 188L346 194ZM481 126L502 118L502 140L481 148ZM130 284L151 276L151 298L130 306ZM157 274L172 269L172 283L157 289ZM319 214L340 206L340 227L319 235ZM454 163L475 155L475 177L454 185ZM481 153L501 146L501 166L481 174ZM103 321L123 314L123 334L103 342ZM292 251L307 245L307 260L292 266ZM319 241L340 233L340 254L319 262ZM238 298L253 292L253 307L238 313ZM454 217L471 211L471 228L454 235ZM319 295L339 287L339 307L319 315ZM427 254L444 248L444 265L427 272ZM103 402L123 395L123 415L103 423ZM157 382L178 374L178 396L157 404ZM292 359L309 352L309 370L292 376ZM346 339L361 333L361 348L346 353ZM103 456L123 449L123 469L103 477ZM481 315L498 309L498 326L481 333ZM508 305L529 297L529 319L508 327Z" fill="#b2b2b2" stroke="#8a8a8a" stroke-width="0.7"/>
<path d="M161 249L168 247L168 254L161 257ZM296 199L303 196L303 204L296 207ZM350 179L359 176L359 185L350 188ZM431 149L440 146L440 155L431 158ZM135 288L146 284L146 294L135 298ZM161 276L168 274L168 281L161 284ZM459 167L470 163L470 174L459 178ZM242 274L251 270L251 279L242 282ZM296 253L303 250L303 258L296 261ZM324 244L335 240L335 251L324 255ZM270 291L281 287L281 298L270 302ZM350 287L357 284L357 292L350 294ZM512 227L521 224L521 232L512 236ZM323 324L330 321L330 329L323 331ZM351 315L362 311L362 322L351 326ZM269 372L278 368L278 377L269 380ZM324 352L335 348L335 359L324 363ZM162 440L173 435L173 446L162 450ZM243 409L253 405L253 415L243 419ZM297 389L307 385L307 395L297 399ZM323 378L330 375L330 383L323 385ZM432 339L442 335L442 345L432 349ZM459 329L469 325L469 335L459 339ZM485 318L494 315L494 324L485 327ZM269 425L276 422L276 430L269 433ZM323 405L332 402L332 411L323 414ZM458 355L467 352L467 361L458 364ZM485 345L494 342L494 351L485 354Z" fill="#a2a2a2"/>
<path d="M137 289L128 283L128 298L137 304ZM164 279L157 274L157 296L164 301ZM191 269L186 265L186 283L191 287ZM218 259L209 253L209 270L218 276ZM245 249L240 245L240 263L245 266ZM272 239L265 234L265 249L272 254ZM299 229L292 224L292 241L299 246ZM326 219L317 213L317 227L326 233ZM353 209L346 204L346 219L353 223ZM407 188L400 184L400 205L407 210ZM434 178L429 175L429 195L434 199ZM515 148L506 142L506 162L515 168ZM164 306L155 300L155 318L164 324ZM191 296L184 291L184 313L191 318ZM218 286L211 281L211 299L218 303ZM272 266L265 261L265 282L272 287ZM299 256L294 252L294 270L299 273ZM326 246L321 242L321 262L326 266ZM353 236L346 231L346 248L353 253ZM407 215L400 211L400 232L407 237ZM434 205L427 200L427 222L434 227ZM488 185L483 182L483 203L488 207ZM515 175L508 170L508 191L515 195ZM542 165L535 160L535 175L542 180ZM137 343L132 339L132 360L137 363ZM191 323L184 318L184 336L191 341ZM245 303L240 299L240 321L245 324ZM272 293L263 287L263 304L272 310ZM299 283L290 277L290 298L299 304ZM380 252L375 249L375 266L380 270ZM461 222L454 217L454 238L461 243ZM488 212L483 209L483 230L488 234ZM542 192L533 186L533 208L542 214ZM164 360L159 356L159 378L164 382ZM218 340L213 336L213 357L218 360ZM245 330L236 324L236 339L245 345ZM272 320L265 315L265 332L272 337ZM353 290L344 283L344 301L353 307ZM380 279L373 275L373 296L380 301ZM434 259L429 256L429 271L434 274ZM461 249L452 243L452 265L461 271ZM488 239L481 234L481 256L488 261ZM137 397L128 391L128 406L137 412ZM164 387L159 383L159 398L164 402ZM218 367L209 361L209 378L218 384ZM245 357L240 353L240 368L245 372ZM272 347L265 342L265 359L272 364ZM299 337L290 331L290 345L299 352ZM380 306L373 302L373 319L380 324ZM434 286L429 283L429 303L434 307ZM461 276L456 273L456 294L461 298ZM488 266L483 263L483 283L488 286ZM542 246L537 242L537 264L542 268ZM137 424L132 420L132 435L137 439ZM191 404L184 399L184 417L191 422ZM218 394L209 388L209 403L218 409ZM245 384L238 379L238 401L245 405ZM299 364L294 360L294 378L299 381ZM326 354L319 349L319 366L326 371ZM353 344L348 340L348 355L353 358ZM407 323L402 320L402 341L407 345ZM434 313L427 308L427 329L434 334ZM515 283L506 277L506 292L515 298ZM542 273L535 268L535 288L542 293ZM137 451L128 445L128 465L137 471ZM164 441L159 437L159 459L164 463ZM191 431L186 427L186 449L191 453ZM245 411L240 407L240 427L245 431ZM326 381L319 376L319 391L326 395ZM380 360L375 357L375 372L380 375ZM407 350L400 346L400 367L407 372ZM434 340L427 335L427 353L434 358ZM461 330L452 324L452 344L461 351ZM542 300L533 294L533 309L542 315ZM164 468L157 463L157 478L164 483ZM191 458L186 454L186 469L191 473ZM245 438L240 434L240 456L245 459ZM272 428L263 422L263 439L272 445ZM434 367L429 364L429 381L434 385ZM461 357L454 352L454 370L461 375ZM488 347L479 341L479 359L488 365ZM515 337L510 333L510 348L515 352ZM137 505L132 501L132 522L137 525ZM191 485L186 481L186 499L191 503ZM245 465L240 461L240 476L245 480ZM272 455L267 451L267 469L272 472ZM326 435L321 431L321 449L326 452ZM353 425L348 421L348 441L353 445ZM380 414L375 411L375 432L380 436ZM407 404L398 398L398 416L407 422ZM434 394L427 389L427 410L434 415ZM461 384L454 379L454 394L461 399ZM515 364L506 358L506 378L515 384ZM542 354L535 349L535 364L542 369Z" fill="#999999"/>
<path d="M137 289L152 284L143 277L128 283ZM164 279L186 271L178 266L157 274ZM191 269L209 262L203 259L186 265ZM218 259L236 252L226 246L209 253ZM245 249L263 242L257 239L240 245ZM272 239L287 233L280 228L265 234ZM299 229L317 222L309 217L292 224ZM326 219L341 213L332 207L317 213ZM353 209L368 203L361 198L346 204ZM407 188L429 180L421 175L400 184ZM434 178L455 171L449 167L429 175ZM515 148L536 141L526 134L506 142ZM164 306L182 299L172 293L155 300ZM191 296L213 288L205 283L184 291ZM218 286L236 279L228 274L211 281ZM272 266L294 258L286 253L265 261ZM299 256L317 249L311 245L294 252ZM326 246L347 238L341 234L321 242ZM353 236L371 229L363 224L346 231ZM407 215L429 207L421 202L400 211ZM434 205L456 197L448 192L427 200ZM488 185L510 177L504 173L483 182ZM515 175L536 168L528 163L508 170ZM542 165L557 160L550 155L535 160ZM137 343L158 336L152 332L132 339ZM191 323L209 316L201 312L184 318ZM245 303L267 295L261 291L240 299ZM272 293L290 286L280 280L263 287ZM299 283L321 275L311 269L290 277ZM380 252L398 246L392 242L375 249ZM461 222L482 215L474 210L454 217ZM488 212L510 204L504 200L483 209ZM542 192L564 184L554 178L533 186ZM164 360L186 352L180 348L159 356ZM218 340L239 332L233 329L213 336ZM245 330L260 324L251 318L236 324ZM272 320L290 313L282 308L265 315ZM353 290L371 283L361 277L344 283ZM380 279L402 271L394 267L373 275ZM434 259L449 254L443 250L429 256ZM461 249L483 241L473 235L452 243ZM488 239L510 231L502 226L481 234ZM137 397L152 392L143 385L128 391ZM164 387L179 382L173 378L159 383ZM218 367L236 360L226 354L209 361ZM245 357L260 351L254 348L240 353ZM272 347L290 340L282 335L265 342ZM299 337L314 331L305 325L290 331ZM380 306L398 300L390 295L373 302ZM434 286L455 279L449 275L429 283ZM461 276L483 268L477 265L456 273ZM488 266L509 259L503 255L483 263ZM542 246L564 238L558 234L537 242ZM137 424L152 419L146 415L132 420ZM191 404L209 397L201 393L184 399ZM218 394L233 388L224 382L209 388ZM245 384L267 376L259 371L238 379ZM299 364L317 357L311 353L294 360ZM326 354L344 347L336 342L319 349ZM353 344L368 338L362 334L348 340ZM407 323L429 315L423 312L402 320ZM434 313L455 306L447 301L427 308ZM515 283L530 278L521 272L506 277ZM542 273L563 265L555 261L535 268ZM137 451L158 444L148 437L128 445ZM164 441L186 433L180 429L159 437ZM191 431L213 423L207 419L186 427ZM245 411L266 403L260 400L240 407ZM326 381L341 375L334 370L319 376ZM380 360L395 355L389 351L375 357ZM407 350L429 342L421 337L400 346ZM434 340L452 334L444 329L427 335ZM461 330L482 323L472 317L452 324ZM542 300L557 295L548 288L533 294ZM164 468L179 463L172 458L157 463ZM191 458L206 452L200 449L186 454ZM245 438L267 430L261 426L240 434ZM272 428L290 421L280 415L263 422ZM434 367L452 361L446 357L429 364ZM461 357L479 351L471 346L454 352ZM488 347L506 341L496 335L479 341ZM515 337L530 332L524 328L510 333ZM137 505L158 498L152 494L132 501ZM191 485L209 478L203 475L186 481ZM245 465L260 459L254 456L240 461ZM272 455L290 448L284 445L267 451ZM326 435L344 428L338 424L321 431ZM353 425L374 417L368 413L348 421ZM380 414L402 406L396 403L375 411ZM407 404L425 398L415 392L398 398ZM434 394L455 387L447 382L427 389ZM461 384L476 379L469 374L454 379ZM515 364L536 357L526 350L506 358ZM542 354L557 349L550 344L535 349Z" fill="#e6e6e6"/>
<path d="M218 259L236 252L236 270L218 276ZM245 249L263 242L263 260L245 266ZM326 219L341 213L341 228L326 233ZM218 286L236 279L236 297L218 303ZM299 256L317 249L317 267L299 273ZM434 205L456 197L456 219L434 227ZM137 343L158 336L158 356L137 363ZM272 293L290 286L290 304L272 310ZM434 259L449 254L449 269L434 274ZM245 357L260 351L260 366L245 372ZM434 286L455 279L455 299L434 307ZM542 246L564 238L564 260L542 268ZM245 384L267 376L267 397L245 405ZM542 273L563 265L563 286L542 293ZM245 411L266 403L266 424L245 431ZM272 428L290 421L290 439L272 445ZM461 357L479 351L479 368L461 375ZM488 347L506 341L506 358L488 365ZM407 404L425 398L425 415L407 422Z" fill="#cdcdcd" stroke="#8a8a8a" stroke-width="0.7"/>
<path d="M137 289L152 284L152 298L137 304ZM353 209L368 203L368 218L353 223ZM434 178L455 171L455 191L434 199ZM515 148L536 141L536 161L515 168ZM488 185L510 177L510 199L488 207ZM299 283L321 275L321 296L299 304ZM461 222L482 215L482 235L461 243ZM488 212L510 204L510 226L488 234ZM542 192L564 184L564 206L542 214ZM164 360L186 352L186 374L164 382ZM353 290L371 283L371 301L353 307ZM488 239L510 231L510 253L488 261ZM164 387L179 382L179 396L164 402ZM380 306L398 300L398 317L380 324ZM191 404L209 397L209 415L191 422ZM299 364L317 357L317 375L299 381ZM353 344L368 338L368 353L353 358ZM515 283L530 278L530 292L515 298ZM380 360L395 355L395 370L380 375ZM434 340L452 334L452 351L434 358ZM461 330L482 323L482 343L461 351ZM542 300L557 295L557 309L542 315ZM245 438L267 430L267 451L245 459ZM434 367L452 361L452 378L434 385ZM272 455L290 448L290 466L272 472ZM353 425L374 417L374 437L353 445ZM515 364L536 357L536 377L515 384ZM542 354L557 349L557 363L542 369Z" fill="#bdbdbd" stroke="#8a8a8a" stroke-width="0.7"/>
<path d="M299 229L317 222L317 240L299 246ZM326 246L347 238L347 258L326 266ZM407 215L429 207L429 229L407 237ZM515 175L536 168L536 188L515 195ZM218 340L239 332L239 353L218 360ZM272 320L290 313L290 331L272 337ZM218 367L236 360L236 378L218 384ZM272 347L290 340L290 358L272 364ZM299 337L314 331L314 346L299 352ZM461 276L483 268L483 290L461 298ZM407 323L429 315L429 337L407 345ZM326 381L341 375L341 390L326 395ZM407 350L429 342L429 364L407 372ZM164 468L179 463L179 477L164 483ZM191 458L206 452L206 467L191 473ZM137 505L158 498L158 518L137 525ZM191 485L209 478L209 496L191 503ZM245 465L260 459L260 474L245 480ZM326 435L344 428L344 446L326 452ZM434 394L455 387L455 407L434 415ZM461 384L476 379L476 394L461 399Z" fill="#d8d8d8" stroke="#8a8a8a" stroke-width="0.7"/>
<path d="M164 279L186 271L186 293L164 301ZM191 269L209 262L209 280L191 287ZM272 239L287 233L287 248L272 254ZM407 188L429 180L429 202L407 210ZM164 306L182 299L182 317L164 324ZM191 296L213 288L213 310L191 318ZM272 266L294 258L294 279L272 287ZM353 236L371 229L371 247L353 253ZM542 165L557 160L557 174L542 180ZM191 323L209 316L209 334L191 341ZM245 303L267 295L267 316L245 324ZM380 252L398 246L398 263L380 270ZM245 330L260 324L260 339L245 345ZM380 279L402 271L402 293L380 301ZM461 249L483 241L483 263L461 271ZM137 397L152 392L152 406L137 412ZM488 266L509 259L509 279L488 286ZM137 424L152 419L152 433L137 439ZM218 394L233 388L233 403L218 409ZM326 354L344 347L344 365L326 371ZM434 313L455 306L455 326L434 334ZM137 451L158 444L158 464L137 471ZM164 441L186 433L186 455L164 463ZM191 431L213 423L213 445L191 453ZM515 337L530 332L530 346L515 352ZM380 414L402 406L402 428L380 436Z" fill="#b2b2b2" stroke="#8a8a8a" stroke-width="0.7"/>
<path d="M170 282L181 278L181 289L170 293ZM250 252L258 248L258 257L250 260ZM304 231L312 228L312 237L304 240ZM413 192L424 188L424 199L413 203ZM439 182L449 178L449 188L439 192ZM520 151L530 148L530 158L520 161ZM169 309L177 306L177 314L169 318ZM278 269L289 265L289 276L278 280ZM304 258L312 255L312 264L304 267ZM358 238L366 235L366 244L358 247ZM520 178L530 175L530 185L520 188ZM277 296L285 292L285 301L277 304ZM466 225L476 222L476 232L466 236ZM170 363L181 359L181 370L170 374ZM223 343L233 339L233 349L223 353ZM249 332L256 329L256 337L249 340ZM277 323L285 319L285 328L277 331ZM358 292L366 289L366 298L358 301ZM467 253L478 249L478 259L467 263ZM141 399L148 397L148 404L141 407ZM249 359L256 356L256 364L249 367ZM277 350L285 346L285 355L277 358ZM439 290L449 286L449 296L439 300ZM467 280L478 276L478 286L467 290ZM493 269L503 266L503 276L493 279ZM196 407L204 403L204 412L196 415ZM357 346L364 343L364 351L357 353ZM439 317L449 313L449 323L439 327ZM519 285L526 283L526 290L519 293ZM547 276L557 272L557 283L547 286ZM142 454L152 451L152 461L142 464ZM170 444L181 440L181 451L170 455ZM197 434L208 430L208 441L197 445ZM384 363L391 360L391 367L384 370ZM439 343L447 340L447 349L439 352ZM546 302L553 300L553 307L546 310ZM168 470L175 468L175 475L168 478ZM251 441L262 437L262 448L251 452ZM439 370L447 367L447 376L439 379ZM466 360L474 357L474 366L466 369ZM142 508L152 505L152 515L142 518ZM249 467L256 464L256 472L249 475ZM358 428L368 424L368 434L358 438ZM386 418L397 414L397 425L386 429ZM520 367L530 364L530 374L520 377Z" fill="#a2a2a2"/>
<path d="M145 294L135 288L135 310L145 316ZM226 264L220 260L220 282L226 285ZM388 203L380 199L380 216L388 221ZM442 183L436 180L436 200L442 203ZM469 173L459 167L459 185L469 191ZM496 163L488 158L488 176L496 181ZM550 143L542 138L542 156L550 160ZM172 311L166 307L166 325L172 328ZM226 291L216 285L216 306L226 312ZM307 261L299 256L299 276L307 281ZM361 240L355 237L355 258L361 262ZM388 230L382 227L382 248L388 252ZM442 210L436 207L436 227L442 230ZM469 200L459 194L459 209L469 215ZM496 190L490 186L490 201L496 205ZM523 180L517 176L517 191L523 195ZM550 170L542 165L542 187L550 192ZM145 348L139 344L139 362L145 366ZM226 318L220 314L220 336L226 339ZM253 308L243 302L243 319L253 325ZM307 288L301 284L301 301L307 305ZM334 278L326 273L326 293L334 298ZM388 257L378 251L378 266L388 272ZM415 247L407 242L407 257L415 262ZM442 237L434 232L434 254L442 259ZM469 227L463 224L463 245L469 249ZM496 217L486 211L486 231L496 237ZM523 207L513 201L513 221L523 227ZM172 365L162 359L162 380L172 387ZM253 335L247 331L247 346L253 350ZM307 315L299 310L299 327L307 332ZM361 294L355 291L355 312L361 316ZM388 284L380 280L380 297L388 302ZM442 264L434 259L434 280L442 284ZM496 244L486 238L486 258L496 264ZM523 234L517 230L517 252L523 256ZM145 402L139 398L139 420L145 424ZM172 392L166 388L166 403L172 407ZM226 372L216 366L216 387L226 393ZM280 352L270 346L270 367L280 373ZM307 342L301 338L301 360L307 363ZM334 332L328 328L328 348L334 352ZM361 321L351 315L351 336L361 342ZM388 311L378 305L378 327L388 333ZM415 301L409 298L409 315L415 319ZM442 291L436 288L436 305L442 309ZM469 281L461 276L461 294L469 299ZM496 271L490 267L490 282L496 286ZM550 251L542 246L542 264L550 268ZM226 399L218 394L218 411L226 416ZM307 369L297 363L297 377L307 383ZM361 348L355 345L355 365L361 369ZM388 338L382 335L382 356L388 360ZM469 308L459 302L459 317L469 323ZM523 288L515 283L515 301L523 306ZM145 456L139 452L139 473L145 476ZM172 446L164 441L164 463L172 468ZM226 426L218 421L218 436L226 441ZM253 416L243 410L243 427L253 433ZM307 396L299 391L299 408L307 413ZM334 386L324 379L324 401L334 407ZM361 375L351 369L351 390L361 396ZM415 355L409 352L409 373L415 377ZM442 345L432 339L432 361L442 367ZM469 335L461 330L461 352L469 357ZM496 325L490 321L490 342L496 345ZM523 315L515 310L515 328L523 333ZM145 483L137 478L137 493L145 498ZM172 473L162 467L162 488L172 495ZM199 463L189 457L189 477L199 483ZM226 453L216 447L216 464L226 470ZM253 443L243 437L243 454L253 460ZM280 433L274 429L274 449L280 453ZM334 413L328 409L328 424L334 427ZM523 342L517 338L517 359L523 362ZM145 510L135 504L135 526L145 532ZM172 500L166 496L166 518L172 522ZM199 490L189 484L189 499L199 505ZM226 480L220 476L220 498L226 501ZM253 470L245 465L245 486L253 491ZM280 460L274 456L274 478L280 481ZM307 450L299 445L299 465L307 470ZM334 440L324 433L324 455L334 461ZM415 409L409 406L409 421L415 424ZM469 389L459 383L459 401L469 407ZM496 379L486 373L486 391L496 397ZM523 369L513 363L513 383L523 389ZM550 359L540 353L540 370L550 376Z" fill="#999999"/>
<path d="M145 294L166 286L157 280L135 288ZM226 264L247 256L242 252L220 260ZM388 203L405 197L398 192L380 199ZM442 183L462 176L456 172L436 180ZM469 173L486 167L477 161L459 167ZM496 163L513 157L506 152L488 158ZM550 143L567 136L560 132L542 138ZM172 311L189 304L184 301L166 307ZM226 291L247 283L238 277L216 285ZM307 261L327 253L319 248L299 256ZM361 240L382 232L377 229L355 237ZM388 230L409 222L404 219L382 227ZM442 210L462 203L456 199L436 207ZM469 200L484 195L474 189L459 194ZM496 190L511 185L505 181L490 186ZM523 180L538 174L532 171L517 176ZM550 170L571 162L564 157L542 165ZM145 348L162 341L157 338L139 344ZM226 318L247 310L242 306L220 314ZM253 308L270 301L261 295L243 302ZM307 288L324 281L319 277L301 284ZM334 278L354 270L346 265L326 273ZM388 257L403 252L393 246L378 251ZM415 247L430 242L422 237L407 242ZM442 237L463 229L456 224L434 232ZM469 227L490 219L485 215L463 224ZM496 217L516 210L507 203L486 211ZM523 207L543 199L534 193L513 201ZM172 365L193 357L184 351L162 359ZM253 335L268 329L262 326L247 331ZM307 315L324 308L317 303L299 310ZM361 294L382 286L377 283L355 291ZM388 284L405 278L398 273L380 280ZM442 264L462 257L454 252L434 259ZM496 244L516 237L507 230L486 238ZM523 234L544 226L539 222L517 230ZM145 402L166 394L161 390L139 398ZM172 392L187 386L181 383L166 388ZM226 372L247 364L238 358L216 366ZM280 352L301 344L292 338L270 346ZM307 342L328 334L323 330L301 338ZM334 332L354 324L348 320L328 328ZM361 321L381 314L372 308L351 315ZM388 311L409 303L400 297L378 305ZM415 301L432 295L427 291L409 298ZM442 291L459 285L454 281L436 288ZM469 281L486 275L479 270L461 276ZM496 271L511 266L505 262L490 267ZM550 251L567 244L560 240L542 246ZM226 399L243 392L236 387L218 394ZM307 369L322 363L312 357L297 363ZM361 348L381 341L375 337L355 345ZM388 338L409 330L404 327L382 335ZM469 308L484 303L474 297L459 302ZM523 288L540 281L533 277L515 283ZM145 456L165 448L159 445L139 452ZM172 446L193 438L186 433L164 441ZM226 426L241 420L233 415L218 421ZM253 416L270 409L261 403L243 410ZM307 396L324 389L317 384L299 391ZM334 386L355 377L346 371L324 379ZM361 375L381 368L372 362L351 369ZM415 355L436 347L431 344L409 352ZM442 345L463 337L454 331L432 339ZM469 335L490 327L483 322L461 330ZM496 325L516 318L510 314L490 321ZM523 315L540 308L533 304L515 310ZM145 483L160 477L152 473L137 478ZM172 473L193 465L184 459L162 467ZM199 463L219 455L210 449L189 457ZM226 453L243 446L234 440L216 447ZM253 443L270 436L261 430L243 437ZM280 433L300 425L294 421L274 429ZM334 413L349 407L343 403L328 409ZM523 342L543 334L537 331L517 338ZM145 510L166 502L157 496L135 504ZM172 500L193 492L188 488L166 496ZM199 490L214 484L204 478L189 484ZM226 480L247 472L242 468L220 476ZM253 470L274 462L267 457L245 465ZM280 460L301 452L296 448L274 456ZM307 450L327 442L319 437L299 445ZM334 440L355 431L346 425L324 433ZM415 409L430 404L424 400L409 406ZM469 389L486 383L477 377L459 383ZM496 379L513 373L504 366L486 373ZM523 369L543 361L534 355L513 363ZM550 359L567 352L558 346L540 353Z" fill="#e6e6e6"/>
<path d="M172 311L189 304L189 322L172 328ZM523 180L538 174L538 189L523 195ZM523 207L543 199L543 220L523 227ZM253 335L268 329L268 344L253 350ZM388 284L405 278L405 295L388 302ZM280 352L301 344L301 365L280 373ZM334 332L354 324L354 344L334 352ZM361 321L381 314L381 334L361 342ZM415 301L432 295L432 312L415 319ZM550 251L567 244L567 262L550 268ZM307 369L322 363L322 378L307 383ZM361 348L381 341L381 361L361 369ZM172 446L193 438L193 459L172 468ZM253 416L270 409L270 427L253 433ZM307 396L324 389L324 407L307 413ZM415 355L436 347L436 369L415 377ZM442 345L463 337L463 359L442 367ZM469 335L490 327L490 349L469 357ZM334 413L349 407L349 422L334 427Z" fill="#cdcdcd" stroke="#8a8a8a" stroke-width="0.7"/>
<path d="M388 203L405 197L405 214L388 221ZM469 173L486 167L486 184L469 191ZM496 163L513 157L513 174L496 181ZM469 200L484 195L484 209L469 215ZM550 170L571 162L571 183L550 192ZM334 278L354 270L354 290L334 298ZM442 237L463 229L463 251L442 259ZM469 227L490 219L490 241L469 249ZM361 294L382 286L382 308L361 316ZM523 234L544 226L544 248L523 256ZM145 402L166 394L166 416L145 424ZM172 392L187 386L187 401L172 407ZM226 372L247 364L247 385L226 393ZM226 399L243 392L243 410L226 416ZM388 338L409 330L409 352L388 360ZM334 386L355 377L355 399L334 407ZM361 375L381 368L381 388L361 396ZM523 315L540 308L540 326L523 333ZM199 463L219 455L219 476L199 483ZM226 453L243 446L243 464L226 470ZM253 443L270 436L270 454L253 460ZM280 433L300 425L300 445L280 453ZM145 510L166 502L166 524L145 532ZM172 500L193 492L193 513L172 522ZM199 490L214 484L214 499L199 505ZM226 480L247 472L247 493L226 501ZM334 440L355 431L355 453L334 461ZM550 359L567 352L567 370L550 376Z" fill="#bdbdbd" stroke="#8a8a8a" stroke-width="0.7"/>
<path d="M145 294L166 286L166 308L145 316ZM226 264L247 256L247 277L226 285ZM550 143L567 136L567 154L550 160ZM226 291L247 283L247 304L226 312ZM145 348L162 341L162 359L145 366ZM226 318L247 310L247 331L226 339ZM253 308L270 301L270 319L253 325ZM388 257L403 252L403 267L388 272ZM496 217L516 210L516 230L496 237ZM172 365L193 357L193 378L172 387ZM307 315L324 308L324 326L307 332ZM442 264L462 257L462 277L442 284ZM388 311L409 303L409 325L388 333ZM442 291L459 285L459 302L442 309ZM469 308L484 303L484 317L469 323ZM523 288L540 281L540 299L523 306ZM145 456L165 448L165 469L145 476ZM496 325L516 318L516 338L496 345ZM145 483L160 477L160 492L145 498ZM172 473L193 465L193 486L172 495ZM253 470L274 462L274 483L253 491ZM415 409L430 404L430 419L415 424ZM469 389L486 383L486 400L469 407ZM523 369L543 361L543 382L523 389Z" fill="#d8d8d8" stroke="#8a8a8a" stroke-width="0.7"/>
<path d="M442 183L462 176L462 196L442 203ZM307 261L327 253L327 273L307 281ZM361 240L382 232L382 254L361 262ZM388 230L409 222L409 244L388 252ZM442 210L462 203L462 223L442 230ZM496 190L511 185L511 199L496 205ZM307 288L324 281L324 299L307 305ZM415 247L430 242L430 257L415 262ZM496 244L516 237L516 257L496 264ZM307 342L328 334L328 355L307 363ZM469 281L486 275L486 292L469 299ZM496 271L511 266L511 280L496 286ZM226 426L241 420L241 435L226 441ZM523 342L543 334L543 355L523 362ZM280 460L301 452L301 473L280 481ZM307 450L327 442L327 462L307 470ZM496 379L513 373L513 390L496 397Z" fill="#b2b2b2" stroke="#8a8a8a" stroke-width="0.7"/>
<path d="M447 186L457 183L457 193L447 197ZM554 146L563 142L563 151L554 154ZM312 264L322 260L322 270L312 274ZM473 202L480 200L480 207L473 210ZM527 182L534 180L534 187L527 190ZM311 290L320 287L320 296L311 299ZM447 241L458 237L458 247L447 251ZM501 220L511 216L511 227L501 230ZM366 298L377 294L377 305L366 309ZM392 287L401 284L401 293L392 296ZM150 405L161 401L161 412L150 416ZM176 394L183 392L183 399L176 402ZM285 355L296 351L296 362L285 366ZM312 345L323 341L323 352L312 356ZM339 335L349 331L349 341L339 345ZM366 325L376 321L376 331L366 335ZM393 315L404 311L404 322L393 326ZM419 304L428 301L428 310L419 313ZM446 294L455 291L455 299L446 303ZM393 342L404 338L404 349L393 353ZM527 291L536 287L536 296L527 300ZM311 398L320 395L320 404L311 407ZM366 379L376 375L376 385L366 389ZM501 328L511 324L511 335L501 338ZM177 476L188 472L188 483L177 487ZM204 466L214 462L214 472L204 476ZM230 456L239 452L239 461L230 464ZM285 436L295 432L295 442L285 446ZM338 415L345 412L345 419L338 422ZM177 503L188 499L188 510L177 514ZM258 473L269 469L269 480L258 484ZM473 392L482 389L482 397L473 401ZM554 362L563 358L563 367L554 370Z" fill="#a2a2a2"/>
</g>
<path d="M368.4,324 L381.9,319 L381.9,401.5 L368.4,407.7 Z" fill="#f0a830" fill-opacity="0.7"/>
<path d="M310.6,285.8 L324,280.6 L381.9,319 L368.4,324 Z" fill="#f2c050" fill-opacity="0.5"/>
<path d="M310.6,285.8 L368.4,324 L368.4,407.7 L310.6,370 Z" fill="#eebc40" fill-opacity="0.55"/>
<line x1="368.4" y1="324" x2="368.4" y2="407.7" stroke="#f07a10" stroke-width="2.4"/>
<line x1="284.7" y1="355.0" x2="368.4" y2="324.0" stroke="#e0304a" stroke-width="1.4"/>
<line x1="368.4" y1="324.0" x2="368.4" y2="407.7" stroke="#e0304a" stroke-width="1.4"/>
<line x1="368.4" y1="407.7" x2="284.7" y2="440.8" stroke="#e0304a" stroke-width="1.4"/>
<line x1="284.7" y1="440.8" x2="284.7" y2="355.0" stroke="#e0304a" stroke-width="1.4"/>
<line x1="284.7" y1="355.0" x2="225.8" y2="317.5" stroke="#e0304a" stroke-width="1.4"/>
<line x1="368.4" y1="324.0" x2="309.5" y2="286.5" stroke="#e0304a" stroke-width="1.4"/>
<line x1="225.8" y1="317.5" x2="309.5" y2="286.5" stroke="#e0304a" stroke-width="1.4"/>
<line x1="368.4" y1="407.7" x2="309.5" y2="370.2" stroke="#e0304a" stroke-width="1.4"/>
<line x1="309.5" y1="286.5" x2="309.5" y2="370.2" stroke="#e0304a" stroke-width="1.4"/>
<line x1="284.7" y1="440.8" x2="225.8" y2="403.3" stroke="#e0304a" stroke-width="1.4"/>
<line x1="225.8" y1="317.5" x2="225.8" y2="403.3" stroke="#e0304a" stroke-width="1.4"/>
<line x1="225.8" y1="403.3" x2="309.5" y2="370.2" stroke="#e0304a" stroke-width="1.4"/>
<line x1="381.9" y1="318.9" x2="466.6" y2="288.9" stroke="#3a86c8" stroke-width="1.4"/>
<line x1="466.6" y1="288.9" x2="466.6" y2="370.5" stroke="#3a86c8" stroke-width="1.4"/>
<line x1="466.6" y1="370.5" x2="381.9" y2="401.5" stroke="#3a86c8" stroke-width="1.4"/>
<line x1="381.9" y1="401.5" x2="381.9" y2="318.9" stroke="#3a86c8" stroke-width="1.4"/>
<line x1="381.9" y1="318.9" x2="324.0" y2="279.6" stroke="#3a86c8" stroke-width="1.4"/>
<line x1="466.6" y1="288.9" x2="408.7" y2="249.6" stroke="#3a86c8" stroke-width="1.4"/>
<line x1="324.0" y1="279.6" x2="408.7" y2="249.6" stroke="#3a86c8" stroke-width="1.4"/>
<line x1="466.6" y1="370.5" x2="408.7" y2="331.2" stroke="#3a86c8" stroke-width="1.4"/>
<line x1="408.7" y1="249.6" x2="408.7" y2="331.2" stroke="#3a86c8" stroke-width="1.4"/>
<line x1="381.9" y1="401.5" x2="324.0" y2="362.2" stroke="#3a86c8" stroke-width="1.4"/>
<line x1="324.0" y1="279.6" x2="324.0" y2="362.2" stroke="#3a86c8" stroke-width="1.4"/>
<line x1="324.0" y1="362.2" x2="408.7" y2="331.2" stroke="#3a86c8" stroke-width="1.4"/>
<rect x="294" y="100.6" width="107.8" height="112.4" fill="none" stroke="#e8202a" stroke-width="3.2" stroke-dasharray="9 6"/>
<line x1="294" y1="213" x2="225.8" y2="317.8" stroke="#e8202a" stroke-width="3.2" stroke-dasharray="9 6"/>
<line x1="401.8" y1="213" x2="463.5" y2="281.7" stroke="#e8202a" stroke-width="3.2" stroke-dasharray="9 6"/>
<text x="0" y="0" transform="translate(327.7,451) skewY(-18) scale(0.74,1)" font-family="'Liberation Serif', serif" font-size="35" font-weight="bold" fill="#e8141e">T</text>
<text x="0" y="0" transform="translate(372.6,430) skewY(0) scale(0.88,1)" font-family="'Liberation Serif', serif" font-size="33" font-weight="bold" fill="#000">O</text>
<text x="0" y="0" transform="translate(419,416.7) skewY(-18) scale(0.74,1)" font-family="'Liberation Serif', serif" font-size="35" font-weight="bold" fill="#1f6db5">T′</text>
<text x="87" y="388" font-family="'Liberation Serif', serif" font-size="38" font-weight="normal" font-style="normal" text-anchor="start" fill="#000" >mirror</text>
<clipPath id="clipB"><path d="M925.5 330L931 313L1015 283L1030.6 276.5L1112.5 244.4L1172.3 244.4L1172.3 366L1087 398.2L1072.7 404.9L989.7 435.9L925.5 431.4Z"/></clipPath>
<g clip-path="url(#clipB)">
<path d="M925.5 330L931 313L1015 283L1030.6 276.5L1112.5 244.4L1172.3 244.4L1172.3 366L1087 398.2L1072.7 404.9L989.7 435.9L925.5 431.4Z" fill="#c6c6c6"/>
<path d="M808 261L800 256L800 278L808 283ZM835 251L829 247L829 265L835 269ZM889 231L879 225L879 240L889 246ZM916 221L906 215L906 232L916 239ZM997 191L989 186L989 201L997 206ZM1024 181L1014 174L1014 192L1024 198ZM1051 171L1041 164L1041 186L1051 192ZM1078 161L1068 154L1068 169L1078 175ZM1186 120L1180 116L1180 138L1186 142ZM1213 110L1207 106L1207 121L1213 125ZM835 278L827 273L827 295L835 300ZM889 258L883 254L883 275L889 278ZM916 248L910 244L910 259L916 263ZM970 228L964 224L964 246L970 249ZM1024 208L1016 203L1016 220L1024 225ZM1051 198L1045 194L1045 211L1051 215ZM1078 188L1072 184L1072 204L1078 208ZM1105 178L1099 174L1099 189L1105 192ZM1159 157L1151 152L1151 173L1159 178ZM1213 137L1207 133L1207 151L1213 155ZM808 315L798 309L798 331L808 337ZM889 285L879 279L879 296L889 303ZM916 275L906 269L906 286L916 293ZM943 265L937 261L937 283L943 287ZM970 255L964 251L964 271L970 275ZM997 245L989 240L989 261L997 266ZM1024 235L1018 231L1018 248L1024 252ZM1051 225L1043 220L1043 234L1051 240ZM1159 184L1153 181L1153 195L1159 199ZM1186 174L1180 170L1180 188L1186 192ZM1213 164L1203 158L1203 178L1213 184ZM808 342L800 337L800 359L808 364ZM862 322L856 318L856 340L862 344ZM889 312L881 307L881 322L889 327ZM916 302L908 297L908 314L916 320ZM943 292L935 287L935 302L943 307ZM970 282L962 277L962 298L970 303ZM1024 262L1016 257L1016 277L1024 282ZM1051 252L1043 247L1043 268L1051 273ZM1105 232L1097 226L1097 241L1105 246ZM1159 211L1149 205L1149 227L1159 233ZM808 369L798 363L798 380L808 387ZM862 349L856 345L856 367L862 371ZM916 329L910 325L910 343L916 347ZM943 319L937 315L937 333L943 336ZM970 309L960 303L960 317L970 324ZM1051 279L1045 275L1045 295L1051 299ZM1078 269L1068 262L1068 282L1078 289ZM1105 259L1095 252L1095 272L1105 279ZM1159 238L1149 232L1149 247L1159 253ZM1213 218L1207 214L1207 235L1213 238ZM808 396L800 391L800 406L808 411ZM835 386L829 382L829 403L835 406ZM862 376L852 370L852 387L862 394ZM889 366L883 362L883 377L889 381ZM943 346L935 341L935 358L943 363ZM970 336L964 332L964 354L970 357ZM997 326L989 321L989 336L997 341ZM1024 316L1018 312L1018 329L1024 333ZM1051 306L1043 301L1043 315L1051 321ZM1078 296L1070 291L1070 305L1078 310ZM1132 275L1124 270L1124 291L1132 296ZM1159 265L1153 262L1153 283L1159 287ZM1186 255L1178 250L1178 268L1186 273ZM1213 245L1205 240L1205 262L1213 267ZM808 423L798 417L798 437L808 444ZM835 413L827 408L827 428L835 433ZM862 403L854 398L854 416L862 421ZM889 393L883 389L883 411L889 415ZM916 383L910 379L910 401L916 405ZM943 373L935 368L935 383L943 388ZM997 353L989 348L989 369L997 374ZM1024 343L1016 338L1016 358L1024 363ZM1078 323L1070 318L1070 332L1078 337ZM1105 313L1099 309L1099 324L1105 327ZM1132 302L1122 296L1122 316L1132 323ZM1159 292L1149 286L1149 308L1159 314ZM1186 282L1176 276L1176 294L1186 300ZM1213 272L1203 266L1203 283L1213 290ZM808 450L798 444L798 462L808 468ZM835 440L829 436L829 454L835 458ZM916 410L910 406L910 424L916 428ZM970 390L962 385L962 405L970 410ZM997 380L991 376L991 394L997 397ZM1024 370L1018 366L1018 381L1024 385ZM1051 360L1041 353L1041 368L1051 375ZM1078 350L1072 346L1072 363L1078 367ZM1132 329L1126 326L1126 347L1132 351ZM1186 309L1176 303L1176 323L1186 330ZM808 477L802 473L802 488L808 492ZM835 467L827 462L827 482L835 487ZM889 447L883 443L883 461L889 465ZM916 437L910 433L910 455L916 459ZM943 427L937 423L937 443L943 447ZM997 407L989 402L989 422L997 427ZM1024 397L1016 392L1016 409L1024 414ZM1051 387L1043 382L1043 402L1051 407ZM1078 377L1070 372L1070 386L1078 391ZM1132 356L1126 353L1126 367L1132 371ZM1159 346L1153 343L1153 363L1159 367ZM1186 336L1176 330L1176 352L1186 358ZM1213 326L1203 320L1203 341L1213 348Z" fill="#999999"/>
<path d="M808 261L830 253L822 248L800 256ZM835 251L853 245L847 241L829 247ZM889 231L904 226L894 219L879 225ZM916 221L934 214L924 208L906 215ZM997 191L1012 185L1004 180L989 186ZM1024 181L1042 174L1032 168L1014 174ZM1051 171L1073 163L1063 156L1041 164ZM1078 161L1093 155L1083 149L1068 154ZM1186 120L1208 112L1202 108L1180 116ZM1213 110L1228 105L1222 101L1207 106ZM835 278L857 270L849 265L827 273ZM889 258L909 251L904 247L883 254ZM916 248L931 242L925 239L910 244ZM970 228L992 220L986 216L964 224ZM1024 208L1042 201L1034 196L1016 203ZM1051 198L1069 191L1063 187L1045 194ZM1078 188L1098 180L1093 176L1072 184ZM1105 178L1120 172L1114 168L1099 174ZM1159 157L1179 150L1172 145L1151 152ZM1213 137L1231 131L1225 127L1207 133ZM808 315L830 307L820 301L798 309ZM889 285L907 279L897 272L879 279ZM916 275L934 268L924 262L906 269ZM943 265L965 257L959 253L937 261ZM970 255L990 247L985 244L964 251ZM997 245L1019 237L1011 232L989 240ZM1024 235L1042 228L1036 224L1018 231ZM1051 225L1066 219L1058 214L1043 220ZM1159 184L1174 179L1168 175L1153 181ZM1186 174L1204 168L1198 164L1180 170ZM1213 164L1233 157L1224 150L1203 158ZM808 342L830 334L822 329L800 337ZM862 322L884 314L878 310L856 318ZM889 312L904 307L896 301L881 307ZM916 302L934 295L926 290L908 297ZM943 292L958 286L950 281L935 287ZM970 282L992 274L984 269L962 277ZM1024 262L1044 254L1037 249L1016 257ZM1051 252L1073 244L1065 239L1043 247ZM1105 232L1120 226L1112 221L1097 226ZM1159 211L1181 203L1171 197L1149 205ZM808 369L826 363L816 356L798 363ZM862 349L884 341L878 337L856 345ZM916 329L934 322L928 319L910 325ZM943 319L961 312L955 309L937 315ZM970 309L985 303L975 297L960 303ZM1051 279L1071 271L1066 267L1045 275ZM1078 269L1098 261L1089 255L1068 262ZM1105 259L1125 251L1116 245L1095 252ZM1159 238L1174 233L1164 226L1149 232ZM1213 218L1233 211L1228 207L1207 214ZM808 396L823 391L815 386L800 391ZM835 386L855 379L850 375L829 382ZM862 376L880 370L870 363L852 370ZM889 366L904 361L898 357L883 362ZM943 346L961 339L953 334L935 341ZM970 336L992 328L986 324L964 332ZM997 326L1012 320L1004 315L989 321ZM1024 316L1042 309L1036 305L1018 312ZM1051 306L1066 300L1058 295L1043 301ZM1078 296L1093 290L1085 285L1070 291ZM1132 275L1152 268L1145 263L1124 270ZM1159 265L1181 257L1175 254L1153 262ZM1186 255L1204 249L1196 244L1178 250ZM1213 245L1235 237L1227 232L1205 240ZM808 423L828 416L819 409L798 417ZM835 413L855 406L848 401L827 408ZM862 403L880 397L872 392L854 398ZM889 393L911 385L905 381L883 389ZM916 383L938 375L932 371L910 379ZM943 373L958 367L950 362L935 368ZM997 353L1019 345L1011 340L989 348ZM1024 343L1044 335L1037 330L1016 338ZM1078 323L1093 317L1085 312L1070 318ZM1105 313L1120 307L1114 303L1099 309ZM1132 302L1152 295L1143 289L1122 296ZM1159 292L1181 284L1171 278L1149 286ZM1186 282L1204 276L1194 269L1176 276ZM1213 272L1231 266L1221 259L1203 266ZM808 450L826 444L816 437L798 444ZM835 440L853 434L847 430L829 436ZM916 410L934 403L928 400L910 406ZM970 390L990 382L983 377L962 385ZM997 380L1015 373L1009 369L991 376ZM1024 370L1039 364L1033 360L1018 366ZM1051 360L1066 354L1056 348L1041 353ZM1078 350L1096 343L1090 339L1072 346ZM1132 329L1154 321L1148 318L1126 326ZM1186 309L1206 302L1197 295L1176 303ZM808 477L823 472L817 468L802 473ZM835 467L855 460L848 455L827 462ZM889 447L907 441L901 437L883 443ZM916 437L938 429L932 425L910 433ZM943 427L963 419L958 416L937 423ZM997 407L1017 399L1010 394L989 402ZM1024 397L1042 390L1034 385L1016 392ZM1051 387L1071 379L1064 374L1043 382ZM1078 377L1093 371L1085 366L1070 372ZM1132 356L1147 351L1141 347L1126 353ZM1159 346L1179 339L1174 335L1153 343ZM1186 336L1208 328L1198 322L1176 330ZM1213 326L1235 318L1225 312L1203 320Z" fill="#e6e6e6"/>
<path d="M916 221L934 214L934 232L916 239ZM835 278L857 270L857 292L835 300ZM943 265L965 257L965 278L943 287ZM943 292L958 286L958 301L943 307ZM970 282L992 274L992 295L970 303ZM1105 232L1120 226L1120 241L1105 246ZM970 309L985 303L985 318L970 324ZM1105 259L1125 251L1125 271L1105 279ZM808 396L823 391L823 406L808 411ZM862 376L880 370L880 387L862 394ZM1024 316L1042 309L1042 327L1024 333ZM1078 296L1093 290L1093 305L1078 310ZM1132 275L1152 268L1152 288L1132 296ZM1213 245L1235 237L1235 259L1213 267ZM916 383L938 375L938 397L916 405ZM943 373L958 367L958 382L943 388ZM1159 292L1181 284L1181 306L1159 314ZM916 410L934 403L934 421L916 428ZM970 390L990 382L990 403L970 410ZM1186 309L1206 302L1206 322L1186 330ZM1213 326L1235 318L1235 340L1213 348Z" fill="#cdcdcd" stroke="#8a8a8a" stroke-width="0.7"/>
<path d="M808 261L830 253L830 275L808 283ZM1213 110L1228 105L1228 120L1213 125ZM916 248L931 242L931 257L916 263ZM970 228L992 220L992 241L970 249ZM1078 188L1098 180L1098 200L1078 208ZM1105 178L1120 172L1120 187L1105 192ZM808 315L830 307L830 329L808 337ZM889 285L907 279L907 296L889 303ZM997 245L1019 237L1019 258L997 266ZM1051 225L1066 219L1066 234L1051 240ZM1159 184L1174 179L1174 194L1159 199ZM1213 164L1233 157L1233 177L1213 184ZM808 369L826 363L826 380L808 387ZM943 319L961 312L961 330L943 336ZM1159 238L1174 233L1174 248L1159 253ZM1213 218L1233 211L1233 231L1213 238ZM835 386L855 379L855 399L835 406ZM889 366L904 361L904 375L889 381ZM943 346L961 339L961 357L943 363ZM1159 265L1181 257L1181 279L1159 287ZM1186 255L1204 249L1204 266L1186 273ZM808 423L828 416L828 436L808 444ZM862 403L880 397L880 414L862 421ZM1078 323L1093 317L1093 332L1078 337ZM1105 313L1120 307L1120 322L1105 327ZM1213 272L1231 266L1231 283L1213 290ZM808 450L826 444L826 461L808 468ZM1132 329L1154 321L1154 343L1132 351ZM835 467L855 460L855 480L835 487ZM916 437L938 429L938 451L916 459ZM1024 397L1042 390L1042 408L1024 414ZM1051 387L1071 379L1071 399L1051 407Z" fill="#bdbdbd" stroke="#8a8a8a" stroke-width="0.7"/>
<path d="M997 191L1012 185L1012 200L997 206ZM1024 181L1042 174L1042 192L1024 198ZM1051 171L1073 163L1073 184L1051 192ZM1078 161L1093 155L1093 170L1078 175ZM1186 120L1208 112L1208 134L1186 142ZM889 258L909 251L909 271L889 278ZM1051 198L1069 191L1069 209L1051 215ZM1213 137L1231 131L1231 148L1213 155ZM1186 174L1204 168L1204 185L1186 192ZM808 342L830 334L830 356L808 364ZM862 322L884 314L884 336L862 344ZM889 312L904 307L904 321L889 327ZM916 302L934 295L934 313L916 320ZM1024 262L1044 254L1044 274L1024 282ZM862 349L884 341L884 363L862 371ZM997 326L1012 320L1012 335L997 341ZM1051 306L1066 300L1066 315L1051 321ZM997 353L1019 345L1019 366L997 374ZM1132 302L1152 295L1152 315L1132 323ZM835 440L853 434L853 451L835 458ZM1024 370L1039 364L1039 379L1024 385ZM1051 360L1066 354L1066 369L1051 375ZM808 477L823 472L823 487L808 492ZM997 407L1017 399L1017 419L997 427ZM1078 377L1093 371L1093 386L1078 391ZM1132 356L1147 351L1147 366L1132 371Z" fill="#d8d8d8" stroke="#8a8a8a" stroke-width="0.7"/>
<path d="M835 251L853 245L853 262L835 269ZM889 231L904 226L904 240L889 246ZM1024 208L1042 201L1042 219L1024 225ZM1159 157L1179 150L1179 170L1159 178ZM916 275L934 268L934 286L916 293ZM970 255L990 247L990 268L970 275ZM1024 235L1042 228L1042 246L1024 252ZM1051 252L1073 244L1073 265L1051 273ZM1159 211L1181 203L1181 225L1159 233ZM916 329L934 322L934 340L916 347ZM1051 279L1071 271L1071 291L1051 299ZM1078 269L1098 261L1098 281L1078 289ZM970 336L992 328L992 349L970 357ZM835 413L855 406L855 426L835 433ZM889 393L911 385L911 407L889 415ZM1024 343L1044 335L1044 355L1024 363ZM1186 282L1204 276L1204 293L1186 300ZM997 380L1015 373L1015 391L997 397ZM1078 350L1096 343L1096 361L1078 367ZM889 447L907 441L907 458L889 465ZM943 427L963 419L963 440L943 447ZM1159 346L1179 339L1179 359L1159 367ZM1186 336L1208 328L1208 350L1186 358Z" fill="#b2b2b2" stroke="#8a8a8a" stroke-width="0.7"/>
<path d="M813 265L824 261L824 271L813 275ZM839 254L848 251L848 259L839 263ZM1082 163L1089 160L1089 168L1082 170ZM1191 124L1202 120L1202 130L1191 134ZM894 261L904 257L904 268L894 271ZM1028 210L1037 207L1037 216L1028 219ZM1083 191L1093 187L1093 197L1083 201ZM1109 180L1116 177L1116 184L1109 187ZM1164 161L1174 157L1174 167L1164 171ZM1217 140L1226 137L1226 145L1217 149ZM893 288L902 285L902 293L893 297ZM948 268L959 264L959 275L948 279ZM975 258L985 254L985 264L975 268ZM1163 187L1170 184L1170 191L1163 194ZM1190 177L1199 174L1199 183L1190 186ZM867 326L878 322L878 332L867 336ZM920 305L929 301L929 310L920 314ZM1029 265L1039 261L1039 271L1029 275ZM1164 215L1175 211L1175 222L1164 226ZM920 332L929 328L929 337L920 341ZM1056 282L1066 278L1066 288L1056 292ZM1083 272L1093 268L1093 278L1083 282ZM840 389L850 386L850 396L840 400ZM893 368L900 366L900 373L893 376ZM947 349L956 345L956 354L947 357ZM1028 318L1037 315L1037 324L1028 327ZM1055 308L1062 305L1062 313L1055 315ZM1082 298L1089 295L1089 303L1082 305ZM1137 279L1147 275L1147 285L1137 289ZM1002 356L1013 352L1013 363L1002 367ZM1109 315L1116 312L1116 319L1109 322ZM1137 306L1147 302L1147 312L1137 316ZM1190 285L1199 282L1199 291L1190 294ZM920 413L929 409L929 418L920 422ZM1082 352L1091 349L1091 358L1082 361ZM1137 333L1148 329L1148 340L1137 344ZM812 480L819 477L819 484L812 487ZM921 440L932 436L932 447L921 451ZM1218 330L1229 326L1229 336L1218 340Z" fill="#a2a2a2"/>
<path d="M897 264L891 260L891 275L897 278ZM1005 223L995 217L995 239L1005 245ZM1032 213L1022 207L1022 222L1032 228ZM1059 203L1051 198L1051 220L1059 225ZM1086 193L1078 188L1078 203L1086 208ZM1113 183L1105 178L1105 198L1113 203ZM1167 163L1161 159L1161 179L1167 183ZM1194 153L1186 148L1186 165L1194 170ZM1248 133L1242 129L1242 149L1248 153ZM843 311L837 307L837 324L843 328ZM870 301L864 297L864 318L870 322ZM924 281L918 277L918 298L924 302ZM951 270L945 267L945 284L951 288ZM978 260L968 254L968 276L978 282ZM1005 250L995 244L995 264L1005 271ZM1032 240L1024 235L1024 253L1032 258ZM1086 220L1078 215L1078 235L1086 240ZM1113 210L1103 204L1103 221L1113 228ZM1194 180L1184 173L1184 191L1194 197ZM951 297L941 291L941 309L951 315ZM978 287L970 282L970 304L978 309ZM1005 277L999 273L999 291L1005 295ZM1032 267L1024 262L1024 280L1032 285ZM1059 257L1051 252L1051 270L1059 275ZM1086 247L1078 242L1078 262L1086 267ZM1113 237L1105 232L1105 247L1113 252ZM1167 217L1157 211L1157 232L1167 238ZM1194 207L1186 202L1186 217L1194 222ZM1221 197L1213 192L1213 212L1221 217ZM843 365L835 360L835 380L843 385ZM870 355L862 350L862 370L870 375ZM924 335L918 331L918 348L924 352ZM978 314L972 311L972 332L978 336ZM1005 304L999 300L999 318L1005 322ZM1032 294L1026 290L1026 311L1032 314ZM1059 284L1053 280L1053 301L1059 304ZM1086 274L1078 269L1078 284L1086 289ZM1194 234L1184 227L1184 242L1194 249ZM1248 214L1240 209L1240 229L1248 234ZM843 392L833 385L833 406L843 412ZM870 382L860 375L860 390L870 396ZM897 372L891 368L891 388L897 392ZM924 362L914 355L914 370L924 376ZM951 351L943 346L943 368L951 373ZM1005 331L997 326L997 344L1005 349ZM1032 321L1026 317L1026 338L1032 341ZM1086 301L1080 297L1080 315L1086 319ZM1113 291L1105 286L1105 301L1113 306ZM1140 281L1130 275L1130 292L1140 298ZM843 419L833 412L833 433L843 439ZM870 409L862 404L862 425L870 430ZM951 378L941 372L941 394L951 400ZM1005 358L997 353L997 368L1005 373ZM1059 338L1051 333L1051 351L1059 356ZM1113 318L1103 312L1103 329L1113 336ZM1167 298L1161 294L1161 312L1167 315ZM1194 288L1188 284L1188 302L1194 305ZM1221 278L1213 273L1213 287L1221 293ZM1248 268L1242 264L1242 284L1248 288ZM843 446L835 441L835 455L843 461ZM870 436L864 432L864 453L870 457ZM897 426L889 421L889 441L897 446ZM924 416L914 409L914 424L924 430ZM951 405L941 399L941 414L951 420ZM978 395L972 392L972 413L978 417ZM1005 385L995 379L995 394L1005 400ZM1059 365L1051 360L1051 380L1059 385ZM1140 335L1132 330L1132 345L1140 350ZM1167 325L1159 320L1159 340L1167 345ZM1248 295L1242 291L1242 308L1248 312ZM843 473L837 469L837 484L843 488ZM870 463L862 458L862 479L870 484ZM897 453L887 446L887 464L897 470ZM924 443L916 437L916 459L924 464ZM951 432L941 426L941 448L951 454ZM978 422L970 417L970 432L978 437ZM1032 402L1026 398L1026 420L1032 424ZM1059 392L1051 387L1051 405L1059 410ZM1086 382L1076 376L1076 393L1086 400ZM1113 372L1103 366L1103 383L1113 390ZM1221 332L1213 327L1213 347L1221 352ZM1248 322L1242 318L1242 339L1248 343ZM870 490L860 483L860 498L870 504ZM897 480L887 473L887 493L897 500ZM924 470L914 463L914 483L924 490ZM951 459L945 456L945 473L951 477ZM978 449L970 444L970 462L978 467ZM1005 439L999 435L999 450L1005 454ZM1059 419L1049 413L1049 428L1059 434ZM1086 409L1080 405L1080 426L1086 429ZM1113 399L1105 394L1105 411L1113 417ZM1140 389L1130 383L1130 404L1140 411ZM1167 379L1157 373L1157 394L1167 400ZM1248 349L1238 342L1238 363L1248 369Z" fill="#999999"/>
<path d="M897 264L911 258L906 254L891 260ZM1005 223L1026 215L1017 209L995 217ZM1032 213L1046 208L1037 201L1022 207ZM1059 203L1080 195L1072 190L1051 198ZM1086 193L1100 188L1093 182L1078 188ZM1113 183L1133 175L1125 170L1105 178ZM1167 163L1187 155L1181 152L1161 159ZM1194 153L1211 146L1203 141L1186 148ZM1248 133L1268 125L1262 121L1242 129ZM843 311L860 304L854 300L837 307ZM870 301L891 293L885 289L864 297ZM924 281L945 272L939 269L918 277ZM951 270L968 264L962 260L945 267ZM978 260L999 252L990 246L968 254ZM1005 250L1025 243L1015 236L995 244ZM1032 240L1049 234L1041 229L1024 235ZM1086 220L1106 213L1098 207L1078 215ZM1113 210L1130 203L1121 197L1103 204ZM1194 180L1211 173L1202 167L1184 173ZM951 297L968 291L959 285L941 291ZM978 287L999 279L991 274L970 282ZM1005 277L1022 271L1016 267L999 273ZM1032 267L1049 261L1041 256L1024 262ZM1059 257L1076 251L1068 246L1051 252ZM1086 247L1106 240L1098 234L1078 242ZM1113 237L1127 231L1120 226L1105 232ZM1167 217L1188 209L1179 202L1157 211ZM1194 207L1208 201L1201 196L1186 202ZM1221 197L1241 189L1233 184L1213 192ZM843 365L863 357L855 352L835 360ZM870 355L890 347L882 342L862 350ZM924 335L941 328L935 324L918 331ZM978 314L999 306L993 302L972 311ZM1005 304L1022 298L1016 294L999 300ZM1032 294L1052 287L1046 283L1026 290ZM1059 284L1079 277L1073 273L1053 280ZM1086 274L1100 269L1093 263L1078 269ZM1194 234L1208 228L1199 222L1184 227ZM1248 214L1268 206L1260 201L1240 209ZM843 392L863 384L853 378L833 385ZM870 382L884 376L875 370L860 375ZM897 372L917 364L911 360L891 368ZM924 362L938 356L929 350L914 355ZM951 351L972 343L964 338L943 346ZM1005 331L1022 325L1014 320L997 326ZM1032 321L1052 314L1046 310L1026 317ZM1086 301L1103 295L1097 291L1080 297ZM1113 291L1127 285L1120 280L1105 286ZM1140 281L1157 274L1148 268L1130 275ZM843 419L863 411L853 405L833 412ZM870 409L891 401L883 396L862 404ZM951 378L972 370L963 364L941 372ZM1005 358L1019 353L1012 348L997 353ZM1059 338L1076 332L1068 327L1051 333ZM1113 318L1130 311L1121 305L1103 312ZM1167 298L1184 291L1178 288L1161 294ZM1194 288L1211 281L1205 277L1188 284ZM1221 278L1235 272L1228 267L1213 273ZM1248 268L1268 260L1262 256L1242 264ZM843 446L857 440L850 435L835 441ZM870 436L891 428L885 424L864 432ZM897 426L917 418L909 413L889 421ZM924 416L938 410L929 404L914 409ZM951 405L965 400L956 394L941 399ZM978 395L999 387L993 383L972 392ZM1005 385L1019 380L1010 373L995 379ZM1059 365L1079 358L1071 353L1051 360ZM1140 335L1154 329L1147 324L1132 330ZM1167 325L1187 317L1179 312L1159 320ZM1248 295L1265 288L1259 284L1242 291ZM843 473L857 467L852 463L837 469ZM870 463L891 455L883 450L862 458ZM897 453L914 446L905 440L887 446ZM924 443L945 434L937 429L916 437ZM951 432L972 424L963 418L941 426ZM978 422L992 417L985 412L970 417ZM1032 402L1053 394L1047 390L1026 398ZM1059 392L1076 386L1068 381L1051 387ZM1086 382L1103 376L1094 369L1076 376ZM1113 372L1130 365L1121 359L1103 366ZM1221 332L1241 324L1233 319L1213 327ZM1248 322L1269 314L1263 310L1242 318ZM870 490L884 484L875 478L860 483ZM897 480L917 472L907 466L887 473ZM924 470L944 462L934 456L914 463ZM951 459L968 453L962 449L945 456ZM978 449L995 443L987 438L970 444ZM1005 439L1019 434L1014 430L999 435ZM1059 419L1073 414L1064 407L1049 413ZM1086 409L1106 402L1100 398L1080 405ZM1113 399L1130 392L1122 387L1105 394ZM1140 389L1161 381L1152 375L1130 383ZM1167 379L1188 371L1179 364L1157 373ZM1248 349L1268 341L1258 335L1238 342Z" fill="#e6e6e6"/>
<path d="M1005 223L1026 215L1026 237L1005 245ZM1032 213L1046 208L1046 223L1032 228ZM1167 163L1187 155L1187 176L1167 183ZM843 311L860 304L860 322L843 328ZM1032 240L1049 234L1049 251L1032 258ZM1194 180L1211 173L1211 191L1194 197ZM1005 277L1022 271L1022 288L1005 295ZM843 365L863 357L863 377L843 385ZM1005 304L1022 298L1022 315L1005 322ZM1086 274L1100 269L1100 283L1086 289ZM870 382L884 376L884 391L870 396ZM1113 291L1127 285L1127 300L1113 306ZM870 409L891 401L891 422L870 430ZM897 426L917 418L917 438L897 446ZM870 463L891 455L891 476L870 484ZM1113 372L1130 365L1130 383L1113 390ZM1221 332L1241 324L1241 344L1221 352ZM951 459L968 453L968 470L951 477Z" fill="#cdcdcd" stroke="#8a8a8a" stroke-width="0.7"/>
<path d="M1059 203L1080 195L1080 217L1059 225ZM1248 133L1268 125L1268 145L1248 153ZM870 301L891 293L891 314L870 322ZM924 281L945 272L945 294L924 302ZM1005 250L1025 243L1025 263L1005 271ZM951 297L968 291L968 308L951 315ZM978 287L999 279L999 301L978 309ZM1059 257L1076 251L1076 268L1059 275ZM1086 247L1106 240L1106 260L1086 267ZM1194 207L1208 201L1208 216L1194 222ZM1032 294L1052 287L1052 307L1032 314ZM843 392L863 384L863 404L843 412ZM951 351L972 343L972 365L951 373ZM1005 331L1022 325L1022 342L1005 349ZM1059 338L1076 332L1076 349L1059 356ZM1167 298L1184 291L1184 309L1167 315ZM1248 268L1268 260L1268 280L1248 288ZM843 446L857 440L857 455L843 461ZM1005 385L1019 380L1019 395L1005 400ZM1248 295L1265 288L1265 306L1248 312ZM843 473L857 467L857 482L843 488ZM897 453L914 446L914 464L897 470ZM1086 382L1103 376L1103 393L1086 400ZM897 480L917 472L917 492L897 500ZM1005 439L1019 434L1019 449L1005 454Z" fill="#bdbdbd" stroke="#8a8a8a" stroke-width="0.7"/>
<path d="M1113 183L1133 175L1133 196L1113 203ZM951 270L968 264L968 281L951 288ZM978 260L999 252L999 274L978 282ZM1086 220L1106 213L1106 233L1086 240ZM1113 210L1130 203L1130 221L1113 228ZM1113 237L1127 231L1127 246L1113 252ZM1221 197L1241 189L1241 209L1221 217ZM870 355L890 347L890 367L870 375ZM924 335L941 328L941 346L924 352ZM978 314L999 306L999 328L978 336ZM924 362L938 356L938 371L924 376ZM951 378L972 370L972 392L951 400ZM1005 358L1019 353L1019 368L1005 373ZM1113 318L1130 311L1130 329L1113 336ZM1194 288L1211 281L1211 299L1194 305ZM870 436L891 428L891 449L870 457ZM978 395L999 387L999 409L978 417ZM1140 335L1154 329L1154 344L1140 350ZM924 443L945 434L945 456L924 464ZM951 432L972 424L972 446L951 454ZM978 422L992 417L992 432L978 437ZM1032 402L1053 394L1053 416L1032 424ZM1059 392L1076 386L1076 403L1059 410ZM870 490L884 484L884 499L870 504ZM924 470L944 462L944 482L924 490ZM1086 409L1106 402L1106 422L1086 429Z" fill="#d8d8d8" stroke="#8a8a8a" stroke-width="0.7"/>
<path d="M897 264L911 258L911 273L897 278ZM1086 193L1100 188L1100 202L1086 208ZM1194 153L1211 146L1211 164L1194 170ZM1032 267L1049 261L1049 278L1032 285ZM1167 217L1188 209L1188 230L1167 238ZM1059 284L1079 277L1079 297L1059 304ZM1194 234L1208 228L1208 243L1194 249ZM1248 214L1268 206L1268 226L1248 234ZM897 372L917 364L917 384L897 392ZM1032 321L1052 314L1052 334L1032 341ZM1086 301L1103 295L1103 312L1086 319ZM1140 281L1157 274L1157 292L1140 298ZM843 419L863 411L863 431L843 439ZM1221 278L1235 272L1235 287L1221 293ZM924 416L938 410L938 425L924 430ZM951 405L965 400L965 415L951 420ZM1059 365L1079 358L1079 378L1059 385ZM1167 325L1187 317L1187 338L1167 345ZM1248 322L1269 314L1269 335L1248 343ZM978 449L995 443L995 460L978 467ZM1059 419L1073 414L1073 428L1059 434ZM1113 399L1130 392L1130 410L1113 417ZM1140 389L1161 381L1161 402L1140 411ZM1167 379L1188 371L1188 392L1167 400ZM1248 349L1268 341L1268 361L1248 369Z" fill="#b2b2b2" stroke="#8a8a8a" stroke-width="0.7"/>
<path d="M900 266L908 263L908 271L900 273ZM1035 216L1043 213L1043 220L1035 223ZM1198 156L1207 152L1207 161L1198 164ZM983 291L994 287L994 298L983 302ZM1116 239L1124 237L1124 244L1116 247ZM1172 220L1183 216L1183 227L1172 231ZM1226 200L1236 196L1236 206L1226 210ZM848 368L858 364L858 374L848 378ZM1064 287L1074 284L1074 294L1064 297ZM1089 276L1097 274L1097 281L1089 284ZM1197 236L1205 233L1205 241L1197 244ZM1253 217L1263 213L1263 223L1253 227ZM956 355L967 351L967 362L956 366ZM1009 334L1018 331L1018 340L1009 343ZM1037 324L1047 321L1047 331L1037 335ZM1090 304L1099 301L1099 309L1090 313ZM1116 293L1124 291L1124 298L1116 301ZM1198 291L1207 287L1207 296L1198 299ZM1224 280L1232 277L1232 285L1224 287ZM846 448L854 445L854 453L846 455ZM875 439L886 435L886 446L875 450ZM902 429L912 425L912 435L902 439ZM954 408L962 405L962 412L954 415ZM1172 328L1182 324L1182 334L1172 338ZM846 475L854 472L854 480L846 482ZM875 466L886 462L886 473L875 477ZM981 425L989 422L989 429L981 432ZM873 492L881 489L881 497L873 499ZM902 483L912 479L912 489L902 493ZM929 473L939 469L939 479L929 483ZM1062 421L1070 419L1070 426L1062 429ZM1091 412L1101 408L1101 419L1091 422Z" fill="#a2a2a2"/>
<path d="M877 279L867 273L867 293L877 299ZM904 269L894 263L894 283L904 289ZM931 259L921 253L921 270L931 277ZM958 249L948 243L948 257L958 264ZM985 239L979 235L979 253L985 256ZM1012 229L1006 225L1006 243L1012 246ZM1039 219L1029 212L1029 227L1039 234ZM1066 209L1060 205L1060 226L1066 230ZM1174 168L1168 165L1168 186L1174 190ZM1255 138L1247 133L1247 153L1255 158ZM850 316L844 312L844 334L850 338ZM877 306L871 302L871 317L877 321ZM904 296L898 292L898 314L904 318ZM931 286L921 280L921 297L931 304ZM958 276L948 270L948 284L958 291ZM985 266L977 261L977 281L985 286ZM1012 256L1004 251L1004 272L1012 277ZM1039 246L1029 239L1029 254L1039 261ZM1066 236L1058 231L1058 251L1066 256ZM1093 226L1083 219L1083 234L1093 240ZM1120 216L1110 209L1110 227L1120 233ZM1147 205L1139 200L1139 215L1147 220ZM1174 195L1168 192L1168 206L1174 210ZM1201 185L1195 181L1195 196L1201 200ZM850 343L844 339L844 354L850 358ZM904 323L898 319L898 341L904 345ZM958 303L950 298L950 318L958 323ZM985 293L975 287L975 304L985 310ZM1012 283L1002 276L1002 298L1012 304ZM1039 273L1031 268L1031 285L1039 290ZM1066 263L1058 258L1058 279L1066 284ZM1093 253L1083 246L1083 261L1093 267ZM1201 212L1191 206L1191 228L1201 234ZM1228 202L1222 198L1222 213L1228 217ZM1255 192L1245 186L1245 203L1255 210ZM850 370L840 364L840 384L850 390ZM877 360L869 355L869 373L877 378ZM904 350L898 346L898 368L904 372ZM931 340L921 334L921 351L931 358ZM958 330L952 326L952 344L958 347ZM985 320L979 316L979 331L985 335ZM1039 300L1031 295L1031 315L1039 320ZM1066 290L1058 285L1058 302L1066 307ZM1093 280L1085 274L1085 296L1093 301ZM1120 270L1110 263L1110 283L1120 290ZM1147 259L1137 253L1137 268L1147 274ZM1174 249L1166 244L1166 262L1174 267ZM1228 229L1222 225L1222 240L1228 244ZM850 397L842 392L842 410L850 415ZM877 387L869 382L869 402L877 407ZM904 377L896 372L896 390L904 395ZM931 367L921 361L921 376L931 382ZM1066 317L1058 312L1058 329L1066 334ZM1120 297L1114 293L1114 313L1120 317ZM1147 286L1139 281L1139 296L1147 301ZM1174 276L1166 271L1166 293L1174 298ZM1201 266L1193 261L1193 276L1201 281ZM1228 256L1222 252L1222 270L1228 274ZM850 424L840 418L840 435L850 442ZM877 414L871 410L871 432L877 436ZM904 404L896 399L896 421L904 426ZM931 394L925 390L925 408L931 412ZM958 384L952 380L952 398L958 401ZM985 374L975 368L975 382L985 389ZM1039 354L1029 347L1029 368L1039 374ZM1066 344L1056 337L1056 355L1066 361ZM1093 334L1085 328L1085 350L1093 355ZM1120 324L1112 318L1112 339L1120 344ZM1147 313L1139 308L1139 326L1147 331ZM1174 303L1164 297L1164 312L1174 318ZM1201 293L1191 287L1191 309L1201 315ZM1228 283L1220 278L1220 293L1228 298ZM850 451L842 446L842 461L850 466ZM904 431L898 427L898 448L904 451ZM958 411L950 406L950 426L958 431ZM985 401L977 396L977 416L985 421ZM1012 391L1002 384L1002 399L1012 406ZM1039 381L1033 377L1033 399L1039 402ZM1066 371L1058 366L1058 387L1066 392ZM1120 351L1112 345L1112 366L1120 371ZM1174 330L1168 327L1168 347L1174 351ZM1255 300L1249 296L1249 318L1255 322ZM850 478L840 472L840 487L850 493ZM931 448L921 442L921 459L931 466ZM958 438L952 434L952 452L958 455ZM985 428L977 423L977 443L985 448ZM1012 418L1006 414L1006 436L1012 439ZM1039 408L1033 404L1033 421L1039 425ZM1066 398L1060 394L1060 414L1066 418ZM1093 388L1087 384L1087 399L1093 402ZM1174 357L1166 352L1166 374L1174 379ZM1201 347L1193 342L1193 360L1201 365ZM1228 337L1218 331L1218 352L1228 359ZM1255 327L1249 323L1249 341L1255 345ZM850 505L840 499L840 516L850 523ZM877 495L869 490L869 508L877 513ZM904 485L896 480L896 502L904 507ZM931 475L925 471L925 486L931 490ZM958 465L950 460L950 475L958 480ZM985 455L979 451L979 473L985 476ZM1012 445L1006 441L1006 461L1012 465ZM1039 435L1029 428L1029 446L1039 452ZM1120 405L1114 401L1114 422L1120 426ZM1147 394L1139 389L1139 411L1147 416ZM1174 384L1164 378L1164 398L1174 405ZM1201 374L1195 370L1195 391L1201 395ZM1228 364L1218 358L1218 378L1228 384Z" fill="#999999"/>
<path d="M877 279L897 272L888 265L867 273ZM904 269L924 262L915 255L894 263ZM931 259L949 252L939 246L921 253ZM958 249L973 243L963 237L948 243ZM985 239L1003 232L997 229L979 235ZM1012 229L1030 222L1024 218L1006 225ZM1039 219L1054 213L1044 207L1029 212ZM1066 209L1088 201L1082 197L1060 205ZM1174 168L1196 160L1190 156L1168 165ZM1255 138L1275 131L1268 126L1247 133ZM850 316L872 308L866 304L844 312ZM877 306L892 301L886 297L871 302ZM904 296L926 288L920 284L898 292ZM931 286L949 279L939 273L921 280ZM958 276L973 270L963 264L948 270ZM985 266L1005 258L998 253L977 261ZM1012 256L1034 248L1026 243L1004 251ZM1039 246L1054 240L1044 234L1029 239ZM1066 236L1086 228L1079 223L1058 231ZM1093 226L1108 220L1098 214L1083 219ZM1120 216L1138 209L1128 203L1110 209ZM1147 205L1162 200L1154 195L1139 200ZM1174 195L1189 190L1183 186L1168 192ZM1201 185L1216 180L1210 176L1195 181ZM850 343L865 338L859 334L844 339ZM904 323L926 315L920 311L898 319ZM958 303L978 295L971 290L950 298ZM985 293L1003 286L993 280L975 287ZM1012 283L1034 275L1024 268L1002 276ZM1039 273L1057 266L1049 261L1031 268ZM1066 263L1088 255L1080 250L1058 258ZM1093 253L1108 247L1098 241L1083 246ZM1201 212L1223 204L1213 198L1191 206ZM1228 202L1243 197L1237 193L1222 198ZM1255 192L1273 186L1263 179L1245 186ZM850 370L870 363L861 356L840 364ZM877 360L895 354L887 349L869 355ZM904 350L926 342L920 338L898 346ZM931 340L949 333L939 327L921 334ZM958 330L976 323L970 320L952 326ZM985 320L1000 314L994 311L979 316ZM1039 300L1059 292L1052 287L1031 295ZM1066 290L1084 283L1076 278L1058 285ZM1093 280L1115 272L1107 266L1085 274ZM1120 270L1140 262L1131 256L1110 263ZM1147 259L1162 254L1152 248L1137 253ZM1174 249L1192 243L1184 238L1166 244ZM1228 229L1243 224L1237 220L1222 225ZM850 397L868 391L860 386L842 392ZM877 387L897 380L890 375L869 382ZM904 377L922 371L914 365L896 372ZM931 367L946 361L936 355L921 361ZM1066 317L1084 310L1076 305L1058 312ZM1120 297L1140 289L1135 285L1114 293ZM1147 286L1162 281L1154 276L1139 281ZM1174 276L1196 268L1188 263L1166 271ZM1201 266L1216 261L1208 256L1193 261ZM1228 256L1246 250L1240 246L1222 252ZM850 424L868 418L858 411L840 418ZM877 414L899 406L893 402L871 410ZM904 404L926 396L918 391L896 399ZM931 394L949 387L943 384L925 390ZM958 384L976 377L970 374L952 380ZM985 374L1000 368L990 362L975 368ZM1039 354L1059 346L1050 340L1029 347ZM1066 344L1084 337L1074 331L1056 337ZM1093 334L1115 326L1107 320L1085 328ZM1120 324L1140 316L1133 311L1112 318ZM1147 313L1165 307L1157 302L1139 308ZM1174 303L1189 298L1179 291L1164 297ZM1201 293L1223 285L1213 279L1191 287ZM1228 283L1243 278L1235 273L1220 278ZM850 451L865 446L857 441L842 446ZM904 431L924 424L919 420L898 427ZM958 411L978 403L971 398L950 406ZM985 401L1005 393L998 388L977 396ZM1012 391L1027 385L1017 379L1002 384ZM1039 381L1061 373L1055 369L1033 377ZM1066 371L1088 363L1080 358L1058 366ZM1120 351L1140 343L1133 338L1112 345ZM1174 330L1194 323L1189 319L1168 327ZM1255 300L1277 292L1271 288L1249 296ZM850 478L865 473L855 466L840 472ZM931 448L949 441L939 435L921 442ZM958 438L976 431L970 428L952 434ZM985 428L1005 420L998 415L977 423ZM1012 418L1034 410L1028 406L1006 414ZM1039 408L1057 401L1051 397L1033 404ZM1066 398L1086 390L1081 386L1060 394ZM1093 388L1108 382L1102 378L1087 384ZM1174 357L1196 349L1188 344L1166 352ZM1201 347L1219 341L1211 336L1193 342ZM1228 337L1250 329L1240 323L1218 331ZM1255 327L1273 321L1267 317L1249 323ZM850 505L868 499L858 492L840 499ZM877 495L895 489L887 484L869 490ZM904 485L926 477L918 472L896 480ZM931 475L946 469L940 466L925 471ZM958 465L973 459L965 454L950 460ZM985 455L1007 447L1001 443L979 451ZM1012 445L1032 437L1027 433L1006 441ZM1039 435L1057 428L1047 422L1029 428ZM1120 405L1142 396L1136 393L1114 401ZM1147 394L1169 386L1161 381L1139 389ZM1174 384L1194 377L1185 370L1164 378ZM1201 374L1221 367L1216 363L1195 370ZM1228 364L1248 357L1239 350L1218 358Z" fill="#e6e6e6"/>
<path d="M904 269L924 262L924 282L904 289ZM958 276L973 270L973 285L958 291ZM1012 256L1034 248L1034 269L1012 277ZM1147 205L1162 200L1162 215L1147 220ZM1066 263L1088 255L1088 276L1066 284ZM1228 202L1243 197L1243 212L1228 217ZM931 340L949 333L949 351L931 358ZM1093 280L1115 272L1115 293L1093 301ZM1066 317L1084 310L1084 328L1066 334ZM958 384L976 377L976 395L958 401ZM1039 354L1059 346L1059 366L1039 374ZM1093 334L1115 326L1115 347L1093 355ZM1228 283L1243 278L1243 293L1228 298ZM904 431L924 424L924 444L904 451ZM985 401L1005 393L1005 414L985 421ZM1012 391L1027 385L1027 400L1012 406ZM1039 408L1057 401L1057 419L1039 425ZM1120 405L1142 396L1142 418L1120 426ZM1147 394L1169 386L1169 408L1147 416ZM1201 374L1221 367L1221 387L1201 395ZM1228 364L1248 357L1248 377L1228 384Z" fill="#cdcdcd" stroke="#8a8a8a" stroke-width="0.7"/>
<path d="M958 249L973 243L973 258L958 264ZM1039 219L1054 213L1054 228L1039 234ZM850 316L872 308L872 330L850 338ZM904 296L926 288L926 310L904 318ZM931 286L949 279L949 297L931 304ZM985 266L1005 258L1005 279L985 286ZM1039 246L1054 240L1054 255L1039 261ZM1093 226L1108 220L1108 235L1093 240ZM1120 216L1138 209L1138 227L1120 233ZM850 343L865 338L865 353L850 358ZM985 293L1003 286L1003 304L985 310ZM1255 192L1273 186L1273 203L1255 210ZM1120 270L1140 262L1140 282L1120 290ZM850 397L868 391L868 408L850 415ZM904 377L922 371L922 388L904 395ZM1120 297L1140 289L1140 309L1120 317ZM1228 256L1246 250L1246 267L1228 274ZM877 414L899 406L899 428L877 436ZM904 404L926 396L926 418L904 426ZM1147 313L1165 307L1165 324L1147 331ZM958 411L978 403L978 424L958 431ZM1255 300L1277 292L1277 314L1255 322ZM1012 418L1034 410L1034 431L1012 439ZM1201 347L1219 341L1219 358L1201 365ZM1228 337L1250 329L1250 351L1228 359ZM1255 327L1273 321L1273 338L1255 345ZM850 505L868 499L868 516L850 523ZM904 485L926 477L926 499L904 507ZM931 475L946 469L946 484L931 490ZM1174 384L1194 377L1194 397L1174 405Z" fill="#bdbdbd" stroke="#8a8a8a" stroke-width="0.7"/>
<path d="M985 239L1003 232L1003 250L985 256ZM1066 209L1088 201L1088 222L1066 230ZM1174 168L1196 160L1196 182L1174 190ZM1255 138L1275 131L1275 151L1255 158ZM877 306L892 301L892 315L877 321ZM1066 236L1086 228L1086 248L1066 256ZM1174 195L1189 190L1189 205L1174 210ZM1201 185L1216 180L1216 195L1201 200ZM1012 283L1034 275L1034 296L1012 304ZM850 370L870 363L870 383L850 390ZM877 360L895 354L895 371L877 378ZM904 350L926 342L926 364L904 372ZM1066 290L1084 283L1084 301L1066 307ZM1147 259L1162 254L1162 269L1147 274ZM931 367L946 361L946 376L931 382ZM1174 276L1196 268L1196 290L1174 298ZM850 424L868 418L868 435L850 442ZM931 394L949 387L949 405L931 412ZM985 374L1000 368L1000 383L985 389ZM1066 344L1084 337L1084 355L1066 361ZM1120 324L1140 316L1140 336L1120 344ZM1174 303L1189 298L1189 313L1174 318ZM1201 293L1223 285L1223 307L1201 315ZM1039 381L1061 373L1061 394L1039 402ZM1120 351L1140 343L1140 363L1120 371ZM1174 330L1194 323L1194 343L1174 351ZM850 478L865 473L865 488L850 493ZM958 438L976 431L976 449L958 455ZM1174 357L1196 349L1196 371L1174 379ZM877 495L895 489L895 506L877 513ZM958 465L973 459L973 474L958 480ZM985 455L1007 447L1007 468L985 476Z" fill="#d8d8d8" stroke="#8a8a8a" stroke-width="0.7"/>
<path d="M877 279L897 272L897 292L877 299ZM931 259L949 252L949 270L931 277ZM1012 229L1030 222L1030 240L1012 246ZM904 323L926 315L926 337L904 345ZM958 303L978 295L978 316L958 323ZM1039 273L1057 266L1057 284L1039 290ZM1093 253L1108 247L1108 262L1093 267ZM1201 212L1223 204L1223 226L1201 234ZM958 330L976 323L976 341L958 347ZM985 320L1000 314L1000 329L985 335ZM1039 300L1059 292L1059 312L1039 320ZM1174 249L1192 243L1192 260L1174 267ZM1228 229L1243 224L1243 239L1228 244ZM877 387L897 380L897 400L877 407ZM1147 286L1162 281L1162 296L1147 301ZM1201 266L1216 261L1216 276L1201 281ZM850 451L865 446L865 461L850 466ZM1066 371L1088 363L1088 384L1066 392ZM931 448L949 441L949 459L931 466ZM985 428L1005 420L1005 441L985 448ZM1066 398L1086 390L1086 410L1066 418ZM1093 388L1108 382L1108 397L1093 402ZM1012 445L1032 437L1032 457L1012 465ZM1039 435L1057 428L1057 446L1039 452Z" fill="#b2b2b2" stroke="#8a8a8a" stroke-width="0.7"/>
<path d="M909 272L919 268L919 279L909 282ZM1043 221L1050 218L1050 226L1043 228ZM1071 212L1082 208L1082 219L1071 223ZM855 320L866 316L866 326L855 330ZM935 289L944 285L944 294L935 298ZM962 278L969 275L969 283L962 286ZM990 269L1000 265L1000 275L990 279ZM1017 259L1028 255L1028 266L1017 270ZM1043 248L1050 245L1050 253L1043 255ZM1124 218L1133 215L1133 224L1124 227ZM909 326L920 322L920 333L909 337ZM989 296L998 292L998 301L989 304ZM1071 266L1082 262L1082 273L1071 277ZM1259 195L1268 192L1268 200L1259 204ZM881 363L890 360L890 368L881 372ZM935 343L944 339L944 348L935 352ZM1070 292L1079 289L1079 298L1070 301ZM1125 273L1135 269L1135 279L1125 283ZM1232 232L1239 229L1239 236L1232 239ZM935 369L942 367L942 374L935 377ZM1070 319L1079 316L1079 325L1070 328ZM1232 259L1241 256L1241 264L1232 268ZM854 427L863 424L863 432L854 436ZM909 407L920 403L920 414L909 418ZM935 397L944 393L944 402L935 406ZM1070 346L1079 343L1079 352L1070 355ZM1125 327L1135 323L1135 333L1125 337ZM1151 316L1160 313L1160 322L1151 325ZM1232 286L1239 283L1239 290L1232 293ZM909 434L919 430L919 441L909 444ZM1044 384L1055 380L1055 391L1044 395ZM1071 374L1082 370L1082 381L1071 385ZM854 481L861 478L861 485L854 488ZM990 431L1000 427L1000 437L990 441ZM1017 421L1028 417L1028 428L1017 432ZM1179 361L1190 357L1190 368L1179 372ZM1259 330L1268 327L1268 335L1259 339ZM909 488L920 484L920 495L909 499ZM935 477L942 475L942 482L935 485ZM990 458L1001 454L1001 465L990 469ZM1152 398L1163 394L1163 405L1152 409ZM1179 388L1189 384L1189 394L1179 398ZM1233 367L1243 364L1243 374L1233 378Z" fill="#a2a2a2"/>
</g>
<path d="M1072.7,321.8 L1087,315.2 L1087,398.2 L1072.7,404.9 Z" fill="#f0a830" fill-opacity="0.7"/>
<path d="M1015.1,283.1 L1030.6,276.5 L1087,315.2 L1072.7,321.8 Z" fill="#f2c050" fill-opacity="0.5"/>
<path d="M1015.1,283.1 L1072.7,321.8 L1072.7,404.9 L1015.1,366 Z" fill="#eebc40" fill-opacity="0.55"/>
<line x1="1072.7" y1="321.8" x2="1072.7" y2="404.9" stroke="#f07a10" stroke-width="2.4"/>
<line x1="989.7" y1="352.8" x2="1072.7" y2="321.8" stroke="#e0304a" stroke-width="1.4"/>
<line x1="1072.7" y1="321.8" x2="1072.7" y2="404.9" stroke="#e0304a" stroke-width="1.4"/>
<line x1="1072.7" y1="404.9" x2="989.7" y2="435.9" stroke="#e0304a" stroke-width="1.4"/>
<line x1="989.7" y1="435.9" x2="989.7" y2="352.8" stroke="#e0304a" stroke-width="1.4"/>
<line x1="989.7" y1="352.8" x2="931.0" y2="313.0" stroke="#e0304a" stroke-width="1.4"/>
<line x1="1072.7" y1="321.8" x2="1014.0" y2="282.0" stroke="#e0304a" stroke-width="1.4"/>
<line x1="931.0" y1="313.0" x2="1014.0" y2="282.0" stroke="#e0304a" stroke-width="1.4"/>
<line x1="1072.7" y1="404.9" x2="1014.0" y2="365.1" stroke="#e0304a" stroke-width="1.4"/>
<line x1="1014.0" y1="282.0" x2="1014.0" y2="365.1" stroke="#e0304a" stroke-width="1.4"/>
<line x1="989.7" y1="435.9" x2="931.0" y2="396.1" stroke="#e0304a" stroke-width="1.4"/>
<line x1="931.0" y1="313.0" x2="931.0" y2="396.1" stroke="#e0304a" stroke-width="1.4"/>
<line x1="931.0" y1="396.1" x2="1014.0" y2="365.1" stroke="#e0304a" stroke-width="1.4"/>
<line x1="1087.0" y1="315.2" x2="1170.1" y2="285.3" stroke="#e0304a" stroke-width="1.4"/>
<line x1="1170.1" y1="285.3" x2="1170.1" y2="366.1" stroke="#e0304a" stroke-width="1.4"/>
<line x1="1170.1" y1="366.1" x2="1087.0" y2="398.2" stroke="#e0304a" stroke-width="1.4"/>
<line x1="1087.0" y1="398.2" x2="1087.0" y2="315.2" stroke="#e0304a" stroke-width="1.4"/>
<line x1="1087.0" y1="315.2" x2="1029.4" y2="274.4" stroke="#e0304a" stroke-width="1.4"/>
<line x1="1170.1" y1="285.3" x2="1112.5" y2="244.5" stroke="#e0304a" stroke-width="1.4"/>
<line x1="1029.4" y1="274.4" x2="1112.5" y2="244.5" stroke="#e0304a" stroke-width="1.4"/>
<line x1="1170.1" y1="366.1" x2="1112.5" y2="325.3" stroke="#e0304a" stroke-width="1.4"/>
<line x1="1112.5" y1="244.5" x2="1112.5" y2="325.3" stroke="#e0304a" stroke-width="1.4"/>
<line x1="1087.0" y1="398.2" x2="1029.4" y2="357.4" stroke="#e0304a" stroke-width="1.4"/>
<line x1="1029.4" y1="274.4" x2="1029.4" y2="357.4" stroke="#e0304a" stroke-width="1.4"/>
<line x1="1029.4" y1="357.4" x2="1112.5" y2="325.3" stroke="#e0304a" stroke-width="1.4"/>
<rect x="1001.4" y="99.7" width="104.6" height="114.6" fill="none" stroke="#e8202a" stroke-width="3.2" stroke-dasharray="9 6"/>
<line x1="1001.4" y1="214.3" x2="931" y2="313" stroke="#e8202a" stroke-width="3.2" stroke-dasharray="9 6"/>
<line x1="1106" y1="214.3" x2="1168" y2="262" stroke="#e8202a" stroke-width="3.2" stroke-dasharray="9 6"/>
<text x="0" y="0" transform="translate(1033.2,448.5) skewY(-18) scale(0.82,1)" font-family="'Liberation Serif', serif" font-size="35" font-weight="bold" fill="#e8141e">T</text>
<text x="0" y="0" transform="translate(1076.5,428) skewY(0) scale(0.92,1)" font-family="'Liberation Serif', serif" font-size="31" font-weight="bold" fill="#000">O</text>
<text x="0" y="0" transform="translate(1123.2,413.1) skewY(-18) scale(0.8,1)" font-family="'Liberation Serif', serif" font-size="35" font-weight="bold" fill="#e8141e">T</text>
<text x="816.5" y="381.4" font-family="'Liberation Serif', serif" font-size="38" font-weight="normal" font-style="normal" text-anchor="start" fill="#000" >glide</text>
<line x1="1259.8" y1="368.3" x2="1259.8" y2="331.6" stroke="#333" stroke-width="1.8"/>
<path d="M1259.8,318.6 L1265.8,331.6 L1253.8,331.6 Z" fill="#333"/>
<line x1="1259.8" y1="368.3" x2="1228.8" y2="381.9" stroke="#333" stroke-width="1.8"/>
<path d="M1216.9,387.1 L1226.4,376.4 L1231.2,387.4 Z" fill="#333"/>
<line x1="1259.8" y1="368.3" x2="1281.3" y2="384.6" stroke="#333" stroke-width="1.8"/>
<path d="M1291.6,392.5 L1277.6,389.4 L1284.9,379.9 Z" fill="#333"/>
<text x="1228" y="320" font-family="'Liberation Serif', serif" font-size="30" font-weight="bold" font-style="italic" text-anchor="start" fill="#000" >y</text>
<text x="1205" y="409" font-family="'Liberation Serif', serif" font-size="30" font-weight="bold" font-style="italic" text-anchor="start" fill="#000" >z</text>
<text x="1281" y="415" font-family="'Liberation Serif', serif" font-size="30" font-weight="bold" font-style="italic" text-anchor="start" fill="#000" >x</text>
<text x="80" y="126.5" font-family="'Liberation Serif', serif" font-size="34" font-weight="normal" font-style="normal" text-anchor="start" fill="#000" >air layer (O)</text>
<line x1="323" y1="114.5" x2="280.0" y2="114.0" stroke="#4a7cc8" stroke-width="4.2"/>
<path d="M264.0,113.8 L280.1,107.0 L279.9,121.0 Z" fill="#4a7cc8"/>
<text x="283" y="100.5" font-family="'Liberation Serif', serif" font-size="30" font-weight="bold">t<tspan font-style="italic" font-size="24" dy="3">x</tspan></text>
<circle cx="307.5" cy="81" r="1.6" fill="#000"/>
<g transform="translate(328,78) rotate(-18)"><text x="0" y="-9" font-family="'Liberation Serif', serif" font-size="28" font-style="italic" text-anchor="middle">a</text><line x1="-8" y1="-1" x2="8" y2="-1" stroke="#000" stroke-width="1.6"/><text x="0" y="22" font-family="'Liberation Serif', serif" font-size="26" text-anchor="middle">2</text></g>
<line x1="296.4" y1="136.3" x2="309.6" y2="131.8" stroke="#000" stroke-width="2.4"/>
<path d="M320.0,128.3 L311.2,136.6 L308.0,127.1 Z" fill="#000"/>
<line x1="362.9" y1="108.4" x2="351.3" y2="112.7" stroke="#000" stroke-width="2.4"/>
<path d="M341.0,116.5 L349.6,108.0 L353.1,117.4 Z" fill="#000"/>
<line x1="319" y1="120.3" x2="325.7" y2="134" stroke="#000" stroke-width="1.3"/>
<line x1="331" y1="107" x2="339" y2="125" stroke="#000" stroke-width="1.3"/>
<text x="0" y="0" transform="translate(304,249) rotate(-20)" font-family="'Liberation Serif', serif" font-size="33">8<tspan font-style="italic">a</tspan>+<tspan font-style="italic">t</tspan><tspan font-style="italic" font-size="24" dy="5">x</tspan></text>
<g transform="translate(390,211) rotate(-18)"><text x="0" y="-8" font-family="'Liberation Serif', serif" font-size="28" font-style="italic" text-anchor="middle">a</text><line x1="-8" y1="-1" x2="8" y2="-1" stroke="#000" stroke-width="1.6"/><text x="2" y="22" font-family="'Liberation Serif', serif" font-size="26" text-anchor="middle">2</text></g>
<line x1="421.8" y1="186.3" x2="582.0" y2="123.9" stroke="#000" stroke-width="2.4"/>
<path d="M596.0,118.5 L584.2,129.5 L579.8,118.3 Z" fill="#000"/>
<line x1="265" y1="248.5" x2="74.5" y2="322.6" stroke="#000" stroke-width="2.4"/>
<path d="M60.5,328.0 L72.3,317.0 L76.7,328.2 Z" fill="#000"/>
<line x1="598.4" y1="103.3" x2="607.7" y2="121.9" stroke="#000" stroke-width="1.3"/>
<line x1="49.4" y1="319.6" x2="59" y2="338.7" stroke="#000" stroke-width="1.3"/>
<line x1="601.5" y1="33" x2="617" y2="26.9" stroke="#000" stroke-width="1.3"/>
<line x1="623.2" y1="84.7" x2="639.7" y2="77.5" stroke="#000" stroke-width="1.3"/>
<line x1="622" y1="56" x2="617.9" y2="46.7" stroke="#000" stroke-width="2.4"/>
<path d="M613.9,37.5 L622.5,44.7 L613.3,48.7 Z" fill="#000"/>
<line x1="622" y1="56" x2="626.2" y2="64.9" stroke="#000" stroke-width="2.4"/>
<path d="M630.4,74.0 L621.6,67.1 L630.7,62.8 Z" fill="#000"/>
<g transform="translate(650,38) rotate(-18)"><text x="0" y="-6" font-family="'Liberation Serif', serif" font-size="27" text-anchor="middle">√2<tspan font-style="italic">a</tspan></text><line x1="-9" y1="-27.5" x2="5" y2="-27.5" stroke="#000" stroke-width="1.3"/><line x1="-18" y1="1" x2="18" y2="1" stroke="#000" stroke-width="1.6"/><text x="0" y="26" font-family="'Liberation Serif', serif" font-size="26" text-anchor="middle">2</text></g>
<text x="15" y="41" font-family="'Liberation Sans', sans-serif" font-size="42" font-weight="bold" font-style="normal" text-anchor="start" fill="#000" >A</text>
<text x="701" y="41" font-family="'Liberation Sans', sans-serif" font-size="42" font-weight="bold" font-style="normal" text-anchor="start" fill="#000" >B</text>
<text x="15.5" y="495" font-family="'Liberation Sans', sans-serif" font-size="42" font-weight="bold" font-style="normal" text-anchor="start" fill="#000" >C</text>
<text x="701" y="495" font-family="'Liberation Sans', sans-serif" font-size="42" font-weight="bold" font-style="normal" text-anchor="start" fill="#000" >D</text>
<text x="17.5" y="1000" font-family="'Liberation Sans', sans-serif" font-size="42" font-weight="bold" font-style="normal" text-anchor="start" fill="#000" >E</text>
<text x="701" y="1000" font-family="'Liberation Sans', sans-serif" font-size="42" font-weight="bold" font-style="normal" text-anchor="start" fill="#000" >F</text></svg>
</body></html>
